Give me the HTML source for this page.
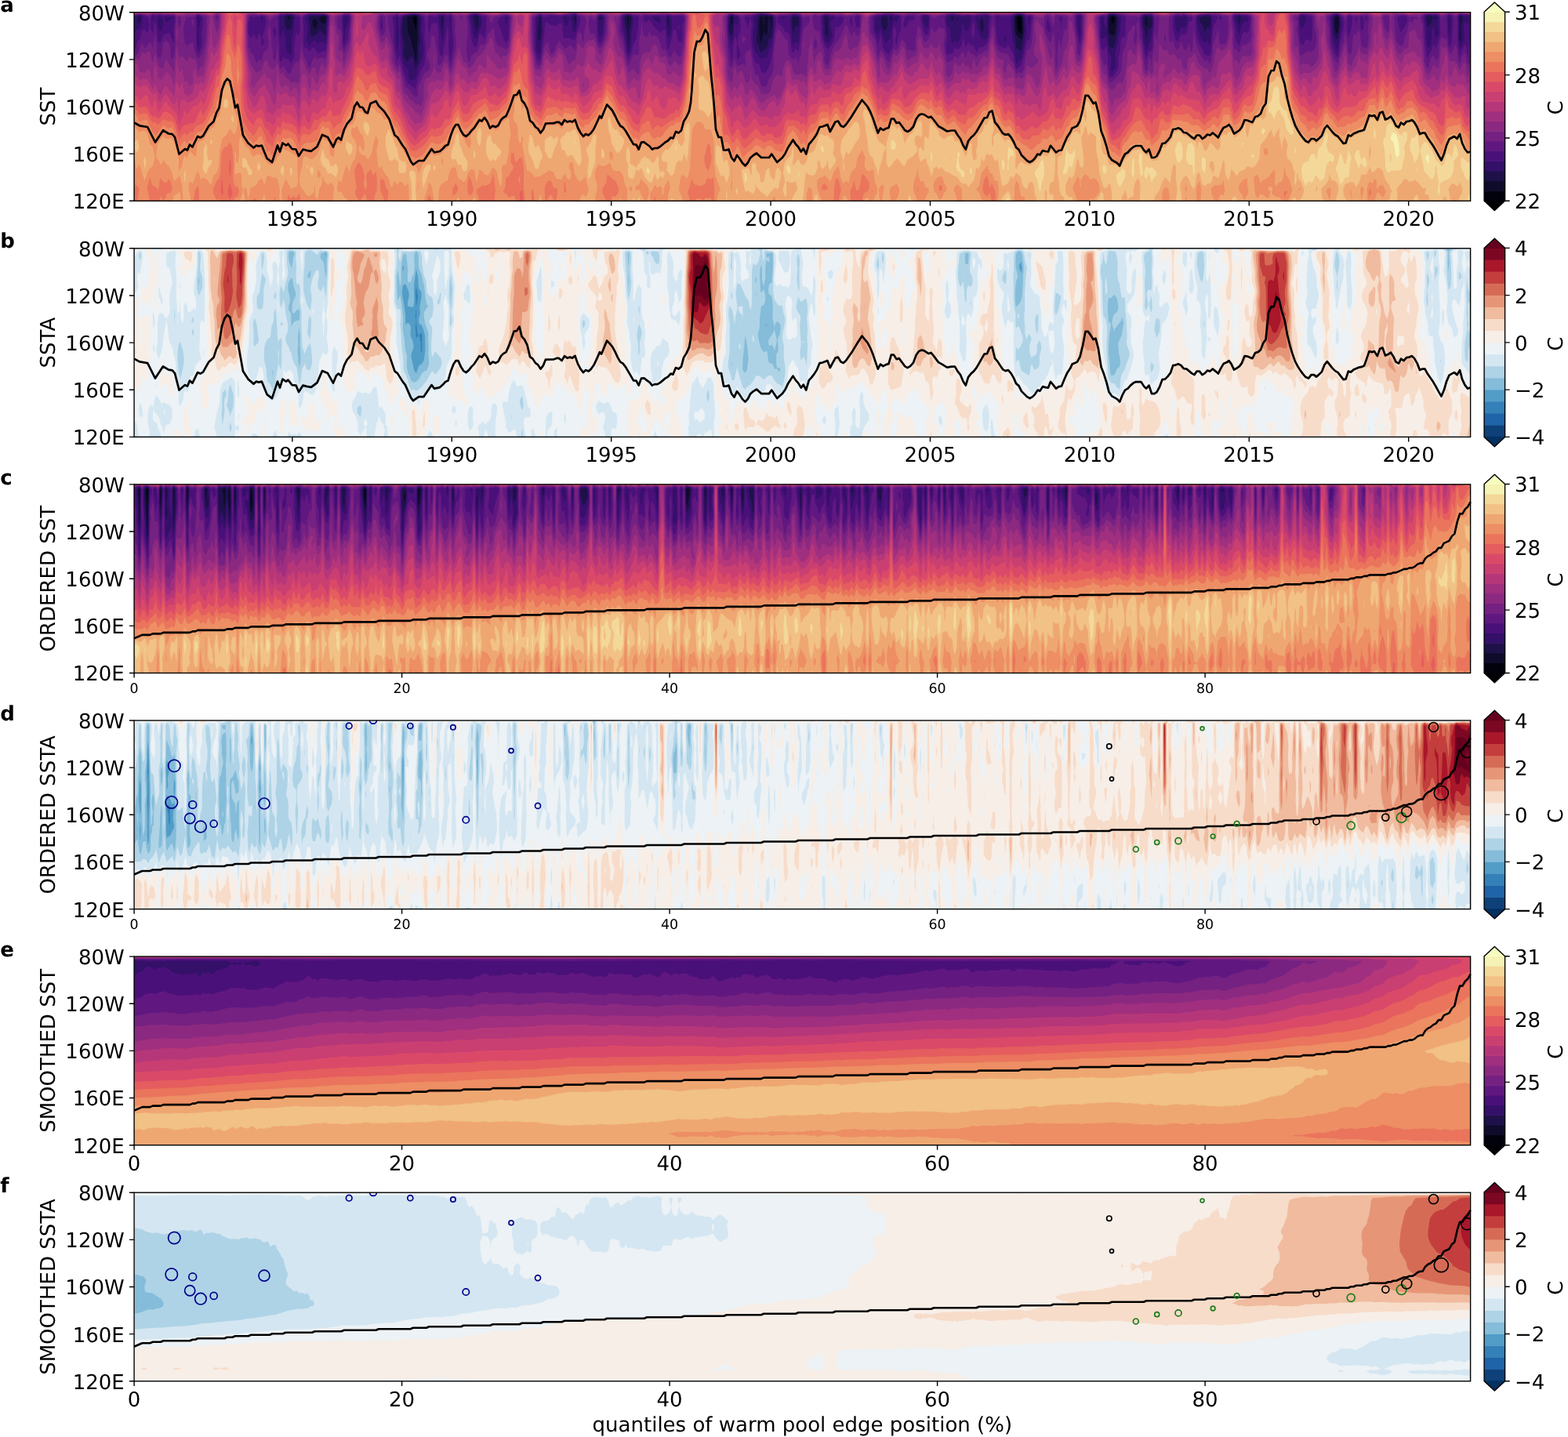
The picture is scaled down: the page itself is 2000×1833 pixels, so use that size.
<!DOCTYPE html><html><head><meta charset="utf-8"><title>Warm pool edge figure</title>
<style>html,body{margin:0;padding:0;background:#fff}svg{display:block}</style></head><body>
<svg width="2000" height="1833" viewBox="0 0 2000 1833">
<rect width="2000" height="1833" fill="#fff"/>
<rect x="171.10" y="15.70" width="1704.50" height="240.60" fill="#02020d"/>
<g transform="translate(171.10 15.70) scale(0.338867 0.300750)" fill-rule="evenodd" shape-rendering="geometricPrecision">
<path fill="#0e0b2b" d="M0 0h5030v800h-5030zM1060 18l-10 2-2 10 2 3 7 27 3 17 3-47v-10zM3330 18l-6 2-1 10 2 30 1 10 4 12 10 10 1-12 1-10-2-47-1-3zM3687 20l-7-1-1 1-1 10 2 19 7-9 3-6v-7zM4530 28l-1 12 1 8z"/>
<path fill="#1e1149" d="M0 0h5030v800h-5030zM586 20l-6-1-2 1 1 10 1 5 3-5zM680 27l-6 3-3 10 1 10 2 10 6 10 6-10 4-10 1-10-6-10zM699 20l-3 10 6 10 8 7h10l2-27-2-2-10-1zM1060 13l-10 2-10 1-12 4-1 10 2 20v20l1 10 2 10 11 30 5 30 6 20 6 41 2-11 1-10 1-30 2-40v-50l2-40v-10zM1290 19l-1 1 1 7 1-7zM1860 18l-3 2v10l3 25 3-25v-10zM2250 18l-3 2-1 10 4 28 2-28v-10zM2380 17l-8 3v30l-2 10-1-10-1-20-1-10-7-3-4 3-1 10-2 60 2 20 5 20 5-20 5-28 10 17 4-19v-30-10l5-20zM2400 19l-8 1 5 20 3 27 1-37v-10zM2820 29v1 2-2zM3330 13l-10 3-4 4v30l1 20 3 22 5 8 15 17 4-17 2-20-2-60-4-5zM3680 14l-10 4-1 2-1 40 2 27 10 10 10 1 4-28 2-20 1-20-1-10-6-5zM3810 19l-2 1-2 10 1 20 3 16 3-16v-20l-1-10zM4530 16l-9 4-2 10v10l1 34 2 6 8 8 4-28v-20l-1-20z"/>
<path fill="#341069" d="M0 0h5030v800h-5030zM20 17l-7 3v10l1 10 6 8 4-18v-10zM580 13l-14 7v10l4 32 4 8 6 7 10-5 3-12 2-20 5-20-10-6zM656 20l2 10 2 10 2 10 1 20v20l3 10 4 2 18-12 12-14 12 14 8 11 2-41 4-40-6-7-10-1-20 5-20-1-10 2zM1060 10l-20 1-26 9-4 21-3 29 1 20 2 18 4 12 2 10 1 10-2 20-1 10 1 10 2 10 3 10 10 7 4-7 6-15 6 5 4 2 7 38 3 9 9-29 2-10 1-10-2-20v-20l5-20 1-10-3-40 3-50-1-10-12-10zM1160 18l-4 2v10l4 53 3-53-1-10zM1290 12l-10 5-5 3 6 20 2 20 3 10 4 7 5-17 2-10 1-20v-10zM1530 19l-4 1-1 10-5 57v33l10-7 2-33-1-60zM1660 14l-6 6 6 42 4-42zM1750 20v11l10 2v-13zM1860 13l-15 7 11 70 4 56 3-26 1-30v-10l6-30 2-20v-10zM2010 19l-2 1-1 10 3 39 2-9 1-20-1-20zM2250 13l-10 7-1 40 1 24 10 21 2-15 3-40 2-20v-10zM2380 11l-10 3-10-4-13 10-1 10v30l-4 50v10l2 10 6 9 10 33 9-12 1-3 10-2 4-15 3-20 3-10 10 1 2-11 3-50v-30l-5-5h-10zM2480 17l-3 3-1 10 1 20 3 42 5-22 5-11 10 1 2-20-1-10-1-10-10-1zM2600 18l-2 2 2 40v31l5 9 5 7 2-7 1-10-1-70-2-1zM2820 16l-7 4-1 10 2 20 6 25 10 1 4-16 1-10 1-20-1-10zM2850 18l-5 2 1 10 3 10 1 2 3-22zM3080 17l-8 3 2 10 6 9 6-9 1-10zM3100 20h-2l-1 10 3 9 2-9-1-10zM3190 25l-4 5-2 10v10l2 20 4 17 5-7 3-10v-10l-1-20-3-10zM3210 20h-2l2 8 1-8zM3330 9l-7 1-3 1-9 9v40l9 89 10 10 10 3 11-82v-10l-2-50-9-10zM3690 10h-14l-6 2-4 8-2 60 6 64 10 9 10-9 1-4 10-60 2-20 2-30-2-10zM3810 14l-10 4-2 2-1 10 1 20 9 40 3 28 2-18 8-32 10-2 2-26v-10l-1-10-1-2-10 1zM4050 18l-20-1-10 2-10 1v16l3 4 7 12 10 32 10-22 10 5 2-37v-10zM4160 18l-6 2v10l6 24 5-24v-10zM4400 20h-2l2 3v-3zM4530 11l-10 3-7 6-1 10 2 40 2 20 4 17 5 3 5 6 7-46 2-20-1-20-1-10zM4870 15l-7 5 1 10 6 31 10-13 10-28-10-4zM4890 20l10 12 3-12-3-2zM4990 15l-2 5 1 40-1 40 2 26 3-6 3-10v-10l-2-30v-10l1-10 5-20 1-10z"/>
<path fill="#4a1079" d="M0 0h5030v800h-5030v-696l4-24 6-10 10 4 7-24 5-30-2-1-10-8-18 9-2 6zM70 17l-2 3 2 17 4-17zM90 19l-2 1 2 41 4 9 6 8 4-8 3-10 2-10v-10l-2-10-5-10zM118 40l2 2 10-5 10-8 10-6v-3l-30-1-3 1-2 10zM240 15l-4 5 2 30 1 30-1 50 2 19 3-9 2-10v-10l-3-20v-20l2-20 4-20 2-10-1-10zM460 62l-1 8 1 5 1-5zM480 18l-3 2v10l3 15 5-15-1-10zM580 9l-8 1-12 6-10-2-4 6 2 30v40l2 16 5-16 5-20 2 10 11 30-1 10-2 10v21l3 9 5 10 9 10 3 5 1-5 2-10v-60l7-32 3-38 3-20-6-6-7-4zM721 10l-11-1-15 1-5 1-20-1-10 1-15 9v10l5 13 4 17v10l-1 10-4 30v10l5 10 6 9 10-14 10-7 3 2 5 10 2 8 4-8 6-7 10 1 10 12 4-36 2-40 4-40zM800 15l-10 1-3 4-1 20 3 40 1 42 2-12 2-30 2-10 4-11 8-29 1-10zM990 17l-6 3 2 20 1 20-2 60 2 30 3 16 2-6 2-20 2-50v-10l-3-30v-30zM1060 8l-31 2-19 7-4 3-4 50v20l3 50 1 30 2 20 2 13 10 29 9 8 3 10v10l1 10 3 10 4 9 10-4 10-2 8-43 8-20 4-15 6-15 3-20 1-20-5-40-3-30v-10l2-40-1-10-14-10zM1160 11l-10 6-4 3v10l5 30 5 50 4 22 6-42 2-40 2-20v-10zM1190 18l-4 2 3 50 1 18 1-18 1-50zM1290 9l-12 1-8 5-5 5 8 40 4 30 3 21 10-2 4-19 6-19 1-1 5-10 2-10v-20l-1-10-7-4-6-6zM1400 19l-3 1-1 20 1 10 3 7 5-27 3-10zM1530 12l-10 5-4 3-2 20-1 100 1 10 1 10 5 17 10-10 6-67 1-30-1-50zM1570 19l-5 1 5 3 6-3zM1590 19l-7 1 7 4 2-4zM1620 15l-7 5 5 20 2 18 10-4 8-24 2-10zM1660 9l-6 1-4 4-10 6 3 10 4 10 2 10 1 20 2 10 8 7 6-27 1-10 1-30-6-10zM1760 14h-10l-4 6 1 50 3 32 10-3 4-29 2-20 1-30zM1860 9l-6 1-4 1-10 6-2 3 2 26 3 24 8 40 5 50 4 17 6-17 3-20 2-20v-20l1-10 5-30 1-30v-10l-8-7-6-3zM1952 20l4 10 4 6 8 4 12 8 1-18-4-10-17-2zM2010 14l-9 6v10l6 60 3 20 4-10 6-10 2-10 1-20-2-40zM2250 10h-2l-8 4-3 6-1 40 1 20 3 31 10 26 6-37 2-40 2-17 7 7 3 5 3-15 1-10-1-10-3-2h-10l-8-8zM2400 11l-20-2h-10l-10-1-9 2-11 7-8 3-1 10 4 20v10l-5 14-1 16v20l1 25 10 38 10 8 4 9 6 9 10-7 10 2 10-38 10-14 6-52 3-50v-20zM2436 20l4 10 10-6 5-4-15-1zM2480 11l-9 9-1 9-3 1 3 12 6 78 4 23 7-13 3-8 10 10 4-42 3-30 1-20v-10l-2-10-6-6-10-1zM2600 13l-9 7 3 40v30l1 10 2 10 3 12 10 11 11-13 4-10 3-10v-10l-7-30-1-20 10-8 3-12-3-2-9 2-1 7v-7l-10-7zM2870 16l-10 3-10-8-10 3-20-3-10 5h-10l-10 4-2 40v10l2 9 10 17 10-31 10 43 5 12 5 14 3-4 7-15 8-5 1-10-1-10 2-6 1-14 9-39 10 13 6-14 3-10zM2980 15l-10 1-3 4 3 24 3 6 7 19 7-9 3-10 1-30-1-1zM3080 10l-20 6-3 4v10l3 28 10 8 1 4 2 10v30l1 10 4 10 2 4 10-15 10 11 5-10 5-15 8-55 2-9 3 19 3 10 4 8 10-5 4-13 8-40-12-4h-10l-10 3-10-1-10-3h-10zM3170 17l-5 3 2 10 4 20 3 20 4 10 2 1 5 19 5 14 10-1 10-2 2-11 1-10v-30l5-40-8-7-10 3-10-1-10 3zM3250 19l-2 1 2 17 4-17zM3280 97l-5 13-2 10 7 5 1-5 1-10zM3340 9l-10-1-14 2-6 6-10 4v30l5 40v20l1 10 4 9 3 21 7 68 6-8 14-14 9-46 4-30 6-40v-10l-3-30v-20l-6-4-5-6zM3370 17l-5 3v10l3 20 2 5 4-35zM3560 14l-10 4-1 2 2 40 9 52 2-22 2-70zM3680 8l-10 1-2 1-6 10-2 49-6-9-3-10-1-10 1-20-11-1-1 1v50l1 44 10-4 10-13 4 43 6 36 3 4 5 10 1 10-3 30 1 10 3 11 10-12 2-9 2-20-1-30v-10l8-30 4-30 6-30 2-30 2-20v-10l-5-2-12-8-8-2zM3810 10h-3l-7 3-7 7-1 10 1 20 5 30 2 42 10 46 6-18 4-14 3-6 7-22 1-18 4-30 1-20-1-20-5-8-10 1-7-3zM3960 18l-10-2-10 4v1-1l-10-3-10 1-2 2v20l2 25 4 15 6 13 4-13 6-18 10 4 10-5 2-11 1-20v-10zM4010 15l-9 5v10l1 20 2 20 12 40 4 11 10 10 2-1 8-10v-2l4 12 6 9 5-59 3-60-8-8h-20l-10 2zM4160 12l-10 3-10 5 2 10 8 23 10 45 3-18 7-28 10-13 10-1 3-8 1-10-4-2-20-1zM4400 13l-10 2-3 5 3 52 1-2 9-7 6-13 4-15 2-5 2-10-4-1zM4530 9l-12 1-13 10 5 80 4 20 16 44 7-64 3-17 3-13 2-10 1-10-3-20-3-10-7-10zM4900 10l-10 3-10-2-11-1-9 6-3 4 7 60 1 40 1 10 4 21 10-11 2-10 2-20-1-20 1-10 6-26 2 6 1 10 3 30 4 13 10-23v-20l-1-20 2-30zM4950 13l-4 7-1 10 2 40 3 35 5-35 2-30-1-20zM4990 10l-6 10 2 40-1 30v20l2 20 3 22 10-17 2-5 3-10 1-10v-10l-2-30v-10l2-10 4-13 7 13 3 6 5-26 1-10-6-6-10 3-17-7zM1190 120l-1 30 1 19 2-19v-10z"/>
<path fill="#601880" d="M0 0h5030v17l-8-7h-2-10l-20-2-5 2-4 10 1 40-1 30 1 40 6 50 2 12 4-22 4-10 5-10 7-16 5 16 5 42 2-12 1-30 5-40 1-10-3-30 1-10 3-18v758h-5030v-632l4-8 3-10 4-20 4-10 5-6 2-4 5-20 3-15h10l10 15 6-20 1-10-2-30-4-10-21-7-4-3-6-1-7 1-13 6zM69 10l-7 10v40l1 10 7 21 6-41 4-16 3 16 7 75 10 4 5-19 5-14 10-3 6-3 4-3 4 3 4 10 2 10 10 24 1-14-1-38-1-2 2-20 3-30v-10l-4-6-30-1-10 3-10-4-10-1-10 6-9-7zM200 78v15l2-3zM240 10h-1l-7 10 2 30v90l2 20 4 16 10-18 3-8 2-10 1-20-3-30 5-30 1-30-1-10-16-10zM440 17l-4 3-6 26-1 24 1 20 10 23 7-13 3-10 10 29 10-29 8 10 1 10-1 20 2 13 10-13v-10l-6-10v-10l6-22 6-28 1-10-1-10-1-10-5-3-10-3-10 5-10-2-8 3-2 8-2-8zM530 64l-6 6-1 10 2 10 5 17 2-7 2-10v-10l-2-10zM550 9l-2 1-7 10 2 30-1 40 5 40v50l1 20 2 14 7-14 3-10 10 7 10 1 10 20 9-18 4-10 1-10-1-20v-10l3-40 4-23 10 14 2-11 2-20-1-50-3-3-10 1-7-8-23-2-20 2zM650 10l-10 6-4 4v10l2 40-1 50v10l3 20 10 3 10 14 10-16 10-1 3 10 7 14 10-3 10-7 10 5 3-19 5-50 5-80-3-5-4-5-6-1-10-1h-50zM800 10h-10l-8 10-1 10 1 20 3 40v30l1 10 4 19 7-19 7-20 3-30 3-14 4-46-4-8-6-2zM930 19l-1 1-1 30v10l2 16 4-6 2-10-4-30v-10zM989 10l-18 10 7 50v10l-1 30v10l3 30 3 20 7 35 10-23 10 56 10 36 6 16 4 10 10 11 10 7 4 2 6 5 4-25 6-26 10-31 10-15 2-8 2-10 3-70-4-30v-10l2-30v-10l-3-40-14-10-18-3-20 1-23 2-7 2-10 8v10-10l-9-10zM1110 17l-3 3-1 40v10l4 23 6-33 4-10 10-7 10 3 3 14 2 20 1 20v40l4 40 10 7 3-17 3-20 11-70 3-27 4 47-1 30v20l4 40 3 25 5-25 4-20 3-20v-30l-4-30v-70l-8-10-10 6-10-4-2-2-8-1-12 1-8 6-10 3-10-3zM1290 7l-10 1-13 2-9 10 7 40 2 40 2 10 7 30 4 7 10-1 4-16 2-20 4-18 10 5 10 15 2-12 3-30v-30l1-20-6-4-10-1-9-5zM1400 13l-21 7-6 10-3 10 1 10 3 10 6 15 6 25 3 10 5 10 6 9 10-19 1-50 3-40-4-5zM1667 10l-7-3-18 3-2 2-20-2-10 7h-10l-10-3h-10l-10-2-10 1-10 6h-10l-7-9-3-1-10 2-10 9-3 10-1 20 1 40v40 20l3 19 10 37 10-6 5-40 5-43 2-7 2-10 2-40 4-22 1 2 19 15 10 1 10 4 7-10 3-2 10-1 2 13 2 30 1 10 5 13 10-6 20 6 10 7 5-30 5-24 4-6 3-10 3-20-1-10-9-4zM1760 10h-11l-6 10-1 60 3 30 5 21 10-3 8-28 3-20 2-60-11-10zM1860 8l-19 2-8 10v40 10l2 10 5 11 4 19 8 60 8 30 12-30 8-38 2-2 8-18 6-42 2-30 2-9 1-11-11-5h-10l-6-5zM1920 16l-4 4 2 10 2 10 10 1 10-9 5 8 5 10 6 10 9 10 10 10 5 8 8-8 2-3 10-2 3 55 2 10 5 18 5-8 11-50 4-28 10 5 1 3 4 30 2 10 3 6 10-1 3-15 2-20-2-30 2-10 5-11 1-19-1-2-10-3-10-1-10 3-10 1-18-8h-2-2l-8 5-40-2-10 1-10 2-10-3zM2250 8l-11 2-6 10v40 20l5 60 2 13 2 7 3 30 2 10 3 5 3-15 1-40 6-48 4 8 4 10 1 10-1 50 2 21 10-11 2-10-1-10-1-10-5-10-3-10-1-10 2-20 2-10 6-20 2-10v-30-10l-3-10-10-6-10-1-3-3zM2360 6l-22 4-8 3-10 7-10-5-12 5 1 10 7 20 4 19 3-19 6-20 1-10 4 30v10l-2 30v20l3 40 5 35 10 34 10-4 3 5 3 10 4 23 10 5 10-7 10-23 4-8 6-32 5-48 5-51 7-39 1-10v-10l-2-10-6-3-7-7-23-3zM2430 15l-7 5-1 10 1 10 4 10 11 10 7 10 5 13 10 2 3 5 4 10 2 10 4 40 2 10 3 10 2 3 10-21 10 14 4-16 4-40 6-50 1-20-1-10-2-10-10-10-2-1h-20l-5 1-5 4h-30zM2560 19l-1 1 1 8 3-8zM2669 20l-9-2-20 1-10-7-10 2-7-4-13-1-3 1-13 10 4 70 3 20 5 20 4 13 5 7 5 10 20-31 3-9 2-10 3-30 2-16 10-1 10-8 8-15 3-10zM2700 20h-2l-4 10v10l6 22 3-12 1-10v-10l-3-10zM2720 15l-7 5 1 20 2 10 4 14h10l2-44-2-4zM2800 10l-21 10 2 20v30l2 10 3 10 8 20 3 10 2 10 1 24 2-24 8-32 4 22 2 20 2 10 12 21 10 9 4-10 6-11 5-19 2-10v-10l-1-30v-10l1-10 3-12 7 12 2 10v10l-4 30 1 10 4 9 2-9 2-10 1-20 3-10 2-2 4-8 2-10 1-10v-40l-7-6-9-4h-5l-6 1-2-1-8-2-30 1-10 2zM2940 20l-10-4-20-2-8 6-2 11-3 9-2 10 1 10 4 7 6-7 4-2 2-8 4-10 4-6 10 2 5-6zM2970 10l-9 10v10l3 20 6 28 5 12 5 10 10-11 2-9 3-20 1-40-6-7-10-3zM3040 20h-1l1 10 2-10zM3051 20v20l8 50 1 10-4 40 1 20 3 23 10-9 10 1 10-24 10 8 10-10 4-9 3-10 3-23 2 3 2 10 1 10 5 20 8-20 2-10v-10 10l2 10 8 11 4-1 6-3 3 13 3 10 4 9 6-9 4-13 10 2 20-14 8-35 3-40 6-40-13-10-4-1-20 1-10 2h-10l-10 5-20-6h-10l-10 3-10-2-8-2h-12l-10-2-20 2zM3250 13l-10 6-2 1 2 10 5 50 2 30 1 10 2 13 10 9 10 8 10 2 2-2 7-10 1-4 10 24 10 16 4 34 6 32 14-12 6-6 6-24 9-50 5-30 10-3 2-17 5-50 4-30-11-7-10 4-10-7-10-3h-10l-10 1-10 2-10 4-10 2-20 1-10-1zM3440 23l-3 7-3 20v10l2 10 4 13 9-3 1-2v-8l-1-10-6-20zM3470 65v5 2-2zM3479 20l5 10 3 10 3 28 3-38-1-10-2-1zM3560 9l-11 1-5 10 1 40 4 30 5 30 6 22 7-42 1-50 2-30-7-10zM3680 7h-10l-6 3-4 7-10-2h-10l-7 5 2 80 5 52 7 8 3 6 5-16 5-7 4 37 2 40 3 40 1 6 3 4 7 5 10-11 3-4 5-10 6-20 2-20v-20l1-10 3-8 2-12 2-40 3-10 3-5h10l2-25-1-30 2-20v-10l-3-3-21-7-19-3zM3830 9l-20-1-13 2-10 10-1 10 1 20 5 30 3 40 7 50 8 34 2-14 3-10 5-14 10-2 4-24 1-40 4-50v-20l-1-10-5-10zM3980 18l-10 1-10-7-10-2-10 4-10-3-10 1-9 8-3 30 1 10 1 3 4 27 6 27 10 7 10-30 10 2 10-2 6-24 4-31 10-1 2-8 1-10zM4010 10l-10 5-5 5 1 50 2 20 2 12 7 28 3 8 10 16 10 26 10 2 10 3 3-15 3-40 4-48 3-22 3-10 4-5 10-25-10-7-10 2-5-5-5-1zM4081 20l6 10 3 9 2-9 1-10-3-2zM4190 12l-10-1h-10l-3-1-7-1-14 1-6 3-4 7 2 20 2 15 4 15 1 10v30l2 10 3 7 10 13 5-20 5-26 10-12 10 7 5-9 5-27 3-33-3-3zM4400 9l-11 1-6 10 2 70 3 30 2 14 10 4 10-22 10 1 10 6 4-23 1-30-1-50-4-4-10-2-11-4zM4530 7l-10 1-11 2-11 10 3 20 2 20 3 60 4 25 10 32 2 3 8 11 6-31 4-35 12-55 1-10 1-10-3-20-3-10-8-6-3-4zM4570 15l-3 5-2 40 1 20 4 28 12-38 2-10 2-40-6-3zM4600 19l-4 1v10l4 19 2-9 1-10v-10zM4620 17l-5 3v10l1 30 4 19 7-9 1-10 1-30-2-10zM4640 17l-7 3-1 10 8 7 3-17zM4710 20v11l2-1v-10zM4780 15h-10l-17 5 5 20 4 30 4 10 4 4 1-4 6-10 7-10 4-10 3-10 1-10v-10l-2-2zM4909 10l-9-1h-10l-20-1-11 2-8 10 5 40 2 60 2 22 5 38 5 19 1-9 3-10 10-20 3-10 3-17 10 23 7-26 3-8 3-12 3-20v-10l-1-30v-30l-5-9zM4950 9l-3 1-6 10v10l2 60 4 40 3 19 6-9 4-10 1-10 1-30 2-30 1-30-1-10-9-10zM1570 130v13l1-3zM3160 37l3 13 1 10-1 30-3 23-6-13-2-10v-10l2-20 2-10zM2050 57l3 3-1 10-2 2-4-2 1-10zM3290 68l1 12-1 7-1-7v-10z"/>
<path fill="#752181" d="M0 0h5030v10l-10-2h-10l-20-2-8 4-2 4-10 4-7-8-13-3-8 3-2 3-10 2-8 5-1 10v20l-1 4-1-34-5-10-4-2-10-1-10 1-20-1-10 1-8 2-10 10 1 10 7 23 1 47 4 50 2 40 1 20 2 10 10 19 4-9 6-34 10-14 10 21 4-3 6-8 3-52 7-37 8 7 2 3h10l4 27 6 33 10-1 2-2 3-10 5-22 8 12 2 4 2 36 1 10 7 20 6-20 4-19 2-1 8-9 2 19 8 35 10-14v589h-5030v-613l8-7 8-10 9-30 5-11 10 24 10-13 7-10 3-7 7 17 3 15 6-45 4-16 3 26 4 50 3 23h10l5-23 3-30 2-12 10-9 10 10 6 21 1 10v20l1 10 2 9 10-8 5-61-1-50 4-50v-10l-6-10-2-1-40 1-20-2-10 1-10-1-7 2-3 5-10-1-12-4-18-2-16 2-4 2zM170 18l-4 2-2 10v10l2 10 4 15 3-5 3-10 1-10-1-10-2-10zM240 8l-6 2-4 6-10 4-10-1h-10l-3 1-4 10-5 20-1 10-1 20 1 20 4 30 6 10 3 2 1-2 16-10 3-6 7 36 3 7 3 13 7 18 13-18 5-10 4-10 5-20 3-24 2-36v-40l2-20-4-3-10-2-8-5zM310 13l-6 7 6 20 6-10 4-10zM484 10h-7l-7 3-10-2-10 1-10-2-10 6-2 4-2 50 4 76 7 14 3 14 10 5 2 11 8 22 4-2 6-12 1 2 9 9 5-29 4-10 11-13 4-7 3-10v-10l-4-30v-10l1-10 4-20 2-10v-10l-2-10-4-10-4-2-10-6zM550 8l-7 2-3 4-10 3-7 3-3 6-4 4-5 10-1 10 5 40 3 50 4 30v20l2 10 6 6 2-6 2-10 3-40 3-20 3 70 7 39 10-12 4 3 6 10 10 20 10-5 7-25 3-6 10-14 10-1 6-39 3-30 1-50-1-70-9-10h-10l-10-2-20-2-20 2zM730 10l-10-2-10-1h-50l-20 3-10 10 1 30-1 40 1 50 2 20 2 10 5 20 6 10 6 20 8 18 10-30 10-21 10 14 10-7 10-3 8 9 2 3 7-53 4-50 2-40 3-40zM810 9l-10-1h-10l-5 2-5 7-10-1-6 4-1 10 1 20 2 10 4 12 10 7 1 21v30l3 20 6 23 10-26 8-17 2-6 2-14 1-40 4-50-4-10zM930 11l-7 9-2 30 2 20 7 31 10-6 5-15 1-10-1-40 1-10-6-5zM1196 10l-6-2-10 1-20-2-30 3h-20l-10 8-10-8-30-4h-20l-36 4-4 3-2-3-8-2-16 2-4 2-10 1-7 7 6 50 14 70 5 50 3 20 2 10 7 15 3-5 7-12 10 51 6 21 4 26 5 4 5 2 7 8 6 10 9 10 8 12 3-2 4-10 3-41 10-20 6-19 4-10 10-8 3-2 7-5 1-5 2-10v-10l-3-10-4-10-3-10-1-10 2-10 4-10 6-10 2-10 2-30 2-13 10 2 2 11 3 30 5 22 2 18v30l1 10 7 7 4-7 6-10 5-10 4-10 1-8h10l3 28 7 31 5-11 2-10 6-30 7-30 2-20v-20l-1-10-3-20-1-10 2-30-1-20-2-10-6-5zM1230 18l-3 2 3 14 5-14zM1259 10l-8 10 4 30 1 20-2 40-3 40v10l2 20 3 20 4 12 6-12 4-17 2-3 18-12 5-8 3-10 2-8 10-7 10 3 3-8 3-10 4-22 4-8 7-10 7-10 2-6 6 16 4 40 10 22 10 3 20 13 10-16 4-42 2-40 3-40-9-10-10-1-8 1-35 10-5 10-2 9-10 3-2-12-1-10-17-10h-10l-20-4h-10zM1698 20l-8-5-10-2-6-3-4-1-10-3h-10l-10 2-20 1-8 1-2 1-10 1-6-2-34-1-8 1-2 1-10 1-1-2-9-3-10 2-6 1-4 4-10 5-1 1-1 40 2 40 1 50 2 10 6 30 3 20 3 10 5 7 10-5 3-12 7-50 6-20 4-9h10l4 29 3 10 3 6 10-8 10-28 6-10 4-11 11 21 9 13 10-3 10-10 10 6 10 16 10-73 10-1 2 2 3 10 2 20 3 7 2-7 1-10v-20l1-10 6-29 1-1 3-10-4-6zM1760 8h-10l-5 2-5 9-3 1-4 10-3 6-6-16-4-2-4 2-4 10-1 10v10l2 20 2 10 3 10 2 3 10-5 5 12 5 14 3 16 7 20 10-3 13-37 5-20 1-10v-40l2-20-11-10zM1827 20l-3 40 1 20 5 19 10 29 10 63 10 35 3-6 7-18 6-12 4-12 5 2 5 4 10-8 1-16-1-20 1-20 6-40 3-35 2 25 2 10 2 10 4 10 10 5 7-15 3-13 3 13 5 10 2 2 10-5 10 5 7 18 6 20 1 10 6 10 10-3 10 27 6 6 4 5 10-33 6 8 4 4 4 6 6 11 10-11 4-30 6-24 3-76 2-30-5-8-6-2h-14l-20 1-4-1-16-2-10 1h-10l-50 1-20-1-3 1-7 8-9-8h-21l-20-3-20 2-5 1-5 7zM2235 10l-5 10-1 10v30l3 40v40l6 70 2 19 10 8 9-37 1-8 4 18 6 18 10-4 7-4 3-3 5 3 5 10 3-10-1-10-3-20 1-13 3-7 7-7 10-4 5 41 3 20 7 30 2 10 3 7 10-3 5 26 5 19 10 9 10-4 7-24 4-10 5-10 4-5 2-5 5-20v-10-30-20l8-80 5-27 10 4 13 23 7 11 9 9 2 10 2 40 2 10 5 11 10 11 2-2 7-10 1-3 6 13 3 10 1 18 1-18 1-10 8-20 2-10v-30l1-20 7-49 10-12 10-10 3-19v-10l-3-2-10-1-6 3-4 8-2-8-9-10-9-2-20-1-10 2-41 1-9 6-10-4-2-2-8-2-40-3-36 5-4 2-7-2h-6l-7 2-10 6-10-4-8-4-12-1-10-2-10 1zM2730 10h-13l-7 4h-10l-20 4-10-4-10-2-10-1-10 1-3-2-7-1h-10l-10-1h-10l-12 2-8 7-10-2-10-4-7 9v10l3 20 4 24 8 6 2 2 6-2 4-2 2 32 2 10 2 10 4 7 6 23 2 10 1 10-1 20 2 13 4 7 6 6 4-6 2-10 5-30 6-20 10-20 3-10 10-7 4-13 6-12 15-38 5-10 5 10 4 10 6 20 5 14 5-14 5-10 10 20 10-4 3-26 4-50zM2770 20l-1 20 1 40 4 10 6 8 10 27 3 15 2 30 5 24 10-33 13 19 7 17 10 18 20-60 10 9 7-14 6-20 4-10 3-6 10 11 3 5 3 10 4 23 7-3 3-3 1 3 9 6 10-6 1-40 9-64 2 4 8 11 10 46 10 8 10-8 5-17 3-20 2-19 5 9 4 10 1 7 7-7 3-1 4-9 6-8 10 6 10 1 2 21v10l-2 16-3 14v10l3 18 5 32 5 24 20-11 10-19 10 13 20-33 6 16 4 13 6-23 4-9 7 9 3 6 10 2 10 14 10-13 10-6 10-10 10 1 7-34 5-20 2-10 2-30 4-18 6 18 2 10 1 10 1 30 2 10 2 10 6 19 10 11 10 2 10 4 10 1 10 26 10 12 5 25 5 20 10-6 10 5 5-9 3-10 2-8 10-71 10-3 8-28 3-20 2-60 5-30-8-7-6-3h-11l-3 1-2-1-18-4-10-1-40 6h-20l-20-2-7 1-3 2-10 3-7-5-13-2-40 1-8 1-2 1-5-1-15-1-20 1-30-2-10-1-20 1-7 2-3 4-10-1-10 2-10 4-4 1-6 7-3-7-7-2-7-8-3-1h-20l-7 1-3 3-10 3-7-6-3-1h-30l-4 1-6 4-10 1-6-5-14-2h-10l-10-1-50 2-11 1zM3440 13l-10 3-3 4-2 20v20l5 27 10 29 3 4 7 10 8-40 2-13 4 33 4 40 1 20-1 40 2 30 5-20v-10l-1-30 4-40 1-20 1-11 3 11 4 20 3 12 2-22 5-30 3-23 10-4 4-53-4-4-10 1-10-4h-20l-5 7-1 20-4 23-9-43zM3550 7l-7 3-6 10v10l2 20 9 80 2 42 4 8 6 6 4-36 7-40 1-20v-40l2-30-5-10-9-3zM3640 10l-13 10v10l4 70 9 93 3 7 7 26 8-6 2-3 6 53 4 25 10 3 22-28 13-20 2-10 1-40 2-19 4-21 6-8 3-12 4-20 3-28 6-12 4-4 10-24 7 8 1 10-5 30-1 10v10l2 10 6 7 3-17 3-20-1-10-2-20-1-10 2-10 6-16 4 66 2 10 4 12 4 28 6 54 6 36 4 11 4-11 1-10 3-30 2-11 1 1 5 10 4 30 2-40 5-30 2-20v-30l1-24 2 4 3 10 5 33 3-43 4-50 3-20-10-4h-10l-3-6-7-3h-20l-10 1-9 2-11 10-10-3h-10l-10-2-10 1-8-6-22-2-20-2h-20l-10 4zM3880 93l-2 7-1 10 1 10 2 5 2-5 1-10v-10zM3896 20l-1 10-1 70 1 10 5 21 10-12 5 21 3 10 2 3 10 7 10-35 3 5 7 25 7 5 3 5 10-35 6 30 4 9 2-9 3-20 1-40 1-10 3-16 4 46 2 10 6 20 12 30 11 20 5 6 10-1 4 5 6 14 8-44 2-10v-30l3-10 10-30 7-28 2 18 2 30 3 10 3 7 10-3 10-3 5-21 3-30 1-20-1-40-8-4-10 1-10-6-20-2h-10l-10-2-40 2-10 1-10 9-10-7-10 1-4-3-6-1-10-1-10 1-10-1-10 1-6 1-4 4-10 3zM4198 10l-8-1h-20l-10-1-20 1-3 1-6 10 1 20 5 40v40l3 31 10 7 10 15 10-34 10 2 20-16 4-15 1-10 1-10-1-30 2-40-7-9zM4433 10l-33-3-10 1-5 2-5 9h-10l-1 1 1 10 10 10-4 30v10l2 10 2 6 10 87 10-5 10-9 10-6 10 6 10-10 10-22 1-17-1-20-4-20-3-20-1-40-2-3zM4642 10h-6l-6 3-10-3-10 7-10-3-10 2-10-5-11-1-7 10-2 21-4-21-14-10-12-4h-10l-19 4-11 8-1 2 1 10 4 20 3 20 1 10-1 30 4 30 9 37 10 30 10 8 15-65 7-20 4-30 4-23 10 94 10 7 4-18 3-50 3-18 10 4 1-6 5-10 4-6 4 16 2 10 2 30 2 12 10 8 10 2 3-12 3-20 1-20-2-20v-20l6-40zM4710 13l-10 6-1 1 1 6 10 48 5 6 5 4 3-14 1-10v-40l-4-6zM4830 20l-20-2-10 1-10-6-9-3h-11l-20 1-7 9 2 30 4 60 1 8 10 20 10 5 8-13 2-10 3-20 7-12 10-51 10 8 10-19 10 6 1-2zM170 127v16l2-3zM2560 112l-2 18 2 29 8-9 2-5 1-5-1-14-2-6zM4600 129v1zM220 26l4 14 1 10-5 9-3-9-1-10zM2290 101l10 5 3 4-4 10-9 11-2-11v-10z"/>
<path fill="#8b2981" d="M0 0h5030v8l-10-1h-10l-20-2-10 4-10 1-10-4-10-2-10 4-15 2-5 3-1-3-9-3-10-1h-40l-17 4-3 3-10-1-10-2-10 1-10 2-5-3-15-2h-30l-10 2-9 10 1 20-1 20 1 10 5 20 6 30 4 20 3 17 7 13 3 4 10 4 2-8 5-10 3-4 10-1 4-5 3-10 1-40 2-17 6-3 4-1 10-7 4 8 3 10 3 19 10 7 5 14 2 10 2 30 6 50 5 24 10 21 10-15 4-10 6-18 6 8 14 8 5-38 5-61 6 11 4 3 10-6 8 43 2 13 10 5 10-1 10 11 10 30 7-18 3-10 10-7 3 17 4 30 3 13 5-23 5-12v562h-5030v-597l10-9 10 6 10-33 2 3 8 6 10-8 10-2 6 34 4 12 5-22 5-19 10 52 10 15 10-4 9-34 1-3 20 39 4 4 5 10 1 7 2-27 8-96 2 16 8 48 5-8 5-4 5 4 15 18 10-22 2 4 8 10 10-3 4 13 6 40 6-10 4-8 10-1 4-31 6-26 4-34 3-30 4-70 3-20-4-3-10-6-4-1-26-3-10 3-10 1-21-1-19 8-10-6-10 5-4-7-6-2h-40l-10-2h-10l-10 1-10-1-10 3h-10l-30-3-20 3zM310 8l-6 2-8 10 12 60 2 7 3-7 7-13 4-47-3-10-1-1zM429 10l-4 10-2 50 3 80 4 37 10 37 5 6 11 20 4 6 20-11 5-15 5-22 10-2 8 24 2 4 10 6 10 1 3-11 7-16 7 36 3 14 10-9 6 15 4 6 10 8 6 6 4 11 10-6 10 2 10 6 3-23 2-20-1-30v-10l1-10 5-23 14 43 4 10 12 23 10-26 10-5 10 37 10-37 8-12 2-2 5 12 5 8 5-28 7-60 4-90 3-40-5-10-14-3-10-1-50-1-28 5-2 2-2-2-8-2h-10l-30-3-30 1-10 3-10 1-10 5-10 2-10-4-5-3-15-2-10 1-30-1zM810 6h-10l-10 1-9 3-1 1-10-1-10 6-5 4-1 10 1 10 5 41 3 9 7 9 1 11-2 40v10l1 8 10-7 4 19 3 30 3 10 6-20 4-23 10-22 5-35 3-60 3-40-4-10zM917 20l-2 20-1 10 1 10 3 20 12 50 10-6 10-23 14 39 3 10 1 10 1 10-1 20 1 10 2 10 9 28 10 17 7-5 3-3 8 43 4 30 2 10 6 16 6 4 4 4 3 6 7 13 10 4 10 16 10-5 10 13 9-31 1-10v-40l1-20 2-10 5-10 2-2 10-2 4-6 9-20 5-20 1-10-2-30v-10l3-7 2 17-1 30v10l3 10 4 10 2 3 10 5 6-8 4-12 2-8 8-19 10 11 10 44 2-6 8-20 3-10 5-30 9-30 3-24 11 34 5 20 4 11 10 2 10 26 18-19 2-4 6-16 4-9 10-8 5-3 5-5 1-5 7-10 2-1 5-9 15-42 4 2 6 6 7 44 3 10 10 10 7 10 3 10 4-10 6-7 10 6 3-9 7-16 4-24 4-40 2-40 4-40-8-10-6-1-10-1h-10l-15 2-15 4-10 2-10-2-9-4-21-2-20-4h-10l-10 2-18 4-2 2-10 2-7-4h-6l-7 5-10-1-6-4-14-4-10 1-20-2-30 3h-20l-10 2-10-2-30-3h-20l-20 2-20 2-10-3-20 3h-10l-7 1-3 3-4-3-16-2-8 2zM1495 20l-1 60 4 80 6 30 3 30 3 17 10 7 10-2 4-12 2-10 4-34 10-25 20 35 10-7 5-9 8-20 7-11 10 11 6 10 8 20 3 10 3 8 10 15 10-19 10-1 1-3 4-20 5-50 15 20 5 4 10-24 10-10 10-1 10-4 6 15 14 48 10-5 3-13 18-50 4-20v-50l3-20-7-10-21-3h-10l-9 3-1 2-10 4-10-4-10 3h-10l-7-5-23-2-10-4h-10l-20 3-30 2-30-2-30 1-10-2-10 1-17 3-3 1zM1805 20l5 18 4 12 5 50 5 20 3 20 3 10 10 15 8 45 8 30 4 19 10-11 10-7 10 16 3 3 7 4 2-14 2-40 6-27 10-11 10-2 10-1 5-9 5-14 10-13 5 7 5 10 4 20 2 10 4 10h10l10-8 10 37 10 11 6-10 4-12 10 1 6 11 4 6 10-6 6-40 4-20 2-30 7-110-6-10-3-1-10-1-30 1-20-2-10 1-10-1-20 1h-30l-20-1-10 2-10-1h-20l-20-3-20 2-10 3-10 9-10-2zM2219 20l1 20 4 50v20l-3 20 1 10 6 40 3 20 1 20 1 30 1 10 3 20 3 8 10 10 3-8 1-10 2-30 4-24 7 24 3 20 2-10 7-10 1-1 10 1 3 10 7 31 10 10 6-11 3-10-1-30 2-10 1 10 1 30 18 26 10 6 10 33 10 3 10-1 10-5 2-2 4-10 4-22 2-8 8-21 7-9 3-7 10 7 10-1 3-29 5-20 4-10 8-9 14 19 3 10 3 20 5 10 5 3 10 1 10-3 10 2 10 12 3-25 2-30 3-30 1-30 8-30 3-46 1 16v30l5 70 4 18 3-18 3-10 4-8 10-15 4 3 6 10 1 20 1 10 5 20 3 9 10 5 6-4 4-5 9-45 8-20 3-7 10 1 4-4 8-10 3-10 4-20 7-20 4-16 5 36 3 30 2 7 10 4 9-11 1-3 10 3 3-10 7-11 5-39 5-56 3-14-7-10-6-2h-10l-10 1-17 1-13 3-6-3-14-2-20 1-10-1-30-1-20 3-20-2-6 2-4 5-10-4-9-1-11 4-4-4-16-4-20-1-10 2-40 1-10 2-10-1-30-4-20-2-40 6-10-1-20 2-30-2-10-2-10 1-9 3-1 2zM2765 20l-3 20v10l2 30 2 20 4 17 3 3 4 10 3 12 10 34 2 14 8 32 10-38 10 13 7 23 3 8 10 15 7-13 3-8 6-32 4-14 10 9 4-5 7-10 4-10 5-20 7 10 3 6 4 24 6 25 10-6 7-9 3-2h10l6-8 3-10 1-10-1-30 1-13 5-7 5-5 7 35 3 8 10 6 10-2 7-12 3-9 3 9 7 13 10-1 2-2 5-10 1-10 2-26 2 36 1 10 2 10 9 20 6 21 4 19 1 10 1 30 4 13h10l8-13 2-6 4-24 3-10 3-7 10 14 10 1 4-8 6-12 4 12 6 10 10-7 2 7 8 14 2-4 4-30 4-8 4 8 6 22 3-2 7-8 2-12 5-10 13-16 6 6 4 5 5-15 2-10 4-30 7-30 2-20 4 30 5 30 11 42 10 7 5 1 5 3 2 7 1 10-2 20 3 10 6 11 2-11 3-20 2-10 3-6 9 16 11 13 4 17 6 25 3-5 7-6 10 10 10-12 5-22 5-27 10 8 10 4 10-9 7-6 6-10v-10l-13-14-2-16v-10-10l7-30-1-20-4-30v-23l5-7 5-6 10 20 10 12 7 44 8 30 5 28 4 12 2 10 4 9 7-9-1-20 1-10 3-16 1 16v30l5 60 2 10 2 8 21-48 3-10 6-42 3-8 7-11 7-29 1-10v-50l2-26 10 7 3 29 2 10 5 14 3 46 1 40 2 10 2 10 2 5 10 3 5-18 3-40 5-30 1-10 5-90-3-10-6-2-10-3h-10l-14 5-6 9-10-1-10-8-10 1-10-2h-20l-4 1-6 10v3l-1-3-9-10-10-2-11 2-9 10-20-1-10-5-5-4-15-2-10 1-20-4-10-1-10 1-10 2-20 2h-20l-20-1-20 1-20-3h-20l-30 3-20-1h-20l-30-1-10-2-20 2-10 2-22 1-8 3h-10l-20-5-20-1-10 1h-10l-10-2-30 1-10 2h-10l-20-2h-10l-10-2h-10l-30 2h-10l-22 3-8 5zM3620 20l-1 10 1 15 4 25 6 53 10 108 10 35 10-5 3 29 7 31 8 9 2 5 3-5 9-10 8-19 10-3 10 3 4-11 6-26 3-24 5-30 1-10v-20l1-11 10-14 10 19 10 8 5-32 5-23 5 13 5 21 6 49 2 30 2 10 4 10 6 8 5-8 5-14 10 19 2-5 3-10 1-10 4-53 2 13 3 10 5 8 3-8 3-10 1-10v-30l3-29 3 9 7 16 10 7 10-2 1 9 6 10 3 3 10-7 10 7 4 7 4 10 2 7 6-7 4-6 2 6 2 20 2 10 4 8 10 9 2-7 3-30 2-10 3-8 11-2 6-10 3-9 5 9 4 10 5 20 6 10 10 11 10 9 10-1 4 11 6 11 7-21 5-20 10-60 5-10 3-3 10 14h10l10-10 5-11 5-18 2-2 3-10 2-30 3-16 2 26v40l4 50 4 26 10-3 10 18 6-21 4-15 10 1 10-1 10 2 5-7 3-10 1-10-1-20 1-10 4-30-2-40 2-40-8-10-5-1-10-2h-20l-10-1h-10l-10 1-8 3-2 4h-10l-10-4-10 1-10-3-20-2-10 1-10-1-40 1-18 3-2 2-3-2-7-1h-10l-20-2h-10l-10-1-10 1-10 2-9 1-11 7-20 1-10-6-6-2h-14l-10-5-30 1-20 4-40-1-10-2-50-3h-10l-10 4-20 1-7 1zM4370 10l-10 7-2 3 6 30 1 10 1 70 1 10 3 9 10-4 6 55 4 27 7-7 3-4 10 4 10-3 6 13 4 3 10-9 10-13 5-11 2-10 1-10v-30l1-60v-10l-2-10-6-20-3-30-5-10-3-1-10-2-30-1-10 1-9 3-1 1zM4650 10l-10-3-10 2-10-1-10 2h-10-10l-20-2-6 2-4 6-10-6-20-6h-10l-31 6-5 10 3 40 1 40 2 20 6 30 8 30 6 31 6 19 4 22 3-2 7-3 10-43 4-14 6-25 5-15 5-22 10 91 10 8 4-7 3-10 3-12 3-8 7-7 4-13 6-26 4 16 6 14 10 2 10 4 10-34 3-6 2-10 1-50 2-10 3-10 1-10v-30zM4720 9h-10l-9 1-7 10 2 20 9 50 5 25 10-3 6-22 3-20v-50l-5-10zM530 256l-2 14 2 12 1-12zM160 63l3 17 1 10-4 34-2-34zM2520 116l3 14v10l-1 10-2 4-1-14z"/>
<path fill="#a02f7f" d="M0 0h5030v7l-10-2h-10l-20-2-10 3-10 1-10-3-10-2-10 3-20 3-10-3-10-1-40 1-20 3h-20l-20 1-20-2-30-2-10 1-10 4-10-3h-10l-10 1-5 2-5 8-10 1h-10l-11-9-19-5-20 1-10 2h-20l-20-1-10 3-10-2-20-6h-10l-20 5h-10l-7 3-3 8-10-3-7 5-3 18-3-18-8-10-9-4-40-2-10 1-10 3h-10l-10 1-4 1-6 10 6 30 3 20v20l-2 40 1 20 2 15 6 15 4 11 5 9 5 16 3 24 7 27 10-9 10-2 10 1 10-1 10-10 10-6 12-20 3-10 2-10 2-20v-10l-2-30v-20l3-20 5-10 2-10v-30l1-10 2-6 1 16v40l2 20 5 40 2 10 9 30 11 75 2 5 8 15 10-10 10-36 10-25 10-40 6 56 4 19 10 5 10-18 8-6 2-2 3-8 3-20 4-17 10 24h10l10 12 10-43 10-16 4-10 2-10-1-30 1-10 2-10 2-6 7 6 1 10-1 30 3 6 2-6v-10l-1-30 2-20 2-20 3-10 2-3 5 33 2 30 13 54 10 5 4-29 6-21 10 31 7 40 3 10 10 11 5 9 5 10 4-10 3-10 3-15 3-5 7-4 10-4 10-7 10 3 10 20 10 1 6 21 4 12 8 48 2 10 10 8 10-7 10-15 4 4 6 15 10 6 10-51 7-20 3-5 3-25 2-10 5-8 4 28 3 60 3 16 10-5 3-21 3-10 4-7 5 7 5 10 3 10 7 13 10-17 4 4 6 14 4 16 6 18 4-8 6-17v517h-5030v-572l5-8 5-6 3 6 3 10 4 23h10l10 5 6-8 4-12 2 2 8 11 3 19 7 24 2-14 2-40 6-32 7 42 3 26 3 4 7 7 5-7 5-5 10-24 10 8 10 20 6 21 4 12 6-42 4-82 4 42 6 28 10-17 10 54 10-2 1 7 6 10 3 2 10-7 2-15-1-30 2-10 7-7 4 17 6 17 10-10 10 4 15-71 5-55 4-15 2-20 3-60 1-15 2 25 1 50 3 30 4 16 10-18 6-18 4-9 5-51 2-40-2-10-5-4h-10l-14 4-6 8-9-8-41-4-10 2-30-1-10 1-10 2-10-1-10 1-10-4-20 1-20-1-10-2-20 1-10-1-10 3-10 1-30-3-20 3zM425 10l-3 10-1 50 1 70 1 20 7 63 9 27 2 10 1 10-3 30 1 10 10 11 10-23 10-10 4-8 15-20 1-3 7 13 3 11 10-3 10 23 2 9 3 20 3 10 2 5 2-25 4-30 4-45 3 25 7 46 10 3 6-9 4-3 10 6 6 17 4 8 10-16 10-3 5 11 3 30 2 10 3-40 7-59 10-11 7 10 3 6 5 34 5 19 5-19 2-10 1-20 2-14 8 24 6 10 6 7 10-36 10-9 10 1 9-33 3-20 8-160 10 10 2 20 1 30 3 30 1 40 3 13 10 16 10 6 3 15 4 10 3 7 10-28 10-24 5-25 5-50 2-60 4-40-4-10-12-6h-10l-10 1-10 3h-10l-12 2-8 6-10-3-1-3-9-3-20-2-30-2-20 1-30 4-10-2-10 1-30-4-30 2-10 2-30 4-20-3-10-1-10 1-30-3-10 2zM914 10l-3 10-4 20-1 10 1 10 6 30 7 26 5 24 5 21 10-7 10-24 9 30 1 10-1 20 1 10 2 10 3 10 8 20 14 30 3 14 7-4 3-1 3 31 3 20 4 17 10 29 20 22 10 10 10 18h10l7 14 3 3 15-53 9-30 2-10-2-30 1-10 5-8 10-10 10 4 5-6 5-5 10 5h10l4-10 2-10 4-32 10 7 5 25 3 40 2 11 4-11 3-10 2-30 10-30 6-30 5-16 6 16 5 10 9 13 10 5 3 12 5 20 2 6 10-14 10-8 10-3 2-11 2-10 6-10 10 8 10 12 6-10 1-10v-30l3-13 10 22 20 24 3 7 7 9 10 3 10-8 10 7 3-11 3-30 4-14 5-26 10-80 3-60-6-10-12-3h-10-10l-20 2-20 1-40-4-20-4h-10l-30 6-10 1-10-2-20 2-10-2-10-3-30-1-20 1-40 3-10-1-30-3-20 1-20 2-20 1-10-3-20 2h-10l-10 2-20-2h-10zM1490 20l1 20-2 40v30l5 50 7 40 3 30 6 36 10 1 6 3 4 6 9-36 1-10 10-35 4 5 6 4 10 20 10-8 9-16 11-29 8 9 2 3 2 7 8 64 10-5 9 11h2l9-11 10-10 10-25 10 15h10l6-19 5-20 1-30 3-10 5-7 10 1 10-1 5 27 1 10-1 20 5 4 3 6 7 8 10 4 6-22 4-30 2-10 15-40 3-14 2-6 1-10-1-30v-10l5-10 3-2 4 12 2 10 3 20v10l-5 30-1 10 2 10 5 18 6 12 4 16 10 1 2 3 8 7 4 23 8 30 2 10 4 40 2 6 10-12 10-17 10 10 10 7 6-24 4-29 6-21 4-10 6-10 4-5 10 5 10 21 4-11 6-28 10 5 4 13 6 12 10 2 8 6 2 4 4 26 3 10 3 5h10l10-16 2 1 9 10 9 13 10-10 4-33 6-38 4-42 3-60 3-40 2-30-4-10-8-3h-10-30l-20-1h-10l-10-1-20 2h-30l-20-2-10 1h-30l-20-2-20 1-20 6-10-1h-7l-3 1-20-4-20-2h-10l-10 4-10 1-10-1h-20l-30-3-10-4h-10l-20 4-30 2-30-2h-30l-10-2-10 1-20 3-5 2zM2230 288l10 28 2 4 5 10 3 9 10-29 4 10 6 11 10-29 10-3 10 49 10 1 10-25 6 6 4 2 15 28 5 13 10 10 10-1 9-12 11-5 10-9 10-7 10 19 10-5 8-23 12-29 3-21-1-30 1-10 2-10 3-10 2-5 4 5 5 10 2 10 2 20 3 10 4 9 10-6 10 4 6 3 4 6 10-6 6 10 3 10 1 5 1-15 7-40 2-18 10-12 4 10 6 25 4-5 4-10 2-36 3-4 7-6 12 46 4 10 4 8 20-2 5-16 5-23 10-30 20 2 10 4 10-12 10 4 10 8 10-12 10 5 10-35 4-21 3-20 3-33 10-2v5l3 10 7 8 10 42 21 60 4 20 2 30 3 19 7-9 1-10v-30l2-15 2 5 4 20 4 10 6 10 4 4 10 2 6-6 4-7 7-23 3-18 10 7 4-9 8-10 4-10 4-10 7 20 5 20 4 10 4 7 10-4 3-3 7-11 10-1 10-7 5-21 5-28 3 8 5 10 7 10 5 10 10-6 3-14 7-14 8 14 12 28 7-18 3-5 3 5 7 7 5 23 1 10v30l2 10 3 10 9 16h10l10-9 3-7 3-10 4-25 10 19 10-2 10-14 10 12 10-6 10 13 8-7 2-5 4 5 6 5 10-6 8-9 12-24 3 4 7 5 10-34 4-21 2-30 4-18 10 65 8 33 2 6 10-2 10 44 10 10 9-8 1-2h10l10-4 10 51 10-5 10 9 9-9 1-2 3-28 7-29 10 3 7 6 3 6 3 4 10 30 7 12 10-25 1-7 2-20 1-30 5-40-1-10-2-10-7-20-1-10 1-30-1-20v-10l2-3 1 3 3 10 1 10 5 9 7 31 6 50 5 20 2 7 10 2 2 1 5 10 5 30 4 10 4 8 7-8 3-6 10-28 5-6 5-11 10 21 4-10 2-10v-10l-1-20v-10l5-34 3-6 7-11 4 11 2 10 2 30 3 20 4 10 5 7 10 1 6-18 4-16 2-34 5-40 7-100-3-10-1-1-10-4-10-2h-10l-10 2-10 4-10 1-10-2-40-1-10 3-10-3-10-1-10 1-9 3-1 1h-10l-40-4h-10l-20-4h-10l-10 1-10 2-30 1-30-1-20 1-20-3h-20l-30 3h-20-20l-30-2-10-1-20 1-10 2-30 2-20-1-10-1-30-1-20-3-50 4-30-2-10-2-10-1-30 4h-10l-30 4-10 9-10-1-7-8-13-4h-10l-40 3-20-3-20 1-30-2h-10l-20 3-20-2-10 3-20-1-10 1-20-5h-20l-20 2-30 1-10 1h-10l-20-3-20-3-10-1-10 1-30 5h-20l-10 1-30-1-10-2h-10l-10 3-11 2-6 10v10l2 50-3 30v20l3 20 7 30 3 20 1 20v30zM3615 20v20l7 60 3 30 5 30 10 115 10 23 10 10 6 22 4 34 5 16 5 23 6-23 4-12 10-4 10 3 5-7 5-11 10-12 3-17 2-10 2-50 3-23 20-21 10 7 3-13 7-46 6 26 4 10 2 20 1 30 1 10 4 10 2 4 10 10 10-16 10 17 8-15 2-5 5 5 3 10 2 10-1 30v10l1 8 3-8 1-10-3-20v-10l3-20 3-30 3-13 6-7 4-6 9 6 1 3 1 7-1 10-5 20v10l5 9 10-15 10-4 5-10 5-14 10 6 3 8 7 13 10-13 11 10 9 12 8-12 3-10 2-10 1-10 2-10 4-7 10-3 4 20 6 10 10 3 4 7 3 10 1 10 2 24 4 16 6 17 4-17 6-16 10-2 6-12 4-9 10 8 3-9 7-45 4-15 19-20 7-13 10-23 4 6 6 16 6 64 4 29 10 18 4-7 6-6 6-24 4-14 10-18 10-7 10-1 10-5 5-15 2-10 1-10-1-40 3-30-1-80-8-10-11-3-10-1h-20l-10-1-10-1-10 1-10 4h-10l-20-1-10-2-20-2-40 1-20 1-20 3-40-4h-10l-10-1-10 1-40 7h-10l-3-2-7-1-20-2-10-4-20 1-30 3h-10l-10 1-70-5h-20l-10 3-20 2-16 2-4 3zM4620 236v4 3l1-3zM1690 300l-1 10 1 9 4-9zM630 218l1 12-1 7z"/>
<path fill="#b63779" d="M0 0h1647l-17 4-20 2-10 1-30-3h-30l-10-2-30 4-11 4-3 10 1 20-2 50 1 30 17 150 7 41 10 4 10 12 11-27 2-10 1-20 2-10 4-13 10-12 10 22 20-3 10-18 10 42 1 2 9 9 10-1 10 3h10l15-11 5-9 6 29 4 30 7 10 3 2 10-6 6-6 4-7 4-13 1-10-1-10-4-9-11-11-4-10v-10l5-20 6-10 4-8 10 24 10 6h10l4 8 6 8 10-6 10-34 4-8 3-10 9-40 4-15 6 15 4 5 6 15 2 10 7 40 5 35 10-4 5-21 5-9 10 49v20l1 10 4 10 5 9 16-9 4-4 6 4 4 5 4 25 2 10 4 10 4-10 2-10 2-40 2-18 4-22 6-19 10-12 10-3 10 16 10 6 10-2 10 9 2 5 8 10 10 1 10 15 10 5 10-3 20 21 10-21 4-18 2-20 3-30 6-60 2-30 2-40 5-50 1-30-3-10-12-4-10-1-30 1-30-2-10-2-20 3-10 1-30-1-10-2-40 1-20-1-20 1-20 4-20-1-20-2-20-1h-10l-10 3-10 1-10-1h-20l-30-3-10-3-6-1h694l-28 5-40 2-20-1-10-2h-10l-10 2-10 1-9 3-1 3-5-3-5-1h-10l-2 1-8 8-1 2 1 28 10 16 10-8 1 4 2 10v40l3 30 4 26 10 34 1 10-1 40 10 69 10 38 10 20 10-25 10 14 6-6 4-10 6 10 4 8 3 12 7 27 10-13 10-25 10-9 10 17 10 27 10 11 10 4 8-9 11-20 11-11 10-4 10 27 10-13 7-19 17-50 5-20 1-13 1 3 9 17 3 3 7 4 10-12 5 8 5 17 10 25 10 4 10 12 4-18 2-10 1-40 3-20 10-19 10 33 10-2 10-11 10 11 10 15 10-6 10-3 14-28 6-19 10-4 10 8 10-20 10-14 10 5 10 2 10-13 10 11 8-6 2-3 4-37 6-34 20-10 6 24 9 30 8 30 7 21 5 39 5 23 10-7h10l10 4 10-6 10-10 7-14 3-10 10 5 6-15 7-20 7-12 10 34 20 20 10-1 10-18 10-5 7-18 3-12 10 1 10 24 10 5 5-18 5-25 10 37 10 25 5-7 5-10 4 10 6 11 6 19 8 20 6 17 10-5 8-12 12-10h10l10-1 10-20 10 12 10-13 10 19 10 1 10-1 3-7 7-12 20-11 10-2 13-45 7-31 6 31 4 32 6 8 4 3 10 2 7 35 3 10 10 9 10-6 10 2 10-2 10 42 2-5 8-8 10 11 10 3 7-16 2-10 1-25 4-5 6-3 4 23 6 7 10 23 10 6 4-6 6-14 13-56 4-40 3-7 6 27 4 26 5 14 5 11 2-11 8-10 10 28 6-8 9-10 5-10 7-20 3-5 6 15 4 5 15-35 2-10 3-22 2 12 3 10 5 7 10 7 10 5 5-19 5-19 4-21 3-40 5-40 2-30 5-50 1-20-3-10-7-5-10-2-20-2-10 1-10 4-10 2-50-3-10 2-10-2-10-1-20 4-30-1-30-1-20-4h-10l-30 3-30 1-20-1h-20l-20-2-20-1-30 4h-40l-30-3-10-1h-10l-20 3-20 2-20-1h-10l-40-2-10-3-10-1-20 3-30 2-30-2-10-2-10-1-20 3-20 1-30 5-7 1-3 3-7-3-23-5-10-1-40 4-20-4h-10l-10 1-30-1h-10l-20 2-20-2-10 3-20-1-10 1-20-4-20-1-30 4-20-1-20 2-20-3-19-4h2659v5l-40-4-10 3h-10l-10-3-10-1-20 5-10 1-10-3-10-1-20 1h-20l-20 3-20-1-20 2-50-5-10 1-10 3-20-1-10 1-10 4h-20l-30-7-20 2-10 2h-20l-10-2h-10l-10 3-10-2-20-5h-10l-10 2-10 2-10-1-10 4-20 2-20-7h-20l-20-1-10 2-10 2h-20l-10 2-2 2-1 10 5 50 2 80 2 20 4 28 3 12 7 38 10 18 5 14 5 12 10-11 10-1 6 10 4 12 10 2 6-24 4-10 10 9 8-19 12-23 2-7 3-20 5-61 2 21 4 20 5 30 9 26 5 34 5 15 10 16 10 7 10-50 15-28 5-16 4 26 6 25 10 7 10-24 10-3h10l6 15 4 9 10-2 10 3 2-10 4-40 4-21 8-19 12-22 2 2 6 10 2 10 3-20 3-10 4-10 10 5 3 15 7 16 10 14 7-30 3-28 5 28 7 30 8 21 4 9 7 20 9 7 10-25 2-2 8-13 10 12 3-9 7-10 10-3 10 9 4 4 6 9 4 11 3 10 1 10 1 20 2 10 5 10 4 8 10 7 6 5 6 10 8 5 10-4 10-5 5-16 5-28 10 21 10-41 3 18 7 24 10 7 10 6 5-7 5-10 10 9 10-6 3 7 7 8 8 22 2 11 10-13v462h-5030v-526l7-4 3-4 1 4 4 10 5 8 10-4h20l10 17 10 27 4-8 4-10 2-10 6 20 4 17 10 14 10-28 10-13 7 10 3 7 10 9 10 21 10-66 10 31 6-12 4-14 6 34 2 10 2 4 10 13 10-8 10-4 10-45 10 9 10-14 10 10 7-15 3-10 4-30 10-40 2-10 2-30 2-8 2 8 4 10 4 6 10-17 10-28 9-71 3-50-2-10-10-7-10 1-20 5-50-5-10 2-30-2-10 1-10 2h-10l-10 1-10-3h-20l-20-1-10-2-20 1-10-1-10 3-10 1-30-3-20 3zM421 10l-2 10-1 50v70l2 30 10 90 1 10-1 30 1 10 1 10 7 20 11 19 10-11 7-18 3-6 10-5 6-9 4-9 3 9 3 10 14 26 6 24 4 12 6 8 4 3 3-13 7-52 4 12 6 11 10-4 10-8 18 21 2 2 10-7 4 5 6 14 10 35 6-39 4-42 4-8 6-8 7 18 5 20 5 10 3 5 10-36h10l10 9 5-8 8-20 7-13 6 3 4 13 1-23 5-20 5-20 5-30 4-100 9 30v30l6 30 1 10-1 30 1 10 4 11 10-8 10-3 10 12 6-12 4-13 10-24 7-23 4-20 4-60 3-70 1-20 2-10-4-10-17-8h-10l-10 2-10 2-10 1-20 2h-10l-10-3-20-3-30-1h-20l-30 4-10-2-10 1-30-3-30 1-10 3-30 2-30-2-10 1-30-4-10 2zM858 20l1 10-3 20-1 10 2 10 3 4 10-4 10-28 10 3 3 5 7 27 5 23 5 16 8 44 12 49 10-1 10-13 13 45 4 10 3 5 10 20 2 5 1 10 3 30 4 15 10 2 6 23 4 23 10 30 12 17 4 10 4 10 20 26 5-6 5-4 10 4 6-10 14-39 5-21 9-30 6-24 3-6 7-8 10-10 10 7 10-5 10-26 9-8 1-3 4 33 2 10 4 11 10-20 3-11 5-30 2-12 9-8 1-5 4 15 6 17 10-6 12 19 8 6 10-15 20 9 10-35 3-5 7-6 10 5 10-3 10 7 10 4 17 13 3 3 10-3 20-11 8-19 2-8 3-42 5-30 7-60 5-29 5-21 5-39 3 19 3 10 4 5 10 8 2-13 3-30-5-9-10 1-10 8-10-7-2-3-8-2-10-2-20-1-20 3h-20l-20-1-40-6h-10l-30 5-10 1-10-2-20 1-10-1-10-2-50-2-20 3-20 1-10-1-30-2-20 1-20 2h-20l-10-3-20 2h-10l-10 2-20-2-10-3-10 1-10 8h-10l-10 3h-10zM3610 20v20l7 60 3 40 3 20 7 39 6 71 4 33 10 18 10 11 3 18 7 68 5 12 5 9 12-19 8-19 10-9 10-13 10-6 5-13 2-10 3-18 5-12 5-10 2-10 1-10 1-30 6-12 10 10 10 3 8 19 6 10 11 20 5 22 2-2 2-10 2-20 4-12 3 12 1 30 3 10 3 4 5-4 5-10-2-20 1-10 1-3 1 13-1 20 1 10 3 10 6 13 10-14 2-9 6-30 2-6 10-3 10-6 10 5 3-10 7-17 10 5 10 9 10-5 6 8 4 12 10 7 6-19 6-10 8-11 20-4 8 5 2 3 3 37 3 10 14 37 10-33 10-5 10-8 10 8 10 3 5-12 2-10 3-31 10-11 2 2 8 3 10-10 10 5 5 22 5 35 10 6 6-11 4-7 3-3 6-10 7-30 5-10 9-15 10 1 10-4 10-28 3-14 2-10v-50l3-50 2-60v-1l-11-9-19-5-10-1-20 1-20-2-10 1-10 3-10 1-20-2-10-2-20-2-40 2-40 3-40-4-20-1-10 1-30 5-10 1h-10l-30-4-10-4-40 3h-20l-10 2-10-1-20-2-60-2-10 3-10 2-30 3-4 1z"/>
<path fill="#ca3f71" d="M0 5v-5h89l-9 1h-10l-20 3h-10l-20-2zM103 0h217l-20 4-10 3-40-4h-10l-10 1-30-2h-10l-10 3h-20l-10-2-20 1-10-1zM0 302l10 5 10 13 10-9 10-2 10 3 13 28 7 12 10-14 4 12 6 26 10 4 10-21 10-14 20 35 10 12 3-2 5-10 2-26 2 16 4 30 4 34 2-14 1-30 2-10 5-8h10l10 13 10-6 10-2 7-7 3-6 10-6 5-18 5-12 10 11 10-17 8-22 4-20 3-20 5-17 10-1 6-22 4-10 9-10 1-4 2-36 8-65 7-35 3-40-1-10-9-7-9-3h351-12l-20 4h-10l-10-2-10 1h-10l-20-3h-20l-10 1-10 3-30 3-30-2h-10l-20-3-10-1-20 3-5 6-1 140 2 20 4 41 3 39v60l7 43 6 17 5 10 9 24 12-14 5-10 8-20 5-8 10 9 6 29 4 34 10 1 10 10 4-5 6-6 8-14 2-6 10 8 10-24 10 7h20l10-3 10 30 10 42 3-14 7-65 10-16 13 21 7 14 10-36 10 3 10 12 5-13 6-10 9-13 2 3 8 8 6-18 4-20 2-10v-30l8-50 4 10 2 10 2 40v30l2 19 10 3 2-2 3-10v-10l-1-10 1-10 5-7 10 2 10 7 10-20 3-2 7-6 14-74 3-20 3-40 4-10 6-8 2 8 4 10 4 6 4-6 6-16 5-4 5-15 3-5 7-17 3 7 1 10-1 10-2 20 1 10 8 14 6 16 4 7 3 3 7 5 10 25 10 29 10 1 10-11 4 31 3 10 3 5 10 9 3 6 3 10 6 40 8 27 10 4 5 29 5 17 5 13 10 20 7 20 28 44 10-18 10-6 10-10 6-10 4-10 10-33 10-40 20-3 2-4 8-6 10-17 10-27 10 4 5 16 5 13 15-33 5-18 10-13 10 20 10 15 10 6 10-3 10-18 10 8 10-1 4-6 5-10 11-29 10-2 10 3 4 8 3 10 3 18 10-7 10 2 10 14 10-4 10-12 10-9 6-22 4-10 4-20 4-50 7-40 5-50 10-27 10-3 6 10 4 13 2-3 3-10 2-20 3-38 2-12-2-3-3-7-7-2h-10l-10 2-10-2-10-2-30-3-20 3-10 1-30-2-32-5h340l-8 3-20 2-10 1-30-4h-30l-10-1-30 3-10 3-6 3-2 10 1 20-2 50v40l7 50 2 40 5 50 1 10 5 20 9 45 10 2 10 10 6-17 12-30 7-30 5-11 10 16 20 5 10-12 10 35 10 3h10l10 7 4-3 16-10 10 3 5 27 5 16 10 4 20-11 6-9 7-20 7-16h10l20-24 10-31 10-16 3-3 10-20 7-10 2 10 6 40 6 30 6 20 10 11 10 9 6 10 4 4 4 6 4 10 2 7 20 23 10 2 10 14 12-26 3-10 10-50 2-10 3-7 10-14 6 11 3 10 1 7 6 3 4 3 10-3 5 10 5 6 10-3 2-3 8-9 10 10 10 5 10 3 10 6 5 5 5 8 10-26 10-42 1-10 2-40 6-70 2-50 5-50 2-40-2-10-6-3-10-3-10-1-20 1h-20l-20-2-10-2-20 4h-10l-30-1-10-2-10-1-30 3-20-2h-10l-30 4-20-1-10-2-40 1-20 3-10-1h-20l-20-2-16-3h673l-17 3-40 2-20-1-10-1h-10l-30 3-10-1-10 1-12 4-5 10 2 30 5 41 3 9 7 31 10 16 3 23 8 30 2 10 1 40 6 33 4 27 6 73 10 17 4 10 6 19 10-23 10-3 10-12 5 9 4 10 6 30 2 10 3 6 10-13 10-20 4-3 6-6 5 6 5 4 10 16 10 3 10 1 10-4 11 10 9 4 3-4 7-14 10 5 10-3 3-8 7-22 6-8 3-10 2-30 9-37 3 7 7 22 10-5 10-18 12 31 8 25 10-3 5 8 3 10 2 15 3-25 7-34 3-6 3-10 2-30 2-10 4 30 2 10 4 8 14-28 6-9 10 10 7 9 3 3 20-6 10-22h10l10 8 10-3 4-10 8-30 8-19 20 6 3-7 7-11 10 8 10 1 4-18 6-44 20-23 10 37 2 10 4 40 1 10 3 8 10 18 4 24 6 20 5-10 5-5 8 5 8 10 4 7h10l10-18 10-9 4-10 6-7 13-23 7-22 5 22 5 18 3 2 8 10 9 6 12-6 28-22 10 5 10-3 10 2 10-34 13 42 7 26 10-16 10-1 7 21 3 15 4 15 6 14 10-1 9-13 4-10 7-9 10-1 10 14 7-4 3-7 3 7 7 8 3-18 7-12 2 2 8 7 10-1 10-4 7-12 3-9 10-7 10-2 10 5 16-57 4-16 5 36 5 22 11 8 9 19 3 11 7 18 10 15 10-11 10 5 10-2 10 54 4-19 6-16 10 17 10 14 10-8 1 3 9 10 10-8 10-6 7 4 3 4 5 16 5 9 3-9 10-80 7-17 7 37 3 12 1-2 9-9 10-9 4 8 6 18 9-8 11-20 10-10 10-3 4-7 4-10 5-20 7-19 10 7 2 2 4 10 4 15 10-3 10-47 8-55 4-40 6-30 1-40 1-14 5-16 5-12 10 28 2 34-1 30 1 10 1 10 7 24 10 54 3 42 7 56 5 14 5 26 10 11 10 66 4 7 4 10 2 6 4-6 6-11 8-9 12-11 10-31 10-3 10-20 5-15 5-20 10-22 8-8 4-10 8-10 10 14 11 36 4 10 5 8 10-11 10 12 10-6 10 22 10-11 5-14 5-21 10-10 10-1 10 11 4-9 6-20 10-8 7 8 3 5 10 4 7 11 3 3 10 6 6-9 5-20 9-19 7 9 9 30 4 8 10-2 10 24 10 30 5-10 5-13 10-15 4-2 16-4 10 6 10-19 30-46 10 4 6 39 4 16 10 5 10-20 10-5 6-16 7-30 7-15 10 7h10l8-22 2-7 3-23 7-30 1-10 1-60 2-30 1-50 1-20-3-10-3-1-10-1-20-4-10-1h-20l-20-2-10 1-10 3-10 1-20-1-28-5h201l-6 10-2 10 1 10 1 10 3 9 10 11 5-10 8-40 9-10h137l-19 1h-10-10l-20 3h-20l-10 1-6 5-1 10 3 30 2 20 2 90 7 50 3 33 7 27 3 13 10 17 4 10 6 27 3-7 7-23 10 10 10 35 10 5 10-24 10-4 6-9 5-10 7-30 7-20 5-15 10 17 3 18 4 10 15 30 4 10 8 30 6 15 3-15 3-30 4-22 10-24 10-20 5 26 5 19 10-4 9-5 11-14h10l10 21 10-4 10 3 7-16 6-20 4-30 3-12 6-8 4-9 6 49 4 14 4-14 2-40 4-21 10 11 10 29 10 13 3-12 7-37 3 17 3 20 4 18 10 15 10 13 10 9 10-22 20-1 8-12 2-4 20-11 2 5 3 10 1 30 4 19 10 9 10 26 10 7 6 9 4 4 20-9 10-1 10-27 10 7 5-14 5-17 10 32 10 7 5 8 5 10 10 1 10 3 10-10h10l2 16 1 20 1 10 6 12 10-16v404h-5030zM683 0h223l-6 5-10 3-30 1-10-1-4 2-6 10 2 20v40l-2 28-3-8-2-20 2-40 3-20-4-10-6-2-10-4-10-4h-10l-20 5h-10l-20 2h-10l-30-5zM925 0h206l-11 2h-10l-40-1h-30l-20 3h-10l-10-1-10-3-20 2h-10l-20 1-10-1zM1182 0h90l-22 4-10 1-10-2h-30l-10-2zM2377 0h455l-12 2-20 1-40 6-30-6-10-1-10 1-20 3h-10l-20-4h-10l-10 1h-40l-20 1-20-2-10 2h-30l-20-3h-20l-30 3h-20l-20 2-20-3zM2855 0h75l-10 1-40 2zM2955 0h583l-8 3-10 3-30-2h-10l-10-1h-10l-10-1h-10l-20 3-30 1-30-2-20-4h-10l-20 3-10 1h-30l-30-1h-10l-30-3h-10l-30 4-40 1-30-3-10-2h-10l-40 5-20-2-10 1h-20l-10-1zM3566 0h102l-18 5-30 2-10 2-7 1-3 2-1-2-9-6-10-4zM3691 0h130l-21 2h-30l-10 2-10-1-10-2h-10zM3833 0h231l-74 5-40-4-20-1-10 1-30 5-10 1h-10l-30-4zM4441 0h75l-16 3-10-1-10 3-10 1h-10l-10-4zM4534 0h203l-7 3-20-1-10 1-10 4-20 1-30-7-20 2-10 2h-20l-10-1-10-1-10 3-10-2zM4751 0h188l-9 2-10 2-10-3h-10l-20 1-20-1-20 3h-10l-10-1-20 3-40-5zM4966 0h21l-7 1h-10zM4995 0h35v3z"/>
<path fill="#da4a68" d="M0 3v-3h61l-11 2h-10l-20-1zM112 0h76l-8 2-10 1h-10l-10-1-20 1zM208 0h100l-18 5h-10l-30-3-10-1-10 1zM0 349l10 7 10 16 10-6 5-6 5-10 10 5 5 15 5 22 10 12 5-24 5-13 4 23 3 20 3 14 10-11 10-25 10-9 10 16 10 10 20 24 6 31 4 18 10-30 4-8 3-10 3-14 7 14 3 3 10-14 4-9 6-8 10-7 10-1 7-14 3-10 10 21 10-14 11-47 9-26 3-4 7-17 4-23 6-17 10-5 4-28 4-60 2-19 12-61 5-50-1-10-6-8-3-2h68l5 20 1 20 1 30-1 50v40l6 90v20l-2 30v10l1 10 4 20 4 40 6 27 2 3 8 10 10 10 10-10 10-4 10-7 5 11 8 30 4 10 3 6 10-4 10 17 10-6 6-23 4-10 10 10 10-28 10 10h10l10 3 10 14 10 9 10 36 7-24 3-16 10-26 6 22 4 10 10 13 10-48 10 1 10 7 3-3 14-20 3-6 10 4 4-28 6-15 5-5 4-10 1-8 2 18 2 10 6 15 10-8 10-3 10-4 10-13 10-39 10-7 10-27 13-94 4-20 3-11 10 18 6-7 4-8 2 8 8 46 2 4 8 10 10-2 10-7 10-3 8 22 6 20 6 15 30 23 9 12 3 10 6 60 3 10 9 15 10 11 8 24 12 28 10 37 10 10 10 18 10 8 13-21 7-9 10-4 10-8 8-19 12-55 10 19 10-2 6-12 4-12 10-6 10-39 10-4 6 31 4 10 5-20 15-48 10-11 6 19 4 17 10 27 10-1 10-20 10-23 10 1 10-3 10-11 10-5 10-22 4 10 5 20 4 10 7 10 10-11 10-5 10 15 10-3 12-16 8-10 7-20 3-12 5-28 8-60 4-20 3-19 3-11 7-42 6-8 4-3 10 46 3-3 7-4 10 6 3 18 2 20v40l3 50 2 12 7 28 7 50 6 20 10 5 10 6 4-11 6-30 12-30 8-27 10 18 10 7h10l10-13 4 15 6 16 10-1 10 1 16 14 4 5 3-5 7-19 10 13 5 16 4 10 11 19 10-6 10-12 10-10 10-32 10-1 10-7 10-2 5-29 5-19 10-15 10 4 10 3 20 70 6 7 4 6 10-3 5 7 5 9 3 11 7 16 10 10 10 7 6 7 5 10 9 9 10-39 10-20 6-10 3-10 1-14 2-6 8-13 5 33 2 10 3 9 10-14 10-9 2 4 3 10 5 23 3 7 7 9 10-1 4-8 3-10 1-10v-10l2-6 10 1 10-4 10 1 3 8 7 12 10-18 5-34 8-40 3-20 1-40 5-60 2-60 5-40 2-50-2-10-9-5-20-3-20 1-30-1-12-2h330l-18 2h-20l-10 1h-20l-10-2h-10l-20 1-20-1-10 2-19 7-3 10 2 30 5 40 4 50 5 30 6 58 9-8 1-2 2 22 2 10 6 19 10 51 1 50 4 30 2 10 3 8 6 12 6 20 8 43 10-30 10-7 10 6 10 22 10 8 10-10 10-7 10-20 10-2 10 22 10 7 10-1 10-8 10 15 10-3 10 6 9-11 11-11 7-9 9-20 4-6 10-11 10 7h10l10-5 5-5 5-9 10 33 10-7 1 3 9 12 10-46 10-15 20-2 7-19 3-6 20-2 10-3 10 3 10-27 10 6 10 5 10-1 10-16 10-9 10-3 10-3 5-14 5-26 17 16 3 2 10-69 12-13 8-14 4 24 3 40 3 15 6 15 8 30 6 17 7 23 3 12 7-12 3-10 5 30 3 10 2 4 11-14 9-10 4-10 6-12 10-5 5-3 9-10 6-11 10-10 1 31 2 10 7 21 10-17 10-15 10-6 10-2 10-8 10-16 10 6 10-3 10 4 10-23 10 26 10 39 7-6 13-18 10 43 10 18 10 1 13-14 7-10 10 2 10 11 10 3 10 9 4-15 3-20 3-13 10 2 10 1 10-3 10-7 10 7 5-7 5-5 10 4 3-9 3-10 6-30 8-25 5 25 3 30 2 16 10 2 10 8 10 24 10 20 10-14 10 4 10 14 10 50 10-3 10 15 10-6 10-9 10-4 10-16 10 9 10 13 10 2 10-12 10-3 10-16 6-24 4-15 4-5 6-6 5 16 5 23 10 3 10 7 10-48 10-8 10-2 10-42 10 10 6 17 4 7 10-9 3-18 7-30 13-90 4-30 3-14 10 3 9 21 6 20 5 23 10 60 5 47 5 54 10 30 6 6 4 7 5 33 5 18 4 12 6 27 10-2 4-5 6-15h10l6-15 4-14 4-6 16-11 5-9 2-10 2-20 2-10 5-20 4-13 10-3 10-2 10 10 10 33 10 1 6-16 4-8 3 8 2 10 2 20 3 12 6-32 4-10 3 10 7 10 10-9 5-11 5-14 4 4 6 8 8-8 2-7 10 7 5-20 5-14 10-7 10 24 10-14 10 5 10 9 10 8 10-3 10 3 10 3h10l9 26 11 23 6-13 4-8 10-3 6-9 4-9 10-7 10 3 20-36 10-7 10-19 3 5 7 15 2 15 8 31 10 7 10-19 10-12 10-19 6-8 4-8 11-12 9-7 13-33 2-10 4-40 4-20 3-20 4-80-1-40 1-27 4-13-1-10-3-2-10-3h-10l-30-4-20 1-11-2h98l-3 20 2 30 4 15 11 15 9 17 10 2 2-19 3-40 2-20 3-10 9-10h86l-15 2-30-1-10 7-1 2-1 10 5 30 1 20 3 100 2 20 4 30 7 54 7 36 2 10 11 17 4 13 6 14 7-4 3-3 10 8 5 15 5 11 10 4 8-5 12-14 10-21 8 25 2 5 4-15 2-10 2-20 2-23 10-5 10 13 2 5 3 10 6 30 3 10 5 10 7 10 4 3 6-13 14-60 10-14 5 24 5 13 5-3 5-9 5 9 5 6h10l5-16 5-9 10 7 10-2 10-1 10-26 10-13 10-21 10 26 18-51 2-5 10 28 10 9 10-20 10 24 7 14 3 11 4 9 6 13 10-6 10-21 10-3 20-16 10 13 5 10 4 10 6 30 4 10 11 17 30 10 10-1 5 4 7 10 8 7 4-7 3-10 3-18 1-2 9-4 4-16 6-15 10 24 6 11 4 9 10 15 10-1 10-3 10 7 3 13 7 26 10 13 10-23v374h-5030zM380 11l-5 9 1 20 4 25 3-25 1-20zM452 0h97l-9 2-30 3-40-1-10-2zM591 0h61l-12 2h-10l-10-2-10 2-10-1zM703 0h90l-13 3-40 2zM817 0h84l-11 5-10 1h-10l-10-1-10-4-10 5-10-1zM932 0h23l-15 1zM966 0h4 2-2zM996 0h46l-22 3h-10zM1100 0h21l-11 1zM1197 0h15l-12 1zM1222 0h39l-11 2-10 1zM1309 0h210l-19 2-10 2-10 5-20-4-20 2-20-3-30-3-20 4h-10l-20-1-10-1zM1551 0h83l-14 3-20 1-30-3zM1671 0h106l-27 1-20 3-30-1zM1794 0h54l-28 3h-10zM1861 0h33l-14 1zM1923 0h56l-9 3h-10l-30-1zM2383 0h86l-19 3h-10l-10-1-20 3-10-1zM2508 0h315l-23 2-40 4-10-2-30-4-10 1-20 3-10 1-20-5h-10l-20 2-20-1-30 1-20-2-20 3-20-1zM2865 0h46l-31 1zM2963 0h97l-30 3-20-3-10 2-20 1zM3088 0h93l-21 3h-40zM3213 0h107l-10 2h-10l-30 1-50-2zM3345 0h92l-17 2h-10l-30 2-20-1zM3458 0h73l-11 3-10 1-20-2-10 1zM3596 0h65l-11 4-40 1-10-2zM3744 0h25l-9 2-10-1zM3784 0h26l-10 1zM3839 0h75l-24 5-10 1h-10zM3953 0h92l-55 4zM4087 0h53l-10 3-10 1-20-1zM4455 0h30l-15 3-10-1zM4493 0h7 9l-9 1zM4541 0h84l-15 3-20 1-10-2h-10l-10 2-10-1zM4649 0h79l-8 1-10-1-10 1-10 3-20 1zM4764 0h84l-8 1-10 1-10-1-20 3zM4912 0h8 10l-10 1zM5012 0h18v2z"/>
<path fill="#e55d5e" d="M0 2v-2h13zM34 0h18l-12 1zM119 0h61l-10 1-20-1-10 1h-10zM225 0h73l-8 2-10 1-30-3zM0 376l10 9 10 19 10-3 10-2 10 4 10 27 10 12 6-2 4-3 10 15 10-10 7-12 3-7 10-2 20 12 10 13 6 14 14 49 10-22 10-10 10 1 10-8 10 3 10-13 5-10 5-15 10-22 10 24 10-18 12-29 3-10 10-40 5-12 4-18 4-30 2-11 10-3 9-56 2-40 3-20 12-70 4-32 5-18 4-10-3-10-6-4-4-6h50l-3 10-3 6-1-6-9-6-10 5-4 1-5 10 4 10 3 10 1 10 1 10-1 20 4 50 4 20 3 10 3-20 3-30 1-40 3-36 7-4 3-1 3 11 2 10 1 20-1 40v40l4 50 2 60v10l-3 30-1 20 4 30v30l6 40 6 20 7 16 4 4 6 9 10 11 6-20 4-8 3-2 7-3 10 1 10 35 10 14 4 3 6 9 4 11 6 11 3-11 7-12 7-18 3-9 10 11 10-32 10 11 10-1 10 2 10 8 10 10 10 34 10-35 10-9 10 12 10 6 5-8 5-16 6-14 4-6 10 6 20-20 10 2 8-12 2-6 10-13 10 33 10-8 10 3 7-9 3-6 4-14 14-30 12-30 10-31 6-29 4-33 10-26 10 7 10 3 10 20 10 6 10-5 10-12h10l5 30 5 16 10 14 10 5 10 3 3 2 7 9 4 21 6 41 2 9 3 10 5 12 13 18 7 12 8 18 9 30 13 34 4 6 6 13 10 10h10l14-13 7-10 9-7 10-6 10-18 6-9 4-8 10 6 10-7h10l10-13 10-27 10 3 10-3 10-40 13-21 7-18 4 18 6 21 10 21h10l10-3 4-9 6-20 6-10 4-6 10-4 10-9h10l10-8 10 9 5 8 5 9 10-2 10 7 10 1 20-25 10-11 10-30 4-19 6-41 10-49 10-12 4-8 3-10 3-16 10 48 3-12 3-30 4-11 7 11 3 10v50l2 40 2 20 11 70 2 10 3 10 10 23 10 6 10 8 10-21 10-36 10-15 10 12 10 1 10 10 10-8 10 13 3-3 7-6 10 4h10l10 10 10-8 10 14 10 24 10 12 10-2 10-3 10-17 10-23 10-11 2-4 8-8 10-1 12-41 3-10 5-10 10 9 10 4 10 42 20 42 10-4 10 13 10 23 8 11 9 20 3 5 10 11 10 1 4-17 6-17 4-3 5-10 3-10 4-10 4-5 10-3 6 8 4 10 6 20 4 6h10l10 1 10 5 10-2 10-9 10-13 10 1 10-16 10 5 6-18 4-8 6-22 4-20 3-30 6-40 2-50 5-50 2-70 2-22 4-18 2-50-1-10-5-4-10-3-20-3-20 1-33-1h102l11 10 3-10h68l-11 4-10 3-5 3-1 10 16 186 6 44 4 28 10-4 5 16 5 25 3 25 4 60 3 21 11 29 4 30 2 10 3 5 10 31 10-14 10-19 7 7 3 6 4 14 6 16 10 2 10-9 10-14 10-10 10-13 10 12 10 14 10 7 6-5 4-6 10 2 10-2 10 16 10 2 10-3 10-11 4-18 6-32 4-8 6-8 10 7 10-2 10 4 10-1 10 18 10-10 8 12 2 6 4-16 6-29 10-8 10 2 6-5 4-3 10-30 10-7 10 2 10-4 6 12 4 11 3-11 7-17 10-5 10-2 3 4 7 14 10-4 4-30 3-10 3-5 20-7 10-17 10-6 10-1 5-14 2-10 3-26 10-18 3 4 3 10 6 30 8 20 7 30 3 9 10 23 10 43 10-9 10 12 10-5 10-11 6-22 4-10 10-5 10 4 10-1 10 12 10 23 20-6 10-12 2-5 4-10 8-10 16-17 10-1 10-2 10 8 10-23 5 15 8 30 7 11 10-8 10-2 10 35 10 19 10-4 10-11 10 4 10 17 20 4 10-2 10-21 3-2 7-7 10-1 10-12 10-10h10l10-13 10-4 16-33 3-10 1-10 2 20 2 10 6 23 10 2 10 13 8 22 5 20 4 10 3 5 10-21 20 16 7 40 3 14 10-4 6 10 4 8 10 5 10-2 20-20 10 13 10-4 10-9 5-11 5-7 10 1 10-7 4-7 5-10 1-5 5-5 2-10 3-21 1 31 3 10 6 12 10-3 10 7 8-16 4-10 8-35 10 4 4-9 6-24 10-1 10 13 10-4 7-44 13-69 5-21 5-46 4-4 6-4 4 14 2 10 4 52 6 8 4 3 10 49 5 48 5 46 10 26 10 23 6 25 9 40 5 13 10-2 20-12 10-19 7-10 11-20 12-13 4-7 8-20 5-30 3-6 10-3 10 16 10 24 10 15 10-4 8 18 2 10v19l1-19 2-10 7-22 7 2 3 3 3-13 17-25 10 18 10 4 10-5 6-22 4-13 10-2 10 8 5-3 5-5 10-7 10 6 20 9 6 7 4 6 10 6 10-2 10 24 10 10 10-26 10-5 10-7 10-7h10l9-19 11-22 20-2 10 19 10 48 10-11 7-12 3-7 5-13 5-10 10-16 20-10 5-4 5-8 7-32 13-34 2-16 2-30 1-10 5-24 3-6 2-10 3-20 2-14 10 4 2-10 2-10 6-13 4 3 6 4 10-1 4-13 1-10 5-60 5-10 3-10 2-5 3-5 7-7 10 4 1 3 1 20 2 10 6 23 3 117 12 90 5 53 2 7 8 23 10 16 10 26 20 10 10 18 10 1 10 7 10 12 10-35 3 2 7 2 10-24 4-8 3-10 3-15 4 25 6 15 10 16 20 17 16-18 4-5 10-4 10 1 10 2 10-5 10-2 5-7 5-12 20-14 10-4 6-10 4-11 10-10 6-9 4-10 6 30 4 15 5-35 5-17 10-18 10 26 10 8 6-19 4-10 10 29 10 37 7 14 3 9 13-19 7-11 10-10 10-3 10-10 6 14 5 20 4 10 15 23 10 7 10 4 10 9 10 7 10 5 4 5 6 10 10 28 10 14 10-8 5-54 2-40 3-18 2 8 6 30 2 5 10 6 10 11 10 3 10-9 6 14 12 40 2 5 10 9 3-4 7-14v334h-5030zM2130 17l-1 3 1 3 1-3zM458 0h83l-31 3h-10l-30-1zM600 0h3-3zM633 0h7 2-2zM712 0h72l-4 1-40 2-10-1zM826 0h4 8l-8 2zM856 0h40l-6 3-10 1h-10l-10-2zM1003 0h28l-11 2h-10zM1236 0h16l-12 1zM1318 0h69l-17 3-10 1-20-2h-10zM1393 0h101-4l-10 4-20-1-20 1zM1578 0h50l-8 2-20 1-10-1zM1686 0h62l-18 2-30-1zM1806 0h24l-20 1zM1930 0h44l-4 1-10 1-10-1zM2244 0h72l-6 1h-20l-10 1h-10zM2387 0h73l-10 1-10 1-10-2-10 1-10 2h-10zM2526 0h22l-8 1zM2625 0h5 6-6zM2667 0h36l-13 3h-10zM2742 0h60l-32 4h-10l-10-3zM2969 0h32l-11 1h-10zM3021 0h24l-15 2zM3103 0h68l-11 2h-40zM3247 0h65l-12 1h-30zM3353 0h52l-25 3-20-1zM3473 0h51l-4 1-10 1-20-1h-10zM3606 0h51l-7 2-10 1-30-2zM3847 0h55l-12 3-10 1h-10zM3968 0h56l-34 2zM4096 0h37l-13 2-20-1zM4194 0h42l-6 2h-10zM4380 0zM4466 0h4 3l-3 1zM4547 0h70l-7 2-10 1-30-3-10 2zM4657 0h39l-6 2-20 1zM4776 0h37l-13 2z"/>
<path fill="#ea745c" d="M0 0h3-3zM265 0h24l-9 1zM355 0h19l-4 2-10 2zM465 0h61l-26 2-30-1zM718 0h27l-15 1zM864 0h27l-11 2h-10zM1009 0h14l-3 1zM1328 0h2 6-6zM1344 0h33l-7 2h-10zM1405 0h58l-23 2zM1585 0h37l-22 2zM1957 0h3 6-6zM2075 0h24l-9 2zM0 402l10 11 10 20 10-4 10-1 10 4 10 22 10 13h10l10 11 20-26 10 7 10 3 10-1 10 10 20 68 10-18 10-9 10 9 10-17 10 5 9-19 11-11 10-3 10-6 10-16 10-26 13-28 3-10 14-68 2-2 8-9 10-78 4-13 1-10 5-46 10-67 10 1 2 12 4 40 4 15 10 30 7-35 3-28 5 8 5 23 3 37v30l2 30-1 20-3 30v30l2 50 2 30 5 40 6 10 14 30 20 24 8-14 12-26 10 7 12 29 3 10 5 22 10 4 10 16 9-32 11-28 10 12 10-29 10 4h10l20 13 9 8 4 10 7 29 6-19 4-17 10-8 20 6 10-13 10-8 10-3 5-17 7-10 8-11 10 7 10-6 10 5 6 15 4 16 3-6 7-9 10-9 10-1 5-21 5-15 10-20 20-45 10-66 10-36 2 2 8 13 10 12 6 15 4 14 5 6 5 4 7-24 3-5 10-4h10l10 30 10 9 10 4 10 6 4 10 6 24 10 46 10 27 10 8 8 15 4 10 8 23 10 20 20 48 10 6h10l20-13 20-22 10-17 10-14 10 6 10-1 10-3 10-4 4-9 6-17 13-13 7-5 6-15 4-14 7-16 3-6 10-13 6 19 4 15 10 20 10-1 10-5 10-13 10-20 10-10 10-13 10-5 10-13 5 5 5 8 10 28 11-6 19-4 10-10 10-13 10-8 10-25 5-20 15-83 10-6 10-15 4 14 9 50 3 10 4 6 3 4 7 4 10 66 3 10 7 13 10 22 10 7 10 14 12-26 8-21 10-6 10 3 10-6 10 2 10 7 10 11 5-10 5-7 10 4 10-3 10 5 10-5 4 6 7 20 9 19 10 8 10-5 10 2 10-17 10-15 10-11 10-23 10-5 20-56 3 3 7 13 10 12 5 15 9 20 6 16 10 17 10-1 10 12 10 28 8 18 12 20 10 2 10 9 4-11 6-26 10-3 10-10 10-2 10 38 20-20 10 10 10-2 5-5 15-12 10-9h10l10-15 10 3 4-7 6-17 13-53 5-40 5-40 3-50 5-60v-30l1-30 7-40 1-10v-39l4-21 6-1 2 1 2 10 3 30 3 15 10-1 10-18 5-16 3-10 2-10-10-4-8-6h52l-4 2-10 1-10 6-7 1 6 10 1 1 2 19 5 50 2 50 5 50 6 69 7 51 3 49 7-9 3-5 8 35 8 60 1 10-1 40 2 20 2 11 10-3 10 9 10 28 10-3 4-12 6-10 11 20 9 21 10 6 17-17 17-20 6-8 20 12 10 9 20-10 10-2 10 14 10 5 10-3 10 3 10-35 10-41 10 1 10-6 10 10 10 6 10 19 10-18 10 25 3-11 7-19 10-20 10 2 10-14 10-30 10-9 10 3 10-3 10 22 10-27 4-5 6-6 10 1 10 24 10 6 14-35 6-12 10-10 10-27 10-10 10-5 10-25 10 12 10 2 10 22 4 13 8 20 12 40 6 18 10-10 10 11h10l10-5 10-42 10-5 10 10 10 2 10 13 4 8 6 8 10 3h10l10-9 12-32 8-16 10-8 10 1 10 4 10 13 10-16 3 12 7 19 10 8 10-10 10 6 10 33 10 19 10-3 10-15 10 5 10 18 14 10 6 5 10-2 10-27 10 4 10-7 10-11 12-22 8-8 10-11h10l10-26 10-11 7 26 3 14h10l3 6 7 16 5 24 5 13 10 9 10-12 11 10 9 15 10 39 10-3 10 22 10 5h10l10 3 7-11 3-7h10l20-3 3-10 7-16 10 2 10 5 10-15 10-7 10 24 10-13 10 9 6-19 4-11 10-19 10-13 10-22 10 1 10-5 6-11 4-4 6-26 8-50 6-32 5-8 5-13 11 23 9 13 10 5 10 57 10 77 10 27 10 22 4 19 6 37 10 15 10 2 6 6 4 6 10 9 5-35 5-13 10-10 10-21 20-31 6-5 4-5 20-10 6 15 6 10 5 10 3 13 10 1 4 16 6 19 10-14 10-10 5-15 5-34 2-6 8-13 10 19 10 3 10-7 10-33 10 4 10 2 20-2 10-4 10 1 14 20 6 5 10-3 10 4 10 15 10 9 7-10 3-7 10-5 5-8 5-7 10-1 10 12 6-14 11-30 3-6h10l10-4 8 20 5 20 7 19 10-8 10-12 10-31 10-20 3 2 7 8 10-2 10-4 7-32 5-30 3-10 7-20 5-20 3-40 10-14 10-5 8-61 2-12 10 1 10-1 6-18 2-10 2-12 10-34 10 15 10-18 4 19 2 20 1 20v40l1 10 12 79 6 71 4 34 10 26 10 13 10 29 20 11 10 23 10-8 10 2 10 12 7-12 3-6 10-14 6-20 4-10 10-10 10 21 8 9 12 12 4 8 6 14 4-4 6-8 10-9 10-3 10-2 10 8 10-8 20-22 10 3 10-4 7-25 13-23 10-2 10-3 10 25 10-50 10-19 3 12 7 36 10-6 10-29 10 28 10 40 10 15 10-10 10-2 10-24 10-3h10l10 15 10 13 4 7 6 18 10-6 10 4 10 17 10 15 10 2 10 25 10 21 10 16 10-11 4-21 6-39 10-2 10-7 10 7 10 1 10-7 5 17 5 24 4 6 16 16 10-6v300h-3567l-1-30-2-17-6 7-2 10 3 30h-1455zM330 703l-2 17-1 30-1 10 2 10 2 7 5-7 2-10-3-10-1-30-1-10zM360 625l-3 35v20l3 14 4-24 1-20-1-10zM850 753l-1 7 1 3 1-3zM1420 731v9 1-1zM360 723l-8 37 1 10 7 23 7-13 3-10-1-10zM2258 0h23l-11 1zM2392 0h26l-8 2h-10zM2674 0h21l-5 1h-10zM2755 0h37l-22 2h-10zM2979 0h1 5-5zM3029 0h1 1-1zM3115 0h46l-31 1zM3359 0h32l-11 1h-10zM3507 0h3 3-3zM3618 0h35l-3 1-10 1zM3857 0h37l-14 2h-10zM4108 0h17l-5 1zM4560 0zM4587 0h24l-11 1zM4668 0h2 7-7z"/>
<path fill="#ed8e64" d="M875 0h5 1-1zM1356 0h16l-12 1zM1593 0h7 8l-8 1zM2397 0h16l-3 1zM2763 0h18l-11 1zM3630 0h19l-9 1zM3866 0h19l-5 1zM0 427l10 13 7 20 3 4 10-3 10-6 10 3 10 30 6 12 4 9 8 11 2 4 2-4 8-8 10-19 10-15 10 10 10 5 10-6 10 14 4 19 1 10 5 10 10 32 20-29 10 17 4-10 6-9 10 3 10-25 10-13 10 1 10-8 15-29 5-12 10-21 10-10 6-17 4-28 5-12 5-5 6-25 1-30 3-32 10-39 3-9 2-10 1-20 4-29 6 9 4 3 4 17 1 10v30l8 50 2 60 5 14 10 1 4 25-1 10 3 20 2 10 2 6 4 24v10l1 10 3 10 9 20 13 24 14 16 6 6 14-16 6-12 10-5 8 27 4 20 8 21 10-3 5 12 5 9 4-9 2-10 5-10 3-10 1-10 5-19 10 18 10-29 10 8 10-5h10l8 7 9 20 3 2 10 29 5-11 5-13 10-10 10-6 10 3 10-2 10-3 10-6 7-23 4-20 9-21 10 14 5-3 5-2 2 2 3 10 8 30 7 15 5-15 5-10 10-9 10 4 5-15 1-10 4-15 10-28 10-21 5-6 5-9 4-11 6-48 6-12 4-11 10 15 10 2 7 24 3 6 10-3 10-26 10-7 10-1 10 23 10 11 10 6 10 13 5 18 5 12 4 18 6 20 10 24 10 6 6 20 8 20 16 27 8 23 2 4 10 24 20 12 10-6 10-4 10-10 20-35 10-15 10 6 10 4 10-1 10-6 12-13 8-15 1-5 9-16 4-14 6-14 10-21 10-16 5 21 3 10 12 24 10 2 10-10 10-11 10-19 20-28 10-1 10-14 3 7 7 11 6 19 4 8 20-8 10-7 20-24 10-9 10-20 6-20 14-64 10 4 10-14 7 44 3 9 10 6 5 5 5 6 6 44 4 22 10 8 4 10 6 10 10 9 10 17 7-16 3-10 6-10 4-10 10-5 10 1 20-10 10 11 10 9 10-20 10 2 10 1 10 6 10-8 10 35 10 21 10 6 6-9 4-5 10 2 10-16 20-19 10-25 10-7 10-33 4-7 6-17 10 20 10 13 14 34 16 30 10 5 10 11 4 14 6 16 20 37 10-2 10 14 10-24 10-8 10-6 10 1 4 12 6 12 10 4 10-8 10 2 10-8 10-20 20-21h10l10-15 10 3 10-12 2-7 3-10 5-28 5-12 2-10 1-10 2-22 8-58 4-70 5-40 3-46 10-69 4 15 6 10 10-2 10-20 5-18 5-19 10 10 4 59 1 40 7 60 3 60 7 50 3 40 3 30 1 50 1 13 2-3 8-17 7 17-1 10 1 10 3 16 2 24 8 43 10-3 10 8 4 12 6 22 10 3 10-31 10 16 5 20 5 14 10-5 10-16 10-5 20-24 10 1 8 5 12 14 10-15 10-3 10 3 10 12 10 7 9 2 11 4 10-24 6-30 4-16 20-24 19 30 3 10 8 21 10-12 10 19 7-38 3-12 10-9 10-8 10-13 10-30 10-9h10l10-2 10 20 5-7 5-13 10-18 10 5 10 23 10 5 10-14 10-27 10-11 20-35 10-13 10-23 10 11 10 7 10 22 10 25 20 63 10-17 10 15 10-1 10-6 5-18 5-22 10-5 10 13 10 3 8 11 12 12 10 6 10-1 10-10 4-7 9-20 7-19 10-11 10 4 20 20 10-11 10 19 10 14 10-2 10 4 5 12 10 20 5 7 10-2 10-12 10 2 9 15 8 10 13 20 10 8 10-25 10-5 30-42 10-20 10-12 10 5 10-26 10-12 10 47 10 12 5 10 15 27 4 3 6 9 10-9 10 7 10 20 3 13 7 22h10l5 8 5 6 10 8 10 2 10 14 10 3 20-23 10-3 4-7 6-15 10 3 10-2 10-16 10 7 10 23 10-14 10 1 8-17 12-32 10-11 10-25 10-3 10-8 10-23 5-18 6-30 9-59 10-11 10 23 4 7 6 13 10 10 10 42 4 35 6 34 10 31 10 23 4 32 6 25 10 16 10 3 4 6 16 14 5-14 5-30 5-10 15-18 10-21 10-14 10-4 10 7 10-7 5 7 5 11 3 9 7 11 10-2 10 29 10-13 10-6 5-9 5-10 10-31 10 4 10-5 10-12 10-31 10 3 20-1 10 7 10-1 10 5 10 10 10 2 10-3 10 7 10 14 10 6 10-11 10-3 10-18 10 8 10 10 10-20 4-10 6-24 10-3h10l20 47 10-6 10-9 3-5 7-15 10-28 10 9 10-1 10-3 5-12 10-30 15-69 10-12 10-4 4-45 6-50h10l10-2 6-28 4-17 5 7 6 10 4 10 5 17 10-2 4 15 6 18 7 52 5 80 8 38 10 23 7 9 3 5 5 15 5 12 20 19 10 26 10-12 10-8 10 12 20-22 2-7 8-35 10-10 10 23 10 8 14 24 6 8 10-2h10l10-4 10-12 10 4 10-8 10-2 4-4 6-8 10-6 10-4 10-22 10-27h20l10 23 4-16 6-26 10-18 10 48 10-14 5-10 5-12 9 32 7 20 4 8 10 9 10-10 10-2 10-15 10-3 10-4 10 10 5 7 5 8 10 40 20-16 10 20 10 18 10 8 10 28 10 21 10 16 10-18 10-49 10-12h10l10-6 10 2 10-8 4 18 6 16 10 9 4 5 5 10 1 5 10 7v258h-1789l1-20-2-21-10-31-2 2-6 10-2 10-3-30-7-27-10 15-3 12-3 30 1 10 5 10 10 13 8-13 2-6 4 16 3 20h-487l3-20 4-10 3-5 11-5 4-10 2-10v-10l-2-10-5-10-10-16-6-4-4-7-4 27-6 34-2 6-8 7-3-7-2-10-5-28-7 28-3 5-5 15 1 20 2 20h-47l9-40 1-10-11-43h-10l-4 33-1 10-1 40 1 10h-94l-1-2v2h-357l1-40-1-40-3-21-10 11-10-8-5 8-3 10-2 8-2 2-18 8-10-6h-10l-7-12-3-16-7 26-3 15-2 5-5 10 5 20 4 20h-128l-4-22-3 12-1 10h-161l4-20 1-3 10 6 10-14 3-9 1-10-2-10-4-10-4-10-4-6-3-4-7-5-5-5-5-6-10-5-2 31-4 10-4 4-3 6-3 10-2 10 3 10 5 11 3 9 1 10h-188l4-7 4-33-2-10-2-4h-10l-3-6-7-23-10-4-5 7-6 10-4 20 2 50h-42l1-10-3-30-3-11-5 11v20l2 20h-26v-10l-4-40-1-20v-20l1-20-1-30-2-20-4-24-10 2-10 18-6-6-2-10-2-22-10-3-3 25 1 10 2 12 7 8v10l-3 10-4 4-10 20-8 6-2 3-2 17-1 20-2 10-5 7-1 3 1 6 10 2 6 12 4 5 13-5 7-4 5 14 3 10h-82l2-30 2-20-6-50-2-10-2-5-4 25-3 10-3 6-10 6-10 4-10-2-5 6-14 10-3 10 7 20 5 20h-180l-2-10-4-10-4-5-5 15-3 10h-149l3-20 1-20-10-20-4-20-3-8-10-6-2 4-2 10v10l2 20-1 10 10 20 2 10 4 10h-40l2-20 5-15 3-5 1-30v-20l-4-34-2 4-6 10-2 2-5-12-5-15-3 5-8 10-5 10-1 10 4 30-1 10-6 14-4-14-2-10v-10l3-20-1-10-7-30-4-10-5-10-10 2-10 28-1 10 8 60-1 10-4 10 1 10 7 18 8 12h-221l-3-20-4-13-5 13-5 8-10-7-10 8-7-9-3-8-2 8-1 20h-43l-4-18-3 8-2 10h-62l-3-6-10-6-5 12h-69l4-16 10-3 3-11 2-10-5-22-10 3-7-31-1-20 2-50-4-60-1-10-4-10-5-9-6 9-4 9-10 2-10 19-3 30-1 50-2 10-4 23-4 7-6 6-13 34v10l6 20 7 17 10-5 2 8h-77l-1-30v-20l-4-16-2 6-8 12-4 28-2 20h-130l2-10 4-11 4 11 6 10 8-10 1-10 1-5 3-5 17-7 3-13-3-21-9-19-1-8-1 8-5 10-4 3-10-5-7-8-3-6-3 6-2 10-1 20-4 10 1 10-1 3v-13l-10-10-10-4-3-6-7-30-6 20-5 30 5 20 4 30h-44l2-30 3-20-4-10-5-5-10-5zM2160 557l-4 13-7 30-2 10-1 10 1 10 3 20 3 10 7 13 5-13 5-20 3-20v-10l-3-20-1-20-3-10zM2600 726l-6 4-4 5-2 5v10l2 3h10l10-3-2-10zM2780 750l-2 10 2 2 1-2zM2950 739l-1 11v10l1 1 1-1v-10zM3030 734l-1 16 1 5 10 2 2-7-2-15zM4330 758l-1 2-1 10 2 19 2-9 5-10 3-10zM4650 749l-3 11 3 27 4-17 2-10zM1210 724l-3 6-9 20v20l2 11v-1l10-10 6-10 4-10-3-10zM1260 697l-4 23-2 30 4 20 2 8 10-6 6-12 1-10-7-35-7-15zM1620 718l-2 12v30l2 7 6-7v-10l-3-20zM390 189l2 11-1 30 5 30v10l-4 20-2 25-1-5-2-40 2-40v-30zM1450 694l2 6 1 10-1 10-2 4-2-4-1-10 1-10zM870 767l3 13 3 20h-25l5-10 4-7 3-3 6-10zM1570 772l4 8 4 20h-23l2-10 3-6zM2110 800l8-10 2-1h10l10 9 10-11 10 1 10-2 4 14zM350 800v-1 1zM1317 800l3-8 6 8h-6z"/>
<path fill="#efa772" d="M1433 370l13-10 4-5 4 15 2 10 4 43 2-13 8-10 6 10 6 20 2 20 6 26 10 5 10 17 10 7 4 5 6 11 6-11 9-10 2-10 3-7 10-2 10-1 10 1 10-3 7 2 3 3 10 14 7-17 2-10 1-2 10 5 10-3 10 3 10-7 5 14 5 18 7 12 3 10 7 10 3 8 6-8 4-4 10 3 10-11 3-8 9-10 3-10 5-9 1-1 7-10 2-10 10-4 3-6 2-10 3-10 4-10 3-10 5-9 16 19 3 10 1 10 10 9 5 11 12 20 3 8 14 12 12 20 4 10 6 10 4 10 10 17 10 4 3 9-4 10 1 11 2-11 8-4 5-16 5-12 10-2 10 8 16 16 4 8 10-4 10-2 4-2 6-5 20-20 10-5 10-14 10-2 4-14 6-8 10 3 10-12 4-23 3-10 9-20 4-6 2-4 2-10 6-11 1-9v-10l-2-30 1-42 10-5 1-3v-10l-3-20v-50-10l2-13 3-7 2-10 2-20 5-20 3-10 5-8 20-2 4-10 1-10-2-10 1-10 6-18 5 8 3 10 2 4 1 16v30l5 40 2 30 1 30v20l6 40 4 50 5 30v20l-2 60 1 10 4 20 3 2 6 8 4 22 10 2 2 16 8 39 10-1 10 5 4 17 6 13 7 7 3 2 1-2 4-10 5-8 10 13 8 15 12 11 11-11 2-10 7-10 20-18 10 5 10 11 10 1 20-1 5-8 5-6 10 17 10 15 20-18 11-18 12-30 7-10 4-10 6-8 5 8 5 11 10 12 10 19 10-11 10 19 10-39 20-28 10-18 10-27 20-7 10-4 10 28 3-5 4-10 6-10 4-10 3-5 10-2 7 17 13 6 10-11 22-35 8-16 3-4 7-14 6-6 3-10 7-10 4-8 15 18 6 10 7 10 2 10 6 10 4 15 6 15 4 20 4 10 6 20 5-10 5-9 10 8 10-7 10-3 4-19 6-19 10 1 6 8 4 9 10-4 4 5 6 11 7 9 3 8 3 2 7 3 10-4 6-9 4-5 4-15 7-10 3-10 6-9 10-10h10l10 4 10 9 10-3 15 19 5 10 10 11 10 7 2 2 8 4 10 8 20-3 10 1 7 10 3 10 17 20 2 10 1 10 8 10 2 8 2-18 3-10 6-10 7-10 12-11 4-9 6-7 5-13 7-10 4-10 4-6 6-14 4-6 10-1 10-23 10-3 3 13 7 32 7 8 5 10 13 20 5 10 10 7 10-5 7 8 13 22 7 18 3 9 10 9 7 12 3 11 20 21 10 7 10-4 10-10 2-5 8-12 10-2 2-6 8-10 10 4h10l4-14 6-10 8 10 6 10 6 9 10-9 10-2 2-8 5-10 7-20 5-10 5-10 6-10 4-10 6-12 10-7 10-5 2-6 6-10 2-6 4-24 6-20 2-10 8-50 10-6 3 6 13 20 4 10h10l3 10 3 20 4 15 7 45 3 28 5 12 5 18 5 12 2 10 2 10 4 10 3 20 4 16 10 15 20 11 10 11 4-13 5-10 3-10 6-10 2-7 10-8 4-5 5-10 1-4 10-6 20-3 10-3 16 26 4 5 4-5 6-5 6 15 4 16 10 1 10-8 2-9 8-13 4-17 5-10 1-4 10 1 10-11 10-14 5-22 5-12 20-6 10 5 10 13 10 1 10 6 10 1 6 2 4 3 20 1 10 15 10-4 3-5 7-8 10 4 10-11 20 19 11-24 9-18 10-5 10-8 9 11 4 10 5 10 2 7 11-7 9-8 1-2 9-13 5-17 5-12 10 2 10 4h10l1-4 9-18 3-2 7-10 6-10 4-11 7-9 3-3 10-19 3-28 2-40 1-20 6-30 8-13 10-1 3-6 2-20 5-16 4 6 6 7 5 13 1 20 4 12 9 18 1 3 10 1 1 6v40l1 30 1 10 6 20 3 20 6 20 2 14 3 6 7 10 5 20 8 20 7 15 6 5 7 10 8 10 9 9 10-12 10-3 10 10 10-9 10-12 3-13 5-10 2-7 10-15 8 12 15 20 7 8 10 7 10 3 4 2 6 7 10-8 5-9 5-12 10 11 10-8 24-11 6-6 10-6 1-8 9-19 2-11 8-14h20l6 14 4 5 4-15 4-10 2-7 7-3 3-3 3 13 5 10 2 11 10-6 5-5 5-8 3 8 7 14 10 8 6 8 4 7 5-7 5-4 10-1 10-11 10-2 10-11 7 9 3 5 5 15 5 11 2 9 8 22 10-3 10-8 3 9 9 20 8 10 10 10 6 20 14 25 10 21 10-22 2-14 4-10 2-10 2-15 2-5 8-10 10-2 10-6 10 7 6-9 4-5 2 5 5 10 3 16 4 4 4 10 5 20 7 12 10-2v220h-59l-1-19-2 9v10h-303l5-5 7-25 3-8 8 8 2 1 10 16 4-7 4-10 3-10-3-10-8-17h-10l-6 7-4 10-4-10v-10l1-10-3-10-4-3-6 13-4 6-10-9-8 23-3 20 1 2 2 38h-22l9-50-6-10-3-3-4 13v20l4 30h-120l3-20 2-30-5-8-10 8-2 10 3 10 7 20 2 10h-157l9-20 7-20-1-10-8-33-7-17-6-10-3-10-2-10-2-14-2 14-3 30-2 10-3 7-10 3-7 10-3 7-6-7v-10l1-40-3-10-2-1-7 11-3 2-10 16-10 9-10 3-10 15-10-35-10 2-5 8-1 10 3 30 1 20 2 11 3 9 7 11 4-11 6-10 10 5 6 5 4 5 10 4 2-9 3-10 1-10-6-4-2-6 2-10 10-1 2 1 4 10-5 10 2 10 7 7 10 5 10 3 5 5 5 6 1 4h-240l2-10 3-10 4-7 10 4 5-17v-10l-3-20-2-21-2 11-5 10-3 2-10 3-10-4-10 9-7 10 1 10 2 10 4 10 3 10 2 10h-51l3-50-7-33-10 19-2 14v30l2 20h-37l-3-20v-10l1-10 2-10-3-19-3 9-2 10 3 10 2 10-1 10-2 10v10h-60v-20l-4-30-3-6-10-1-5 7-5 19-1 11v20h-275l6-12 10 8 3-6 7-7 10-15 3-8 1-10-1-10-3-16-10-18-10-3-10 7-10-16-10-9-17 25-1 10 2 10-1 10-3 4-1-14v-20l-5-10-4-6-4 16-4 10-5 10-3 10-1 10 9 20 3 10 3 20h-77l-1-5v5h-115l-2-10-3-10-10 3-6-23-4-31-5-9-5-4-4 14-3 20 1 10v10l-2 30h-62l4-30v-20l-1-10-3-26-10 1-10-29-10-5-10-34-5 13-15 22-4 18-6 39-10 9-1 2 1 3 10 9 5 18 4 10 6 10h-76l-3-10v-10-20-10l-16-20-10 8-5 12 2 10 3 7 4 13 3 20h-122l11-30 4-6 1-4-1-17-10 1-7-24-3-5-10 3-6-18-2-10-2-28-5 28-5 10-3 10-3 20-2 20 2 10 11 30 2 10h-87l10-8 5-12 5-20v-10l-10-26-10 11-10 3-5 12-1 10 2 20 3 20h-34l3-30 5-20-3-19-10 4-7 15 1 20 3 30h-24l6-20 6-10 2-10 1-10-9-30-2-10-3-30-4-15-10 9-10-1-9-13-2-10v-10l3-20-2-10-10-26-14 26-4 10-2 8-2 22-2 10-6 5-10 13-6 22-4 25-4-5-6-5-4 5-6 6-8-16-3-10-6-40-3-11-5 11-7 10-5 10-4 10-5 20-4 9-5-9-5-5-10-14-10 8-10 3-7 8-3 10v10l2 20 8 26 6 14 2 10h-34l-1-30-3-20-10-8-4 8-4 20-2 30h-114l-2-10-4-10-6 10-4 10h-205l1-20 2-10 9-20-7-18-10-34-3-18-4-40v-70l-1-20-2-15-6-25-4-11-10-3-10 3-10-29-10-4-10-2-4 6-6 7-6 13-4 13-5 107-3 50-3 20-3 10-6 15-5-5-5-8-10-2-6 30-2 20-2 8-2 2 2 2 2 8 8 18 5 22h-56v-20l4-20 4-10-1-20-3-10-3-7-5 7-5 10-8 20 2 10-1 10-3 4-2-4-1-10 1-10-4-10-4-5-10 11-3-6-7-8-10 24-6 4-2 10 1 30h-12l1-10 6-20v-10l-1-10-7-18-10-8-3-4-5-10-2-9-10 31-10 3-2 5-2 10 4 7 10-7 10 27 2 3 5 10 3 10h-64v-40l1-10-10-20-5-30-2-8-10-18-10-1h-10l-7-3-3-3-4-17-6-14-1 4-9 6-10 6-10 1-10-8-10 14-5 21-1 10 1 10 2 10 5 20 1 10-3 24-4 16v10l1 10h-60l3-16 2-4 8-9 7 9 3 3 6-13 3-10 1-10-7-30-2-10-1-14-2 4-8 5-2 5-8 9-10-8-14-31-2-30-4-13h-10l-1 3-2 10 1 10 7 20v10l-5 22-10-8-6-14-4-6-8 16-2 9-20-3-3-6-4-10-3-11-10-7-10-2-10 11-10 4-6 5-4 5-10 1-10 4-8-10-2-4-5-6-5-5-10-2-3-13-7-42-4-28-6-30 5-20-5-21-3 21 1 10-8 4-2-4-3-20-1-30-2-20-2-6-10-14-3-10v-10l4-20 1-40zM2250 644l-1 16v50l-3 30 1 10 3 12 1-22v-90zM2290 765l-1 5 1 14zM2650 489v1 2-2zM3040 696l-10 1-6 3-4 4-4 6-5 10-2 10v10l1 16 1 4 9 7 10 28 10-5 10-27 5-3 5-10-8-20-2-4-4-16zM3300 729l-1 11 1 7 2-7zM3780 748v2 2-2zM3910 748v2 2-2zM4190 702l-10 6-6 2-14 19-3 21 3 10 10 12 2 8 4 10 4 6 12-26 2-10-4-30zM4260 575l-6 5-3 10 3 10 6 9 8-9v-10l-3-10zM4300 654l-1 6 1 2v-2zM4390 744l-9 6 9 7 1-7zM4580 750h-1l-1 10v10l2 23 2-13v-10zM1790 590l-1 10 1 20 10 8 1-8 1-10-1-10-1-7zM1870 736l-3 4-4 10 5 10 2 2 5-12-2-10zM350 303l10 10 3 7 3 20v10l3 20 5 20 1 10v10l3 10 8 20 2 10 1 10v10l-4 30-5 18-10-10-10-16-10 23-10 13-3 2-7 8-3 22-6 30-2 50-2 20-3 10-4 11-9 9-5 10-3 20-3 10-10-8-5-12-15-8-10 6-4-18-6-19-8 19-5 20-7 17-10-11-4 14-1 20 6 30 1 20h-28l-1-30-3-41-10-37-4 8-16 17-7-37-13-28-3-2-9-10-8-15-5 15-5 7-10-24-4-3-3-10 2-20 2-20 1-10 12-23 10-10 10 10 20-2 4 5 10 20 1 10 8 30 1 10 3 10 1 10-1 20v10l3 13 6-13 4-6 5-34 4-10 1-1 10 10 5-19 5-11 10 11 10 13 2-3 3-10 1-30 1-10 3-8 2-2 18-7 10-21 8-12 2-6 10-12 10-5 6-17 1-10 3-10 10-9 3-11 2-20-1-10 2-20 9-40v-10l3-10 8-10zM622 710l4-30 5-20 5-40 4-10 10 1 10 9 10 4 5-4 15-19 10-28 7-33 3-4 6 4 4 4 10 3 2 3 2 10 1 10 1 20 4 18 10 7 3-15 3-30 4-8 10-9 10 6 5-19 1-10 4-13 10-23 4-4 6-12 10 1 10-19 3-10 3-20 4-10 20 3 4 7 6 6 10 2 4-8 1-10 1-10 4-7 10 3 5 4 5 10 10 8 10 4 4 8 6 16 10-4 5 8 5 6 6 14 1 10 3 9 6 11 1 10 3 10 10 11 5 9 9 20 6 10 5 10 5 6 2 4 4 10 10 20 4 10 6 10 4 5 10-4 7 19 3 17 2-7 8-19 1-11 7-10 2-1 5-9 9-10 5-10 8-10 3-5 10 14 10-3 10-1 10-8 3-7 7-8 10-5 10-21 5-26 6-20 9-19 10-4 2 3 5 10 3 15 4 5 6 17 3 3 7 20 10 18 5-8 3-10 1-10-4-20 3-10 5-10 8-10 4-10 5-6 7-14 3-3 10 3 10-10 6 10 7 10 7 20 10-7 9 7 1 2 10-4 10-24 5-4 5-7 18-13 2-3 3 13v20l1 10 2 10 1 20-1 10-4 20-1 10-1 30-5 30-3 20-2 7h-10l-3 3-4 10 2 30v20l-2 20-3 11-5-11-5-24-3-26-4-10-10-10-3-2-7 12-3 10-10 13-10-5-5-8-5-6-7-4-3-6-3 16-5 30-2 4-3-4-2-10-2-20-3-10-10-6-5 6-5 3-6 17-4 20-10 10-10-10-10-6-4-14-3-20-3-10-10-4-4 4-7 10-5 20-4 22-20 14-4 4-6 10-3 20-2 40h-17l-1-20-7-43-3-7-7-9-7 29-8 30-4 20h-56l-1-50-1-10-3-17-10 16-10-17-3-2-7-2-10 14-7-12-3-7-3 7-7 24-6-14-4-20-4-10-14-20-5-10-3-10-4-8-8 8-2 2-3-22-4-50v-10l5-20 1-10-2-10-7-18-8 28-7 40-5 19-10 15-9-14-1-3-10-2-5-5-5-3-3-7-2-10 1-10 4-7 6 17 4 9 6-9 1-10v-10l-3-20-4-17-10-13-5-10-5-19-10 10-8-1-2-3-2 13-1 10 1 10 2 8 9 12 4 10 3 10 2 10-1 20-6 30-1 3-10 17-4 10-6 29-4-9-6-24-3 4-4 20-3 6-7 34-3 13-2-3-8-9-4 19-2 20 6 14 10-4 4 10 6 12 10 12 10 6h-62l2-31 3-19-3-15-2-5-8-9-10 12-3-3-7-9-2-1-5-10-2-10-1-2-4 2 2 10v10l-2 10-10 20v10l-1 10-5 24-4-4-4-10-1-10v-10l1-10-2-19-3 19 1 10-8 10-10 10-10-2-16-28-4-3-3-7-3-10-1-10zM1070 711l-1 29 1 20 2-20v-10zM1160 616l-2 4-2 10 2 10 2 4 3-4v-10zM690 667l-1 23 1 13 5-3 5-4 3-6-3-13-8-7zM0 489l10 7 10 15 10-9 10 1 8 7 4 10 5 30 3 10 10 11 8 39v10l-5 20-3 13-8 7h-2l-10 21-10 32-8-23-7-30-5-16-4 6-6 13-2-3-2-10-3-30-3-12zM400 522l10 28 5 10 5 10 10 7 2 3 5 10 3 10 6 10 4 4 2-4 8-7 10-1 10 3 3 5 8 10 9 17 10 9 10 1 6-7 7-10 5-10 2-7 2-3 8-5 6-15 2-10 2-4 10 10 10 1 16 13 14 9 4 11 1 10-1 30 3 50-1 10-2 10-4 10-20 9-8-19-2-8-7-12-3-4-7 24-3 10-5 10 2 30-1 20h-9v-20l1-30-2-10-6-31-8-9-2-1-10 3-10-8-10-1-6 27-4 12-3-12-7-16-10 8-5 8-5 12-10 8-10 3-3 7-3 20-4 23-3-13-4-30-3-6-8 6v10l5 30 1 10h-20l9-30 2-10v-10l-3-10-2-10 1-30-1-10-4-9-10 1-10 7-1-19 1-40-1-30 1-12 1 2 2 10 1 10-1 20 5 10 2 2 4-32 1-10-1-30 1-20 3-20zM170 759l3 11 1 10v20h-29l5-24 12-6 8-10zM490 769l3 21 1 10h-11l1-10zM1530 773l2 7 3 20h-12l2-20zM1220 781l4 9 2 10h-15l4-10zM1280 782l5 8 5 10h-18l4-10zM1830 783l2 7 2 10h-8zM2670 780l10 1 4 9 2 10h-21l2-10zM2750 791l10-6 4 5 4 10h-20zM969 800l1-7 1 7h-1zM2957 800l3-7 4 7h-4z"/>
<path fill="#f1c185" d="M2150 163l4 7 6 10 3 20v20l-3 18-3 2-7 10-5-10-2-10-5-40-1-10 3-10zM2110 250l3 10 2 10-5 7-1-17zM2140 268l2 2 6 10 2 8 10 2 8 30 3 40 7 30v10l-2 10-6 22-5 8-5 4-8-14-8-10-4-3-10-2-4-5-3-10v-20l3-40v-20l-3-30v-10l7-6zM5030 600v200h-44l1-10 9-20 3-10 1-10-10-30-4 10-6 9-10-10-10-2-3 3-5 10-2 5-4 5 4 9 4 41h-12l-2-11-10-8-5 19h-49l-1-10-2-10-3-7-10-1-1-2-1-10 2-3 4-7-4-5-10 2-10-17-9-10-11-10-10 7-10 1-10-10-10-1-7 13-3 7-10 9-3 4-5 10 3 20-1 30h-30l5-30 1-4 5-6-5-9-3-11-4-10-13-19-6-21-4-17-10-10-10-4-7 11-13 10-10-26-4 16-6 15-10 4-10-2-6 23-4 14-10 16-10-19-10-2-10 6-10 2-6 13-3 10v10l1 10 3 10 5 12 5 8h-42l3-20 4-11 4-19-4-22-10-13-10-2-3-3-4-10-3-18-2 18-2 10-5 10-7 10-9 10-5 9-2 1 3 30 2 10 7 10h-96l14-20 2-6 2-14 1-10-7-20-6-17-5-3-4-10-1-18-5 8 2 10v10l-7 25-2-5-1-10v-10l2-20v-10l-7-20-4-20-5-10-11-10-2-5-2-15v-10l3-20v-10l-2-10-9-22-5 12-3 20-2 28-4-38-2-10-3-10-1-10 1-20-1-12-3 12-7 8-5 12-5 14-10-36-10 15-7 17-3 6-19 24-2 10-1 10-1 30-2 10-9 20-6 10-10 9-20-6-6 7-4 7-20 9-10 19-10-19-7-6-3-8-1 8-9 43-7-13-3-4-5-26v-30l-3-10-2-5-4 15-3 20-8 30-5 13-5-3-5-5-10-2v7l-2 10-4 10-4 7-10-1-10 12-10-10-10-49-10 5-6 46-4 20-10-12-10-28-5-10-5-6-10 5-6 11-4 10-2 10-1 20 3 7 2 13 1 30h-23l3-20 3-30-5-50 1-40-2-12-10-2-8 54-2 27-3-7-7-10-10-10-5 10-5 8-10 35-10 17-8 10-3 20h-54l2-50v-20l-2-10-5-17-6 7-4 7-4 13-4 20v20l-2 13h-10l-6 7-4 6-4-16-3-20-3-7-5 17-6 10-4 20h-33l-4-50-1-10-3-10-4-7-7 17-3 4h-10l-2-4-3-10-4-20-6-20-3-20-1-30-1-7-5-23-3-20-1-20v-30l-1-13-6-7-4-4-10-6-7 10-3 8-2-18-4-20-4-10-4 20-6 20h-1l-4 10 2 30 3 16 3 34 1 30-1 10-3 10-10-7-2-13-2-10-6-8-5 28-5 30-2 10-8 14-10-8-6 14-7 20-2 20 1 10 3 10 7 10 4 3 10 1 4 16h-32l-1-10-1-4-5-6-5-3-5-17-2-10-2-30-6-40 1-30-1-30 5-10 10-1 8-29 12-29 3-1 7-4 7-26 3-7 10-7 10 2 3 2 7 9 3-9-2-20v-10l9-45 5 5 3 10 2 16 3-6 2-10v-10l-4-40v-10l4-10 5-5 3 5 8 20 4 10 15 13 5 17 5 10 3 20 2 30 3 20 2 30v20l1 10 3 10 6 12 10 6 10 37 10 2 10-2 10 5 10 10 6-10 4-10 6-10 4-10 10-8 16-22 4-4 10-1 20-8 10 19 4 4 6 9 10-4 5 15 5 8 10 2 10-4 5-6 5-10 10-39 10 4 3-5 15-20 7-10 4-10 1-14 4-6 16-8 10 6 10 14 10 2 10 7 20 16 7 3 2 10 1 25 4-25 3-10 3-4 2 4 8 8 6 22 4 9 10-9 7-20 3-5 10 7 14 18 6 6 4-6 4-10 1-10-1-20 2-12 8-8 2-5 7 5 3 1 10-13 10-3 10 25 10-3 5-7 5-5 12-15 4-10 4-18 4 8v20l1 10 5 24 4-14 4-30 2-8 2-2 8-1 5-9 5-14 12-6 8-6 10 11 4-5 6-11 2-19v-30l3-10 3-30 2-54 10 2 10-6 7-12 3-7 10-1 10 12 2 6 2 10 3 10 2 10 1 10-2 20 1 10 9 20 2 3 7 27 6 20 2 10 9 30 2 10 5 10 4 10 10 20 6 10 14 20 5 5 8 5 2 2 3-2 7-10 10-2 2 2 8 10 6-10 14-16 5-14 5-16 10-14 8 10 6 10 6 7 1 3 9 9 2 1 8 6 2 4 9 10 9 13 10 1 5-14 1-10 4-10 10 4 6-4 11-10 3-1 10-5 10-4 10-5 3-5 3-10 1-10 3-7 4-3 5-10 1-11h20l8 11 2 8 10-15 1-3 2-10 7-6 3 16 7 12 3-2 7-2 10-9 5 11 8 10 3 10 4 8 5 2 5 4 3-4 7-12 10 3 10-11 10-1 10-6 4 7 8 10 2 10 8 10 3 10 5 13 10-4 10 1 4 10 6 11 4 9 14 20 5 10 7 13 3 7 17 31 6-11 3-10 5-10 3-20 3-10 6-10 2-10 2-6 7-4 3-1 10-7 10 9 7-11 3-8 4 18 1 10 7 20 2 10 16 20zM4450 736l-2 14 2 11 5-11zM4650 543v27l-2 30v10l2 19 6-39v-10l-4-10zM3820 756v4 2-2zM4060 631l-10 3-1 6-1 10 2 10 6 10 3 10 1 8 4-18 1-10v-10zM340 369h10l1 1 2 10 1 10-2 10-2 6-10-1-3-5-1-10zM2750 409l10 9 5 12 6 10 4 20 5 30 3 10 7 15 10 30 10 9 8 6 10 10-1 10-4 10-3 7-5 33-5 13-7 27-3 31-3-31-3-10-5-10-9-34-10-8-5-18-2-10-2-30-8-50-3-35-6-25-1-10 2-10 4-10zM370 437l4 13 1 10-5 9-3-9-1-10 2-10zM1790 444l10 43 2 3 8 8h10l10 24 9 8 5 10 1 10-2 10-3 4-5 16-5 8-10 10-10-14-10-24-4-10-3-30-3-5-4-15-2-20-1-20 2-10zM2960 458l2 2 3 10 2 30-1 20-6 11-10-10-10 6-1 3-1 10v10l2 13 6 7 2 10-1 10-17 23-10 4-2 3-8 5-10 28-10-9-10-15-10-9-10 12-4 8-6 10-10 9-5-9-3-10-1-10 1-30-2-30 1-10 4-20 6-20 9-40 10 1 7 9 3 6 6-6 4-2 11 22 3 10 6 37 12-27 8-10 11-10 4-10 5-18 10-19zM3000 463l24 37 4 10 2 10 10 12 10 7 7-9 13-7 10-1 5 8 2 10 3 7 10-2 4 5 6 5 10 31 10 28 7-24 3-21 10-16 3 7v30l2 20 2 10 3 9 10-5 2-14-3-20 1-10 5-20v-30l5-13 10-7 5-10 3-10 2-15 10 3 2-8 4-10 4-8 10 3 6 35v10l-3 10-3 10-2 30 2 21 4-11 1-10-2-20 7-10 10-11 10 8 10 22 10 10 6-9 4-3 10 10 10 17 3 6 3 10 2 10 1 10v10l-2 30v10l3 18 6-18 4-8 10-9 8 7 2 3 10 2 10 4 15-9 5-4 10-16 10-3 10-15 10 8 10-1 5-9 5-16 12 16 5 10 1 10-2 30v30l-6 38-10 3-3 9-3 20v10l3 10 3 4h10v26h-25l1-30-1-10-5-11-2 21v30h-28l-7-20-3-10-3-30-2-10-5-11-10 1-4 10-6 22-12-12-5-10-5-30-8-10-10-10-10 23-10-8-6 15-4 15-10 5-10 8-3-8-3-10-14-98-10 10-8-22-2-8-10 4-10-7-5 11-5 22-5-2-4-10-1-5-4 25-6 27-9-7-1-2-6 42-2 10-6 10-9 10-7 12-6-12-4-4-10 1-10-7-10-18-10-8-10-3-10-11-10-1-10-6-10-16-10 8-10-10-10 5-1 10-3 10-6 16-3-16-5-20-2-9-2-1-4-10-1-10-3-10-10 4-5 6-5 4-4-14-2-10-2-20v-10l8-10 10 19 3-9 1-40 2-10 4-4 10 12 2-18 2-40 2-10zM870 464l10 7 4 9 2 10v10l-6 25-10-14-6-21-1-10 2-10zM2090 465l1 35v20l-1 15-2 15-3 50-5 36-3-16-7-21-5 21-5 13-10-4-10 12-5 29-5 17-10 7-9-14-1-3-6-7 4-30-8-8-10 2-2-4-3-10v-10l5-13 10-15 10 2 10-14 5-10 5-6 2-4 8-18 5 8 5 17 10 12 6-9 4-10 2-10v-10l-2-30 3-10 7-17 7-3zM2720 464l6 6 3 10 3 20-1 20-1 10-5 10-7 10-6 10-4 10-8 13-3 7-7 12-10-11-6 19-2 10-1 10 3 30-4 15-1-15v-30l-1-10-3-10-5-13-1-7v-10l1-16 4-24 12-20 4-4 10-22 10-9 2-5 8-13zM1300 488l2 2 4 10 1 20-2 30-2 10-3 7-4-7-4-10-1-10-1-10 3-20 2-10zM960 494l5 16 5 10 10 36 10 21 7 43 9 10 4 3 10 1 2 6 2 10v10l-1 10-3 11h-10l-10 1-2-2-3-10v-30l-3-10-12-9-10 9-10-3-4-17-9-40-1-20 1-20 3-16 6-14zM1660 495l5 15 6 10 3 10 6 40 4 50-1 10-3 18h-10l-3-8-7-11-10-23-10 1-10 5-5-12-5-15-10-1-6-34v-10l7-10 10-10 7-10 2-5 10 4 10-8zM1220 513l3 17 2 30 5 10 10 37 10 15 3 8 2 10v10l-2 10-3 12-10 2-3-4-5-20-2-5-10 3-10-26-10 3-5-5-3-10 3-20 5-22 5-8 2-10 3-28zM1340 520l4 10 1 10 5 15 10 5 8 10 2 5 7 5 3 6 1 4-1 11-8 9-2 1-10 20-10-8-6 7-4 3-11-23-3-10-2-30 1-20 5-20 8-10zM1490 516l3 4 7 15 2 15 3 10 5 14 5-4 5-8 6 8 4 18 6 12 1 10-2 10-5 8-8 32-2 4-10-1-9-33-8-20-5-10-4-10v-10-10l5-50zM1730 518l9 2 2 10-1 10-3 30-1 20 1 30-1 10-2 10-2 10-8 20-4 22-10 17-2-19-1-20 1-10 3-30v-10l-1-6-5-14-3-10v-10l5-10 3-3 10-18 5-19zM2610 520l6 10 4 5 10 4 4 11 1 10v10l-5 30 4 10 6 7 1 13-1 5-2 5-8 13-6 7-4 11-5-11-5-34-3 14-3 10-14 15-4-5-3-10-3-24-5 4-4 10 2 10v10l-8 20-5 11-10 1-10-3-9-9-1-5-4 25-6 68-4 32h-40l1-10 4-10 4-10 7-10 4-10v-10l-2-10-4-13-6 3-14 3-6-3-4-4-7 4 2 20 1 30-3 10-3 3-7-23-1-10 2-10 5-20v-10l-5-20-1-10 4-30 3-15 10-15 11-10 3-10 2-20 4-13 2 13 1 20-2 20-2 10 1 22 8-12 2-1 3-9 7-10 10 25 10 3 10-11 10-41 10-1 10-9 10-30 6-26 4-14 10 1 10 8zM1570 525l10 13 10-11 4 3 2 10-5 20-1 3-5 7-15 50h-10l-10-24-4-6v-20l-1-20 2-10 11-10zM10 539l5 11 3 10v10l-1 10-4 10-3 5-10-16v-27zM290 538l4 12-4 11-1-1-3-10zM800 543l4 7 16 12 2 8v10l-2 13-10 14-13-27v-20zM270 559l2 1 3 10-1 30 1 10 5 19 10-3 3 4-1 10-12 17-4 13-3 10-3 4-4-4-6-10-2-10 4-40v-10l-1-20 1-10 3-10zM1860 569l6 21 1 10v20l-2 20 15 10 10 10-1 10-9 35-10 1-9-6-1-3-2-27 2-20-2-10-4-10-3-10 3-40 4-10zM2190 564l10 2 10 12 4 32 6 27 4-7 6-6 3 6 3 10 4 20 1 20-1 10-2 10-7 20-1 7-1-7-7-20-2-8-10 5-10-27-6-20-4-9-2-21zM140 580v-2 2 8zM710 579l5 21 5 16 10 7 10 29h10l10-11 3 9 3 10 1 10-2 10-5 20-20-19-10 3-10-23-10-9-7-22-1-10 1-10zM1280 580l3 10 1 10v10l-2 10-2 3-1-3-2-10v-10zM1760 575l4 5 6 16 1 14-1 6-10 2-2-8v-10zM1970 607l2 3 3 10-1 20v10l6 30v6l1-6 9-9 7 9-2 10-5 14-4-4-6-9-2 9-6 10-2 2-6-12-4-17-5 17-5 20-10 2-10-12-7-10-4-10-9-30-10 12-7-2-3-10 4-10 13-20 3-8 10-11 10 7 10 5 5 7 5 10 10-7 6-13zM40 614l3 6 2 10v10l-5 29-4-39 2-10zM410 616l8 4 2 2 5 8 2 10 8 20 8 10 2 10-5 11-10-3-4-18-4-10-2-2-10 1-3-9-1-10 1-10zM470 637l2 3 3 10v10l-5 12-3-2-4-10 1-10 3-10zM2330 638l7 2 3 4 3 26 7 8 5 12 2 20 3 12 10-4 5-28 5-22 10-9 4 31 4 10 10 10 2 3 2-13 2-20 2-10 4-11 3 1 7 6 5 14 1 10-2 10-5 20-1 10v10l-8 9-10-6-4 7-6 8-3 2-6 10-1 4-6 6-4 2-10-12-12-10-16-20-2-10v-32l-1 42-1 10-3 10-5 11-14-11-6-3-10 3-6-30-6-40-1-10v-10l3-6 10 1 9-5 1-2 2 2 4 10 4 22 2-2 3-10v-30l3-10zM560 647l4 13v10l-1 10-3 14-3-4-6-10v-10l2-10 5-10zM650 647l3 3 1 10-4 1-1-11zM1110 644l5 6 2 10-7 16-5 14-5 20-7 20-3 18-5-28-1-10 1-20 5-25 10-17zM1130 649l3 1 3 10-6 13-6-13 4-10zM1610 650v-2 2 3zM590 656l2 4 3 10 1 10-6 16-4-26 2-10zM670 654l3 6 2 10-1 10-4 11-6-11-3-20zM190 671l3 9v20l-3 24-2-14v-20-10zM1050 670l8 10 2 10 1 10-2 30v30l3 30v10h-17v-40-20l-3-20-6-30v-10l4-8zM2270 746l1 4 1 10-2 13-3-3-2-10 1-10zM2230 750l3 30-1 10-1 10h-1l-2-30zM2430 760v-4 4 2zM3290 757l6 13 3 10 2 20h-39l9-20 9-9zM3640 761l8 9 2 30h-25l3-10 6-10 3-10zM2570 771l5 29h-15v-10l3-10zM2920 773l4 17 5 10h-18l3-10 2-10zM4140 780l10 8 3 12h-23v-4zM4830 773l2 7 3 20h-21l2-10 4-11zM1880 785l2 5 1 10h-9zM1900 782l3 8 1 10h-8l1-10zM2020 790l10 1 2 9h-13zM3000 786l4 14h-7zM4356 800l4-11 10-4 7 15zM4600 787l2 13h-4zM2300 800v-2 2zM4197 800l3-6 4 6h-4z"/>
<path fill="#f3d89a" d="M4300 313l7 7 3 10 1 10v30 10l2 10 4 10 8 10 5 5 9 5 1 1 2 19 3 10 5 8 3 12 7 11 4 29-4 11-10-4-3-7-7-10-6-20-3-20-3-10-4-10-7-10-3-10-4-8-10 11-10 32-4-15-6-10-10-9-1-21 1-12 10-12 2-6 2-10 4-30 2-7 2-3zM4730 468l10 13 4 9 6 10 8 10 2 3 8 7 2 6 2-6 5-10 3-4h10l2 14v10 10l-2 5-10 25 3 30-1 10-5 20-4 30-3 7-6 3-4 1-20 2-10-1-8 8-2 1-10-22-2-59-2-20-4-20-1-10 1-10 6-10 2-2 4-38 3-10 3-4zM4730 597l-2 3-2 10v10l1 10 3 8 2-18v-10zM4670 488l3 32v10l-3 8-3-8-2-10v-10zM4250 490l8 10-8 20-9-10 2-10zM4490 510l3 10 1 10-1 10-5 20 1 10 3 10 8 17 10 4 6 9 2 10-3 10-5 6-10-7-10 17-4 14-6 40-6 10-4 3-10-3-10-19-8 9-2 12-5 8-5 2-10-5-10 20-10-27-5-20-1-20v-10l2-10 4-8 10-7 10-4 3-11 3-10 4-6 10-5 1 1 6 10 3 16 2-6 3-30 5-18 10-5 3-7 3-10 4-21 5-9zM4830 518l3 12 2 30 3 20 1 10-2 10-7 23-6 7-4 11-4-11-3-20-3-10-5-10-3-10v-10-10l4-20 4-11 10 3 6-12zM1660 537l1 13-1 16-1-16v-10zM2850 540l10 4 7 16 1 10-5 10-3 3-10-3-2-10v-10zM1820 545l1 5-1 10-2-10zM3930 548l10 3 5 19 1 10 1 30-1 10-7 10-9 10-7-20-5-30-1-10 3-5 1-5zM4170 548l1 2 3 10-4 8-1-8zM4860 547l2 3 8 10 12 20 16 40 2 7 2 3 8 4 3 6 7 12 10-7 7-25 3-23 10 3 10 15 2-5 8-51 7 11 3 10 4 20-1 10-3 3-13 17v30l-1 10-2 10-4 11-5 9-5 6-20 9-8 5-8 10 1 10 1 10-1 10-2 10-3 11-2-11-1-10v-10l3-30-1-10-6-30 1-10-4-24-3 14 1 20-2 10-6 14-10 3-4-7-16-20-5-10-4-30-7-30-3-20 1-10 2-10 5-10zM3970 556l10-1 4 5 6 10 1 10 2 40-1 30v20l-2 28-5-28v-10l-2-10-3-3-10-1-4-6-4-10-2-10-1-10 4-30 2-10 3-10zM2040 560l1 10v10l-1 6-3-6 1-10zM2590 563l6 17-1 10-5 6-4-16v-10zM4570 567l2 23 8 20 2 10-2 5-3 15-1 10-1 30-1 10-4 11-10-1-6 10-5 10-9 12-3-12-7-37-2-3-4-10v-10l2-10 4-6 4-24 6-26 7 16 4 20 3 10 6 6 4-16 3-20 2-20zM3290 571l10 7 10 10 1 12-1 15-5-5-5-6-6 16-3 10 1 30-2 15-2-5-1-10 2-30-1-10v-30zM4370 572l2 8 1 10-3 9-2-9v-10zM3000 581l4 29v10l-4 19-1-9-1-20zM3540 583l2 7v10l-1 10-1 10-4 10-6 30-10-9-3 9-7 23-10 4-4-7 1-10 6-20 2-40 5-28 3 8 7 12 10-2 7-10zM4610 583l5 27 5 19 3-9 7-8 4 8 6 17v3 11l-10 7-5-8-4-10-1-7-1 7-5 10-4 15-2-5-5-20-3-5-6-15-1-10 2-10 5-13zM3100 591l10 9-4 10-2 10v10l1 10 4 20 1 4 10 5 6 11v10l-4 10-2 2-2-2-6-10-3-10-9-7-2-3-3-10-1-10 4-30zM3790 592l3 8 2 10v10l-1 20v10l4 30-2 10-6 5-4-15-2-30-3-20 2-20 2-10zM4210 599l1 1 5 10-6 9-5-9zM3050 620v-3l4 3-4 6zM3760 615l4 5 1 10-1 20 1 30-2 10-3 11-4-11-2-10 2-40 1-10zM4020 615l10 2 2 3 2 10v20l-4 33-10-16-3-27zM5000 615l20 22 10 1v53l-5 9-2 10-3 4-10-13-3-11-3-10-6-10-3-10-1-20v-20zM3270 621l4 9 2 10 1 10-1 10-4 10-2 2-3-12-1-20 1-10zM3420 622l2 8 4 30v20l-3 20-3 12-3 8-3 10-1 20-3 12-4-12-3-20-4-20-4-10-4-10-2-10 5-10 6-6 6-14 2-10zM2460 645l4 5 6 15 1 15-1 5-10-5-3-10-1-10 2-10zM3650 645l5 5 5 9 1 11-1 7-1 3-9 6-5-16v-10l2-10zM1930 656l4 4 6 7 1 13-1 5-10-3-1-2-1-10 1-10zM3150 658l3 12-1 10-2 10-4-10-1-10 3-10zM3810 653l10 7v2l1-2 9-3 4 3 9 10 6 10v10l-9 9-6 11-4 12-5-22-5-20v-4 4l-10 28-6-8-2-10-1-10 6-20zM4830 656l3 14-3 7-2-7v-10zM3720 661l10 9 2 10-1 10-2 10-9 24-4 6-6 11-10-21-2-10-2-20 9-10 5-2zM2300 679l2 1 3 10 1 10-1 10-3 10-2 3-2-13-1-20 2-10zM2500 677l2 3 2 10-4 9-1-9zM1050 690l1 10-1 11-1-11zM5030 761v39h-12l2-15zM3290 781l3 9 1 10h-12l3-10zM3640 800v-1 1z"/>
<path fill="#f5f2b4" d="M4740 509l10 9 1 2 9 34 2 36v10l-2 11-10 3-3-14-3-30-4-19-9-11-1-10 3-10 6-10zM4870 602l4 18-1 10-3 15-4-15-5-10 2-10z"/>
</g>
<rect x="172.10" y="317.80" width="1702.50" height="238.60" fill="#3480b9"/>
<g transform="translate(172.10 317.80) scale(0.338469 0.298250)" fill-rule="evenodd" shape-rendering="geometricPrecision">
<path fill="#529dc8" d="M0 0h5030v800h-5030zM1060 159l-2 21v20l2 50 1-10 5-30v-10zM1080 358l-4 2-5 10 6 30v30l3 17 2-17v-60zM1060 250l-3 30v10l2 10v10l-2 20v10l3 40 8-10-3-10-2-10-2-30-1-20 1-30z"/>
<path fill="#84bcd9" d="M0 0h5030v800h-5030zM720 19l-2 1 2 13 1-13zM1010 68l-1 12 1 14 3-4 1-10-3-10zM1060 85l-8 65v20l1 50-1 10-2 16-10 1-10-2-2-5v-10l3-20 2-10v-10l-2-10-11-31-10 5-3 26 1 20 2 14 3 16 6 50 1 45 3-5 7-6 4 6 5 10 1 10-2 20 1 10 7 20 4 20v10l-2 10-4 10-3 10v10l6 30 3 20 3 10 7 11 10-32 11-9 6-10 3-10 1-10 3-30-1-60-2-10-5-20-6-15-7-5-3-5v-18l4-17 1-10-2-20 1-10 5-30 1-10v-10l-2-10-8-12-2-18-1-30zM2380 318l-1 2v10l1 2 1-2zM2400 53l-1 27 1 9zM3340 54l-4 6-4 10 1 10 7 25 2-15 1-10z"/>
<path fill="#aed3e6" d="M0 0h4941l8 10-1 50 2 39 3-39-1-20-1-20v-10l10-10h69v800h-5030zM240 118l-1 22 1 13 2-13v-10zM520 512l-1 8-1 10 1 10 1 3 1-13v-10zM590 9l-7 1-3 5-1 5 1 30 10 31 3-11 3-30 5-20-1-5-3-5zM660 18l-1 2 1 2 1-2zM720 10h-2l-18 10-1 10 1 11 10 12 2 7 4 40 4 24 2-34v-30l3-40zM1060 9l-1 1-6 10-1 20 2 30-1 20-3 20-6 10-4 21-10 1-2-12-1-10 2-30-1-10-6-60-2-1-6 1-4 6-5 34-2 20v50l-3 35-3-25-4-40-3-10-3 30v20 20l3 60 10-22 10 92 1 10-2 20v20l6 40 4 50 5 20 1 10-1 40 3 20 3 13 4 7 6 21 10 9 10-3 6-7 7-10 7-16 3-4 7-7 10-5 6-18 2-10v-10l-2-30 1-30-2-30 1-30-2-10-7-20-3-10-4-27-1-13 1-10 10-18 2-2 3-10-5-4-5-26-5-56-4-14-6-32-7-18-3-10-1-20v-30l-1-10-6-10zM1190 142l-1 28 1 51 2-51zM1860 14l-3 6 1 30 2 30-1 50 1 36 2-26-2-60 2-40 1-20zM2250 478l-1 12 1 12 1-12zM2300 371l-2 19-2 30-5 50-1 30v16l2 4 8 9 6-9 6-50-4-50-5-40zM2340 118l-1 2-1 10v10l2 6 1-6 1-10-1-10zM2400 13l-10 5-10-1-1 3 1 17 10-6 1 19-1 7-8-7-2-6-4 36v40l-6 39-5-19-2-10v-50l-3-12-3 12-3 30 3 40v20l1 10 2 7 6-7 4-9 4 19 2 20-1 10-2 10-3 8-4 2-6 5-5 45-1 40-1 10-5 20v10l2 15 8 35 4 10 8 11 10-6 3 5 3 30 2 10 2 7 10 2 2 1 5 10 3 13 10-2 4 9 6 3 2-3-2-12-10 1-2-9-1-10v-40l3-4 5-16-3-40 1-10 7-14 3-26v-10l-2-10-1-2-10-9-7 11-2 10-1 10 1 10 7 30 1 10-3 20-6 28-1-8-2-10-7-10-10 4-1-4-2-10 1-10 2-6 14-24 4-10 2-10-1-10-5-30-1-10 1-50-4-38-10-9-1-3-2-10v-10l3-19 10-9 3-42 1-40v-40zM3140 17l-10 1-2 2v30l2 14h10l2-34v-10zM3330 9l-2 1-8 10-1 30v20l1 10 6 30 1 10-7 21-3 49v30l3 26 7-6 3-5 5-5 5-11 3-19 2-30 2-30v-20l2-30v-20l-6-50-3-8-3-2zM3690 194l-10 14-10 1-2 11-2 20 1 40 3 31 8 9v10l-5 30-3 32-1 48 1 21 3 19 2 40 1 10 4 12 10-5 5-7 3-10 2-8 10-8 3-14v-10l-3-26-2-4-1-10v-10l-2-20v-10l5-10 8-20 8-50-1-10-5-20-2 10-4 10-4 5-10 16-7 9-3 13-8-33v-10l4-20 3-10 11-10 5-10 1-10-2-20-3-20-1-2zM590 122l-10 17-2 11-1 10v10l1 10 5 20 1 10v10l-1 10-3 10-1 10 1 12 6 8 2 10 1 40 1 12 4-12 6-9 10-5 10-2 1-24v-10l-1-13-10 3-10 15-6-5-2-10 1-20 1-10 3-10 5-10 3-10 1-10-2-10-6-20-4-30zM660 90l-9 20-1 10 10 4 2-14 1-10zM2340 179l-1 11 1 13 1-13zM620 335l-6 35 1 40-2 20v10l3 40 4 29 4-29 1-20-3-50v-40z"/>
<path fill="#d4e6f1" d="M0 0h986l2 20-1 20-1 30-5 50v100l1 10 8 26h10l2 24v10l-2 23-2 7 2 4 3 36 1 40 7 70v40l2 10 7 17 8 23 5 20 7 22 10-1 10 6 10-7 10-10 20-28 20-42 10 15 8-5 12-20 4-10 2-10v-10l-2-10-4-9-9-11-1-3-10-9-4 12-6 10-2-10-1-20v-30l3-40v-20l-2-10-8-14-1-6 1-5 10-17 2-8 3-30-1-20-1-10-3-14-10-7-7-9-3-6-2-44-8-25-3-15-5-40-1-30-1-10-4-10-6-2-10-2-10 4h-7l-13 3-5-3-15-1-3 1-3 10-2 20-2 12-5-12-2-10v-10l2-20h127l8 3h10l4-3h766l10 7 2-7h423l5 1 7 9v10l-3 10-4 21-4 9-6 10-10-8-5 28v20 100l-2 40-3 10-3-10-3-20-2-10-12-20-4-10-3-10-4-10-9-19-10-5-5 34v20l4 40 1 10-1 10-6 30-3 31-2-11-2-20-6-31-10-18-3 29v20l3 19 2 11-1 30 1 30-2 70-5 40v10l1 10 4 8 10 44 6-2 4-3 2-17 8-35 7 35 8 30 5 20 10 10 7-10 13-12 10-15 7-13 3-9h10l10 6 10 11 10-11 10-7 10 1 10 20 10 14 10 4 10 9 5-18 5-33 1-17-1-22-4-28-1-20 1-30-1-10-4-20-1-10 1-10 2-20 7-37v-13l-1-10-6-20-3-30-10 3-10-9-1-4-6-10-3-4-3-16-2-20v-50l4-70-1-40-5-10-3-1h-10l-10-3-8 4v30l-2 13-3-13-3-20-1-20h1364l3 1 8-1h90l-8 10-10 4-5 6-2 10-1 10 1 10 3 20 2 20v10l-3 30v30l2 40-2 40 1 10 4 13 6-13 2-10v-10l-4-30v-10l2-10 4-9 10 7 2-18 1-20-2-50 3-50-3-30v-10h248l1 1v-1h204l6 1 144-1 6 3 10-1 3-2h481l9 10 1 10-1 20v50l3 50 4 33 3-3 5-10 2-10v-10l1-20-1-30v-40l-3-30 2-10 10-10h61v185l-5-15-3-20-2-37-1 37-2 40 2 40-1 40 1 30 1 40-2 20-6 40-1 20 1 40 2 10 4 10 2 4 2-4 2-10 1-30 1-10 4-15v385h-3567l-3-32-3 12-1 10v10h-1456zM20 12l-4 8-1 10 1 10 4 8 3-18v-10zM150 253l-2 17v10l2 48 1-48zM170 396l-2 4-4 10-4 50 1 20 4 50 5 24 5-14 2-10 7-40 1-10v-10l-3-30-4-20zM220 290l-5 10-2 10 7 7 1-17zM240 9l-1 1-2 10 1 30v20l-5 60v20 20l2 10 5 19 9-19 3-10 2-10 1-20-1-20-6-20-2-10-1-10 1-20 2-20-1-20-4-10zM340 600l-7 10-3 3-2 27 1 30-3 40 2 20 2 19 5-29 2-20 1-10-2-20v-10l2-20 2-6 4-4 1-10-1-10zM360 579l-4 11-4 20-1 20-1 21-3 9-2 10 5 10 10 35 3-15 7-23 2-27v-20l-2-15-5-15-2-10zM450 297l-4 13-1 10 3 40-1 40 1 10 2 8 15-18 2-10-3-20-4-43-2-7-4-20zM480 13l-3 7v40 10l3 20v8-8l6-40 1-20-1-10zM530 180l-6 20v10l6 4 2-14v-10zM580 3l-7 7-1 10 1 40 3 30 1 10-1 10-1 10-6 20-9 47-4-17-6-17-5 37v20l5 43 7-23 3-18 4 18 5 50 7 40 1 20-1 10-7 20-1 10v10l2 10 10 20 6 20 4 7 4 23 6 19 10 17 2 14 5 40 3 21 5-21 5-47 6-13 4-13 6 23 4 7 10 1 5-18 2-10 1-10-1-20-2-30-5-30-4 10-6 9-5 11-5 18-6-18-4-19-3-91 1-50-1-10-5-30-1-10 2-30v-20l-3-20h-10l-2-10-1-30 2-30-3-40 1-20v-10l-7-4-10-2zM720 7l-10 1-10-1-6 3-4 12-10-1-7-11-13-8-10 3-7 5-3 10-1 50-3 40-1 20v40l1 10 4 24 2 6 4 20 3 10 10 20 1 4 4-24 2-20v-20l-3-20-1-10 1-10 3-20 4-18 10-27 8-5 2-2 3 12v20l-3 17-1 13 1 14 3 6 7 12 6-12 4-19 2 19 5 20 3 21 7-121v-30l3-40-3-10zM850 669l-10 6-1 5-1 10 2 13 10 15 3-18 1-10v-10zM890 788v2 5-5zM1150 185l-4 25-6 12-1 8 1 7 10-7 4-40zM1160 170l-2 10 2 2v-2zM1190 82l-1 28-3 20-2 20-1 50 1 20 5 40v10l-2 40v10l3 15 5-25v-10l-4-30 1-10 4-30 2-60-2-30-5-40zM1420 708l-1 12 1 10 1-10zM1460 629l-8 11-2 10 1 10 2 10 3 10 4 8 3-8 1-10-1-20zM1690 300l-3 10-1 10 1 10 3 8 4-8 3-10-1-10zM1860 7l-10 3-4 10 2 20 1 30 3 40 2 60 6 50 9-50 2-30-4-50 1-20 2-29v-21l-3-10zM1900 241l-3 9v10l3 20 2-20zM1930 9l-6 1 3 10 3 4 6-4v-10zM1947 10l-3 10 6 11 10 27 10 7 4-5 3-10-1-30-7-10-9-1zM2160 598l-5 22-1 10 1 10 5 13 4-13 1-10v-10zM2250 16l-3 4v10 20l-1 10-2 10 1 10 5 13 1-43 1-30zM2440 20v2l4-2zM2480 110v25l1-15zM2500 18l-4 12-2 10v10l3 30-3 50 6 49 4-9v-10-80l2-30-1-10-2-10zM2800 32l-5 28v10l5 22 4-22v-10-10l-2-10zM2820 18l-3 2-2 10v10l1 10 4 15 2-25-1-20zM3140 9h-10l-6 1-4 4-10 4-2 2-7 80v20l1 10 8 33 7-13 2-10 1-8 2 18 4 30 1 30 3 17 4-7v-40l1-10 3-10 2-6 8 6 2 2 5-12 2-10-1-10-1-10-5-15-3-5-1-10 2-40 3-30-6-10zM3280 87l-12 33 1 10 1 5 2 5 8 11 3-11 2-20-2-20zM3330 4l-13 6-4 10-1 40v30l-2 30 1 30v40 20l2 30 6 40-1 30 2 28 10-9 5 11 5 19 5 11 1 10v10l-1 10-15 30-9-10-1-5-1 55 1 13 10-14 10 49 13 12 17 10 3-10v-10l3-20 4-11 3 11 4 10 3 5 10-4 7-11 2-10v-20l-1-10 2-6 5-24 1-10-1-10-5-20-6 10-4 10-1 10v20l-3 10-13 10-3 5-7-15-2-20v-10l1-10 6-20v-10l-4-10-4-8-5 8-5 14-2-4-2-10-2-10v-30l-3-40 3-40-1-60 4-70 3-31 2-9-2-5-1-5-5-20-4-30-3-10-7-5zM3370 18l-2 2 2 24 1-24zM3400 276l-6 14-2 10v10l2 30 2 10 4 10 3-10 1-10 1-40v-10l-3-10zM3470 186l-3 24-1 40 1 20 3 12 2-2 5-10 11-50 1-10v-10l-9-9zM3670 7l-2 3-2 10-3 30-3 18-6-18-2-10-1-20-1-2-1 2-1 20-8 35-1 25 1 15 5 25 1 70 3 70 1 8 3 2 7 15 3 25 1 20-2 40v60l4 50 2 40 2 14 10 20 10-1 10 17 10 10 2-10 1-10 2-30 5-18 8-12 2-5 7-25 10-30 2-10-1-10-7-20-3-10-1-10 2-30-2-50-5-60v-40l-1-10-1-5-10 4-6-29-3-30-1-5-3-5-3-10-2-20 2-30-2-40-4-20-4-10-4-2zM3830 198l-5 22-2 10v10l1 10 6 21 3-11 1-10-1-20zM3850 295l-6 25-1 10-1 10 1 10 7 29 10-22 3-27-1-20-2-10zM4020 10h-4l-6 2-5 8-3 40v10l7 30 2 20 9 23 4-13 2-10 4-40v-10l-2-30 1-20-7-10zM4030 302l-2 8v10l2 21 1-21zM4530 10l-5 10-1 10-2 20-1 20 1 10 7 30 1 20-2 30 2 20 2-20v-10l-1-20v-20l6-30 2-20v-10l-3-20-2-10zM4870 10h-1l-3 10 4 32 6-22 2-10-7-10zM4900 7l-4 3v10l4 17 4-17v-10zM4920 469l-1 11 1 6 2-6zM4990 92l-2 18 1 10 1 11 2-1 8-8v-2l-2-10zM220 339l-5 11v10l5 10 2-10zM330 753v7 6l1-6zM360 737l-2 13-2 10v10l4 13 4-13v-10l-2-10zM480 100l-7 50-3 33-10 20-1 7v20l1 20 10 9 10-4 3-15 2-30v-40l2-10 5-20v-10l-2-10-7-10zM530 256l-3 4-3 10-1 10v20l-1 10-7 20-1 10-3 30-1 8-10 6-3 6-4 10-5 20-1 10v40l1 10 2 11 5 19 2 40 3 18 10 9 10 28 2-5 1-10 4-10 3-10 1-20 8-50 1-20-1-40 1-14 2 14 1 10-2 30v10l9 26 3-36v-50l1-30-1-10-3-11-7 11-3 7-3-27-4-90zM550 311l-1 9 1 8 10-8zM660 282l-6 18-1 10-1 20-2 20v10l8 20 2 9 3-29 2-50-1-10zM1900 320l-5 20-2 10-1 20 1 10 4 30-1 30 1 10 3 4 2-24v-30l6-30 2-10-1-10-2-10zM2250 179l-3 11-1 10 1 10 3 7 2-17-1-10zM2500 204l-8 36v10l2 10 6 12 6 8 3 10-4 40 5 70v10l-4 30 1 20 3 16 10-16 4 10 3 10 3 18 2-18 3-60-2-40 2-30v-10l-3-40 3-40-1-20-4-29-10 6-3 3-7 5-8-15zM3150 221l-3 9 2 10 1 2 1-12zM3830 484l-3 16v10l3 20 8-20 3-10-6-10zM4870 100l-2 20v10l1 30v20l-3 30v10l4 28 2-8 1-10v-10l-2-40v-10l2-10 5-20v-10l-2-10zM4900 70l-2 30 2 34 2-14 8-24v-6-10zM3120 101l1 9-1 16zM3660 120l4 50v10l-4 19-3-19-1-30v-10zM5030 226v134l-4-10-3-10 3-20-2-10-1-10 2-20v-10l-2-30 3-10zM2280 245l10-1 1 16-1 43-2-23-8-7-5-13-2-10zM3659 260l1-6v6 9zM3330 274l2 6v10l-2 6-3-6-1-10zM2280 330v-7l2 7-2 4zM2260 360v-1 1 1zM2330 367l3 13v10l-3 9-2-9-1-10 1-10zM2280 399l2 11v10l-2 11-4-11 1-10zM2513 400l7-9v9 2z"/>
<path fill="#ecf2f5" d="M0 0h88l2 2 9-2h307l4 1 13-1h139l-1 10 2 30v30l3 30v10l-6 28-3-8-2-10v-10l2-30-2-30 1-10 3-30-9-5-6 5v10l2 20v10l-5 40 1 10 2 20v10l-4 37-4-27-1-10 1-10 2-20 1-10-3-20-6-17-10 5-2 12v10l3 40-1 10-7 20-3 18-1-8-1-20-2-10-8-40-1-10 1-30-3-30-5-10-10-3-6 3-4 10-6 20-4 6-4 24v10l1 40v20l-7 41-5 9-3 10v10 10l3 20 1 10-1 10-2 10-7 20-3 10-2 10v10 30l-3 60-4 30-2 30v20l3 30 5 19 10 16 4 5-8 10 4 12 10 4 3-6-8-10 5-4 8-16 3-10 9-37 10 6 4 21 1 10v20l-2 10 7 20-1 10 3 10 5 10 3 11 7 9 3 5 10 4 8-9 6-10 4-10 2-10 10-9 3-11-1-10 3-10 3-10-1-10 2-20 1-18 5 8 3 10 2 3 5-13 5-4 10 7 4 7 3 10 1 20 4 10 8 8v2 6l-2 4 2 2 3 8 4 20v40 10l3 15 7-15 4-10 5-40 4-13 10 3 10 10 10 4 3-4 6-10 2-10 1-10 3-10-1-10v-10l6-16 2-14 1-40 2-10 3-10 12-29 10 13 7-14 2-10-6-50v-10l3-30v-10l-1-20-4-20v-10l5-40 2-20v-30l1-60 2-40v-30l3-40-2-10-2-2-10-3-10-1-10-4h-3 206l7 2 10-1 2-1h54l3 20 1 40-4 50v50l-2 50v10l3 20 7 30 1 10-1 40 2 40-2 30 1 10 7 40 2 20 5 30 2 40 4 20 4 10v10l15 30 3 10 3 8 10 17 5 5 5 9 10-3 7 4 1 10 2 6 2-6v-10l-3-10 1-7 2-3 8-2h10l10-7 6-11 4-3 5-7 4-10 1-5 1 5 4 10 5 8 10-5 10-3 2-10 9-20 3-10 4-10 3-10 1-20 3-20 7-20 8-11 2-9 2-30v-70l1-10 6-30 2-10v-10l-4-30v-10l4-30v-30l3-30v-10l-4-30-6-40-3-50v-40h456l1 1 3-1h247l10 7 4 3 2 10 1 20 2 40 1 17 8 13 2 10v20l-2 20 12 10 2-10 1-30-1-10-2-8-2-2v-30l-1-20 3-11 2 11v40l5 10h3l10-6 10-4 10 4 4-24 2-20v-40l1-10 3-5 2-5h206l2 1 7-1h116l-3 10 2 40-2 20-5-10v-10l3-20 1-20-9-2-5 2-4 10 4 30-1 10-3 10v10l9 13 2 7 2 10-1 10-3 7h-10l-10 11-4-8-3-10-1-10 3-30-1-10-3-30-4-20-7-9-10 9-5-10-5-2-8 2-2 2-2 8-2 50 2 40v50l-5 60-4 20-2 20 2 70-4 50v20l2 40-1 10-6 11-2 9-3 20-2 20 3 40 4 28 10-8 10 7 5 23 4 10 1 2 10 7 7-19 3-16 5 16 8 20 7 12 10 8 10 1 3-11 27-33 10 6 10 10 10-5 6-8 4-20 10-4 10 8 20 44 10-2 10-7 10-19 7-20 1-10 2-40 4-30 11-20 5-6 4 6 6 15 10 17 3 18v10l1 10 2 10 4 11 10-13 10 25 5-23 2-40 3-11 5-9 3-10 1-10-1-20 1-20 1-10 3-10 1-10-1-10-2-10-1-2-3-18-2-30-5-30-1-20 1-14 6-36 4-12 10 62 2-10 2-10 1-10-2-50 3-60-2-20-4-19-4 19-1 40-1 10-4 18-4-8-8-20-8-9-10 1-5-12-1-10-1-20 5-60-1-10-3-20-5-20 1-5 8-5h30l2 1 6 9 2 10 2 31 4-51h356l10 3 10-1 5-2h384l-19 9-8 1-12 11-10-6-5 5-2 10 1 30-1 10-3 13-10 8-3-1-6-10-1-4-1 34v10l1 10 10 33 4 7 7 10 3 10 1 10-1 10-5 20-2 10v20l3 29 7 31 3 17 6-27 4-11 8 11 2 4 10-2 2 48-1 30 1 40v50l3 40 3 20 2 6 10-3 3 7 13 20 4 8 10 4 3 8 7 10 5 10 5 6 10-3 6-13 4-9 10-4 7-17 3-9 10-1 3-10 5-10 2-3 10-35 4-2 3-10 3-24 1 34 1 10 8 48 8-18 2-7 10 6 3-9 4-20 2-40 2-20 1-20-6-50-3-30v-10l1-10 6-14 1-6v-10l-7-20-3-10v-10l7-20 2-10-1-30 1-30-3-30 2-40-1-70-1-10-3-10-4-3-10 2-3 1v10l2 20-1 10-4 10-4 6-4 94-4 40-1 30-2 40 4 30v10l-3 13-2-3-8-8-5 8-3 10v20l8 1 10-6 3 15 2 20 1 20-6 49-6-9-4-3-5-27-3-50-2-9-1 9-4 10-5 8-4-8-3-10-5-20-2-20v-40l-5-40-1-30-3-10-7-8-10-3-10-21-5-8-1-10 4-40-1-40v-20l3-30-4-10-6-1-7 1-3 5-2-5-18-10h-3 239l4 2h10l11-2h63l-4 6-10 2-5 2-5 7-2 3-2 40-1 40 3 50 2 120 7 60-2 40 1 30 4 51 10 58 2 41 8 53 4 7 6 8 10-1 10 5 10 11 8-23 10-40 2-5 6-5 4-5 15-55 5-23 2-7 2-10-1-20-2-10-6-20-1-10-1-10-1-40 4-30v-10l-1-10-2-10-3-10-10-12-1-18 1-16 3-4 7-7 10-21 2-2 5-10 1-10v-10l1-10 1-2 3-38v-20l-3-19-5 9-5 10-2 10-3 30 2 30-1 10-5 10-1 1-10-5-4-16v-10l2-60v-20l-5-40v-20l5-10 2-1 8 1 1 10-2 10-1 10 1 10 1 10 2 4 6-24 2-10-5-10-1-10 8-3 10 2 12-9h34l-6 5-12 5-3 10-1 10v20l4 30-2 40 2 30v60l-1 40v10l3 12 9 18 1 7 2-7 8-12 3 12v10l-3 9-10-7-5 18-1 10-2 40-3 20-1 20 2 34 4 46v30l1 10 5 12 10-7 4 25 6 22 2-2 8-12 10-10 5-8 5-20 2-20v-10l-3-30-2-20 1-10 2-10 5-30 5-73 2-7 6-10 2-2 6-8 4-10 3-10 5-30-1-10-7-13-10 5-10 16-10-6-1-12 3-30-2-10-8-30-2-10-4 10-2 10-4 33-1-23v-40l-3-40 3-60-3-30 4-9 1-1h224l5 9 10 9 3-8 3-10h179l25 2 30-2 20 1 8-1h62v1l10-1 5 20-6 40-3 60-1 40 4 20v10l-1 10-5 20-1 10 2 10 5 20 1 5 5 5-2 10-3 7-2 33-1 50v20l3 19 10 9 20 51 4-19 1-10v-10l-5-39-10-30-1-11 1-20 10-16 1-14-1-15-2 5-8 9-8-19-1-10 3-10 6-7 10 4 3-17 7-30 1-20-2-10-5-20-1-10v-30l-3-20-4-10-6-18-6-32-2-20 4-10 14-5 10-5h64l-4 6-3 14-2 30-1 30 1 20 3 30 1 40 1 20 5 30v30l5 5 3-15 13-80 7-30 1-10v-30l3-20v-10l-1-10-3-10-3-9-10-14-4-17h362l-8 6-10 1-10-3-10 5-2 1v10l5 40v20l-2 40v40l-4 30v20l1 20 3 20 2 30 10 40v30l2 10 5 12 10-1 3 9-1 20 5 40 1 40 10 60 12 37 3-7 7-20 6-60 1-20-3-40-4-25-10-15-5-20-2-10v-10l4-30 1-10v-60l-2-30-1-40-2-40v-10l4-30v-10-10l-4-30v-40l-3-9-4-1h18l11 10 3 10-2 10-1 30-3 30v10l2 10 6 21 6 59 1 20-4 50 1 20 6 41 10 12 3 7 7 35 10-1 5-14 2-10-2-10-3-10-7-20-9-40-3-20v-10l1-10 2-10 4-9 7 9 13 22 4-12 1-10 4-40 1-9 5-11 2-10 3-18 1 18v40l1 40-2 36-5 54v10l1 20-6 60-1 60 1 14 2 6 5 10 7 10 6 13 7 7 3 6v264h-1139l-1-12-7 12h-643l-1-10-4-20v-10l-2-10-3-25-4 5-1 20-2 10 2 10 2 30h-486l1-20 3-10 5-14 11-16 4-10 1-10 1-10-3-10-4-6-11-24-2-10-2-10v-20l-1-10-4-13-2 3-5 10-1 10-2 30 3 40-1 30 1 20-3 14-10-2-6-12v-10l2-30v-10l-1-10-3-10-2-4-5 14-2 10-1 10 3 30-1 10-4 5-3 5-2 20 1 20h-51l5-10 5-40v-20l-5-63-1 3-7 10-2 1-3 9-1 10v10l4 40v20l-2 20v10h-455l-1-40-1-10 4-30 1-10-1-40-3-30v-40l-2-26-10-26-10 3-5 9-5 15-3 5-7 15-10-16-6-19-4-17-5 7-5 12-10 12-7 56-2 50-4 30 2 40-5 10 4 40h-121l-2-10-5-14-4 14-2 10h-160l1-20 2-10 3-5 10 4 5-9v-10l2-20v-10l-1-10-5-10-11-6-5-14-6-20-9-7-10 7-10-1-10-12-10 16-2 7v10l2 12 10 14 10-11 10 9 2 6 1 10-1 10-3 10-5 20 2 10 4 10 3 20h-182v-20l-1-22-3 12-7 7-1 13v10h-26l1-20 3-10 3-2 6-8 5-10 2-40-1-10-2-5-10 6-6 9-4 10-1 10v40l-2 30h-38l-2-10-7-26-4 6-2 10v10l1 10h-22l-1-10-2-8-5-32 1-20 4-11 20-1 1-8v-10l-1-13-3-7-7-9-3-21-7-29-4-21-3-10-3-6-10-2-10 9-3-11-7-19-10 9-12 50-2 30-6 6-10-7-1 1-4 10 2 20 3 18 3 12 6 40-3 10 4 5 6 15 4 5 10-6 9-9 1-3 5 13 4 20h-80l-1-20v-20l2-30 4-30 1-20-1-10-4-7-5-3-5-2-5 12-2 10-1 30-2 15-3 5-7 8-3 2-7 9-10-13-2 4-9 10-6 10 1 10 5 30h-58l-1-5-1 5h-117l-2-14-5-6-5-4-8 24h-150v-10l-1-30-1-3-7-7 2-10v-10-20l-5-15-3-5-7-15-10 3-3-28-4-40-3-18-10-4-10 22-10 12-10-10-10 5-10-4-10-6-8 23-11 20-2 10-1 10v10l2 10 4 10 6 8 9 32 2 10-1 20 2 10 8 17 10-21 5-6 3-10-6-10v-10l4-10 4-4 2 4 3 10 1 10-5 10 3 40h-244l-10-19-5 9-5 5-10-4-10 3-10-14-5 20h-39l-2-10-4-15-4 5-7 20h-55l-4-7-10-6-4 3-6 8v2h-65l5-30v-8 8l10 10 2-10 1-10-3-10-10 10-3-10-1-50 2-60-1-70-3-10-10-10-4-3-10 12-10 4-10 10-6 17-3 20-1 40-3 20-5 20-3 10-10 60 10 40h-65l-1-10-3-20-10-1-5 21-1 10h-126l-1-10-3-10-4-3-4-17-1-10-5-9-10-4-2-7-1-20 3-30-3-10-7-5-6 15-4 16-2 24 1 30 5 20 1 10 1 20h-43l-1-20-5-30-4-10-3-4v-547l6-9 4-10 2-10v-10l-4-20 2-31 1 1 9 5 8-65 1-20-2-10-7-4-8 4-7 10-5 12zM70 10v1-1zM80 574l-1 6 1 19 1-9zM90 156l-1 24 1 23 4 7 2 10 4 16 4-6 1-10-2-10-3-12-4-8-3-20zM250 5l-10-1-6 6-1 50-3 41-4 29-5 50 1 10 3 10 5 9v1 62l-1-12-9-9-4 9-6 7-10 3-2-10-2-20-4-10-2-3-2 3-3 10-1 10v40l-2 20-2 10-5-20-3-20-1-20-1-52-2 52-8 20v10l2 20-2 23v-63l-4-70 1-70-5-60 2-40-1-20-3-5-10 4-6 1-14 7-1 3-1 30 1 20 1 6 10 4 3 10 7 50v10l-5 20-2 10-2 20-1 20 2 40-1 10-1 7-8 13-2 8-10-12-2-6-8-8-10 5-3 23-2 20 1 70-5 40v10l2 10 7 19 10-30 4-19 2-30 8-60 1-10 5-16 9 86 3 10 8 17 6 33 4 12 4 28 1 30-2 10 7 30-1 10 4 20 1 10v10l2 10v10l-2 20 1 10 5 10 10-18 2-12 2-20 3-10 3-5 10 7 5-22-1-10 4-10-2-10 4-20 10 2 6-32 4-15 10-15 11-10-2-10-3-10-2-10-2-20 3-40v-50l1-10 4-16 10 10 2-14 1-20 1-40-1-50 1-50-3-60-4-60-3-10zM170 139l-1 11 1 29 2-19zM390 557l-3 13-1 20v30l2 10 2 9 3-19v-10zM750 416l-6 24-1 10v80l2 20 1 10 3 10-6 10-2 10 3 10 6 12 2-12v-20l-2-10 6-20v-10l3-20 1-23 3-17 1-30 1-10-5-5-7-15zM760 339l-1 1 1 3v-3zM1160 629v1 1-1zM1200 669l-5 11-1 10 6 13 6-3 4-8-1-12-7-10zM1260 151l-10 3-3 16-3 10-4 6-2 14 2 15 10 6 7 9 3 7 3-17 1-10-2-40zM1530 68l-6 32-4 8-6 32-1 10v10l2 20 1 30 2 10 2 4 10 1 2-15 2-50-2-70zM1570 135l-2 15 1 10 1 8 6-8 4-8v-2-11zM1620 16l-3 4 3 7 2-7zM1660 3l-3 7 2 20 1 31 3-51zM1690 274l-4 6-5 10-1 4-2 16v20l2 28 5 12 1 30 1 10 3 17 3-7 3-10 1-10-1-10-2-10v-10l2-10 4-7 10-16 3-17v-10l-1-10-2-5-5-5-5-4zM1860 2l-10 2-10 4-1 2-1 10 1 50 6 40 4 80 7 60v30l-2 30 1 10 5 20 4 10-1 20 1 10 6 40v10l-3 30 1 10 7 40 5 21 10-11 9 20 1 5 5-25 2-20 3-36 10-1 3-13v-10l-3-30-1-10 1-10 2-10 1-10-3-50-1-10-8-20-1-7-1-43-1-30 1-30-1-10-4-10-4-9-5 9-5 17-2 3-2 10-2 20-4 12-3-12v-10l1-20v-50l-3-40v-70l-1-10-4-3zM1950 189l-1 11 1 6zM1980 161l-1 9 1 5 1-5zM1990 383l-4 7-6 22h-10l-7 8-13 19-4 11-2 10-1 10 1 30v10l5 30-1 30 2 6 5-6 5-4h10l3-6 7-7 4-13 2-30 7-30 7-14 10-13 1-3 3-10-1-10-3-30zM2010 10l-4 10-1 10 2 70-2 40v10l7 50 2 50 3 20 2 20 1 4 10 9 10 2 2 5 8 17 4-27 1-20-2-10-3-10-10 23-10 3-3-6-3-10v-10l1-10 6-20 2-10 1-30 2-10 4-7 4 17 4 30 2 13 5-13 5-9v-71l2-30v-10l-2-13-4 3-6 6-1 4-2 10-2 20-5 9-10-20-2-9 1-40-1-20-3-10-5-14-1-6zM2440 639v1 1-1zM2560 339l-1 11 1 12 1-12zM2600 710l-5 10-5 10 1 10 9 8 4-8 1-10zM2610 199l-2 11 1 10 1 4 3-4 1-10zM2620 89l-2 1-6 10-1 10 3 10 6 10 10-13 1-7v-10l-1-6zM2780 682l-1 8 1 5v-5zM2820 8l-10 2-10-3-4 3-4 10-1 10-5 30v10l1 10 6 20 4 20v10l-1 30v20l4 39 6-59-2-40 2-20 4-22 6 22 2 10 2 34 2-4v-20l6-40 1-20-1-40-4-10zM3030 713l-1 7 1 23 5 7 5 4 1-4 1-10-2-22zM3060 19v13l1-12zM3140 5l-30 2-9 3-1 1-3 9v40l-4 40 1 20 4 80 2 24 2 16 2 40 3 20 1 20 1 60-2 50 3 13 6 17 4 22 4-2 6-8 1-22 3-50-3-80v-10l2-10 4-20 3-7 5 7 4 10 1 5 7-25 2-10 1-10-1-30v-10l1-6 10-1 7-43v-10l-2-40 3-40 2-9 3 9 4 10 3 5 2-15v-10l-2-15-8-5-2-3-4-17-5-10h-7l-4 2-1-2zM3210 663l-12 17-3 10-2 10v10l4 50 3 9 10 13 8-22-1-10 2-30v-10l-4-30zM3510 215l-10 5v10l10 34 2-24v-10zM3890 415l-2 5 2 8v-8zM3880 87l-7 23-2 10v10l3 10 6 13 4-23 2-20-2-10zM3960 10h-2l-8 5-2 25v10l2 14 10 14 2-8 2-10 1-30v-10zM3980 10l-4 10 1 10 3 14 3-14v-10zM4020 6l-10 1-11 3-4 10-2 40-1 20 4 50 4 9 4 31v10l-3 30 1 10 8 5 5 15 2 10v20l-2 30-1 20 5 50 1 40-1 30 1 11 4 9 6 13 3-13 2-40 4-30 1-10-2-20v-20l1-50v-10l-5-20-1-10-1-10 1-20 4-20 3-10 3 10 2 10v30l-1 50 6 10 4-20 1-30 1-20-2-30 1-30-5-70v-81l-1 1-2 10 3 30-1 40v10l-6 20-3 7-2-7-2-20 3-90-4-10-5-3zM4070 244l-2 6-3 20v50l1 10 4 8 10 33 7-51-1-20-6-43zM4260 588l-2 2v10l2 3 2-3-1-10zM4400 8l-2 2-2 10 4 10 3-10 1-10zM4530 331l-4 29-1 20 1 10 1 10 3 8 5-8 2-10 1-10-2-20zM4570 9l-1 1-2 20-5 30v10l3 40 2 70 1 40 2 27 10 12 7-39v-50l-4-40-1-20v-20l2-30-2-40-2-11zM4650 756l-1 4 1 30 2-20v-10zM4930 258l-2 2-2 10-1 20v20l2 10 3 5 2-15 2-30-1-10zM20 658l-4 12-1 20 1 20 4 9 10-5v-4l-5-40zM70 266l-3 14v10l1 30 2 18 3-8 2-10v-10l-1-20zM80 624l-6 16-2 10-2 30 2 10 4 10 14 16 4 14 2 10 1 10 6 10 7 30 2-20 2-10 6-11 2 1h9l6-20 3-6 1-24v-10l-3-10-8-16-10-2-5-2-5-6-7 6-3 1-10-22-7-9zM260 426l-3 24 3 9 1-19zM390 699l-1 11v10l1 23 2-33zM1210 725l-3 25 3 8 3-8-1-10zM1270 670l-10 8-3 12-2 10-1 20 1 30 5 25 10-6 3-9 2-10-2-30 1-40zM1620 701l-2 9-1 10v10l3 19 3-9 1-10v-10l-2-10zM2800 242l-1 18 1 23 3-13zM3060 132l-2 8-2 10-1 20 1 20 2 30v10l-7 30v10l9 29 10-8 3-11 2-10v-10-10l-2-10-3-8-1-2-5-10v-10l3-30v-10l-2-20-2-10zM3960 178l-3 22-3 10-4 9-1 11 1 10 6 20 3 20 1 25v-15l2-10 6-20v-10l-4-30-2-30zM3980 83l-4 17-1 10-1 30-2 30 1 10 7 11 2-1 6-10 2-18 1-2-3-30-3-30-2-10zM4050 374l-8 6 2 10 6 6 2-6v-10zM70 407l-2 13v10l2 10 6-10zM595 0h5 10l-10 1zM630 1l4 9-1 50-3 39-7-79 1-10zM633 0h7 2l-2 1zM1003 0h65l-18 5-20 2-20-2zM1100 4l6 6 1 10-2 20-5 28-7-28-3-20 1-10zM1170 6l10 3 2 1 2 10v20l-2 70-2 16-3 4-2 10-2 20-3 15-4-65-1-60 1-40zM1929 0h50l-9 5h-10l-10-3-10 2-10-3zM2378 0h114l-2 2-10 2-5 6-2 10-2 20 1 50-2 59-10 15-6-4-4-2-10 1-10-11-3 2-7 10-6-10-3-10-1-10 3-40 4-40v-10l-3-20-4-6-2-4-8-3-10-2zM2430 7l-3 3-2 10-1 20 2 10 6 10 4 10 4 12 3 8 7 11 10-4 4-7 2-10 3-40-2-20-2-10-5-3zM3675 0h27l-2 1-10 1-10-1zM5030 0v13l-1-3-9-4-7 4-1 10 1 10 5 20 1 10v10l-2 10-5 20-2 12-7-32-2-20v-10l5-30-1-10-5-6h-10l-5 6 2 40-1 10-5 30-1 10 2 50v10l-2 7-10 2-1-9v-40l-5-100 2-10 4-4 10-2 5-4zM1140 20l1 10 4 10 5 12 1 18v20l-1 10-3 10-7 20-2 10 1 30-1 10-8 20-4-20-1-10v-30l-4-20-1-10 5-20 6-30 8-30zM2260 22v8l4 20 2 20-2 30 1 30-2 20-3 22-4-22-1-20 2-30-1-40 4-30zM3160 32l4 8 3 10v10l-2 10-5 14-3-14v-10-10zM4890 35l3 15v10l-3 83-2-33-2-10-6-20 1-10zM5030 34v51l-3-5-4-10-1-10 3-10zM3290 47l3 13 1 10-1 10-3 12-3-22v-10zM4890 186l1 24-1 30 2 30v10l-2 17-6-7v-10l5-30 1-10-1-10-3-20v-10zM630 200l2 10 1 10-1 10-2 5-2-15zM1170 194l6 26 4 16 2 14v20l-1 50 3 50-1 10-3 13-4 7-6 16-10-36-1-10 1-10 2-20 4-60-4-40v-10l2-10 5-20zM2460 195l4 5 6 5 3 5 4 10v10l-3 40 1 20 1 10 4 8 3-8 7-8 3 8 1 10 2 50-1 10-5 11-10-3-10 8h-10l-5-16-2-10v-10l3-30 1-20v-10l-4-30-1-20 1-20 2-10zM3290 190l2 20 6 40v10l-8 13-2-23-1-30 1-20zM710 215l1 15v20l1 10 5 20 1 10-4 20-2 10v20 30l-2 7-1-17-1-30-3-40 4-30v-10-20-10zM540 224l2 26-2 27-2-37zM670 253l4 7-1 10-3 8-1-8zM3120 280l6 20 2 10-1 10-7 9-5-9-1-10 1-10 2-10zM1880 282l2 18v10l-2 9-1-19zM3369 290l1-1v1 2zM3819 390l1-4v4 3zM1970 476l2 4 1 10-3 12-2-12zM110 683l4 17-4 4-1-4v-10zM2140 683l7 17v20l-2 10-5 2-10 10-10-14-10 3-3-11-1-10 2-10 2-6 10 2 5-6 5-7zM120 710v9zM920 710l5 20 5 11 8 9-1 10 3 9 2 1-1 10-3 10 1 10h-36l2-20 4-20v-10l4-10 3-10zM1450 720v-1 1 2zM2170 769l3 11 3 20h-35l9-18 10-2zM1320 772l5 8 4 10 3 10h-17zM2139 800h-25l6-7 10-3zM349 800l1-2 1 2h-1z"/>
<path fill="#f7eee7" d="M0 0h63l3 50-1 20 3 40v30l-1 30-5 60-2 14-10-6-3-8-7-7-10 3-3-6-2-10 1-20 4-54 3 24 3 10 4 4 6-14 7-30 1-10 3-50-2-20-4-20-3-10-5-10-13-8-10-1-10 4-7 5-3 4zM108 10l2-2 1 2-1 3zM112 0h35l-7 4-10 1-10-1zM220 1l6 9 1 10 1 20v10l-2 10-6 21-10 9-10-2-2 2-2 10-1 20-5 3-2-3-8-10-6-20-1-10 3-30v-10l-1-10-2-10-3-9-8 9-2 4v-14l6-10h14l10 4zM541 0l-11 5-4 5-3 10-3 8-10 13-7-21-3-5-2-5-8-5-10-1-10 3-10-1-5 4-1 20-4 31-10-25-3 4-7 6-2 34 1 30-1 40 2 70 3 30-1 10-8 40-1 10-1 30-2 20-6 40-4 20-2 10-2 40-1 10-5 19h-10l-4 11-6 13-10-2-10-5-10 12-10 6-10 5-10 30-10 4-10 4-10-3-10 4-4 12-2 10 1 10 4 30-1 10-5 30-3 8-10-5-4-3-5-10-1-10-2-50-4-30-1-10 1-10 6-7 10-1 5-12 5-20 4-10-2-10-1-20 4-40v-50l-2-20-3-20-1-10 1-10 2-30v-10l-2-30 1-50v-80l-1-50-3-30-1-30-2-10-6-10h58l4 1 10 1h10l9-2h48l13 3 20 2 10 4 10-3 5-6zM708 0h37l15 10-2 30v10l2 48 2-8 8-2 6 2 2 10-2 10-6 22-8-2-2-3-1 13-4 40 2 30v10l-7 40-3 30-5 20-2 14-2-14-6-30-1-10 4-40-2-50v-50l2-40v-30l2-40v-10l-7-6zM768 0h68l4 2 10 1 7-3h40l3 2 10 2h10l8-4h23l9 8h10l2 12v20l-1 40-1 30 2 40-2 26-3 14-2 10v10l12 70 1 20-2 50-5 50v20l3 40 3 20v10l1 10 1 10-1 10 2 10 5 10 4 10 2 10 2 20 2 30-1 10-4 8h-10l-7 12-11 30-2 4-2-4-2-10-1-20-1-10-16-50-5-30-3-9-10-1-10-15-10 11-10-7-4 11-6 32-3-12-4-10-3-4-10-20-10-3-10-10-7 7-3 10 2 30-1 20-2 10-3 10-6 10-10 12-10-23-10-8-3-11-1-20 1-30 3-30-2-10v-20l-3-60v-40l-1-20-4-31-10-10-3-9-1-10 4-14 5-6 5-9 4-21 2-10 4-9v-20l-8-11-2-12v-8l8-10 2-1 4-29 1-20-3-40 1-50-3-7h-10l-2-3zM1008 0h42l-20 4h-10l-10-2zM1200 3l10-1 10 1 10 1 8-4h12l2 10 8 16 17 4 3 1 1 9v50l-2 20 1 23 4 7 6 3 1-13v-30l2-10 7-13 2 3 4 10 3 30 2 10 5 10 4 4 4-14 1-10 3-40v-10l-3-30v-20l-3-10-2-2-6 2-4 6-5-6-2-10h255l-4 10 1 10 3 20 2 5 10 15 5 10v10l-11 20-3 10-2 40v20l2 10 9 30 7-10 3-2 3-8 3-10 4-26 8-24 2-14 3 4 7 15 10-7 1-8 5-30v-40l3-30-3-10-6-2-9 2-1 2-10-1-1-1-19-5-11-5h71l10 10 3 10 1 10 1 50 4 40 1 34 1-34 1-20 1-10 7-32 10 7 3 25v30l1 10 4 30v10l-2 10-7 20-2 10v10l2 20-1 10-5 20-2 10-2 10 1 2 2 38-2 50 3 50 4 30 2 30 1 5 3 5 4 20 2 20-1 20v60l-2 20-4 30v30l-2 8-3-8-3-10-7-40-4-10-3-5-10-21-10-5-10 3-6-12-4-10h-10l-6-20-4-8-10 13-7 15-13 44-10-3-10-18-7 7-3 8-10 17-4 15-6 11-10-5-8-36-12-27-3-3-4-10-1-10-1-30-1-11-10-8-10-3-7 12-3 3-7-13-6-20-4-10-3-3-5 13-5 20-12 20-4 10-4 17-10 7-10 21-10 3-10 17-10-3-3 8-7 10-10-15-8-5-10-10-2-5-1-5-9-10-8 10-2 10-4 10-6 6-2-6-2-10-1-40-1-10-4-24-3-6-1-10-3-30v-10l6-30 1-10-2-20-5-30-1-30 5-60 5-40 3-40v-10l-5-38-2-32-3-20-5-21-10 1-10 2-3 8-2 10-1 20-5 20-2 20 1 20 7 40-1 10-5 10-4 10-1 10 1 10 6 30 1 10-1 20-3 40v10l1 50 3 40v20l3 10v40l4 30 1 22 3 18 7 4 2 6 1 10-1 10-2 11-5-1-5-6-2-14-8-7-4 7-6 8-2-8-8-15h-10l-10-3-2-2-5-10-3-10 1-10 9-30 2-10 1-20-2-10 6-30v-10l6-40 5-50 1-10-4-30v-10l4-40v-40l2-30-1-33 5-37-1-20-4-30-10-45-2-55v-10zM1320 199l-6 1-3 10 3 20 2 10 4 9 6-9 1-10-2-10zM1340 318l-2 22 2 15 2-15v-10zM1370 46l-1 4-1 10-2 30-3 10-3 5v5 11l4 9 6 15 2-15v-30l1-20-1-20zM1530 6l-2 4-3 10-5 32-5 38-8 40-3 20 1 10 3 30-1 40 3 30-2 40v40l-2 30 1 20 3 22 10 20 2 8 8 46 6-46 6-30v-10-10l-2-30v-10l5-40v-10l-1-10-2-10-6-20v-10l2-60 4-60 6-20-8-12-8-88zM1620 249l-3 11v10l3 10 3-10v-10zM1370 219l-2 11 2 8 2-8zM1510 536l-1 4 1 13 1-13zM1370 297l-2 3-1 10 3 18 2-8v-10zM1250 0h22l-2 3h-10zM1684 0l-4 24-10 6v-20l-1-10zM1837 0l-3 10-1 30-3 30v10l8 40 6 90 7 50-1 23-7 17-2 10v10l2 10 6 20v10l-1 20 5 40 1 40v50l3 20 8 30 4 30-1 20-2 10-3 10-3 7-6-17-2-10v-20l-2-12-10 1-20 24-10-3-3-10-7-13-10-6-9 9-2 10v20l-2 10-7 11-10-9-3-12-3-30-2-10-2-5-5 5-5 6-3 14-2 40-5 20-5 10-2 10v10l1 20 2 10 5 10 9 8 3 12 1 10-4 20-7 10-2 10v10h-55l1-30 3-8 3-2 7-3 10 20 3-7 3-10 2-10-3-30v-10l3-50 3-20 1-10-1-10-1-7-10-15-4-8-1-10-2-30-1-10 2-10 6-8 6 8 4 8 2-8 5-10 2-10-7-10-2-6-10 6-2-10v-10l2-5 10 5v1l4-21 6-40 3-60v-60l-2-10-3-10-8-10-10-5-3-5-2-10v-10l2-30 1-10-2-10-4-20-1-10 1-10 7-30v-10l-3-30 2-30-1-10-5-40h86l2 2 10 1 10-1 4-2zM1720 35l-4 5-3 10-1 10 2 20 2 10 4 5 6-15 1-10-1-10-1-10zM1750 9l-1 1-2 10-1 60v20l1 10 3 16 3-6 4-10 3-40 1-20-1-30-7-10zM1866 0h21l-7 9-10-8zM1958 0h13l-11 1zM1854 720l2-40 1-10 3-16 3-4 7-6 10-1 10-3 11-10 4-10 1-10 1-20 1-10 2-9 10-4 10 11 1 2 1 10v10l2 10 6 8 6 12 4 12 8 8 2 15 2-15 5-10 1-10 1-10 1-12 1 2 1 10-1 20 1 10 3 10 5 12 10-7 10-5 1-10-1-11-10-8-4-11-1-10 2-10 3-10 5-10 5-9 10-11 9-30v-10l-5-10-1-10 3-10 4-8h10l5-12 5-16 10 5 3-9 2-10 1-10v-30l4-30v-40l5-50-1-50 6-97 1-33-1-50 1-30-1-10-10-5-10-1-10 5-10-4-10 2-20-4v-3h192l8 5 20-3 3-2h67l-10 7-10-1-10 2-10-3-10-1-5 6-2 60v40l-3 29-3 11v60l-5 30-1 10 2 50v20l-5 50-2 70-6 34-3 6-7 27-2 13-1 10 1 10 2 7 10 21 5 52 5 21 5-11 5-5 3 5 4 10 3 10 3 30v50l3 10 4 7 4-27 4-20 5-30 2-10 5-9 5 9 3 10 1 10v20l1 3 2-33 3-10 5-4 4 4 6 3 10-4 5 11 5 15 4-5 2-10 2-20 2-5 10 5 2 10 5 10 3 2 10 13 10 4 7-19 3-12 10-17 9 9v10l1 10 10 6 6-16 4-6 6 6 4 7 10 26 10-53 5-10 5-9 4-1 7-10v-10l-1-10v-10l2-10 8-23 5 13 2 10-1 40 3 10 1 1 7-11 3-3 10 30 10-4 10-9 10-36 10 3 10-26 1-15 7-30 4-30 2-30 3-100-1-10-3-30-1-10 4-30v-10l-6-40-1-20 1-20 3-20 1-20-2-20-4-30v-10l2-90h77v10l-7 12-4-12-6-2-4 2-4 10v10l-2 12-6-22-4-3h-10l-2 3 2 30-4 40-1 10 1 10 2 10 7 30 1 10-1 10-8 30-2 10v10l5 36 7 14-7 5-1 5-2 10 1 10 2 11 1-1 6-10 3-20 2 30 6 30 1 10-2 30v30l3 32 4-32v-20-10l-3-30v-10l3-30 5-30-2-50 2-40 2-20 2-10 6-20 1-9 1-1 3-10 4-30 5-10 7-12 9-28 1-10-4-10-6-10 1-10h173l-4 4-20-1-10-2-10 7-5 2-7 10 1 20-7 30v10l3 10 5 4 9 26 2 10-1 50 4 50v40l3 50 1 40v40 10l2 17 6-17 2-10-1-20-3-20v-10l-1-20 2-10 2-10 3-6h10l10-4 3-30 7-6 5-14 2-10 2-20v-20l2-20 8-30 1-10-1-10-9-26-10-1-1-13-2-70 1-10 2-2 3 2 3 10 1 20 3 11 4-21 3-10-1-20h35l9 8 1 2v10l-1 5-5 15-5 17-2-7-2-10-1-30-5-4-10-1-9 5v10l1 10 7 30 1 20-1 10-7 30-2 10v10l1 10 2 10 7 18 6-8 4-10 5-40 5-16 1 6 9 22 2 8 1 10-1 60 2 20 2 10 4 10 10 5 2-15 5-40 2-10 5-10 4-10 1-10-5-30-4-46-6-4-4-2-2-8-1-10 1-10 2-8 10-8 3-14 5-10 17-10h52l3 2 3-2h305l-8 4-20 3-10-3-10 3h-10l-10-2-8 5-1 10 2 60-2 40 1 10 5 40 1 10v40 20l2 10 10 3 1 27 1 40 5 40 2 30-1 20-3 30v10l10 50 5 10 9-10 1-7 1 7 2 10 4 10 2 10 6 10 8 20 5 20 2 11 10 7v8l-10 3-3 31 1 10 2 7 5-17 5-13 10-4 10 9 20 12 20-8 10-14 4-2 6-2 10-17 10 9 10-3 5-17 2-10 3-9 5 9 7 10 8 13 10-9 10-1 5-13 3-10 5-10 4-20 4-10 5-20 4-30v-20l-3-30-2-30v-10l2-20v-90l4-40-2-20-4-30-1-20v-20l1-30-2-60v-50l-3-7-5-3h23l22 8 7-8h7l16 5 20-2 11-3h45l-6 5-14 5-4 10-1 30v50l2 40 3 140 2 40v50l2 68 4 32 4 60 4 10-1 10-6 20v10l1 10 4 12 10 4v4l5 20 5 16 20-6 10 8 10 9 5-7 5-19 7-11 3-10 10-3 10-11 10-14 10-1 20-10 10 21 10 10 2-2 8-13 1 3 3 20 6 13h10l10-6 6-7 7-20 7-28 10-2 10-12 9-18 1-6 1-34 4-40 1-20v-40l-2-30 1-40v-40l1-40-5-40 2-40-1-30 1-50-1-30-2-19-6 9-4 8-10-8-10 21-4-11-1-10 1-20-1-10-5-6-7-4h93l-3 10-3 23-6 7-3 10v10l6 10 3 1 4 19 2 20 1 30-3 50-4 21-10 25-1 14 1 12 10-4 2 22v40l1 10 2 10 5 10 3 10 2 10v30l1 10 14 9 2 41 3 10 5 13 10 5 8-8 2-4 3 4 4 10 1 10 2 4 2 16 8 13 4-3 6-7 10-23 10-2 2-8 8-42 5 12 5 17 2 13 8 21 6-31 3-30-2-40 2-40 3-20 7-30 2-10 1-10-1-10-3-10-4-10-4-6-3-24-2-40-3-20-1-10 2-10 7-11 10-2 10-12 4-25v-20-20l-4-18-6 8-4 8-3-8-3-10-1-10v-30l-1-10h144l4 1 20 1 30 2 30-2 30 2 10-2 3-2h34l-10 10-1 10 2 40-2 40 2 40-1 50-2 50v20l5 40 4-10 6-5 4 5 2 10v10l-6 60-1 20 3 30v20l2 10 4 20 2 12 3 38 3 10 4 6 10-22 5-4 5-7 4 17 6 14 11-14 4-10 3-10 2-14 1-16v-40l5-50v-20l-3-30-3-17-4-13-1-10v-30l3-40v-40l-7-40-2-50-2-10-8-20-2-10-2-10-2-20 4-10 13-5 10-4 10 1 10 2 3-4h22l-5 9-1 1-3 10 1 30-1 70 1 30 4 30 1 20-1 30-2 30v20l1 10 6 30v10l-1 20-6 40v10l2 10 9 24 1 6 3 30 1 10 5 13 10-2 10 7 10-3 10-34 10 13 5-14 3-10v-10l-1-30 1-10 2-11 4-9-4-10-4-10-7-10-4-10v-10l1-10 5-10 3-10 2-10 2-30 2-10 9-10 3-10-1-30 3-50-1-20-3-29-10 11v-12-2h10v-8l2-10 5-20 1-10-3-30-5-8-10 8-2-10-9-10h118l3 5 10 4 20-6 10 1 9-4h70l1 1 5-1h6l15 10 4 9 3 21 2 20-2 40v40l-4 50 3 60v10l-5 30-1 10 4 7 2 13-2 12-10 2-1 16 1 18 3 12 7 9 10 5 5 16 2 10 3 33 7 37 3 30 6 20v10l3 10 7 10 2 10 7 10 2 10 6 10 3 10 4 7 4-7 2-10 4-6 2-4 4-30 6-10v-20l6-20 2-10 10 5 4-15 1-10 5-14 6 4 4 10 2-20 8-37 3 57 3 20 2 10 1 10 1 20 6 10 2 20 12 14 10-2v208h-56l-4-32-5 12-2 20h-295l2-5 4-35-3-10 1-10 8-17 6-3 4-5 2-5 2-10-2-10-2-5-6-5-4-2-10 8-3 4-7 12-4-12-2-10-4-13-3 13-2 10v30l-4 30-1 50h-18l3-50-5-15-3 15-1 30 1 20h-115l2-20-1-20v-10l-3-5-10 2-1 3-2 10 1 10 2 8 5 12 2 10h-152l8-20 6-20-2-10-1-20 1-10 10-40 1-10-1-10-7-29-10-5-8 4-2 3-2-13-2-10-6-15-6 15-4 10-10 2-7-12-2-10v-20l-1-11-3 11-7 9-3-9-7-8-10-16-10-2-10 4-2 2-5 10-2 10-4 30-3 10-14 38-10 12-10 2-1-2-9-8-5 8-5 9-20 7-2 4-2 10-1 10 4 40 1 6 8 4 2 2 2 18 1 10 6 10h-99l1-10 1-10 3-10 5-10 10-3 2-7v-20l3-20 1-10-3-50-2-10-1-3-7 53 1 40-4 7-10 1-10-9-10 11-4 10 2 20 5 20 1 10h-47l-1-50-6-65-6 5-3 10-1 5-3 95h-36l-1-4-1 4h-61l-2-30-3-20-3-10-10-1-4 11-6 20-5 30h-272l3-10 4-12 10 13 17-21 3-3 2-7 2-20-3-100-1-9-6-21-4-20-5 10-2 10-3 32-2-2-4-10-4-20-4-10-6-5-6-15-4-25-4 45 2 40-1 10-2 10-5 11-4-1-6-4-5-36-5-10-6 30-1 10v30l-3 21-6 9-4 10-4-10-6-10-2 10v10l2 16 10-5 3 9 7 12 3 8 2 10 1 20h-75l-1-5-1 5h-114l-5-16-10-1-5-13-3-10-1-10v-30l-1-9-10-15-4 14-2 10v10l1 30-4 40h-61l1-20v-50l4-40v-10l-2-20-3-20-9 10-1 3-3-13-7-17-10-5-10-8-5 10-5 17-6-7-4-18-3 8-2 20-5 36-5-16-1-10 1-30-1-10-4-11-5-9-3-10-2-17-1 17-4 20v10l1 10 4 17 4 3 3 10 1 30 2 19 10-1 1 12-1 31v-1l-10-5-1 5-1 10 2 9 10-8 4 29 3 10 3 10h-76l-2-10v-10-30l-12-25-6 5-4 9-2 11 3 10 3 20 1 20h-54l2-10 7-23 5-7 2-10v-30l-3-30-1-10-13-33-10 16-10 7-3 10-7 30-1 10 1 13 2 7 8 14 9 46h-50l2-10 1-20 3-10-6-10-1-10v-10l2-11 7 11 3 3 3-33-1-20-2-13-10 4-6-11-4-10-7-10-3-2-10-40-10 4-10 8-10 2-10 12-10 43-10-8-9-9-11-13-10 9-9 24v10l5 10 3 30-1 10-8 9-5 21v20l1 20h-28v-30l1-10 2-10 1-30 2-10 3-10 3-7 4-3 6-10v-10l-6-20-2-10v-30l-2-18-10 10-5 18-5 12-8 28-1 10 1 10 5 30v10l-4 30-1 20 1 30h-19l2-10 4-10 6-10 1-10v-10l-3-40 1-10 3-20 1-10-2-10-7-9-5-11-5-17-10-1-5-12-5-15-10-12-5-13-5-9-10 14-11 5-9 10h-10l-7 10-3 2-10-5-2 3-5 10-2 10-1 10 1 60-1 14-1-14 1-40v-20l-3-10-7-11-5-19-5-22-5 22-1 10v30l-1 10-3 8-9 12-6 10-3 10-2 18-5-8-5-5-4-15-6-8-10 6-5-8-2-10-1-20-2-9-10 3-6 6 5 30v10l-5 20-2 10 1 20 1 10 4 10 2 4 6 16 8 30 2 10h-31l-1-20-1-10-3-14-10 2-7 22-3 20h-115l-3-10-2-5-3 5-5 10h-31l-1-3-10-7-10 6-9 4h-140l-2-20 1-10 3-10 6-10v-10l-6-30v-30l-2-20-4-10-7-11-2-19v-50l-3-20-2-10-3-8-10-14-10-1-3 3-7 11-8-1-2-1-10-9-6-10-4-5-10-1-5 6-5 7-10 45-5 38-5 23-10-22-2 9-4 20-4 10-10-1-7 11-3 8-3 32 2 10 1 4 10 6 3 20 2 20 5 12 1 8 2 30h-52l-2-30 2-10 4-10 2-20v-10l-1-10-6-14-3 4-5 10-4 10-2 10-1 10v10l2 10-4 10-3 4-3-4-4-10v-20l-3-11-10 5-8-14-2-8-2 18-4 20-9 20-1 10-1 20h-86l-1-50-2-10zM2830 335l-2 5-8 5-6 15-2 10-1 10 1 20 2 10 6 16 7-6 3-6 2-14 1-20 2-20v-10l-2-10zM2900 338l-3 12-1 20 4 39 4-9 1-30-1-20zM2980 9l-5 1-4 10 3 20 6 58 10 5 5-33v-20-30l-3-10-2-1zM3040 16l-2 4v10l1 10 1 4 3-4 1-10-1-10zM3060 2l-8 8-1 20 1 20 5 30 1 10-1 10-7 23-6 7-4 8-1 12v10l5 20 3 30 1 10-1 10-4 20-1 10-1 10 1 10 5 30 1 50 1 20 4 30 1 30 2 10 4 18 10-5 3-13 2-30 5-17 3 7 14 60 7 20 12 50 2 20 2 9 10 26 6-15v-20l4-11 5-9 14-20-2-20-1-10 4-30 3-40v-10l-3-14-10-18-3-8-1-10 3-10 11-5 10-23 5-42 3-10 4-10 2-10 1-10-4-40 1-10 8-32 10-33 10-2 7-23v-10l-7-16-3-4-5-10-2-4-4-26-3-10-7-10-6-4-10-2h-10l-20-2-10 1-20-1-10 2-8 6-2 10 1 30-1 17h-10l-2 3-4 10-4 16-3-6-1-10 4-23 10-11 3-6 4-10 2-10-3-10-6-5-10-3zM3210 14l-2 6 2 13 6-13zM3300 717l-2 13 2 11 3-11-1-10zM3470 634l-1 26 1 30 2-40-1-10zM3560 86l-1 14 1 18 1-18zM3910 645l-2 15-1 20 1 20 2 24 5-34 5-16 1-14-1-4zM4010 609v1 1-1zM4030 556l-1 4v10l1 9 2-9v-10zM4060 644l-3 6 2 10 1 3 1-3v-10zM4130 625l-3 5-1 10 2 30v30l2 19 4-9 3-10v-10l-4-20v-10l1-20-1-10zM4140 1l-3 9v10l3 31 10-8 3 7 7 19 4-29v-20l-4-10zM4190 8l-6 2-4 5-2 5 5 20 4 20 1 10v30l2 18 10 2 2-20-2-40 2-40-2-10zM4390 301l-2 29v10l2 16 7-6v-10l-1-10-5-20zM4590 656l-1 4 1 12 1-12zM4620 45l-3 5-1 10 4 16 1-16zM4700 737l-4 3-6 15-1 5 5 10 6 13 2-3 5-10 1-10zM4720 30h-3l-5 10 4 20 4 12 1-22zM1870 734l-2 6-1 10 3 8 3-8v-10zM1910 674l-4 6-5 10-3 20-2 10-6 12-2 8 2 10 10-7 10 30 6 7 4 10 9-10 2-10 2-20-1-10-2-6-10-12-3-12zM4140 108l-1 12 1 30-2 30v30l-3 40 1 90 1 30-2 70v10l5 27 10-18 3-9 1-10 2-50 1-30 1-40 2-15 2-5 1-10v-10l-3-37-2-3-8-5-2-5-3-10-1-10v-30l-3-20v-10l2-10 6-20-3-10zM4200 142l-5 8-2 10-1 10v10l3 10 5 5 2-5 3-10-1-10zM4390 749v1zM2304 0h6zM2385 0h40l-5 5-10 3-20-6zM2433 0h27l-10 3h-10zM3352 0h43l5 5 10-1 15-4h7l8 3h20l7 7 1 10-1 20-5 30-1 80-1 12-6-2-4-6-7 36-2 20 1 10 3 10 2 10-7 30-7 20-3 15-4-35-6-31-2-39-2-10-6-13-5-7-8-20-3-20-2-20-6-30-1-10-1-20 3-40-7-3-10-2h-10zM3793 0h7 7l-7 2zM3968 0h84l-12 6-10-4-10-1-20 3h-10l-10-3h-10zM4060 7l2 3 2 20 4 20v10l-2 40 1 20 2 10 1 10v10l-10 3-2-23v-30l-1-50 1-40zM4548 0h18l-4 10-2 15-6-15-4-5zM4875 0h5 3l-3 1zM4920 8l3 2 2 10-3 20-2 13-2-33 1-10zM80 12l5 8 1 10 1 70-1 30-4 40 1 70v10l-3 16-4-26-1-30 1-40-4-30-1-30 2-60 5-30zM2550 17l1 3-1 30-1-30zM3780 16l3 4-1 20 2 30-2 10-2 2-2-32v-30zM1890 26l2 4 1 10-3 11-3-11v-10zM1610 49l1 11-1 18-2 2-8 15-2-15v-10l2-6 4-4zM160 57l6 23v10l-6 13-1-23zM2000 57l1 23-1 24-2-4-2-10v-10l1-10zM5010 70v-6 6zM2420 100v-1l2 1-2 4zM3780 110l10 11 2 29v30l1 30-1 20-2 13-10 3-4-26v-20-50zM110 121l9 9-9 20-2-10v-10zM210 138l1 12-1 13-4-13v-10zM4920 140v-1 1 4zM2000 179l1 11 1 20-2 22-10 6-6-8-1-10 3-10 7-10 4-10zM4940 179l1 21-1 15-3-15-1-10 3-10zM2810 182l10 6 3 12 1 10-1 20-3 14-10 1-2-15-1-10 1-20zM1970 198l1 12-1 2-1-2v-10zM3090 194l3 36v20l-1 20-2 20-3-20-1-40v-10l1-10zM4560 197l1 33 2 40 2 50-1 10-2 10-2 3-10-1-3-12-1-10 1-10 2-30 9-50zM10 201l5 9 1 10-1 20-4 40 1 10 7 20 1 7 1-7 3-10 6-12 10-2 10-5 5 19 2 10 1 20-5 80v10l5 40 1 10-1 10-8 9-4 1 4 3 3 7-2 10-2 30-3 10-6 12-10-9-3 7-8 30-5 10-4 7-4-7-6-7v-310l5-3-1-10-4-9v-38l5-13zM20 330l-3 10-2 10 2 40 3 28 7-28v-20-10zM1516 270l4-3 1 3-1 9zM1940 279l3 21v10l-1 20-2 15-2-5-3-10v-10l2-20zM3780 284l6 26-1 10-5 5-2-15-1-10 1-10zM3980 290l3 10 1 10-1 10-3 9-4-9v-10l1-10zM2000 302l5 28v10l-3 10-2 3-3-13v-10l1-20zM3090 317l1 13-1 19-4-19 2-10zM4940 335l6 25 1 10-1 10-1 10-5 13-4-23-1-10v-10l1-10zM110 470l4 20 3 10-7 10 5 10 3 10 2 10 10-3 10 1 4 12 2 10 1 20-3 20-1 20-1 10-2 4-5-14-5-11-3-19-7-24-1 4-15 20-4 10-5-20-1-10 1-10 1-10 4-16 7-14 1-10-4-10zM710 477l1 3 2 10v10l-2 10-1 11-1-11-2-10v-10zM3289 480l1-3 1 3-1 9zM710 532l5 8 4 10-2 30 3 18 10 13 10 34 10 9 10-8 4 14 2 10v10l-4 40v10l2 20 6 21 6-11 4-7 8 27 9 20h-36l-8-10-3-8-1-12v-10l4-20 1-10-1-10-3-11-10-4-2 5-8 29-5-9-1-10 2-20-2-10-4-12-10-17-10-31-2-10 1-10 6-40 1-30zM40 618l2 12-2 17-2-17zM210 626l2 14 1 30-3 9-3-9zM410 621l10 6 2 3 3 10 6 10 9 9 4 1 6 4 4-4 4-10 2-13 5-7 5-3 20 19 1 4 1 10-1 30v50l2 20 1 30v10h-13l-1-10 2-10 5-20 1-10 1-20-1-40-3-10-5-5-2 5-8 11-5-1-5-3-3 13-2 30-3 10-2 3-10-1-3 18-7 26-5-16-5-23-10 3-2-10v-10l2-11 10-5 4-14 2-10-1-10-1-10-3-10-1-3-10-5-2-12 1-10zM1000 636l10 5 10-2 3 11 4 30-1 20-5 30-1 21-1-31-4-20-5-13-10-1-3-6v-10l1-30zM560 640l5 10 3 10 1 10-6 50-6 30v10l-3 30-2 10h-3l-2-20-1-20v-30l1-50 4-20 3-10zM590 645l8 5 2 3 7 27 6 40 1 10-1 10-1 10-2 5-10 2-10-2-5-15-1-10-1-10v-30l-2-20v-10l5-10zM1110 646l2 4 1 10-5 30-2 60-3 10-7 20-4 20h-21l-1-1v1h-33l-5-50 1-20-2-40 1-10 3-10 5-4h10l5 4 5 7 5 13 1 10 2 30 2 16 3-16 1-20 2-10 12-40 2-4 10-13zM670 653l6 7 3 10 1 10-4 30-1 10 1 10 4 20 4-20 6-9 10 5 2 4v10l-2 3-1 7v10l-3 10-6 16-5-6-3-10-2-7-7 7-3 1-10 9-30-29-3-11-1-10 2-10 2-7 7 7 3 7 10-10 4-17 1-10v-10l2-10 4-10zM1130 660l1 10-1 4-1-4zM190 667l4 3 5 10 1 22 5 38 2 10 3 10h1l1 10-3 30h-23l-3-30-3-18-1-2 1-2 4-58 2-10zM3599 680l1-7 1 7-1 7zM220 680l1 10-1 15-2-5-1-10zM990 692l3 8-1 10-2 8-2-8v-10zM2880 694l17 16 3 5 2 5 8 6 10-16 7 10 3 10 2 20 2 10 7 20 3 10 1 10h-79l4-10 5-30v-10l-2-20-1-20 2-10zM4200 692l3 8 7 11 11 39v10l3 10 2 20 3 10h-49l10-32 1-8v-30l2-10zM4310 700v-1 1 1zM970 705l2 5 2 10v10l-2 20v50h-4l1-20-1-20-1-10-3-10v-10l1-10 3-10zM1130 707l3 3 16 10 2 10-1 20-3 20-4 30h-13l-2-20-6-30v-10-10l3-10zM1380 709l1 21-1 14-2-14zM4300 711l2 9-2 12-1-2v-10zM3560 740v-1l1 1-1 4zM4269 740l1-1 10 2h10l5 9-8 10-3 10 6 6 10 6 20-1 2 19h-49l3-10v-10l-1-10-5-4-2-6-5-10zM410 757l6 33 1 10h-15l7-30zM1530 769l2 11 1 20h-6v-20zM150 776l10-2 9 6 1 10-2 10h-22l1-10zM1220 777l2 3 2 10 1 10h-15l4-10zM2760 779l7 11 2 10h-21l2-10zM4240 773l24 17 4 10h-37l1-10 4-10zM1280 786l3 4 4 10h-13l4-10zM1830 788l1 12h-3zM2670 782l10 4 3 14h-17l1-10z"/>
<path fill="#f7dcc9" d="M0 0h8l-8 6zM129 0h1 4-4zM190 10l10-1 10 1 6 10-1 20-3 10-2 5-10-10-10-4-3-11-4-10zM400 2l20 5 6 3 2 10-4 60v30l-1 40 1 100-2 20-8 40-3 40-8 60-2 20-1 29-10 9-10 26-10-2-10-9-7 7-8 10-5 5-10-2-6 7-4 8-10-3-6-25-1-10-1-10-2-7-4-3-6-9-2-11 1-30-1-40-5-50v-30l-1-10-2-10-2-20 3-40-1-10-3-40v-70l-2-50v-20l-1-10-4-3-5-7h37l8 10 10-4 10-1 10-1 20-3zM466 0h49l-5 7-10-2-10-4-10-1-10 2zM787 0h3 4l-4 2zM820 1h10l10 3 10 2 10-3 5-3h25l10 6 20 1 20 3 10-1 2 1 3 10 1 10v20l-3 30-1 10 1 10 9 40 1 10v10l-2 10-5 20v10l3 30v10l-3 30 2 10 10 20 2 8 1 12-1 13-7 37-2 20 1 60-2 10 4 20v10l2 10 4 13 3 27 1 10-2 10-2 11-10 4-10-16-2-9-2-10v-30l-2-10-4-12-10 8-10 4-10-3-10 11-10-3-10 15-10-4-10-16-10-9-10-15-10 5-10-1-10 13-1-3-1-10 2-10-5-10-4-20 2-20v-20-10l-11-80v-20l7-80v-10l-2-30 1-10 2-19 4-21v-10l-4-30 1-10 1-10 5-20 4-30zM940 42l-10 1-2 17v10l2 13 4 7 6 13 2-3 4-10 1-10-1-10-1-10zM1016 0h15l-11 1zM1210 8l10 1 2 1 4 10 1 20-1 10-6 35-3-5-4-10-8-50 2-10zM1321 0h114l5 1 10 4h10l10-2 23-3h29l-5 10-7 36-4 4-6 7v43l-3 50 2 20 2 20v60l-2 30 1 30-4 40-1 30 1 20 2 10 2 9 1 11v30l-1 5-6 5-4 12v8l1 10-1 10-10-6-4-4-6-12-6-8-4-2-10 20-6-18-4-7-10-4-10 3-6 8-4 6-4 4-6 7-5-7-5-4-10-2-2-4-1-10v-10l-4-10-3-10v-10l3-10 11-30 9-30 2-20 5-20 2-40 1-10 4-20 1-10-5-30v-10-10l1-10 3-10 3-6 3-24 2-40-1-10-2-20-1-10 2-20 2-20-5-10h-11l-9 5-7-5h-5l-8 3-10 4-3 3-7 17-10-5-4-22-6-3zM1540 9l1 1-1 11zM1582 0h52l-4 6-10-1-10 1h-10l-10-2zM1768 0l-8 5-10-1-7 6-3 41-5-11-5-7-5-23v-10zM1820 2l7 8v10l-7 50v20l3 30v10l-3 14-4 6v10 20l-5 70-2 30v60l1 20 3 20 4 30 5 30v10 20l6 40 3 20v10l-1 10-2 10-5 10-3 4-10-6-10-18-8-20-12-19-10-7-10 1-6-5-4-5-6 5-4 16-2-6 2-18 2-2v-10l-2-10v-20l-2-10v-10l2-20 1-40 6-40-1-30 2-30-8-10-4-10-1-10 4-20 1-10-2-10-7-10-9-10-13-20-1-10 5-10 7-10 10-20 8 10 2 3 10 46 3-9 7-11 10-34 10-9 1-6 1-10-2-20-7-10-2-10-1-20-1-20 1-2 10 5 2-3 8-2h10l10-1zM1750 183l-4 17-4 10 8 12 2-2 8-3 1-17-1-7-4-3zM2016 0h4 1-1zM2036 0h4 4l-4 2zM2210 7l7 3 3 10v27l3 13 1 20-1 10-3 7-4 13-2 10-1 10 1 30 6 40v10l-6 30v10l2 40 1 20-4 40-3 52-3 18-4 10-3 7-10-4-7 37-3 8-2 2-8 5-10-1-10 2-10-10-10 1-10-2-10 4-10 8-5 13-5 20-6 10-3 10-1 9-1-9-3-10-9-20-1-20 1-30-2-40 3-50-1-50 4-50-2-40 3-60 4-150v-10l-6-9-2-1h29l23 2 10-2h24l6 1 20 1 10 1 10 6zM2245 0h32l-17 4zM2392 0h24l-6 4-10-2zM2635 0l-5 3-10-1-10 4-10 1-11 3-5 10 3 30v10l-5 30-1 30-1 3-2-73v-40l-1-10zM2671 0h37l8 10v10l3 30 6 20 5 12 1-12 2-40 3-20 4-3 10-3 5-4h39l-4 3-17 7-3 4-2 6-4 30-1 30v20l7 40 8 40 5 30 1 10v10l-4 15-1 15 1 9 5 21v10l-3 20v10l6 40 1 40 3 30-1 10-3 30 2 10 2 40-2 14-7 26-3 9-10-1-5-28-3-10-12-25-10-6-10 24-10 6-10 1-10-1-10 16-4-15-8-20v-10l2-10-1-20 4-20 1-10-2-40-1-10-2-10-6-20-3-20 1-10 2-10 5-10 2-9 1-1-1-10-8-20-2-7-1-13 3-20 8-28 10 3 10-5 2-10 2-20-2-50v-20l5-50v-20l-1-20-1-10-5-3-14 3-6 3zM2964 0h33l-7 4-20 1-5 5v10l6 60 1 30 7 50 1 10-1 40v30l-1 30v10l12 31 2-11 2-20v-30l2-30-2-30v-10l1-10 5-10 4 10 3 10v10l-3 30v10l2 30v30l4 40v20 10l-3 20-1 10 2 10 2 10 6 10 4 20 3-10 3-30 4-17 8 7 2 4 1 16 1 50-2 8-10-9-7 11 3 10 4 14 6 6 1 10-7 10-3 20-7 9-10-7-3 8-2 10v20l4 30-1 10-8 32-3-22-2-30-3-20-2-9-10-6-5-25-3-10-2-4-10 5-10-8-10-1-10 5-3 3-7 14-2-14 2-5 4-5 6-18 2-12-1-30 3-40 2-40 5-40-2-20v-10l4-30 1-10-1-20 4-30 1-10v-40l-5-40-1-10 1-30-2-40 1-20 1-10 4-10 13-6zM3020 9l1 1-4 10-7 9-4-9 1-10zM3025 0h5 6l-6 5zM3088 0h2 3l-3 2zM3260 0h1-1zM3362 0h24l-6 3-10-1zM3460 8l2 2 1 10-3 25-6-5-4-5-6-15 5-10zM3610 4l10 6-1 30v10l4 30 7 97 4 153v50l3 90v30l1 10-1 10-7 51-5-31-5-13-10-4h-10l-10 13-6-16-4-8-10 16-3 2-7 14-10 5-7 11-1 10 1 20-1 10-2 14-4 6-3 10-3 14-10-8-5 14-2 10-3 27-3 13-2 20 1 30 2 10 1 20 4 20h-4l-2-10-7-2-10-4-8-14-3-10v-10l5-30 2-40 4-13 5-7 6-10 2-10 2-30 5-35 4 15 6 14 10-1 2-3 4-10 3-20-1-10-8-21-1-19 1-13 1-7 9-17 3-3 2-30 5-30-1-10-9-6-6-14-2-20-2-12-3-68 3-40v-10l-10-80v-10l2-30-2-31-2-39v-30l2-11 10-2 8 3 5 10 1 40 4 40 2 20v10l-3 20-5 40-2 24-2 16 2 10 10-4 7-6 3-2 5-18 2-10v-10l-2-40 4-40v-10l-4-50v-20l1-10 3-10 1-1h10l10-2zM3550 295l-4 15-3 30 1 20 5 20 1 16v-6l4-10 6-5v-15-21l-1-9v-10l1-21zM3623 0h29l-12 6-10 2zM3867 0h18l-5 4-10-1zM3916 0l2 10-4 40-1 20 3 60-1 10-5 19-2-29 1-70-3-50v-10zM4100 0h32v30l3 50-2 40-2 80-1 10-10 12-6-12-3-20v-10-10l7-30 5-30 1-40-1-20-3-13-2-17-4-10-14-9zM4157 0h32l-9 5-10 4zM4387 0l-5 10v30l-2 27-10-2-4 55-5 20-1 10 6 20 2 10 1 20-2 40 5 40v10l-1 20 1 10 8 48 2 32 1 60v10l-3 8-1 2-1 20 5 10 2 10 3 10 2 2 3 8 11 20 6 4 5 6 1 10-4 10-2 2-10-25-10-2-3-5-2-10-4-10-1-1-4 11-2 10 1 20-1 10-4 6-3-6-4-20-4-10-7-10-22-21-9 11-1 2-10-7-10-12-10 12-10-19-10 2-10 11-10 9-10 4-10-8-3 6-3 10-4 30 1 20-1 10-3 10-7 11-10-4-3-7-5-30-2-6-5 6-5 2-10-1-5-11-5-20-4-10-4-20-1-10 2-10 7-6 2-4 1-10 4-10 2-10 3-30v-30l1-10 2-10 5-12 2 2 3 10 2 10 3 15 10 6 7-11 2-10-1-10-7-20-1-6-2-4 2-5 1-15v-20l-1-15-10 5-8-30-1-10 1-10 4-20 4-8 4 8 3 10v20l3 20 10-7 2-23v-30l3-20 5-20v-10l-2-10-8-30-1-10 2-30-5-40 1-40-1-10-6-9-5-1h29l6 2 10 1 20 1 20 2h10l30-2 20 1 25 5 5 9 6-19zM4480 6l7 4 9 40 1 10 1 10-2 10-4 20-1 10 5 40 4 20 2 20-3 30 1 20v17l-3 23v10l5 30v10l-2 10-4 10-3 10-1 10-1 10 1 10 5 30 1 20v20l-1 10v10l2 10 11 20 3 10 7 9 3 1 7 7 1 3 5 10 4 1 4 9 6 18 1 2 2 10 2 30 3 10 2 4 3-14 1-10v-20l-1-20 4-20v-10l3-11 2 1 8 10v10l-1 30v10l1 10 3 10 1 10-4 16-2 14v20l1 30-1 10-7 10-1 2-10 3-5 15-2 10 2 20 3 10 5 10 3 10h-36l-1-30 4-20-1-20-2-20-8-30-1-10v-10l1-10 3-10 5-10 4-40v-20l-1-10-3-6-10-2-10 11-10-16-6 13-1 10 1 10 6 16 10 4 6 10 1 10-6 10-1 1-10-8-10 13-6 14-2 10v10l2 30v10l-2 10-9 20-3 10v10l-3 40h-75l8-14 2-16 1-20-9-40-1-10-1-10 1-20 3-20 4-10 10-15 6-5 4-8 2-12 6-10 2-2 10-4 7 6 3 4 6-24 3-10 11-13 3-17 3-10 2-20 4-10 3-10-2-10-3-7-1-33 1-13 6-17 2-10 1-10-1-10-5-40-3-9-5-31v-10l1-60-3-50-6-40 1-50-2-10-3-10-5-10-3-10-4-20 6-10 3-1 10-1zM4470 649v1zM4588 0h29l-7 6-10-1-10-3zM4630 5h10l12-5h34l4 2 6 8 4 40 3 20 2 20 5 26 10-3 5-23 2-20-2-50 2-10 3-2 10 1 10-1 10-8h48l-2 10-5 10v10l2 10 7 14 2-4 7-20 1-2 4 2 2 10 5 60v20l-1 10-4 10-3 10v30l1 10 2 10 4 8 5 22 3 20v10l-7 30-2 30-1 10-6 30-1 10 1 10 8 22 3 18v10 20l-3 30v10l5 10 1 10 3 10 1 19 10 2 3-11 7-9 2 9 4 10 15 30 22 50 7 8 5 12 5 6 7-6 8-20 4-20 1-10 8 10 13 40 2 10 1 20v30l-13 30-2 20 2 10v40h-5l-6-10-10-5-5 15h-45l-2-10-2-10-6-9h-10l-3-11 2-10v-10l3-10 3-10v-10l-2-10-7-20-1-30-4-20-6-20-5-21-3 11-12 30-2 20-3 9-9 11-1 2-2-12-3-30-2-10-3-6-8 6-2 1-7 9-3 10-4 30-6 14-10-5h-10l-1 1v10l2 10 3 20-1 30 2 10-1 10-1 10-4 20h-19l3-30 3-10-2-10-1-10-3-9-3-11-3-20v-10l6-9 1-1 4-10-1-20v-30-10l-4-15-3 5-7 20-10 2-4-32-3-10-3-6-10-1-20-9-10-8-10-19-4 13-6 39-8-19-2-2-10-6-5-2-14-20-5-10 4-10 10-8 1-2 9-4 5-6 5-10v-4l-10-11-2-5-1-10 3-10 6-10 4-5 1-15v-10l-1-5-6-15-2-10-1-10 1-10 8-17 2-3 7-20 1-2 4-28 1-10v-10l-5-25-10-16-6-19-1-10 1-10 6-19 8-11 2-4 1-16-1-12-10-18-1-10v-30l-3-50 1-10zM4680 249l-2 11v10l2 16 2-16v-10zM4780 371l-10 2-10-5-3 22-1 10 1 10 3 12 10-14 10 3 2-11 1-10v-10zM4790 9h-10l-2 1-4 10-4 20v10l2 10 8 10 6 10 1 10-2 10-5 15-5 5-4 10v10l9 9 6 11 4 6 9-6 1-10-8-60v-10l1-10 6-30 1-20-6-10zM4680 346l-1 24 1 13zM4800 221l-1 9-5 20-1 10 2 10 5 5 2-5 2-10v-10zM748 20l2-3 1 3-1 7zM1640 16l4 14 1 10v10l-3 10-2 6-2-16v-10l1-20zM3416 20l4-3 1 3-1 2zM4829 20l1-1v1 2zM740 38l6 2 4 5 2 35-3 30 2 30-1 17-3 13-5 30-2 6-2-26v-40l1-80zM2860 60l2 10v10l-2 15-2-5-1-10v-10zM3400 52l5 8 11 10 4 5 1 5 5 30 5 20 1 10v20l-2 14-10-2-6-12-3-10-7-50-5-20-2-10v-10zM2680 63l2 7 2 10 2 40-1 10-2 10-3 9-9-9-2-10v-10l9-50zM3230 60l2 10 1 10v30l4 50-1 30 1 40-1 30 2 30-2 40v10l3 30 1 56 2 4 4 20 4 30 4 10 2 10 4 11 5 19 2 20-1 10-3 10-3 5-6-5-4-5-3-5-7-21-10-3-4 14-4 20-2 5h-10l-10-4-5-11-5-18-8-12-2-5-1-15v-10l3-20-1-30v-40l2-10 7-10 3-10 5-20v-20l-3-10-5-5-3-5-2-10v-10l3-10 2-5 5-5 5-7 10 6 7-39 3-12 3-38v-10l-2-30v-10l6-30 1-10v-30zM3210 297l-8 33v10l3 10 5 8 4-18 2-10-1-10zM3030 80l3 10v10l-3 25-3-25 1-10zM4170 70l2 10 1 20-2 70-1 14-1-14-1-70zM1350 108l1 22-1 14-10 7-2-1-4-10 2-20 4-12zM1670 104l2 26-2 21-1-21zM1640 113l5 7 4 10v10l-5 10-4 4-3-4-3-10v-10l2-10zM4380 117l1 33-1 35-4-5-1-10 1-40zM2590 132l3 28v10l-3 14-7-4 3-40zM1330 156l1 4v20l-1 10-1-20zM1600 167l10 7 2 6v10l-2 11-7 9-3 6-1-6-2-20 1-10zM2890 167l1 43 3 40v50l-4 15-5-5-3-10v-10l1-20v-30l1-10 4-20 1-10zM3910 163l1 7 9 6 2 14v10l-2 14-10-2-1-12v-10zM3200 180l3 10 1 10-1 10-3 15-3-15-1-10 1-10zM2580 192l1 28-1 12-1-12zM740 243l1 17-1 9-1-9zM1560 261l1 19 3 20 2 20-2 20-4 14-3-14v-10zM1600 279l1 11 1 20-1 30-1 12-5-22-1-10v-10zM4120 299l1 1 5 10-1 10-5 34-3-14-1-10 2-20zM3920 306l1 14-1 13-2-13 1-10zM4120 369l3 31v60l1 10 4 10v10l2 3 2 7 1 10 2 10 1 10v10l-2 10-4 16-10-2-4-4-4-10-2-20 1-10-1-4-1 4 1 10-10 8-10-5v-3-10l7-10v-10l3-6 11-14 3-10-4-10-6-10-3-10v-10l1-10 7-10 2-10 2-10-2-10 6-10zM2860 378l6 12 4 16 10 24 4 20 4 30 3 10 5 20 1 10-5 30-3 30-5 10-4 4-10-1-10 6-4 1-6 4-6-14-4-10-2-20-1-10 1-30v-20l2-2 1-8 2-30 2-20 1-30 4-32zM3250 375l1 5v10l-1 14-2-4-1-10v-10zM1320 381l5 9 2 10 3 30v10l-2 10v10l-1 10 4 10 2 10v10l2 10 5 6 2 4v10l-2 10-10-8-5-22-3-10-2-3-14 43-6 12-8-12-2-6-3-4-2-10 4-30 3-10-1-10 3-10-2-10v-10l5-20 3-6 10-3 6-21zM1620 388l10 11 10-10 2 11 8 19 10-5 1 6 1 10 1 20-1 10 5 40 6 20 2 10v20l-2 40v10l-3 11-10-7-12-34-8-32-5 12-3 20-2 7-5-17-6-10-1-10 1-10 3-10 1-10v-10-10l-3-8-6-12v-10l-2-20 4-30zM1590 404l4 6 5 10 4 10 1 10-4 20-10 1-10-11-6-10 6-27 2-3zM0 424l3 6 2 10-3 10-2 2zM2640 428l2 2 3 10 5 4 4 26-4 10-10 5-4-5-1-10zM2610 463l3 27 1 20 2 10 4 9 2 1 8 9v11 3l-10 19-10-1-10 21-10 6-8-18-3-10-1-10v-20l2-29 8-11 5-10 7-10 4-10zM3930 479l1 1v10l9 3 4 7 3 10 3 5 10 4 25 31 5 10 2 10v10 40l-2 30 3 70-3 34-10-10-2-14v-20l4-20 1-10v-10l-2-10-1-1-10 2-2-1-7-10-3-10-8-11-10 7-10 13-8-29-2-14-2-6-5-10-6-10-2-10 1-10 4-20-2-30 2-12 10-6 9-2-2-10zM1220 499l2 21v10l-2 9-10 3-2-22 1-10 1-3zM1570 491l2 9 2 20-1 10-1 10-5 10-3 10-1 20-3 11-2-11-2-20-9-20-2-10 5-8 10-1 6-21zM2630 500v-1 1zM1730 520h1l2 10-3 10-1-10zM3080 514l10 6-3 10-7 15-10-7-4-8 5-10zM4990 521l2 19 1 20-2 10-5 10-2 20-4 8-10 8-5-6-2-10 4-50 3-5 6 5 4 5 2-5 6-20zM2040 531l3 9 4 20 1 20-1 10-3 10-4 7h-10l-3-7-3-10v-10l2-10 8-20zM3100 550l7 10 3 2 5 28v10 10l-3 10-3 10-1 10 2 11 10 9 10 12 10 5 3-7 7-6 2 6v20l-2 13-4 7-2 10-2 10v20l3 10-1 10-4 8-3-8-1-10 1-10-1-20-6-10-10 5-10-13-6-22-4-10-5-10-4-10-1-10 5-30v-10l-1-30 1-10 1-10zM3290 558l10 6 3 6 7 9 1 11-1 20-10-8-10 11-2-13-1-20 1-10zM4610 578l3 22 1 20-4 12-1-2-9-6-3-4-2-10 1-10 4-20zM3790 590l3 10 2 10-2 30 1 10 2 10 4 11 6-21 4-9 30 13 9 6 5 10 4 10 2 7 4 23 1 10v10l-2 20-3 11-6 9-8 10-4 10-3 10h-52l-1-40 2-40-4-40 2-30v-10l-2-30 1-10zM4070 603l11 7 3 10-4 34-2-14-2-10-6-13-1-7zM4630 616l10 18 1 6v10l-1 5-10 2-3-7-3-10v-10l3-10zM5000 614l10 4 10 13 10 3v166h-40l2-10 6-20 1-20-3-20v-10l4-30-5-30-1-20 1-10 1-10zM3270 625l2 5 1 10-1 20-2 7-3-17-1-10 1-10zM3420 628l3 22 5 30 2 26 10-2 2 6 1 10 1 20 3 30 3 7 5-7 3-10 2-2v2 20l-6 10-3 10h-3l-8-16-2-14-4-10-4-6-2 16-2 30h-21l-3-10-11-20-1-4-3-6-1-10 3-10 1-9v-11l-3-10-9-20 2-21 10 10 10-5 14-24zM4030 620l3 10 1 10-1 40 3 20v10l-2 10-4 12-10-14-1-18 1-30-1-30 1-17zM1930 646l10 12 2 12 1 10v20l-2 10-1 3-2-3-8-11-3-9-3-10-1-10 1-10 3-10zM2460 649l8 11 2 4 1 6 4 30-4 10-1 1-8-21-2-2-2-8-1-10v-10zM4720 644l1 16-1 6-2-16zM3650 656l7 4 3 3 3 17 1 40-1 10-3 16-5-16-5-28-3-32 1-10zM3760 655v5l4 20 1 10v10l-4 20v10 20 10l-1 6-2 4-10 10-8 14-10-21-5 7-5 5-5 15h-27l-5-20-6-30 3-12 3-28 1-20 2-10 3-10 1-2 10 6 10-1 10-17 10 2 4 12 1 10 3 40 2 8 10-2 4-6-1-20 1-20 5-20zM2500 665l4 5 6 4 4 6 6 19 4 51v10l-4 27-4 13h-35l1-10 4-20 3-10 6-10 2-10-1-10-2-20v-10l2-20zM2230 673l1 7-1 18-1-18zM2300 676l4 4 4 10 2 11 3 9 7 17 10 4 7 9 2 10-6 10-3 3-10-3-10-1-9 11-1 6-5-36-2-30 1-20 2-10zM3930 671l6 19v10 30l3 20 3 10 1 10-2 30h-16v-40l1-60zM1050 683l4 7 1 10 2 30 3 30 1 40h-14l-2-40v-30l-1-30 2-10zM4980 684l4 16 1 10v10l-2 10-3 7-6-17-2-10 1-10 4-10zM1090 697l1 3 2 10-1 40-2 13-5-3v-10l1-10 2-30zM2342 750l3-10 5-11 1 1 9 6 10-5 5-11 5-20 10 16h10l6 4 4 5 4-5 6-12 6 32 4 8 2 2v10l-2 6-10-5-10-8-4 7-6 6-4 4-6 9-10 1-20-19-2-1-8-7zM3360 698l2 2 3 10v20l1 10 2 10v10l-8 6-8-16-4-10v-10-10l2-7zM4050 697l1 3 1 10-2 8-5-8 2-10zM4600 692l3 8v10l-3 15-3-15 1-10zM2450 740l5 10 1 10-5 10-1 1-5-11-1-10zM2230 746l2 14-2 20-2-20 1-10zM2270 744l4 6 2 10-3 10-3 8-7-8-3-7v-3-11zM2900 769l1 11-1 5-1-5zM3290 761l5 9 3 10 2 20h-30l2-10 4-10 4-4 3-6zM3640 763l4 7 2 10v20h-19l8-20zM3000 775l4 25h-7zM4820 774l10 1 3 25h-19l4-20zM1900 785l1 5 1 10h-3v-10zM2570 783l2 17h-5l1-10zM4140 789l7 11h-8zM4200 788l4 12h-7zM4360 800h1-1z"/>
<path fill="#f0bb9e" d="M276 0h4 3l-3 2zM400 4l20 6 3 10-3 60-2 70 1 80-1 20-3 20-8 40-6 50-5 30-4 10-2 8h-10l-1 2 2 10 2 20v10l-3 13-10 7-10-13-10 4-10 14-4-5-5-10-7-10-3-10-2-10-10-10-7-40-1-20-1-50-3-30-1-40-6-28-5-52v-50l-2-70 2-30 5-6 6 6 4 10 10 20 6-20 6-10 8-3 30-3 10 1zM300 107l-1 23 1 21 1-31zM880 2l10 14 7-6 13-1 10 1 5 10-1 10-3 20v10l1 20 5 30 2 40 1 20-2 20 1 20 1 15 4 15 1 10v40l2 20 3 13 5 7 5 10-1 10-4 20v20l-5 16-7 14v10l-3 10-6 10-4 4-10-1-10 6h-10l-2 1-6 10-2 6-10 4-10-21-10-15-10-20-10-11-1-3 1-10-4-10-6-70 1-30-1-28-5-12-3-10-1-10 4-30 1-20-2-30 1-40-3-30v-10l4-50 2-10 2-2 10-2 20 2 10-1 10-3zM870 417l-3 3-3 10 6 9 10 2 2-11-2-9zM1354 0h25l-9 5-10 1zM1394 0h24l-8 5-10-2zM1480 5l10 2 5 3 1 10v20l-5 40-1 20 2 50 3 40-1 10-6 70v40l-2 30-1 50-2 30v10l-3 18-10-2-7-6-3-8-6 18-4 10-7-10-9-10-8-20-6-9-6 9-4 11-4-11-2-10 4-20 3-20 2-80 3-50-2-40 5-40 1-40 4-30v-10l-1-20 2-30 1-10 2-10 2-1h10l2 1 5 10 3 19 10-5 1-14 2-10 7-4zM1589 0h38l-7 2-20 1zM2150 2l20 4 10 4v1l1-1 9-2 3 2 7 9 10-5 3 6-2 50-1 8-4 12-2 10v10 50l2 20 3 20v10l-5 20-2 10v10l5 40-1 20-6 29-5 11-5 22-3 38-1 10-6 24-10 14-10 1-10-5-10-9-10 1-10 3-10 7-17 14-3 6-10-6 3-20v-10l-3-10-4-10-1-10v-30l-2-50 3-50-2-50 1-50 1-70 5-100 9-8 30 1 20-2zM2399 0h12l-1 1zM2589 0h20l-9 2zM2678 0h16l-4 2h-10zM2760 6l3 4-3 15-4 5-3 10-3 30-5 20-1 30 1 10 3 10 2 3 2-3 8-7 11 67 1 10-1 10-5 30-4 40v10l8 50 4 40 1 20-1 10 2 10 2 30-1 10-7 31-10-5-10-23-10-6-3 3-7 7-2 3-5 20-3 5-10 4-4-9-2-10-1-10 1-20-2-10 1-40 2-20 1-10-2-30 5-40v-10l-4-30-1-10 1-10 5-23 6 13 6 10 3 10-3 30 1 10 5 10 2 2 3-12 1-10-2-30 3-40-1-40 3-50 2-80 1-12 4-8 2-10 5-10zM2765 0h21l-6 2-10 2zM2974 0h6 8l-8 1zM3600 9l10-1 3 2 2 10-1 20 4 70-1 50 6 70v40l5 60v40l2 30 1 30 2 30-1 30-2 20-8-10-12-10-10-17-10 7-10-3-5 13-5 8-5-8-4-10v-10l2-10-1-30 6-60v-50l4-50 1-40 3-30v-20l-2-20v-10l4-30-1-80v-10l3-10 7-10zM3631 0h9 6l-6 3zM4167 0h3 6l-6 2zM4220 6h30l30 2h10l20-2h20l10 2 7 2 3 5 5 5 2 10 2 10 1 30v10l-5 50-1 20v20l3 40 3 70-1 100 1 14 3 16v10l-2 20 4 10v30l5 20-2 10-8 7h-10l-10-8-10-12-10 1-3-8-7-10-10 10-10 13-10-15-10 7-10 14-10 6-10-1-10-10h-10l-4-4-2-10v-10l3-30 3-8 5-2-3-10v-10l-1-30-1-20-3-30-1-20 2-20 5-20 1-10 1-10-2-30v-10l4-30v-10-10l-5-30-1-10v-30l-1-15-4-25-2-20-1-20 1-10zM4480 10l4 10 1 30-3 40 2 40v20l-2 30-2 8-1-28-4-30v-10l3-30-1-10-3-30v-30zM4669 0l11 4 10 6 2 10 3 50-3 60 6 20v10l-2 20v20l14 78 10 21 1-9 6-30 1-10-2-40 1-30-1-40 2-20 2-11 2 1 8 10 5 20 1 10-1 30 1 10 1 10 4 10-1 8-1 2-9 2-3 8-3 10v10l1 10 9 30 1 10-2 30-2 100-3 10v20l7 10v10l5 12 8 8 2 4 5-4 3-10 1-10 1-2 4 2 6 5 10-17h10l10-11 2 3 2 10 5 10 1 10-2 10-5 10-3 11-2-11-8-23-3 13-4 30-3 9-10 12-10-11-4 20-2 30-1 10-3 9h-10l-10-39-10-9-10 5-2-6-3-10-5-42-10 5-3-3-7-5-3-5-4-10-3-15-4 45-2 10-4 7-10-17-4-10-6-13-10 11-2-8v-20l1-10 5-10-2-20 3-10 1-10 1-20 3-13 10 15 10 8 2 30 8 17 5-7v-20l2-10 2-100 1-13 5-27 1-20-1-10-2-10-3-6-3-14-1-30-3-20v-10l4-20 1-10-2-10-6-10-10 28-5-8-5-6-9-24-7-10-4-10-2-20v-10l2-10 4-20 4-10 12-7zM4720 314l-3 16-3 10-4 5-1 45-2 20v10l1 10v20l2 5 10-4 1-1-1-9-4-11-2-10-1-30 1-10 1-10 5-15 1-15zM4780 0h16l-6 2zM1790 18l6 2 4 3 3 7 3 10 3 20 1 20-1 10-5 10-4 7-5-7-5-23-4-27v-10-10l3-10zM2950 32l6 8 4 3 5 67v20 20l-2 30-3 21-3-41-2-10-5-17-1-13zM1790 119l2 11 2 30v10l-1 10-3 5-7-25v-10zM4670 157l2 3 3 10-2 50-3 20-10 7-10-16-1-11 1-26 1-4 5-10 4-4 4-6zM1800 190l1 20-1 17-4-7-2-10 1-10zM1770 256l3 4 3 10 4 20 9 30 2 30 6 40 1 20-1 30v30l-2 10-5 11-10-21-11-20-4-10v-10l1-10-3-10 1-20 4-30 4-30-1-20-1-3-2-17v-10zM3230 278v23l-1-11zM2960 367l2 3 4 10 4 11 3 19 1 20 6 10 3 10-1 10-2 2-10 8-10 30-10-1-8-9 1-10 5-30 3-10-3-30 2-24 2-6zM3230 375l2 45 1 10 1 40-1 10-3 9-10 11-6-10-4-9-10 2-1-3-1-10 2-19 10 2 4-13 1-10 5-24 5-6zM3000 456l5 14 2 10 1 10-3 10-5 12-4-22-1-20 2-10zM4180 459l2 1 4 10-6 13-1-13zM2850 482l10 6 2 12-2 15-10 2-1-17zM4490 507l1 3v10l-1 3-1-3v-10zM4830 518l1 12-1 4-3-4 1-10zM1659 530l1-6v6 4zM3720 685l1 5-1 16-2-6v-10zM4410 688l4 12v10l-4 20-3-20 1-10zM4540 688l2 12 1 10-3 11-1-11zM4910 736l5 4 5 10v10l-4 10-6 10-3-10-2-10 1-10zM5030 751v49h-9v-10zM3287 800l3-10 2 10h-2z"/>
<path fill="#e69677" d="M400 6l14 4 5 10-5 130v60l-3 40-2 20-9 49-10 17-8-16-2-5-4 15-1 10-2 10v20l-3 24-4 6-6 4-4 6-6 8h-20l-5-18-3-20-1-10 1-20-2-17-10 12-1-35-3-30 1-20 3-20 6-10 3-10-2-10-4-10-2-10v-10l8-90 5-70 6-10 10-1 10-2h10l20 1 10-2zM1480 8l6 2 4 10 1 10-2 20-4 30-1 20v30l3 30 1 20-1 20-7 63-10 7-10-2-3 42v30l3 28 2 2-2 1-10 33-10-12-7-12-3-4-3-6-4-20v-20l1-60 2-50 3-40-1-40 1-20 1-12 10-26 10 1 4 7 3 10 3 22 4-32 2-70 4-10zM2090 6l10-1h20l30-1 10 2 10 4 5 10 2 40 3 45 6-35 2-40 2-8 1 8 2 20 2 90-3 40-5 30-2 30v20l2 20v20l-4 60 1 30-1 10-3 15-10 11-10 5-20-9-10 1h-10l-10 8-10 4-2-5-8-36-5-14-4-20-1-30 1-50-3-50 1-50v-70l3-50 1-40 2-10zM4231 10l9-2h10l20 2h10l30-2h20l10 2 7 10 3 30 1 20-3 80v30l4 50 3 50-2 50-2 30v30l-1 10 4 30-1 40-2 10-1 1-10-1-10-14-10-11h-10l-10 4-10 14-10-15-10 6-4-4-4-10-2-14-2-6-8-7-5-13-1-10-14-44-2-16v-20l4-40v-20l-2-30v-10l4-30v-10l-6-60v-40l-2-20-3-30v-10zM840 10l20 8 3 2 1 10-14 33-4 27-8 30v10l4 10 8 9 4-9 3-10 6-40 3-10 5-10 2-10 3-20 4-9 7 19 3 14 3 6 3 10 1 20-7 1-10 66-10 16-6 27-2 20 1 10 3 20 1 10-1 10-6 13-5 7 1 10 4 6v8l-14 6-6 4-4-24-3-50 1-10 4-20-2-10-4-20-3-50-6-50-3-13-1-27 1-23 4-17 6-8zM910 17l5 3-5 14-9-4 2-10zM3600 16l9 4v20l1 4 2 26v40l-2 25-9 5 9 42 2 28-1 10-2 10-3 10-9 20-1 10v10l4 33 5 17 4 30 1 15h10l2 15-2 20 1 10-1 15-10 2-10-6-10 3-13-14-2-20-1-10 1-70 2-20 3-20 4-10 1-10-1-30 1-60 4-40-3-40 3-70 1-2zM4669 20l1-4 3 4-3 4zM910 87l8 33 1 10-3 10-6 10-3-10-7-40 4-10zM910 203l6 27 1 10-1 20-3 20v10l2 40 3 30-1 10-7 9-10 4-5-3-4-10-1-10 4-20v-40l3-10-2-20v-10l2-10 3-10 4-10 3-10zM2749 250l1-9 1 9-1 3zM2740 337l6 23 1 10-1 10 1 10 3 4 6 16 4 7 3 13 1 10-3 10-1 1-10-17-5-4-5-10-2-10-4-10-4-5-2-5 7-20zM3570 440l1 10-1 15-1-15zM4730 464l6 16 4 6 6 24 4 7 1 3-1 12-5-12-5-3-10-11-5-6-4-10 1-10 4-10z"/>
<path fill="#d66b55" d="M400 8l7 2 3 3 5 7v10l-2 60-3 70-1 40-5 70-4 20-10 7-5-17-5-27-5 7-4 10-3 20-5 10 2 10v20 10l-5 25-4 5-6 13-10 2-2-5-2-10-3-30-4-10-3-20-2-30 1-30 3-40-1-10-3-30-1-20 6-90 1-40 10-4 8-6 12-1 8 1 12 2 2-2 8-2zM2100 7l10-1 10 1 30-1 10 2 4 2 5 10 1 31 4 49 2 70 1 70-1 30 1 60-2 30v20 10l-5 10-10 3-10-2h-10l-10 2-4-3-6-11-10 4-10 1-12-54-1-10-1-50-3-50 1-40-2-80 4-50 1-40 2-10zM4244 10h9l7 3 10 5 20-4 10-4h31l9 8 1 2 3 20 2 30-3 110v20l6 70-1 20-4 30-7 40 3 10-1 10 2 20 1 10-1 10-1 4h-10l-10-4h-10l-10 6-10 11-10-4h-10l-9-43 1-10v-30l-2-44-7 4-3 5-5-15-5-21-3-49 3-40v-10l-5-60-2-90v-10l7-9zM1480 13l4 7 1 10-2 20-3 22-6-12-1-10-1-20 1-10zM1470 163l10 2 1 15-1 13-10 8-2-21v-10zM3590 368l1 12-1 7-2-7z"/>
<path fill="#c33e3d" d="M2110 8l10 1h30l7 1 3 2 5 8 4 70v50l4 70v30l-3 40 1 40-1 7-10 35-10 3-20-8-10-13-8-4-2-2-4-18-11-30-2-10-3-30-1-60-2-40-1-40 3-40 1-50 7-10zM360 17l9 3 2 10 1 20-1 10-4 20-1 10 1 30v30l2 30-3 30-6 29-4 11-2 10-4 8-3 2-7 5-1-5-2-20 1-50-6-50 2-20 3-30 6-30 2-40 2-10 3-2zM400 10l10 10 1 30-1 30-3 40-2 30-1 50-4 38-2 2-5 10-3 3-3-23-4-20-1-10v-10l2-30 1-30v-30l-2-30 1-30v-20l6-8zM4330 17l4 3 2 20 4 16v74l-1 10-6 40 1 20 2 20-1 10-5 20v12l8 18-8 9-1 11 3 10v10l-2 10-6 10-4 5-10 31-20 27-10 3-10-8-1-8-1-40-4-50-1-20-1-100-2-28-2-2-1-10 3-9v-13l-10-4-3-14-7-27-1-33 1-20 10-3 6 3 1 30 1 10 2 9h10l10-2 8-7-1-20 1-10 3-10 9-4 10-1z"/>
<path fill="#aa162a" d="M2110 10h4l6 3 20 2 10-2 10 6 1 1 3 40 2 50v40l3 60-2 30-7 22-10 24-5 14-4 10-11 9-10-16-10-6-7-17-2-10-3-20-2-20 2-30-1-20-7-43-1-17 1-16 6-24v-10l-1-30 1-20 4-5 7-5zM400 17l3 3 3 30-6 106-5-16v-40l-4-30v-10l2-40zM4300 30l3 10 1 10 6 17 2 13v10l-1 10-4 10-1 10 5 60 5 40-2 40 2 10v10l3 20-2 10-9 30-4 10-4 8-10-1-4-7-6-22-10-10-2-38 1-10v-110l1-22 10-7 10 6 5-17 2-10 1-10v-40zM4330 90l1 30-1 18-3-18v-10l1-10zM350 112l2 8v10 10l-2 9-1-19z"/>
<path fill="#7c0722" d="M2110 15l10 4 3 1 7 11 10 4 2-5 8-9 5 9 5 14 3 46v30l-1 30 2 50v20l-4 15-10 10-10-3-10-16-3 4-3 10-1 20-3 8-10 2-2-10-2-20-4-90v-30l2-50-2-40 1-10zM4300 179l3 21 7 20v2l-10 6-4-8-1-10 2-10zM4280 257l-2-7 2-4 10 2 1 2-1 3z"/>
<path fill="#67001f" d="M2150 47l6 23 4 26v14 13l-3 7-3 10v10l2 20 4 18v20l-1 2-9 11-10-16-10-9-10 5-10-5-1-16-1-30 1-50 1-30 10-3 10 3h10l5-10z"/>
</g>
<rect x="171.10" y="617.90" width="1704.50" height="240.60" fill="#02020d"/>
<g transform="translate(171.10 617.90) scale(0.338867 0.300750)" fill-rule="evenodd" shape-rendering="geometricPrecision">
<path fill="#0e0b2b" d="M0 0h5030v800h-5030zM20 23v7 3-3zM50 18l-2 2-1 10 3 47 2-47-1-10zM100 27v3 4-4zM440 23l-1 47 1 22 2-12v-10zM870 18l-2 2v10l1 40 1 12 1-62zM2080 28v20l1-18z"/>
<path fill="#1e1149" d="M0 0h5030v800h-5030zM20 15l-4 5v10l3 60v40l1 25 1-75 1-60zM50 13l-7 7-1 10 3 60 4 100 1 21 4-191zM100 15l-2 5v20 30l2 28 3-68-1-10zM150 16l-2 4 2 93 1-33 1-60zM200 14l-2 6 1 50 1 27 3-67v-10zM270 18l-2 2v10l2 28 3-28v-10zM320 60v22l1-12zM340 17l-9 3 5 20v10 30l4 19 5-69-1-10zM360 17l-4 3-2 10v10l3 50 3 40 2-50-1-60zM380 18l-1 2v30l1 37 2-37-1-30zM440 15l-3 5-1 60 1 20 3 17 4-7 3-10 1-20-1-50-1-10zM490 19l-1 11 1 37 1-47zM620 19l-1 1-1 10 2 36 1-36v-10zM870 13l-7 7-1 10 4 50 4 26 3-26 1-60zM1020 27l-2 3-3 10-1 10v10l5 10h1l1-20zM1070 16l-2 4v50l2 22 4-22 5-50zM1200 40v3-3zM1430 19v16l1-15zM1700 20l-2 10 2 6zM2080 16l-2 4v10l1 40 1 18 3-8 7-33 2-27-2-2zM2150 18l-1 2 1 35 1-25v-10zM2250 17l-2 3 2 27 1-27zM2290 22l-1 18 1 34 1-34zM2810 29v1 2-2zM3510 19l-1 1 1 7v-7z"/>
<path fill="#341069" d="M0 0h5030v800h-5030zM20 10l-7 10-1 10 4 80v40l4 42 2-22 1-20v-50l1-80zM50 10h-2l-8 8-1 2-1 10 1 40 6 90 1 50 4 29 3-39 1-100 3-80-6-10zM100 10l-4 10v40 20l4 64 3-54 2-70zM120 17l-2 3-1 10 2 40v50l1 29 3-9 2-10 1-10-3-40 3-50-1-10zM150 11l-5 9 1 120 2 30 2 15 6-115-1-50zM200 10l-4 10 1 60 3 73 2-53 4-60v-20l-5-10zM270 13l-5 7v10l2 50 3 25 5-5 5-10 1-20-3-50zM320 14l-3 6v40l3 97 6-37 4-10 3 10 3 20 4 15 2-15 4-50 4-24 3 24 3 50 4 32 2-32 2-60-1-60-3-10-10 8-10-7-10 4zM380 12l-3 8-1 40 4 84 5-84-1-40zM440 10l-6 10-1 70 1 20 6 52 4-12 6-11 1-49v-70l-1-2zM470 15l-2 5 2 110-1 60 1 17 1-27-1-50 2-110zM490 15l-2 5 1 70 1 21 3-31v-60zM620 14l-10 6 4 30 6 68 4-88v-10zM730 18l-10 2-1 40 1 24 3-4 2-10v-20l4-10 1-1 1-19zM760 18l-1 2 1 12 1-12zM790 16l-9 4 2 20 2 40 1 10 4 12 2-12 4-60v-10zM870 9l-2 1-10 10v10l1 20 9 80 2 29 5-69 1-70-5-10zM890 19l-1 1v10 20l1 18 1-28zM950 18l-4 2 4 63 4-43 2-10 3-10zM1020 16l-10 2-2 2-1 50 3 60-1 40 1 30 1-20v-40l1-20 2-10 4-10 2-5 3-15 2-20v-30l-1-10zM1070 11l-5 9v40l5 89 3-19 2-30 5-28 3-52-3-6zM1100 20l-1 20 1 20 1-20zM1200 17l-2 3-1 20 1 20 2 29 2-19 1-20-1-30zM1290 41l-2 29 2 38 3-38-2-20zM1310 18l-3 2v10l3 32 2-32v-10zM1410 19l-1 11 1 29 2-19v-10l-1-10zM1430 13l-5 7v10l2 30 3 17 3-7 7-40v-10zM1540 16l-3 4v10l3 18 3-28zM1650 19l-1 11 1 39 1-39v-10zM1700 14l-10 3-10 1-1 2 1 30 6 20 4 22 6-12 4-4 5-16 2-10v-20l-2-10zM1790 19v33l1-22zM1820 15l-1 5 1 41 9-31 1-10zM1970 17l-4 3 2 20 2 44 1-64zM2080 11l-4 9v10l1 50 3 36 10-15 3-41 3-40-6-7zM2150 13l-4 7v10l2 60 1 30 1 26 2-26v-30l2-30 1-40zM2170 20l-1 10 1 9zM2220 18l-10 2v10l1 10 9 27 1-37v-10zM2250 12l-5 8 5 67 3-67zM2290 14l-3 6-1 10 1 50 3 27 3-17v-10l2-50-1-10zM2330 15l-10 2-7 3 7 42 3 8 2 10 3 40 2 6 1-26v-40l1-40zM2510 19l-3 1-1 10 2 50 2 33 2-43-1-50zM2700 17l-1 3 1 30 6-20 2-10zM2760 17l-5 3 2 10 3 9 2-9 1-10zM2810 16l-10 2-1 2v10l1 24 10 21 2-15 2-30v-10zM2980 18l-1 2-1 10 2 46 1-56zM3050 17l-1 3 1 16 1-16zM3360 17l-10 1-3 2 3 39 3-9 7-2 2-28zM3440 19l-1 1v70l1 17 1-17v-70zM3510 12l-8 8v10l2 20 6 27 2-57zM3620 25l-2 25 2 37 2-7 2-10 2-20-1-10zM3930 14l-5 6 5 42 2-42zM4030 18l-1 2 1 22 1-22zM4090 20v8l10 3v-11zM120 174v31l2-15z"/>
<path fill="#4a1079" d="M0 0h5030v800h-5030zM20 9l-5 1-5 8-3 2v10l3 50 2 30 1 50 6 70v40l1 15 1-55 4-60v-60l1-90-4-10zM50 8l-8 2-2 2-5 8v10l1 50 3 60 3 30 1 50 7 63 5-73 1-110 3-80-5-10zM80 17l-3 3v10l3 25 1-15 1-20zM100 8l-2 2-4 10-1 50 3 70 3 30v40l1 29 1-29v-40l4-60 3-90-5-10zM120 11l-6 9 2 50v50l1 40v40l3 35 6-15 4-15 6-15 3-20 1-20-5-40-3-30v-10l2-40-1-10zM150 9l-3 1-5 10v90l-2 40v20l2 20 6 30 1 10v30l1 29 1-19v-50l9-140-1-60-6-10zM180 18l-2 2v10l2 13 2-13v-10zM200 8l-3 2-3 10v70l6 100v61l1-11-1-50 3-40 1-50 5-70v-10l-5-10zM270 10h-1l-8 10v30l4 50 5 37 10 6 4-53v-70l-12-10zM300 19l-1 1 1 10 1-10zM320 9l-1 1-5 10v20l3 110 3 42 5-12 5-24 10 38 8-54 2-32 1 32 9 59 3-19 3-40 1-70-1-50-4-10-2-2-7 2-3 2-3-2-7-1-10 1zM380 9l-2 1-4 10v40l1 50v30l5 36 3-16 2-20 1-30 2-30 1-20-1-40-6-10zM427 20l-7-1-10-1-2 2-1 10 3 25 7-5 3-13 6-7zM440 9l-4 1-6 10 1 30-1 24-4-4-6-10-2 10v10l2 10 5 10 2 10 7 60 6 26 5-6 5-9 3-61 1-80-1-20-3-9-1-1zM470 10l-4 10v10l2 100-1 60 3 53 3-53v-60l1-110zM490 11l-4 9 1 80 3 42 5-52 1-60v-10zM540 17l-10 3v4l6 16 1 10v60l1 30 2 33 3-53-2-60 1-40zM620 10h-2l-8 4-5 6 1 10 4 26 1 14-1 42 5 38 2 10 3 8 3-28 1-50 4-60v-10l-7-10zM700 17l-4 3-1 10v10l5 12 2-22v-10zM730 11l-10 3-4 6-1 30 1 30 4 31 6 19 4 9 2-29v-50l2-40zM760 10l-6 10 3 30 1 40 2 23 3-93zM790 10l-10 4-2 6 1 60 1 26 6 14 4 5 10-3v-12l-1-20-1-20 1-20 4-20v-10zM870 8l-7 2-10 10 1 40 4 30 2 30 4 30 3 40 3 16 3-26 4-50 2-110-5-10zM890 13l-7 7-1 10 5 80 2 20 1 6 5-106v-10zM950 11l-10 6-10-1-3 4 1 40 2 18 2-8 4-20 4-13 4 23v40l1 10 5 22 4-12 2-10 4-32 2-28 5-30-7-6zM1020 11l-10 3-6 6v50l2 60v50l4 52 4-42 2-50 1-10 8-40 3-20 1-20 1-30zM1032 20v10l8 6 10 5 1-11v-10l-1-1-10-1zM1070 9l-2 1-5 10-1 40 1 20 3 60 2 50 2 28 10-33 1-25v-50l5-90-5-10zM1100 14l-4 6v10l4 102 3-62 1-40-1-10zM1140 69v28l1-17zM1180 13l-6 7 1 10 1 10 4 14 4-34zM1200 11l-5 9v10l1 60 4 48 2-28 4-30v-20l-1-40zM1260 62l-3 8 3 5 1-5zM1270 18l-3 2-1 10 2 10 2 5 2-15v-10zM1310 11l-10 8-10-2-3 3-2 60 3 50 2 73 2-23 2-60 6-79 3 29 7 33 4-33 3-50zM1430 9l-2 1-7 10-1 9-1-9-9-7-4 7v10l4 92 8-62 2-18 2 28 6 40v40l2 23 4-23 3-10 3-5 2-15v-60l1-40-3-7-5-3zM1470 16l-3 4 3 50 2-50zM1540 11l-9 9 2 30 4 30 1 10-1 30 3 20 1-20v-40l6-60zM1580 16l-5 4 4 70 1 39 2-109zM1620 16l-10 3-1 1 1 15 5 25 3 10 2 3 3-3 2-10v-40zM1650 14l-3 6v20l1 40 2 30 3-40 1-40-1-10zM1700 10l-20 3-3 7v30l3 40v45l4 5 6 3 7-13 3-7 4-23 6-17 1-33-1-30zM1730 13l-2 7 1 50 1 35 5-25 2-20-1-40zM1770 18l-2 2v60l2 25 2-25v-60zM1790 14l-4 6 1 40 3 61 3-41 2-60zM1820 10l-3 10 1 100 2 31 4-21 3-50 5-30 2-30-4-7zM1850 19l-1 1 1 41 4 9 4 30 2 10 1-20-1-50 1-20zM1880 20v1-1zM1920 19l-12 1-1 10-2 20v10l2 20 3 10 2-10 1-10 2-30 5-12 1-8zM1970 12l-10 5-4 3 2 10 3 10 1 10 2 30 6 51 2-51v-60zM2040 17l-10 1-3 2 2 60 3 20-1 10-1 10-1 20 1 29 10-3 2-16 1-30-2-60 1-40zM2060 15l-3 5 2 60-1 50 2 19 1-19v-40-30l2-40zM2080 9l-2 1-4 10 2 70 3 60 1 14 10-28 4-16 2-20v-40l4-40-9-10zM2150 9l-1 1-6 10v10l2 100 1 20 4 27 4-27 2-50 3-40v-40l-7-10zM2170 15l-8 5v40l1 20 5 40 2 10 2-10 1-10 1-60 3-30zM2220 12l-10 3-9 5v10l1 30 2 10 6 20 9 40 1 9 4-109v-10zM2250 9l-3 1-6 10 5 70 4 34 3-34 2-70-4-10zM2270 97l-1 13 1 15 1-15zM2290 10h-1l-6 10v10l2 60 5 46 5-16 1-10 3-90-8-10zM2330 10l-10 2-10 3-7 5 1 10 5 30 3 30 7 20 1 8 1 22 5 10 4 2 4-42v-90zM2350 19l-1 1 1 9 3-9zM2390 19l-1 1-2 10v10l1 20 2 18 2-28-1-20zM2410 19v18l1-17zM2450 16l-10 4 3 10 7 19 5-19 1-10zM2510 12l-10 6-2 2v10l2 30 4 30 6 77 4-87 2-50-1-10zM2540 16l-8 4 2 20 2 40 2 10 2 6 4-26 1-40v-10zM2580 15l-10 1-4 4 1 30 3 16 5-6 5-7 5-3 5-8 1-22zM2610 16l-3 4-1 10 2 40 2 28 5-8 2-10v-20l1-10 6-20 1-10-5-3zM2650 27v3 10-10zM2670 16l-3 4v10l2 20 1 8 2 2 3 10 4 40 1 4 2-34-1-40v-20zM2700 11l-5 9 2 60 3 26 3-6 6-30 5-20 2-30-6-6zM2730 15l-6 5 3 70 3 29 2-29v-40l1-30zM2760 10l-10 5-3 5 3 25 4 15 1 10 1 40 4 24 3-24 6-70-1-20zM2810 11l-10 1-4 8 1 40 3 38 10 10 4-18 5-70zM2840 16l-4 4v20l2 40 1 30 1 12 1-102zM2920 21l-2 9-1 10v10l3 12 1-22zM2960 17l-10 1-1 2 1 45 4 35 4 60 2 17 3-47v-60l1-40v-10zM2980 12l-6 8 6 114 2-64 1-50zM3000 16l-2 4v10l2 35 4-35v-10zM3030 17l-2 3-1 30 1 20 2 23 2-33 1-30-1-10zM3050 10l-4 10 4 91 3-31 2-60zM3080 14l-6 6v30l4 30 2 35 3-95zM3110 17l-5 3 8 40 7 21 2-31 1-20-1-10-2-2zM3210 17l-3 3 3 32 7-22 1-10zM3260 18l-4 2 4 12 1-12zM3290 19l-1 1 1 11 1-11zM3360 11l-10 2-10 5-3 2 3 40 7 50 3 12 4-12 6-36 4-34 1-20zM3380 20l-1 40 1 19 2-9v-10zM3400 19l-1 1 1 17 1-17zM3440 13l-4 7v70l1 20 3 23 3-33v-80zM3480 15l-3 5v10l3 29 7-19 2-10-1-10zM3510 9l-3 1-7 7-8 3-1 10 1 10 2 10 16 59 2-39 2-50-3-10zM3570 19l-5 1 5 3 6-3zM3590 16l-9 4 3 10 6 14 6-4 2-10-1-10zM3620 15l-3 5-1 30 1 20 3 44 6-4 4-6 3-54-1-10-2-14-2-6zM3680 19l-1 1 1 4 1-4zM3720 17l-1 3 1 34 3-34zM3740 14l-4 6 3 20 1 20 1-20 2-20zM3850 14l-6 6 2 20 2 50 2 22 1-32 1-60zM3930 9l-3 1-9 10v10l2 8 5 32 5 17 4-27 1-40-4-10zM3950 16l-2 4-1 20 1 20 2 11 2-21 1-20v-10zM3970 15l-3 5 3 38 2-8 8-11 1-19-1-3zM4010 19l-2 1 2 11 1-11zM4030 11l-5 9 2 30 3 34 4-34 1-30zM4060 16l-6 4v60l2 20 4 13 2-33v-60zM4090 13l-5 7 2 40 1 30 2 21 10-9 7-32 1-20-1-30-7-6zM4130 14l-13 6 4 40 8 30 1 9 3-39 1-40zM4220 19v38l1-37zM4250 15l-2 5 2 49 3-49zM4300 16l-3 4 3 24 3-24zM2650 41l-3 59 1 10 2 11 1-21z"/>
<path fill="#601880" d="M0 0h5030v800h-5030v-765l1 15 2 30 4 30 1 10-1 30 3 22 5 98 3 30 2 18 3-38 1-50 3-30 2-20-2-70 1-30 1-60-4-10-5-3-10 3-10 9zM50 7l-10 2-3 1-5 10v60l3 40-1 30 1 50 5 40 7 50 3 35 4-45 3-60v-40l1-30v-40l2-41 1-9 5-20 1-10v-10l-7-5-3-5zM80 13l-8 7-1 10 1 20 5 30 3 37 8-37 1-10-3-50zM100 7l-4 3-4 10-2 50 5 100v40l2 30 3 24 2-14 2-30 1-50 2-60 3-83 2 33 1 60 1 30v60l6 64 10-31 10-15 3 22 4 40 3 21 3-31v-50l4-70 7-80v-20l-1-40-3-3-4-7-6-2-6 2-4 8-12-8-8-1-3 1-7 9-4-9zM180 13l-5 7v10l1 20 2 20 2 32 2-12 4-60-1-10zM200 7l-5 3-3 10v60l5 110 1 60 2 25 3-15 1-10v-60l2-40v-50l4-47 5 7 3 10 2 15 7 15 3 5 2-15-1-40 2-30-3-6-10 6-10-5-3-5zM270 8l-5 2-5 7-5 3-2 20v10l1 10 6 29 6 61 2 40 2 15 10-27 5-28 4-50-1-50 2-30 1 10 5 20 4 12 6-12 2-10v-10l-1-10-7-6-10 6-10-10zM360 6l-10 3-10-2-10 2-10-2-4 3-5 10v20l2 60 1 50 5 70 1 38 4-18 6-12 10 23 3-21 3-40 4-26 6 46 4 43 5-43 4-60-1-40 1-40-1-50-3-10zM380 7l-5 3-3 10-1 50 1 40-1 30 4 40v50l2 20 3 16 3-16 1-40 4-50 2-59 3-11 2-20 1-40-1-10-5-3-4-7zM440 7l-8 3-2 3-10-2-10 3-8 6v10l1 20 7 80-2 50 2 20 2-10v-10l-1-50 9-8 2 8 7 50 4 20 7 24 10-9 2-15 2-70 2-90-1-20-3-10-2-2zM470 9l-3 1-3 10-1 10 3 100-1 70 2 40 1 40 2 19 2-19 1-40 2-40v-60-70l1-50-3-10zM490 9l-2 1-4 10 1 90 5 78 2-28 6-60 1-70v-10l-6-10zM510 17l-4 3-1 10 2 10 2 10-2 30 1 10 2 15 1-15v-40l4-20-2-10zM540 10l-10 4-6 6-2 10 1 10 4 20 6 50 3 70 4 39 3-19 1-20 1-60v-60l2-30v-10zM570 17l-4 3-1 30-3 10-2 4-1 6-1 20 2 17 7-7 3-7 2-13 2-50v-10zM590 19l-2 1-1 10 3 13 3-3 3-10v-10zM620 8l-12 2-8 10 1 20-1 30 8 110 2 12 8 8 2 4 6-44 1-20 1-60 2-34 6 14 4 18 6-28 4-8 4 8 4 30 2 3 2-13v-10l-1-30-2-10-9-3-20-1-4-6zM700 10l-10 8-2 2-1 10-1 10 2 40 2 14 3 6 2 10 1 10 2 40 2 20 2-80 6-50-1-30zM730 8l-11 2-7 10-1 30 1 20 8 83 10 14 5-47v-60l2-40-4-10zM760 9l-4 1-6 10 2 30 1 40 4 40 3 26 3-56 2-80-3-10zM790 8l-11 2-4 10 1 60 3 50v60l1 24 3-14 5-40 2-9 10 2 3-13 3-20 1-30 3-22 1-48-11-10zM870 7l-13 3-9 10 1 20-1 30 4 30 2 30 3 20 3 10 4 40 6 33 6-43 4-40 5 10 5 6 3-16 6-120v-10l-6-10-3-1-4 1-6 6-3-6zM910 14l-7 6-1 10 3 10 5 10 4-20v-10zM950 9l-20 2-6 9-1 50 1 10 4 30 1 30 1 10 5-10 5-6 4 16 6 37 4 3 6 7 1-7v-40l3-50 7-60 1-20-2-4-7-6zM1080 8h-10l-6 2-4 10v8l-1-8-9-7h-10l-10 1-5-4-5-2-12 2-9 10 4 100v60l4 70 3 24 10-124 10-65 10-20 16 15 4 10 3 50 2 60 1 20 4 22 6-12 4-12 4-48 1-80 3-70-4-10zM1100 9l-1 1-7 10v10l2 40 1 60 5 36 4-26 2-30 1-90-6-10zM1120 13l-5 7 1 50 2 10 2 8 2-28 1-30v-10zM1180 9l-3 1-7 9-10-7-10 4-10 1-1 3-2 70 3 53 4-43 1-50 1-10 4-8 3 8 2 10 5 71 5-21 5-10 3 10 7 33 5-23v-50l2-40-5-10zM1200 9l-3 1-5 10 1 90 4 50 3 14 4-24 6-72 3-8 7-3 3-17 1-20-1-10-3-2-3 2-2 10-3 30-2 6-2-46-5-10zM1270 14l-10 3h-10l-6 3 1 30-1 30v10l2 10 4 13 13 7 7 23 1-43 5-30 3-40-1-10zM1310 9l-5 1-5 4-10-2-9 8v10l1 60 8 148 4-48 6-83 4 43 6 47 3-17 3-30 1-50 2-20 1-27 3-23v-10l-7-10zM1370 13l-20 2h-10l-4 5 1 30-4 40 1 10 14 30 2 2 7-42 5-20 4-20 4-9 3-11 1-10zM1430 8l-7 2-3 4-6-4-4-1-2 1-6 10v10l3 80 3 30 2 12 2-2 4-10 2-10 2-14 3 54 2 10 5 18 13-58 2-10 1-20-1-50v-40l-4-10-1-1zM1470 10h-1l-6 10-4 50 1 20 8 20 1 10v40l1 30 1-30-1-40 5-40 1-20-1-40zM1500 27l-2 23v10l2 18 1-28zM1534 10l-9 10 2 50 3 50 3 20 5 20 2 8 3-18 1-20 2-40 4-50 10 35 10-41 2 16 4 80 4 46 4-56 1-100-5-10-10 7-10-2-10 1-4-6-6-1zM1610 11l-7 9 2 30 2 50 3 16 10-6v10l1 10 4 10 2 10 3 32 3-62v-30-20l-3-30v-20l-10-9zM1650 10l-5 10-1 60 1 30 1 20 2 20 2 8 2-18 3-40 1-70v-10zM1700 8l-20 1-1 1-5 10v30l3 40v50l1 20 2 16 20-5 5-21 5-25 3-65-1-40-2-6-4-4zM1730 9l-1 1-2 10-1 20 2 80 2 29 6-9 3-10 1-7 6-73 1-10-1-10-1-10-5-4-6-6zM1770 12l-7 8v70l1 30 1 10 2 10 3 9 3-19 2-40 2-70zM1790 10h-1l-6 10 3 100 2 20 2 14 4-14 3-20 2-30-1-30 1-40-8-10zM1820 8l-2 2-3 10 1 110 4 69 2-19 7-30 4-40 5-90-6-10-2-1zM1850 11l-7 9 2 40 5 65 10 41 5-46 1-60 2-20 2-12 10 33 7-21 1-10-1-10-7-5-10 4zM1910 14l-10 1-6 5-2 10v10l6 40 2 50 10-3 10 14 2-21-1-30 1-20 2-20 6-30-10-6zM1970 9l-11 1-9 8-10-3-10 5 4 20 5 40v10l-2 30v10l3 28 3-8 1-10 1-10-2-40 3-10 4-8 10 19 7 69 3 20 3-70 1-90-3-10zM2040 10h-10l-10 8-10-4-6 6-1 10-1 40 3 50 5 40 4-20 2-20-1-40 2-20 3-22 2 12 2 40-1 60 7 65 10-10 4-35 3-40-1-110zM2060 10h-1l-6 10 1 50v60l3 30 3 16 4-16 1-20-1-70 2-50-5-10zM2080 7l-4 3-4 10 2 130 2 20 4 21 6-11 7-20 8-30 1-10 1-10-3-28v-12l4-10 4-10 2-10-2-20-8-6-3-4zM2120 17l-7 3-2 10v10 10l3 10 6 17 1-17v-40zM2150 8l-4 2-6 10v10l2 110 3 30 5 30 4-20 3-20 3-52 3 32 3 10 4 9 6-9 4-10v-27l-2-23v-30l2-23 1-17-1-3-9-7h-2l-9 5-4-5zM2220 9l-10 1-10 5-1 5 1 82 7 28 6 20 7 35 4-75 3-70-1-20-4-10zM2250 8l-8 2-5 10v10l3 15 3 55 7 64 4-44 3-100-3-10zM2290 8l-5 2-5 9-10-3-4 4v10l2 40-2 30v20l2 20 2 12 3-12 3-20v-20l-1-30 1-10 4-21 4 81 3 40 3 17 4-7 6-17 6-13 4-6 6 36 4 12 10 10 6-82 1-90-4-10-3-2-22 2-8 5-3-5zM2350 13l-5 7v10l4 40 1 39 10 27 1-16v-20l-1-13-3-7 1-10 2-2 4-38v-10l-4-4zM2390 12l-10 5-2 3 4 30 4 70 4 9 4-59v-30-20zM2410 14l-4 6 2 40 2 27 5-27 3-30v-10zM2450 10h-3l-7 3-8 7 1 10 1 10 3 10 5 10 2 10 2 20-1 30 5 22 10 8 3-10 2-10 3-40 2-8 6-32-1-20-1-10-4-5-10 2-9-7zM2510 9l-6 1-4 2-9 8 5 50 4 24 5 76 3 20 2 10 3-40 7-130v-10l-7-10zM2583 10h-13l-10 8-10 1-10-9-10 4-9 6-1 10 2 10 8 17v13l-1 30 1 26 3 4 4 10 3 14 1-24 9-81 10-10 2 31 2 10 3 10 5 10 5 20 3 7 6-27 6-10 4-10 2-10 1-10-1-40-8-7zM2610 10l-8 10-1 50 5 50 4 25 6 15 4 9 4-9 2-10 4-73 2-7 4-10 4-2 1 12v40 10l3 10 6 15 3-15 1-20 1-30 2-30v-30l-7-6h-10l-10 3-10-5zM2670 10l-8 10v10l1 20 1 10 5 30 1 10-2 40v20l2 23 10-31 5-32 1-40v-40l1-20-7-5zM2730 10h-2l-8 7-7-7-3-1h-10l-3 1-5 10 2 70 6 69 10 15 4-44 1-30 2-10 3-11 6 51 4 21 4-31 2-20v-50l1-30-6-10zM2760 8l-12 2-5 10 3 30 3 50 5 50 2 10 4 15 2-15 3-30 5-34 2-6 1-10 3-30 2-10 4-10 2-10-4-5-10 1-5-6zM2840 10l-9 10-1 11-2-11-8-5-5-5-5-1h-10l-2 1-5 10 1 60 3 40 3 20 10 14 3-4 3-10 11-40 1-10-1-10 1-10 2-3 1 33 3 20 6 29 2-29 2-100zM2860 108v59l1-7 1-20-1-20zM2880 28l-2 2v10l2 23 3-3 3-10-1-10-2-10zM2920 14l-10 5-10-3-8 4-1 10 1 30 4 20-1 40 1 10 4 12 6-12 9-30 5-6 6-24v-20l-2-30zM2980 9l-4 1-6 8-10-7-10 1-3 8 1 50 1 40 5 50 6 46 6-66 1-30v-40l3-36 3 36 1 50 3 30 3 20 3-50 2-100-3-10zM3000 11l-5 9v10l2 30 3 38 9-58 1-20zM3030 11l-6 9-1 40 1 20 6 44 3-24 3-70v-10zM3050 8l-3 2-4 10 4 90 3 37 4-17 2-20 2-40v-50l-4-10zM3080 9l-4 1-11 10 1 30 1 10 3 6 4 24 6 90 2-20 4-130v-10l-4-10zM3110 10l-10 6-3 4 6 30 3 30 8 20 2 10 2 10 2 27 1-27 5-50 1-50-7-8zM3140 18l-3 2 3 40 3-40zM3170 20l-3 10-1 20 1 20 3 20 5-40 5-16 4 16 2 10 2 20v70l2 19 2-9 1-20 1-30-1-30 3-30v-20l-6-9-10 1-5-2zM3210 11l-10 9 3 40 4 20 3 14 10 12 4-6 4-10 2-10-1-10-2-20v-30l-7-5zM3260 12l-17 8v10l8 50 1 30 2 10 6 9 2-19v-60l3-30zM3290 13l-8 7v10l1 30 3 10 4 5 7-35 2-20zM3360 9l-21 1-9 8-3 2-1 10v10l2 10 2 5 10 44 5 31 5 13 6-13 4-16 7-74 1-20-5-10zM3400 13l-8 7-2 19-1-9-1-10-8-5-5 5 1 50 2 20 2 10 6-10 2-10 1-10 1-28 1 18 4 50 2 10 3 13 3-23 1-60 2-30zM3440 10h-1l-6 10 1 80 2 20 4 40 4-30 1-20 1-90-5-10zM3460 17l-3 3 3 27 5-17v-10zM3480 10l-7 10-1 10 5 40 3 52 2-12 2-20 1-10 5-14 4 14 2 10 4 45 1 5 9 6 4-76 1-50-2-10-3-3-8 3-2 2-10 3-8-5zM3560 13l-11 7 1 18 1 2 19 15 10 1 5 14 3 10 1 10-4 20-1 10v10l6 9 2-9 2-10v-10-20l6-6 4-34 1-30-5-5-9-5h-2l-9 4-10-2zM3620 10l-7 10 1 50 6 79 6 11 4 8 1-8 2-30 1-20 3-50v-20l-2-20zM3690 17l-10-3-10 5-20-5-5 6 2 40 3 28 4-28 4-10 8-10 4-10 2 10 8 20 13-30 2-10zM3740 9l-3 1-7 9-10-8-5 9 3 70 2 17 3-7 3-10 4-26 5 36 3 10 2 3 4-13 2-10 1-40 3-30-6-10zM3751 20l6 20 3 5 7 5 9 10 4 3 2-23-1-20-1-2-10-1zM3800 12l-3 8v60l1 20 2 10 2-20 3-70zM3820 12l-5 8 1 20 4 26 4-46zM3850 9l-3 1-9 10 3 30v30l2 20 2 20 5 22 3-42 1-80-3-10zM3870 15l-2 5v50l2 27 1-77zM3930 7l-8 3-2 2-10 8-1 20 1 35 10 14 3 11 7 20 6-40 2-30-1-30-3-10zM3950 10l-6 10-1 30 1 20 2 10 4 12 5-32 2-30v-10zM3970 10l-7 10 7 93 5-13 5-18 3-62-3-9zM4010 11l-10 9v11l2 9 3 10 5 8 3-8 3-10 2-20zM4030 8l-4 2-5 10 4 60 2 40 3 39 4-69 5-40v-30l-5-10zM4060 10l-10 6-8 4-1 10 1 20 8 62 10 29 2-21 1-20 2-80zM4130 10h-3l-17 7-8-7-12-1-2 1-8 10 2 60 4 30 4 25 11-5 6-10 6-20 7-11 10 39 3-18 3-40 1-50-6-10zM4170 20l-1 20 1 22 2-12v-10-10l-1-10zM4220 13l-2 7 2 109 3-69v-40zM4250 10l-5 10 1 40 4 40 3-30 2-50zM4300 10l-9 10 3 30 6 28 5-28 2-30zM4380 15l-2 5 2 55 2-55zM4430 17l-5 3v40l5 30 2-70zM4460 15l-9 5 6 40 1 10-1 20 1 10 2 10 1-90zM4510 15l-10 4-1 41 1 16 10-12 4-44zM4630 16l-4 4 2 30 2 14 1-44zM220 160l-1 20 1 10 1-10zM3570 130v13l1-3z"/>
<path fill="#752181" d="M0 0h5030v800h-5030v-570l6 20 4 9 7 71 3 18 4-48 3-60 3-23 13 73 4 50 3 22 3-22 5-60 2-117 2-3 2-10v-10l-3-20 1-10 4-20 4-17 3 17 2 50 2 10 3 8 10-2 1 44 1 20 3 40 5 25 4-25 4-40 1-20-1-40 2-44 1 34v60l9 99 10-20 6-19 4-10 5 50 5 25 4-45 6-129 4-11 3-10 1-50 2-40v-10l-2-20-9-10-9-4-10 4-20-3-8 3-2 3-2-3-8-4-6 4-4 10v6l-1-6-7-10h-5l-7 6-9-6-11-4-10 1-6 3-4 8-3-8-7-4-17 4-3 2zM200 5l-7 5-3 10v34l-1-34-6-10-3-1-2 1-6 10-2 30 3 30 1 50 4 20v30l2 12 1-52 2-10 7-27 2 27 2 60 1 60 5 48 4-18 3-30 1-50 2-40-2-50 2-33 3 13 3 20v10l-1 10-3 20-1 10 4 50 3 10 2 4 4-4 3-10 2-10 3-60 4-40v-50l2-30-5-10-3-1-4 1-6 4-8-4zM450 6h-10l-10 3-10-1-12 2-8 6-10-6-10-4-7 4-3 8-2-8-8-5-10 2-10-1-10 2-10-3-7 5-3 6-7-6h-8l-5 2-2-2-18-3-8 3-2 2-10 6-5 2v10l3 60-3 30 1 20 4 17 9-7 1-2 2 32 2 40 2 10 4 7 10-5 10-73 2-9 2-30 1-10 5-15 7-5 3-4 1 64 9 168 3-8 7-28 10 32 2-34 7-40 1-10 6 40 4 39 5-39 5-18 10 43 6-15 2-10 1-10-1-30 1-10 1-11 4-9 2-10 1-30 3-27 2 27v30l1 10 7 28 3-8 3-10 4-18 15 58 5 9 4 1 6 4 6-64-1-40 1-70 2-60v-10l-3-10zM470 7l-5 3-3 10-1 10 3 100-1 70 1 40 1 40 2 20 3 22 2-12 3-20 1-50 2-30-1-140 1-50-3-10zM485 10l-3 10 1 50v50l2 50 1 50 2 30 2 15 2-25 2-60 6-67 10 39 3-2 7-7 1-3-1-10-2-20-1-20 1-10 2-15 2 15 2 20 5 10 1 1 1 19v40l1 20 8 77 3-7 2-10 4-60-1-50 1-60 1-21 1 11 2 30 3 30v20l-2 30v10l2 10 4 6 4-6 1-30 3-10 2-4 3-6 2-10 5-48 10 7 8 61 1 20-1 40 2 20 6-10 4-5 5 15 5 11 5-11 2-10 2-10-1-30 2-28 10 6 6 2 1 10 1 20 2 11 1-11-1-40 2-10 8-34 8-6 1-10v-80l-9-7-10-3-10 2-6-2-14-3-10 1-8 2-2 3-10-3-10 6-10-6-10 7h-10l-5-7-5-2-12 2-8 8-10-8h-2l-8 5-3-5-7-2zM760 7l-8 3-2 3-10 7-4-10-6-3-16 3-4 6-4-6-6-2-9 2-8 10-1 10v20l3 100 3 20 4 20 5 30 3 7 2-27 4-80 2-20 2-13 6 63 2 50 2 29 10 9 2-18 2-50 3-40 3-108 3 18 3 40 4 29 1 41 2 30 1 10 3 10 3 3 2-23 6-140v-20l-3-10zM790 7l-10 1-4 2-4 10v30l4 90v60l2 20 2 19 7-19 3-12 10 6 6-24 3-20 7-130v-20l-6-7-3-3zM830 19l-1 1-2 10-1 50v30l4 32 4-12 4-40 2-18 4 28v10l-1 30 2 40 3 20 2 10 10-6 5 36 5 14 3-14 7-50 10-1 4-19 3-30 1-30 2-34 9 24 7 10 4 10 2 40 8 33 7-13 3-9 3 19 2 10 5 10 10 14 3-4 2-10 4-100 1-13 4-7 5-10 1-3 10-6 7 29 2 20v50l1 6 3 74 7 66 10-129 7-17 1-10 3-40 3-10 6-13 10 5 5 18 4 20 2 70 2 20 4 20 3 10 10-5 6-65 3-60v-50l1-28 1 28v50l2 20 6 50 1 28 1-28 6-30 3-46 10 8 5-72 1-30v-10l-4-10-2-1-3 1-7 10-4-10-6-2-6 2-4 7-3-7-7-3-10-1-9 4-1 2-4-2h-26l-10-3-20 3-8 10-7 30-5 13-3-23-1-20-5-10-21-3-24 3-5 10-1 24-1-24-7-10-2-1-4 1-6 5-3-5-7-3-10 3-10-5-20 5-10 10zM1140 10l-5 10v80l4 70 1 47 2-37 4-30 2-20 2-53 3 53 7 52 8 8 2 8 1-8 9-8 3-12 3-20 4-13 4 33 6 31 5-21 5-50 10-8 4-12 2-10 4-66 4 26-1 30 1 10 5 20 7 40 4 14 10 38 10-3 2-39 8-57 4 47 4 90 2 19 4-39 6-66 10 77 3-21 5-20 3-30 4-20 2-10 3-5 2 5 3 10 5 34 5-4 5-2 10-18 10-55 4-45 4-30v-10l-6-10-2-1h-30l-3 1-7 9-7-9-13-3-10 3-10-1-6 1-4 3-6-3h-10l-4 1-10-1-10 4-10 6-10-9-10 8-4-9-6-3-7 3-3 7-3-7-7-2-7 2-3 3-5-3-5-2-10 2zM1430 6l-10 3-10-1-6 2-4 7-10 1-3 2v10l3 19 10 28 3 63 7 47 5 3 5 1 6 19 1 10 2 30 1 10 5-50 12-70 1-10 1-20-1-50v-40l-4-10-4-3zM1470 8l-6 2-4 6-4 4-2 60v20l2 20 6 40 4 40 4 27 3-37 3-70 4-43 2-7 1-10-1-10-2-9-1-21-5-10zM1500 16l-5 4-1 10-2 50-2 10-2 10v10l2 15 3 5 7 6 1-16 3-80v-20zM1526 10l-7 10 2 60 6 70 5 20 8 26 5-26 1-10 4-60 2 10 5 40 3 7 3-7 1-10 3-30 3-16 5 76 5 45 3-25 3-60 3-110-5-10-4-1h-30l-10-2zM1610 8l-5 2-5 6-5 4 4 30-2 40 1 50 2 27 10 2 10-8 2 9 6 40 2 8 4-18 2-10 2-30 2-23 5 33 3 10 2 4 3-14 2-10 4-60-1-80-4-10-4-2-4 2-3 10-3 80-5-60-1-20-4-7-3-3zM1700 7l-20 1-4 2-5 10v20l2 50 2 70 2 20 3 22h10l10-8 7-14 3-10 2-30 3-70-1-50-3-10zM1730 7l-3 3-2 10-1 40 3 80 3 33 10-4 5-19 3-20v-30l2-21 3 11v10l-1 20 1 10 7 30 4 10 6 10 5-20 2-20 3-66 2 66 3 20 5 30 7-10 6-60 1-30-2-40v-30l-2-6-3-4-7-2-5 2-5 9-7-9-3-1-5 1-5 7h-10l-8-7zM1816 10l-2 10-1 100 2 70 2 30 3 19 4-19 3-30 6-30 6-50 1-37 2 37 6 70 2 13 6 17 4 16 3-16 5-40 7-40 3-10 2-1 5-29 2-10 3-8 4 18 1 10v40l2 20 3 12 10 23 10-19 7-46 1-40 2-18 2 28v30l4 30 4 24 7-14 3-8 4-2 6-5 3 25 2 10 5 16 4-46 1-50 1-90-2-10-4-2h-10l-8 2-2 1-10-1-40-1-3 1-7 6-10-6-10 1-20-3-5 2-5 6-4-6-6-3h-10zM2060 8l-6 2-4 8-4-8-6-2h-10l-7 2-3 2-6-2h-6l-8 7-2 3v40l1 40 1 31 2 29 8 43 3-13 7-21 5 31 3 30 2 11 10-6 7-45 3-52 3 42 3 10 4 8 4-8 3-10 2-10 1-20-2-90 2-40-5-10zM2080 6l-7 4-3 10 1 40v50l-1 40 1 20 2 20 2 10 5 15 20-24 3-31 1-10 6-23 5 13 5 38 1-18 1-60 2-30 1-50-5-9-10 4-6-5zM2150 7l-8 3-6 10v10l3 120 5 50 2 10 4 16 6-26 4-29 10 26 3-7 7-12 2-38-1-80 1-40-2-9-1-1-9-2-10 2zM2220 7l-20 3-3 10 1 60 2 63 10 27 5 30 5 24 8-114 2-70-1-20-4-10zM2250 7l-10 2-3 1-5 10-1 20 1 20 4 30 4 19 5 61 2 10 3 11 4-11 2-20 2-40 2-100-4-10zM2290 6l-8 4-2 3-10-2-9 9 2 40-1 60 1 20 2 20 3 10 2 6 4-6 3-10 3-30 2 40 8 37 10-2 6-15 4-7 2 7 5 10 13 20 4-30 1-40 3-30 1-40 1-29 3 29v30l6 40v30l1 19 7-19 3-3 2-17 4-50v-40l3-50-9-9-4-1-6-1-2 1-7 10-1 14-1-14-3-10-6-4-30 3zM2390 8l-11 2-8 10 1 10 4 30v40 60l2 30 2 22 3-2 5-10 2-7 2-43 3-30 2-100-4-10zM2403 20l3 70 4 39 5 1 3 10 2 5 1-5v-10l-2-10-1-10 2-28 7 8 3 2 2 8 3 30 1 10 4 11 6 49 4 20 2-10 5-30 3-8 5-2 4-10 1-20 3-20 2-10 5-17 4-3 4-10 2-27 2 47 7 60 4 40 2 10 3 10 2 2 3-12 1-10 6-112 5 52 2 30 3 21 10 3 6-24 3-20 1-20 10 7 3 3 6 10 1 5 10 3 6-8 4-31 10 4 6 37 4 17 10 15 10-18 5-4 5-7 8 17 2 8 7-58 1-40 2-16 3 16 1 10v30 20l2 30 4 34 10-21 8-53 2-24 2 24 5 40 3 11 6 9 4 9 10-67 10 42 3-14 3-20 3-40v-60l1-16 1 16v50l5 60 4 23 2 7 5 10 3 3 5-13 2-10 3-52 2 2 4 10 2 10 2 7 4-37 2-10 4-14 3 34 7 43 10 2 10 5 5-40 5-15 10 48 3-53 3-100-3-10-3-2-6 2-4 4-7-4-13-2h-10l-6 2-4 9-7-9-3-1-10 1-10-3-10 1-6 2-4 8-4-8-6-2-10 2-10-3h-10l-6 3-4 7-10-7-10-2-5 2-5 7-8-7-2-1h-10l-10 2-1-1-19-2-6 2-4 5-6-5-14-2h-10l-9 2-11 4-4-4-6-1-14 1-6 3-2-3-8-3-17 3-13 8-8-8-2-1-10 2-2-1-8-2-10 1-4 1-6 6-10-1-7-5h-3-1zM2920 9l-7 1-3 2-11-2-9 3-20 1-10 1-2 5v60 70l2 52 8-32 2-12 2-8 2-20 4-10 2-1 6 21 14 30 10-10 3-10 5-20 12-42 1-18v-20l-3-30-6-10zM2980 7l-9 3-1 1-1-1-9-1h-10l-2 1-4 10 2 70 1 30 4 40 6 50 3 17 3-17 7-77 10 64 3-27 3-50 2-100-3-10zM3000 9l-3 1-5 10v10l2 40 6 91 4-11 2-10v-40l4-32 10 13 5 39 5 40 5-50 4-90-5-10-4-2-4 2-5 10-1 22-2-22-12-10zM3044 10l-3 10 2 60 2 50 1 20 4 25 11-45 4-30 5-11 3 31 3 60 4 35 5-55 5-128 5 48 3 70 2 16 2-6 4-20 4-12 5 32 5 19 5-19 1-10 4-72 5 42 2 10 3 8 2-18 4-40 4-24 6 14 2 10 2 40 4 10 6 10 2-10 5-40 3-18 3 28 2 60 5 40 4-20 6-56 10 15 10-2 10-6 3-11 3-40 4-18 4 18 1 10 2 40 3 23h10l4-23 2-20v-60l2-30-5-10-3-1-8 1-12 5-10 1-8-6-12-1-7 1-3 2-10 2h-20l-10 5-10-3-9-6h-2l-9 7-6-7-4-1h-20l-2 1-8 10-4-10-6-3-12 3-8 7-3-7-7-4zM3286 10l-12 10 2 60 1 20 3 14 5 6 5 9 10-11 2-8 3-30 5-16 3 16 7 19 10-1 8 42 2 32 5 8 5 33 2-13v-20l2-10 6-13 6-47 4-80 2 20 1 40 3 20 4 15 4 5 10 20 6 9 5-19 2-20 1-30 1-50 1-10 2-10-2-1-6-9-4-1-3 1-7 7-9-7h-2l-9 8-3-8-7-2h-10l-10-1-8 3-17 10-5 19-3-19-7-9-1-1-9-1zM3420 104l-2 6-1 10 1 20 2 21 2-41-1-10zM3440 8l-4 2-6 10v40l2 50 6 60v40l2 16 2-16 2-40 2-30 2-30 1-90-4-10zM3510 6l-10 3-10 1-10-2-4 2-6 8-10-7-8 9 3 50 1 40 2 20 2 8 5-68 2-10 3-10 3 20 3 50 2 20 2 7 5-7 4-10 1-9 3 19 7 37 10-9 2-18 2-20 3-110-2-10zM3530 19l-2 11 1 30 1 19 4 21 3 10 13 21h10l4 29 3 10 3 6 10-8 10-4 8-14 2-7 2-13 2-40 3-30 3-34 6 124 4 23 4 7 6 7 5-17 2-10 2-20 1-46 3 36 4 10 3 2 10-23 10-4 1 5 3 10 6 10 10 12 7-42 5-20 2-10v-40l1-20-13-10h-2-15l-5 2h-10l-5-2-5-1-3 1-7 9-13-9-7-2-5 2-5 9-9-9-11-2-10 1h-20l-8 1-12 9zM3720 9l-3 1-5 10 1 80 7 50 4-10 6-10 10 16 5 4 5 10 1-10v-20l5-20 4-22 3 22 3 10 4 5 10-2 7-63-1-40-6-9h-10l-10 2-20-7-8 4-2 2-3-2zM3820 9l-3 1-7 9-6-9-4-2-3 2-4 10-1 50 1 20 2 20 5 30 5-30 3-50 2-23 6 43 2 30 2 14 2-14 2-40 4-50-5-10zM3850 7l-8 3-10 10 4 30v40l2 20 8 50 4 26 5-76 1-30v-60l-3-10zM3870 10l-5 10v50l2 30 3 35 2-55v-60zM3890 16l-1 4 1 54 3-14 2-10 2-30zM3980 9h-10l-5 1-5 8-5-8-5-2-4 2-5 10-1 7v-7l-4-10-6-4-15 4-13 10 2 60 6 65 10-12 5 17 5 12 7-32 1-10 2-33 2 23 8 32 3-42 5-30 2-25 9 105 1 3 5-3 5-9 5-81 1-40-4-10zM4060 8l-10 2-10 4-2-4-8-3-8 3-2 3-3-3-7-2-7 2-3 3-4 7 1 20 3 34 4 6 2 10v30l3 30 1 5 3-15 3-30 1-20 3-14 2 34 6 60 2 17 4-37 4-50 2-16 8 46 2 8 10 25 3-13 2-30 1-60 2-40-4-10zM4130 8l-20 3-10-3h-10l-6 2-10 10 2 20 1 40 2 10 3 20 4 30 4 24 10-14 10 1 10-34 3 13 3 10 4 7 2-7 3-10 1-10 7-100-3-2-5-8zM4170 14l-3 6-1 20 1 30 3 34 6-24 2-10 2-14 2-36-2-4zM4220 9l-1 1-3 10 2 100 2 38 3-28 3-80-1-30-4-10zM4250 9l-3 1-5 10 1 30 1 30 3 30 3 15 3-25 5-80-5-10zM4270 19l-1 1 1 9 2-9zM4300 9l-7 1-10 10 4 40 3 11 10 46 6-17 4-25 1-55-1-2-6-8zM4340 13l-3 7 3 20 4 10 6 30 4-30 6-24v-6-1l-10-5zM4380 9l-1 1-3 10 2 80 2 19 2-19 2-80-3-10zM4430 10l-20 10v1-1l-10-5-2 5 2 32 6 8 4 20 5 10 5 5 10 25 2-20 2-50 1-30zM4460 10l-10 1-4 9 2 30v40l1 20 1 5 10 27 1-32 2-90zM4510 10h-6l-4 1-4 9 1 50 3 31 10-1 4-30 6-50-7-10zM4630 10l-12 10 2 9 1 11v40l3 10 6 6 2-26 1-50zM570 210l-3 10 3 25 1-25zM2790 40zM2870 69l2 11 2 20-1 10-3 6-3-26v-10zM1870 74l2 16 1 10-1 10-2 2-1-22zM2550 96l1 4v10l-1 19zM0 110v-4 4 8zM30 101l1 19-1 11zM0 177l1 13-1 8z"/>
<path fill="#8b2981" d="M0 0h5030v800h-5030v-509l10 7 2 42 1 10 7 27 5-47 5-80 3 20 7 31 3 49 7 43 6-43 4-49 3-1 4-10 3-30 3-10 7-19 10 9 2 30 8 52 7-52 3-35 6 75 2 50 2 28 10 13 9-31 1-17v7l6 10 4 3 5-63 5-87 10 11 4-4 6-4 4-16 1-10 5-61 3 111 7 85 3-5 4-10 2-20 1-30 2-10 6-10 2-1 3 11 7 41 3-21 4-40 3-14 4-6 6-14 5 44 5 29 4 11 6 8 6-18 4-8 6-2 2-10 2-20 4 10 2 10 4 9 2-19 8-63 2 63 3 40 3 40 2 18 10-6 10 5 3-17 2-40 2-10 3-15 3 15 7 65 3-15 5-40 2-12 6 32 4 11 7-11 3-7 3-13 2-20 1-40 4-12 7 32 3 20 2-10 8-22 10 53 10-7 10 28 5-32 4-70 1-10-2-50v-60l2-36 2 46v50l-2 50 2 80 2 20 6 54 8-54 1-20-1-30 2-34 2 24 2 40 6 28 5-58 2-60 3-37 4 17 1 10 1 40 4 44 10-66 6 12 4 5 2 25 3 40 1 10 4 16 4-16 6-15 8 5 2 2 2-2 8-4 3-16 5-50 1-10-1-20 2-11 10 4 1 17-1 30 1 10 3 20 2 10 4 8 10 5 4-3 6-2 6-8 5-10 3-10 6-32 6 22 4 8 5-18 2-10 3-42 4 12 6 7 10-1 4 14 2 10 1 30 3 21 10-3 5-48 3-60 2-27 3 37 1 40 3 30 1 40 2 18 4-8 3-10 3-7 4-23 4-40 2-69 2 19 2 50 2 20 2 20 2 6 10-14 5-32 1-50 4-84 4 74-1 50 1 20 2 30 4 24 10-27 10 6 10-20 4-43 5-40v-10l-1-40 2-44 2 34-1 50v10l6 40 3 28 10-15 5 37-1 30 2 20 4 17 6-37 4-9 10 23 6-24 4-32 10 28 5-36 5-55 10-9 5 34 6 20 2 20 7 10 10-17 14 37 2 10 2 20 2 15 4-25 3-10 3-2 3-18 5-50-1-20 1-20 2-6 3-4 3-10 4-14 1 14v20l-1 4-4 6-3 10-1 10-1 10 6 30 1 30 2 13 10 1 4 26 3 40 3 16 5-46 5-68 2-12 3-10 5-9 3-11 3-40 4-17 5 7 5 10 4 30 4 40 4 40 2 10 6 15 4 5 6 11 10-127 4 36 4 40 2 14 2-4 2-10 3-30 3-20 10-10 2-10 7-150-1-10-3-10-5-3-10 4-10-5-10 4-10-5h-10l-10 3h-30l-10-3-10 2-10 1-6 2-4 4-9 6-1 3v-3l-5-10-5-2-20-3-20 3-8 2-2 3-2-3-8-2-10 1-10-4-10 3-10-4-28 6-2 2-10-2-10 9-6-9-24-5-10 1-7 4-3 10-3-10-7-4-10 3-6 1-4 2-1-2-9-5-20 5-10-4-15 4-5 8-10-6-3-2-7-2-20 1-10-3h-10l-10 1-10 2-10-1-10 1-10-1-10 2h-10l-10-4-18 4-2 2-2-2-8-3-10 2-10-2-7 3-3 9-2-9-8-4-7 4-3 9-3-9-7-6-10 1-10 2h-10l-20 3-10-2-10-4-10 6-10-7-10 2h-10l-10 2-10-4-10 7-10-2-10 1-20-3-10 3-5 1-5 3-10 1-3-4-7-3-10 3-10-2-10-4-9 6-1 3-2-3-8-2-6 2-4 7-6-7-14-5-10 3-20-2-10 3-10-5-8 6-2 5-3-5-7-2-10 2-10-2-10-3h-10l-10 5-10-5-10 1-10 3zM1136 10l-4 10v10l1 80 4 110 3 41 6-71 4-21 7 31 6 20 7 30 5-10 3-10 5-20 7-28 6 38 4 49 5-49 12-50 3-9 5-21 5-13 3 13 2 10 3 50 2 14 10 10 6 16 4 16 4-6 6-5 3-25 2-40 5-33 3 33 3 80 4 41 7-61 3-32 3 22 7 46 6-36 4-18 2-2 3-10 5-24 6 34 4 37 10-16 3-31 2-10 10-20 9-20 3-10 3-16 1 6 9 17 10 11 4 32 3 40 3 23 3-13 2-20 2-10 3-5 3 15 4 40 3 14 5-24 5-40 6-30 4-34 4 14 6 17 4 33 6 35 4-35 4-70 2-22 10 35 10 2 4-35 5-110-9-10-10 8-10-2-3-6-7-4-11 4-9 8-3-8-7-4-10-1-10 2-10-1-10 5h-10l-10 6-4-7-6-2-10-1-10 1h-10l-10 2-10-3-10-2-10 3h-10l-30 1-10-1-20 2-10-2-10 2-10-5-10 4-10-3-10 3-10-3-10 2h-10zM1518 10l-7 10 4 30 4 70 1 63 7 17 6 30 7 19 4-39 6-38 7 8 3 2 10-11 6 49 4 23 5-23 2-20 3-116 1 46 4 50 2 10 3 7 3 3 5 10 2 10 10 3 2 7 8 17 10-36 10 8 8-39 3-30 5-30 2-30 2-9 2 89 5 40 3 38 10-1 4-7 6-8 3-12 7-16 2-24 3-40 2-70-1-50-2-10-4-3-10-2-20 2-7 3-3 6-10 1-3-7-7-3-7 3-2 10-1 25-1-25-5-10-4-1-20-3-12 4-8 5-2-5-8-3-20 1-20-2-20 3zM1730 4l-5 6-2 10v60l1 70 6 53 4 17 3 10 3 3 2-13 4-40 4-19 4 19 3 30 3 14 10 4 4-28 6-29 10 60 8-11 2-2 7-18 2-10v-10l-1-40 2-50-1-20-2-20-1-30-4-10-2-1-10-2-9 3-1 2-2-2-8-2-20 3-1-1zM1820 6l-6 4-2 10-2 70 1 100 2 30 7 45 4-15 4-20 8-50 4-31 6 61 8 30 6 26 8-36 7-40 5-20 10-2 2 12 8 28 5 12 5 10 10 14 2-14 3-50 5-33 10 85 4-12 6-12 10 4 10 28 5-70 2-50v-100l-1-10-6-4h-10l-10 3-20-1h-10-10l-10-2-10 4-10-1h-20l-10-3-10 4-10-4zM2000 10l-5 10 1 80 2 60 2 23 3 17 2 20 4 10 1 2 7-32 3-9 3 19 2 30 5 26 4-6 6-5 4-15 6-33 5 13 5 30 3-20 4-10 3-7 6 17 4 17 10-9 3 2 6 10 1 7 2-27 5-30 1-30 2-16 2 16 2 30 1 10 5 17 1-7 4-50v-50l2-40 1-60-4-10-4-1-10 1-20-3-10-3-9 6-1 2-1-2-9-3-10 3-10-4h-10l-10 3-10-1zM2150 5l-11 5-7 10 1 60 1 40 1 40 5 70 2 10 8 19 10-40 10 8 10-25 3-52v-30l-1-60 2-40-2-10-2-1-10-2-10 1zM2198 10l-2 10v50l4 126 4 14 6 10 6 20 4 21 5-71 3-50 2-20 4 10 3 10 5 50 5 20 3 8 10-7 5 9 2 10 3 31 2-11 1-40 3-10 4-8 6 28 4 32 1-2 6-10 3-2 8-8 2-3 11 13 9 8 6-48 2-40 2-30 4 20 1 50 5 36 10-22 6-44 2-30 2-24 2 24 1 30 2 30 5 39 10-1 3-18 3-60 3-40 1-86 2 86 3 30 3 50 2 16 6-26 4-8 7 8 3 8 2 2 8 6 4 24 6 14 8-4 1-10 1-27 3 7 2 10 5 8 3-38 2-50 2-10 3-11 6 11 2 10 2 38 6 32 4 37 10-5 6-22 2-20 2-58 4 58 2 10 4 16 10-4 4-12 6-27 10-22 3 9 4 20 1 30 2 18 4-8 3-20 3-7 10-6 4-7 3-10 3-14 4 24 2 10 4 11 5 9 5 12 5-12 5-11 10-4 10 30 2-15 3-40 5-36 6 76 2 40 2 13 4-13 3-20 8-30 5-36 4 26 3 10 7 20 6 43 4-23v-30l2-20 4-26 10 39 6-13 2-10 2-11 3 21 7 29 6 11 4 14 6-14 4-6 5-24 5-11 3-9 3-20 4-25 7 55 3 21 8-21 2-3 5 13 5 10 4-20 6-44 7 54 3 10 5-90 3-110-3-10-5-3-10 2-20-3h-10l-9 4-1 1-1-1-9-3-10 1-10-3-10 1-10 4-10-3-10 1-10-2h-10l-9 4-1 1-2-1-18-3-10 3-10-2-10-1-10 2-20-2-10 2-20-3-10 1-20 3-10-3-20 2-10-3-20 2-7 2-3 2-2-2-8-3-10 2-10-3-10 1-10 3-20-2-6 2-4 8-4-8-6-4-18 4-2 3-3-3-17-2-7 2-3 5-2-5-8-5-10 1-20 1-10-3-10 5h-10l-6 1-4 4-1-4-9-4h-10l-7 4-3 5-2-5-8-4-20 3zM2920 7l-10 1-50 1-2 1-4 10 2 60v80l4 81 4-11 6-29 10-25h10l10 23 10-13 8 4 2 4 4-54 9-40 1-10 1-20-1-50-4-4-4-6zM2945 10l-3 10 1 70 4 60 7 70 1 10 5 14 5-24 5-56 10 64 4-38 4-60 2-89 3 89 3 30 4 24 10-14 4-10 1-10 1-30 3-10 1-2 2 22 2 40 6 37 5-37 3-40 2-66 2 76 1 20 7 56 4-26 6-29 6-11 4-20 4 70 2 20 4 23 8-73 2-61 3 51 1 10 3 10 3 8 4-8 6-15 8 35 2 22 2-22 8-33 10 7 4-14 2-20 4-46 3 36 7 40 10-2 4-8 2-10 4-35 3 65 4 40 3 17 10-30 4-7 3-10 3-5 10-5 1-10 3-10 6-9 2-1 6-10 1-10 1-26 1 36 2 20 4 10 3 6 5 4 5 8 3-18 5-50 2-60 2 40 2 20 6 20 10 27 10-10 5-17 5-24 7 24 3 9 10 4 8 47 4 10 8 29 4-9 6-30 10-77 6 27 4 26 10 4 10 12 10-43 4 21 6 21 3-21 4-30 3-18 5 48 1 50 1 10 3 14 4-24 6-74 1 4 9 10 5-10 5-66 4 66 1 10 5 17 2-7 5-10 3-4 5 24 5 14 10-3 4-31 2-30 3-110-2-10-7-6-10 4h-10l-10-2-8 4-2 3-4-3-6-1-6 1-4 5-2-5-8-3-8 3-2 4h-10l-10-4-10-2-8 2-2 2-3-2-7-2-10 1-10-3-10 1-10-2-10 3-10 2-10 6-5-6-5-2h-10l-13 2-7 7-4-7-6-2-30 2-10-2-10-1-20 2h-20l-3 1-7 4-10-5-10-1-10 2-10-3h-20l-9 3-1 2-1-2-9-5-20 6-10-7-9 6-1 4-2-4-8-4-8 4-2 4-6-4-14-3-7 3-3 9-2-9-8-4-10 2-10-1h-10zM3524 20l1 40 2 60 3 32 10-8 30 52 10-7 18-9 2-2 6-28 1-10v-40l3-28 2 28v40l1 20 7 37 4 3 6 3 5-13 5-18h10l5-12 5-11 10 6 10 11 10 14 5-20 5-23 6-7 4-7 1 17v20l1 10 8 38 4-28 3-10 3-7 3 7 2 10 5 24 8-14 2-2 5-18 5-15 2 5 4 10 4 17 6-17 6-10 4-10 2-30 2-16 7 96 3 23 4-53 4-30 2-57 2 47 2 10 6 15 4-15 4-20 1-20v-40l1-19 1 19v50l2 20 4 20 3 10 5 30 5 18 2-18 5-70 1-40-1-40 1-20-2-10-6-5-10 4-6 1-4 4-2-4-8-4-8 4-2 3-2-3-8-4-6 4-4 9-6-9-4-2-20 1-20-5-10 5-10-2-7 3-3 7-9-7-11-3-10 1-20 1-10-1-9 2-1 1-2-1-8-1-10-3-10 4-20-3-10 1-20-1-18 3-2 2-10 1zM3870 8l-4 2-3 10-1 60 1 30 7 65 3-75 1-80-2-10zM3980 7l-10 1-9 2-1 1-1-1-9-4-8 4-2 3-1-3-9-6-10 3-10 2-20 2-3 9 3 137 3-27 7-26 9 66 1 30 4-10 6-5 10 18 6-33 4-17 7 17 3 13 6-33 1-10 1-40 2-21 2 21 1 40 2 20 5 20 10 6 6-56 2-70v-40l-3-10zM4140 10l-10-3-20 1-20-2-12 4-8 7-2-7-8-4-10 2-10 1-10-4-10 4-10-2-10 2-2 1-5 10v40l4 40 3 15 4 35 6 26 2-6 3-10 5-32 2 22 3 40 5 32 7-62 3-48 4 28 3 10 11 30 2 4 6-24 2-20v-70l2-38 2 18 2 50 2 20 7 40 7 35 4-5 6-12 10 5 4-13 6-18 9 18 1 3 3-13 4-10 2-10 8-90 5-30-2-3zM4180 8l-11 2-5 10-1 40 1 30 4 50 2 21 5-1 3-10v-20l2-13 8-97-5-10zM4220 8l-3 2-3 10 2 110 1 30 3 29 6-49 2-90v-30l-4-10zM4244 10l-4 9-2 1v30l2 13 4 67 2 10 4 14 4-14 2-10 2-50 2-42 5 22 1 10-1 50 1 10 2 10 2 6 7-36 3-9 10 4 7 35 3 8 10-25 2-33 1-70-3-8-2-2-8-3-17 3-3 3-10-3-10 7-3-7-7-2zM4340 8l-3 2-4 10 5 40 2 27 3 13 5 20 2 27 1-27 9-60 5-40-5-9zM4380 8l-4 2-3 10 4 90 3 37 4-47 3-80-3-10zM4400 9l-1 1-5 10 2 30 4 40 2 10 8 17 10 7 3 6 7 10 3-10 2-10 1-20v-40l3-40-4-10-5-2-13 2-7 5-7-5zM4450 8l-5 2-3 10 3 30v50l1 20 1 10 3 10 8 20 2 4 2-44 2-100-2-10-2-1zM4510 8h-10l-3 2-4 10 3 70 4 40 7 10 3 10 3-30 5-30 2-23 8-47-6-10zM4630 8l-13 2-7 4-1 6v30l1 39 10 25 5 6 5 9 3-49 2-60-3-10zM4690 15l-11 5-1 10 1 10 1 5 4 5 6 10 2-40zM4750 16l-3 4 3 14 1-14zM480 34l1 36v50l1 40-2 36-1-36v-80zM1380 63l3 17v10 10l-3 24-2-24v-10zM1890 99l1 11-1 27-1-27zM240 142l2 28v10l-2 6-1-26zM559 250l1-9v9 6z"/>
<path fill="#a02f7f" d="M0 0h5030v800h-5030v-452l4 12 6 7 6 23 4 18 5-38 5-71 7 51 3 14 10 62 5-36 5-41 4 11 6 8 2-8 3-20v-50l1-10 4-16 3 6 5 20 2 11 3 39 7 28 8-68 2-24 4 54 1 40 5 56 7 14 3 3 10-36 7-7 3-2 5-38 5-99 6 9 5 10 9 30 4-40 1-10 5-20 7 100 3 63 3-23 3-10 4-7 3-13 3-30 4-18 10 47 5-19 5-28 5-12 5-9 5 29 5 39 10-10 10-21 10 6 3 6 7 6 2-6 2-10 1-30 1-10 4-15 3 25 2 50 5 42 5-12 5-5 10 4 6-29 1-10 1-30 2-15 2 15 1 30 7 53 10-11 10-8 10 6 4-20 6-12 10-7 10-40 10 41 10-3 5 11 5 33 2-13 2-30 6-33 7 73 3 17 10-65 8 28 2 6 8-86 2-55 3 55 4 40 3 27 4-27 6-52 1 2 3 10 3 30 9 30 4 21 7-11 2-10 1-15 3 15 4 10 3 5 2-5 2-20 3-10 7-20 2-10 4-43 4 13 2 10 3 30 1 6 6-6 4-2 7 12 3 8 6-18 4-6 10 1 10-28 6 13 4 13 5-33 5-23 10-9 2 2 2 10-4 7-2 13 2 21 5-21 5-9 2 19 8 36 10-6 3-20 5-50 2-45 5 105 3 20 2 16 10 13 5-9 2-10v-40l3-43 4 33 3 10 3 4 8 6 2 5 3-25 6-60-1-40 2-41 1 31-1 40 1 20 3 50 6 56 5-16 5-34 5 4 5 6 4-16 8-20 2-10 3-40 3-18 5 28 1 40 3 30 1 23 3-3 7-2 3 12 7 19 3-9 7-36 3 6 3 10 4 30 2-10 8-50 10 8 3-8 7-34 10-5 4 19 6 55 3-15 7-20 8 10 5 10 7 10 5 20 5 12 5-12 6-20 6-20 3-15 3 15 7 20 10 4 4 56 6 26 12-96 4-40 4-15 3-5 3-10 4-28 10 5 3 23 7 111 10 4 10 13 3-28 4-60 3-34 5 44 3 20 2 7 3 3 7 15 1-15-1-30 1-10 3-20 3-10 3-8 3-12 3-20 1-40 2-30 1-50 1 50 4 130 3 50 2 18 5-58 5-50 10 38 5 32 5 18 10-22 10-43 10 84 2-7 3-20 5-50 4-10 6-20 4-10 6-26 5 56 2 10 3 15 10 11 1 4 1 10-1 10-2 10-1 10 2 11 7-11 3-2 10-26 3-12 3-20 2-50 2-18 1 28 2 60 7 87 2-17 3-40 5-42 10 59 4-17 6-45 8 5 1 10-1 30v10l2 12 8-22 12-13 5-17 2-10 1-20 2-16 10-19 8-5 2-2 5 32 5 22 10-13 6 41 4 13 2-3 5-10 3-25 3 35 7 33 5-23 5-34 4-6 2-10 4-26 4 6 6 3 5 37 2 40 3 19 2-49 4-40 4-56 7 26 3 23 1-3 9-6 7-84 3-80 5 70 1 60 4 61 4 9 6 7 10 24 5-31 5-39 8 9 2 4 2-4 8-12 7 52 3 14 10-44 8 10 6 10 6 6 10-2 8 16 2 9 10-39 5 10 5 15 10-1 3-14v-30l1-10 2-10 4-7 3 27v30l7 44 10-5 10-18 10-32 8-89 2-80-1-50-2-10-7-4-10-2h-10l-10 1-10 5-10 1-10-5-10 4v1-1l-10-3h-10l-10-3-10 4-10 1-10-3-10-1-10 1-20-1-20 1-8 4-2 3-3-3-7-2-7 2-3 2-10-2-10-6-18 6-2 2-1-2-9-6-10-1-10 3-10-2-10 4h-10l-10 2-10-4-10-1-10 1h-10l-10 1-10-3-10-1-10 4-20-2-10 2h-10l-10-2-10 2-20-1-10 1-10-3-10 3-10-2-10 3-10-4-10 3-10-1-8 4-2 6-2-6-8-5-10 3-10-4-10 4-10-4h-10l-10 2-20 1-10-1-10-3-10 3h-10l-10 3-10 1-10-4-10-1-10-2-30 5-10-2-10 1-10-3-10 3-10-4-30 5-10-1-10 3-30-7-10 2-10 5v1-1l-10-6-10 4-10 1-10-5-20 3-10-3-20 6-20-4-20 2-10-4-20 1-10 2-10-2-10 2-10-1-10 2h-10l-10-5-10 4-10 2-10-4-10 2-10-1-10 4-10-5-10 5v1l-10-9-20 3h-10l-10 2-10 1-10-2-10-3-10 4-10-6-10 2h-10l-10 2-10-3-10 5h-20l-20-2-10 3-10 1h-10l-10-4-10 3-10-1-10-5-10 6-10-1-10 3v1l-20-7-10 2-20-2-10 4-10-5-10 7-10-3-10 1-10-1-10-4-10 1-10 4-10-4h-10l-10 3zM1730 2l-8 8-1 10-1 50 2 80 4 50 4 76 7-16 3-4 3-6 3-10 4-25 3 15 3 10 4 6 3 4 7 12 4-12 3-10 3-30 3 30 5 30 2 24 3-24 3-10 7-20 7-17 6 47 4 18 10-30 10-8 7 10 2 10 2 10 3 10 6 8 9-28 4-20 7-25 10-16 8 41 2 21 10-6 10 2 5-7 3-10 2-25 3 25 2 10 5 7 5-7 5-11 1 1 4 10 5 34 10 33 2-67 2-50 4-50 2-40-1-100-1-10-8-5-10-1-10 3-20-2-10 2h-10l-10-3-10 4-20-2-10 1-10-3-10 4-10-4h-10l-8 6-2 10v18l-1-18-3-10-6-4h-10l-10 3-10-3h-10l-10 2zM1995 10l-4 10 5 140 2 40 1 40 1 20 7 10 3 8 8-38 2-27 2 37 5 30 3 41 6-11 4-26 4-14 6-37 6 37 4 7 3-7 3-10 4-22 5 22 5 15 3-5 7-7 3 7 2 10 5 32 10 7v-19l-3-10-1-10v-30l2-10 2-11 10 25 5-24 3-20 2-30-1-50 1-30 1 30v50l3 50 6 41 3 9 7 26 5-36 5-21 8 11 2 4 10-9 5-105-1-90 1-40-1-10-4-3-10-2-10 2-10-3-17 6-3 5-2-5-8-3-10 1-20-2-10-4-10 6-10-2-10 1-10-3h-10l-10 3h-10l-10 1zM2196 10l-2 10 2 100 3 100 1 20 10 3 4 17 3 20 3 12 3-12 5-90 2-47 2 7 1 10v20l3 30 2 50 2 19 4-9 6-8 7-22 3-7 2 7 4 30 4 18 6-18 4-17 5 17 5 15 4-15 3-10 3-5 6 5 6 10 4 10 4 14 6-14 4-7 3-13 6-50 1-16 6 46 2 30 2 9 10-1 2-38 8-51 2 21 8 66 6 4 4 7 3-27 4-20 1-10 2-74 3 74 2 10 5 19 6-9 4-36 3 16 7 6 3 4 4 10 4 20 9 10 10-2 10-7 2-11 6-60 1-40 1-16 2 16 1 30 1 10 2 10 4 12 6 38 4 12 10 4 10-47 6 21 4 23 10 6 6-39 4-12 10-24 5 36 2 10 3 9 6 11 4 17 7-27 3-9h10l3 9 7 5h10l10-6 2-9 5-10 3-3 5 13 5 16 6-26 4-57 4 67 2 20 4 26 8-16 2-5 10-50 2 5 8 12 6 38 2 10 2 6 8-36 2-17 10 2 5-15 5-12 9 42 11 27 7-7 3-5 10-42 3-3 6-10 1-4 4 24 6 34 2-4 8-21 10 14 4-23 6-26 4 16 6 17 3-37 4-80 3-110-2-10-8-5-10 2h-10l-10-2h-10l-10 3-10-3-10 1-10-2h-10l-10 3-10-2-10 1-10-2h-10l-10 5-10-1-10-3-10 3-10-2h-10l-10 1-20-2-10 2-10-1-10-2-10 1-20 3-10-2-20 1-10-3-20 2-10 3-10-4-10 2-10-2h-10l-10 3-20-1-10 3-10-6-20 4-20-1-10 2-10-6-10 2h-20l-10-3-10 5h-10l-10 2-10-4-10-1-10 6-10-6-20 3zM2851 20l2 60 1 90 4 70 2 27 10 10 2-7 4-20 6-20 2-10 3-10 3-3 4 13 3 10 3 4 10-4 4 10 6 10 8-40 1-10-1-40 2-17 5-23 3-20 1-20 1-46 1 66 3 60 4 40 2 40 2 10 8 17 8-37 2-34 2 24 8 44 4-24 2-20 4-81 4 41 6 35 2-5 8-13 10 2 4 41 2 10 4 13 3-13 2-10 2-40 3-24 5 54 1 10 4 14 3-14 7-47 5 7 5 14 5 36 5 16 10-78 8 22 2 9 10-22 4 23 4 30 2 9 4-9 3-30 3-16 10-3 10 3 10 19 6 7 4 8 2-18 3-10 5-7 10 63 4-16 6-18 20 8 5-20 5-43 10 8 7 15 2 10-1 30 1 10 1 8 3-8 5-20 2-3 6-27 1-10 3-45 6 25 8 20 3 10 2 10 1 43 1-13v-30l3-10 6-9 6 9 4 11 6-11 4-13 4 3 6 9 1 11 3 10 6 7 10 41 10-15 7-73 3-20 8 40 7 20 5 19 10-3 5-16 5-29 10 42 10-79 2 26 1 50 3 20 4 17 4-17 2-10 4-46 10-11 10 8 10 28 5-9 2-10 3-15 2 15 5 10 7 10 3 10 3 21 2-31 6-80 2-105 3 95 7 78 10-4 10-9 4 5 6 4 10 20 10-8 10 3 10 1 10-52 3 22 3 20 4 34 8-14 2-2 3-8 4-10 3-15 10 8 10-32 5 9 5 17 10 1 10 21 5-9 5-33 6 23 4 5 7 25 3 19 10-52 10 52 5-19 5-12 10-42 6 24 4 10 9-10 1-2 10-12 4 44 3 20 3 10 4-30 6-58 7 18 3 5 6-25 4-14 7 24 7 30 6 18 4-28 6-84 6 54 2 40 2 18 4-118 1-90-1-10-4-4-7 4-3 10v39-39l-2-10-8-7-10 4-10 2-10-5-10 5-10-5-10 7-10-5-20 2-10-5-10-1-10 5-10-1-10 4-10-2-10-3-10 2h-10l-10 1-10-2-10 2h-10l-10-4-10 4-20-3-10 1-20-1-10 1-10 3h-10l-4 1-6 8-1-8-9-8-10 4-10 1-10-3-10 5-10-1h-10l-10-3-10 4-20-1-10-2-10 3-10-2h-10l-10-2h-10l-10-2-10 3-20 4-10-5-20 2-10 3-10-4-30 2-10-2h-10l-30 2h-10l-10 2-10-5-10 1-10 2-10-3h-20l-10 3-10-6-20 6-10-6-10 7-10-5-10 5-20-3-10 3-10-5-10 3-10-2h-10l-8 5-2 8-7-8h-3l-10-5-20 2-10-1-10 1h-20l-6 3zM3888 10l-2 10 2 130 2 45 3-15 5-30 2-12 3 22 4 60 3 22 6-22 4-9 4 9 4 10 2 9 6-29 4-24 6 24 4 10 6-30 4-25 8 55 2 34 2-14 2-10 6-12 3-18 7-64 1 4 9 14 7 36 3 22 1-2 9-10 10 53 4-33 6-61 5 21 2 40 3 20 8-10 2-4 3-26 7-35 10 14 5 21 5 35 10-17 10 16 5-14 3-10 2-16 3 16 5 10 2 2 3-12 4-30 2-10 4-10 3-10 4-33 10-14 2 27v40l1 10 2 10 5 13 10 8 3-41 1-60 2-20 4-34 10 53 3-19 1-20 1-50-4-10h-3l-8 4-2-4-8-5-10 3-5 2-5 10v38l-1-18v-20l-6-10-3-1-10-1-10-3-10 2h-10l-20-3-10 4-10 1-10-5-10 3h-10l-10-4-10 3-10-1-10 2-6 3-4 9-3-9-7-4h-10l-10 2-10-4-10 4-10-6-10 4-10 2-10-2-10 3zM4300 6h-10l-10 2h-10l-10 2-10-4-10 4-10 9-3-9-7-3-6 3-2 10 2 120 1 30 5 71 4-51 5-50v-30l1-26 2 6 2 10 1 10-1 30 2 10 8 20 3 10 3 20 4-20 6-22 10 18 4-16 6-30 5 10 8 30 5 10 2 3 10-23 3-60 2-80-3-10zM4340 6l-7 4-4 10 1 10 4 40 2 50 7 30 7 41 3-21 4-40 3-20 3-40 6-50-5-10-4-2zM4380 6l-6 4-3 10 2 40 2 60 5 81 8-141 1-40-3-10zM4400 7l-5 3-4 10 2 40 7 72 10 18 10 4 5 6 5 9 2-9 6-20 1-10-1-60 2-32 1 12 1 20-1 60 1 10 5 20 3 34 4-4 6-4 3-56 3-110-2-10-4-3-10-2-10 5v1-1l-10-4-10 1-10 3zM4520 6h-20l-8 4-2 10 2 30 2 50 3 40 3 21 10 35 4-46 6-39 10-5 2-16v-20l-1-20 3-30-3-10zM4580 19l-1 1-2 10-1 20 1 40 3 18 2-18 1-50-2-20zM4610 6l-2 4-1 10v30l1 30 2 36 6 14 5 10 9 21 3-31 2-40 2-70-2-10-5-4-10 1zM4690 9l-5 1-15 8-2 2 2 65 10-5 5 20 5 17 3-27 2-70-4-10zM4730 25l-1 25 1 24 4-24v-10l-1-10zM4750 9l-3 1-6 10 6 40 3 27 1-27 4-40-3-10zM4790 9l-1 1-4 10 5 62 4-62-3-10zM1490 238l-1 22 1 19 1-19zM2720 207l1 13-1 16z"/>
<path fill="#b63779" d="M0 6v-6h319l-9 5-10 1-30-2-10 3-10 1-10-1-10-4-10 4-10-2-10-4-10 5h-10l-10 2-20-5-10 1-20-2-10 5-10-6-10 7-10-2h-10l-10-1-10-3h-10l-10 4-10-4h-10zM320 0h35l-15 2-10 2zM362 0h87l-19 3h-10l-10 3h-10l-10-2-10-3-10 4zM0 407l4-7 6-8 5 28 5 43 4-43 4-30 2-22 3 12 7 21 10 75 10-82 10 8 7-32 3-30v-43l1 13v30l2 20 2 10 5 12 6 28 4 12 5-42 5-53 2 53 4 30 4 56 10 4 6-10 4-12 10 2 3-40 4-40 3-40v-25l1 15 2 10 4 10 3 6 5 4 5 2 10-70 5 68 2 60 3 29 5-19 5-30 7-20 2-10 1-10 2 10 3 10 5 9 7-19 3-10 10-23 5 33 5 15 10 2 10-21 10 13 10-7 9-22 1-10v-33l1 43 4 30 5 49 4-9 6-21 10 17 3-26 7-36 4 26 6 45 10 6 10-3 10-9 3-19 4-20 3-7 10 3 6-26 4-14 10 34 10-7 10 51 4-14 2-10 4-44 5 64 5 28 10-72 10 23 4-29 6-47 10 70 4-13 6-38 5 8 5 3 10 44 10-9 6 12 4 13 10-8 6-25 4-28h10l2-2 8-12 3 12 7 21 11-21 10-10 6-10 3-9 4 19 6 18 4-8 3-10 2-10 1-24 3 24 3 10 4 8 10-32 5 44 5 12 6-12 4-11 7-49 3-47 3 57 7 67 10 8 10-16 3-9 6-30 1-4 5 14 5 11 3-11 7-30 6 40 4 21 10-22 8 11 2 4 2-14 8-40 3-20 6-20 1-10-1-20 1-20 1 10-1 30 1 10 4 30 5 77 2-7 4-20 4-11 5 21 2 20 3 14 3-34 7-39 3 19 2 10 5 12 6-12 4-18 1-2 8-20 1-2 3 2 7 20 1-10 1-30 2-10 6-8 10 92 6-34 4-19 10 27 10 6 10 31 6-5 4-4 5-36 5-20 3 10 4 40 3 16 10 14 6 20 4 23 3-23 7-61 8-29 4-30 6-10 2-2 10-2 3 24 2 40 5 39 10-4 10 7 4-22 4-30 2-62 2 32 4 30 4 17 8 13 2 5 6-35 3-40 5-20 2-30 4-36 2 36v40l2 40 2 20 4 12 5-32 5-64 3 14 4 30 3 18 10 26 10 11 2-15 2-30 6-32 5 52 5 28 6-8 3-10 2-20 4-10 7-10 8-19 6 29 5 40 7 10 2 2 10 6 5-18 5-11 10-57 10 121 5-43 3-40 2-21 10 60 7-29 3-23 3 23 7 39 6-9 4-15 4-5 6-4 7-26 6-20 7-31 3 11 7 41 18-21 2-5 3 25 5 10 2 2 10 5 5 23 5 21 8-31 2-17 10 1 10-1 2 17 2 10 6 17 3-27 3-50 4-46 4 26 2 30 4 21 3-11 2-10 3-20 7-40 5-100 4 100 6 72 7 8 3 2 10 26 4-28 6-49 5 19 4 10 8 10 3 10 7 10 3 3 10-52 4 9 3 10 3 20 3-10 7-10 10-2 3 12 4 30 3 17 4-17 6-41 4 11 6 6 10-1 10-24 4 19 2 20 4 13 10-9 10 2 2-16 8-32 3-18 7-80 3 40 3 70 4 24h10l3-24 7-20 10 10 5 20 5 9 10-32 3 13 4 40 3 12 2-2 4-10 14-65 4 35 6 25 4-15 6-19 10 4 8 35 2 17 3-7 7-9 5-11 6-20 9-36 10 9 4 17 6 31 10-10 10-4 10 25 7-22 3-5 10 3 3 12 12 30 5 17 3-47 4-110 3-34 3-16 3-30 1-50 3-14 1 64 5 80v50l4 50 5 10 5 5 7-35 3-11 4 21 3 40 3 11 10-6 4-5 6-13 10-8 9-9 1-3 5 13 5 8 10-5 2 17 8 27 2-7 8-8 3-12 4-40 6-20 7-33 10 68 5 15 5 9 5-19 5-35 10 25 10-2 6-138 1-40-1-60 1-40-1-10-6-4-10-2-10 1-10-2-20 6-10-4-10 1-10-1h-10l-10-4-10 5-10-2h-10l-10-2-10 1-10 3-10-1-10 1-15 4-5 3v-3l-10-6-10-2-10 4-10-1-10-2-10 3-10-1-10-4-10 6-10-1-10-2-10 2-10-4-10 5-10-5-10 1-10 7-10-6h-10l-10 3-20-4-10 3-20-6-10 10v3-3l-10-6-20-2-10 2-10 4h-10l-10-4-10 2-10-1h-10l-10-3-10 4-10 1-20-4-10 1-10-1h-30l-10 6-10-3-10 3-10-1-10-6-10 3-10 4-10-7h-10l-10 2-10-2-10 5-10-1-10 2-20-6-10 2h-10l-10 1-10-3h-10l-10 4-10-1-10-2-10 3-10-1-10-2-10 3-10-1h-20l-10-3-10 2-10-1-10 4-10-5-10 3-10-1-10 5-10-6-10 3-10-3-10 3-10-3h-10l-20 2-10 1-10-1-10-3-10 3-10-1-10 3h-10l-10-3h-10l-10-2-20 4-10-1h-20l-10-3-10 3-10-3-10 2-20 2-10-2-10 3-30-5-10 1-10 5-10-6-10 4-10 1-10-5-20 3-10-4-20 6-10-1-10-2-20 3-10-6-30 4-10-2-10 1h-10l-10 3-10-1-10-5-10 5-10 1-10-4-20 3-10 2-10-4-10 4-9-8h3288l-9 5-10-1-10 4-10-1-10-4-10 3-10-1-10 2-10-2-10 1h-10l-10-4-10 3-20-1-10 1-10-1h-20l-10 3-10-1-10 3-10-8-10 4h-10l-10-3-10 6-30-4-10 4-10-2h-10l-10-1-10 3-10-2-20-3-10 1-10-3-10 3-20 4-10-6-10 2-10 1-10 3-10-3-30 2-10-2-20-1-20 2h-10l-10 2-10-6-10 2-10 2-10-2h-10l-10-2-10 4-10-6-20 6-10-5-10 6-10-5-10 5-20-3-10 2-10-4-10 3-20-2-10 5h-10l-10-5-20 2-10-1-10 1h-20l-10 4-10-5-20 1-10-2h-10l-10 3-10-3-10 1-10-2h-10l-10 3-10-2-10 2-10-3-10 1-10 4h-10l-10-4-10 4-10-3h-10l-10 2-20-3-10 2h-10l-10-2-20 1-10 3-10-3-20 1-10-3-10 2h-10l-10 3-10-5-10 4-10-3-10 1-10 3-10-2h-10l-10 3-10-6-20 4-20-1-10 2-10-6-10 2-10 1-10-1-10-2-10 4-20 2-10-4-10-1-10 5-10-4-10 2-10 1-6 4-1 10 1 120 3 90 3 35 8 5 2 3 2 27 3 10 5 9 10 4 10-4 5-9 5-13 5-7 5-9 3 19 7 19 5-19 5-16 10 27 4-11 6-25 10 17 5 18 5 14 4-4 6-11 2 11 3 10 5 6h10l5-16 5-7 4-13 1-10 2-40 3-21 3 21 2 30 1 10 2 10 7 20 5 31 5-61 5-28 5 18 5 47 6-27 5-10 9-32 3 12 7 45 10-7 20 3 4-11 2-10 4-54 4 14 3 10 1 20 4 10 9 20 9 17 10 2 8-9 2-1 5-9 5-7 3-13 7-35 8 5 6 30 4 10 2 2 3 8 7 11 10-11 12-10 8-5 10 2 10 12 7-39 3-8 10 36 10-43 10 72 6-17 12-20 2-12 10 2v20l2 10 8 12 10-43 7 11 3 10 10-13 10 4 5 9 5 8 2 2 8 13 10-51 10-6 6 24 4 13 10-7 10 2 10-46 3 8 7 12 2-12 4-50 4-146 4 156 3 50 2 40 1 11 15-31 5-17 10 4 10-12 3 5 7 33 5-13 6-10 4-10 5-28 5-22 1-10 1-30 3-31 4 81 2 20 4 28 5 12 5 25 10-69 5 34 5 20 8-50 2-32 6 62 4 16 3-6 7-19 10-8 6 17 4 7 7-17 3-12 6 22 4 16 3-6 3-10 4-22 10 13 2 9 8 14 4-24 6-54 4 14 6 41 3-11 4-20 3-9 3 29 2 10 5 8 10 3 10-33 10-1 6 13 4 14 4 6 6 4 10-49 4 25 3 30 3 21 4-31 6-25 3 5 4 10 3 16 5 4 5 2 5-12 5-17 10-13 4 20 4 10 2 4 7-4 3-3 6-37 4-15 10-7 3 12 4 40 3 14 6-24 2-10 2-29 4 29 6 17 20-12 10-1 3 16 3 20 4 17 10-19 2-8 8-65 1 5 9 21 10 42 4-13 9-10 7-12 10 20 6-8 4-7 10 48 8-31 2-15 1 5 4 10 5 8 4-38 2-10 4-9 10 26 10-15 5 8 3 10 3 20 2 10 7 20 4-30 6-108 5 68 5 37 4-7 6-18 10 5 10-12 10 22 10-2 10 10 8-5 2-3 10-50 2 13 5 40 3 13 10 1 2-4 8-28 20-6 2 4 8 12 10 2 10 26 7-20 6-10 7-18 6 38 4 18 4-8 3-10 3-19 5 29 5 11 4-11 6-27 5-13 5-23 5 13 18 20 5 10 7 20 5 11 8-41 2-21 10-6 5-13 5-24 6 24 4 12 7 28 3 9 6-39 4-62 2 22 4 50 4 24 2-34 3-110 1-90-1-10-5-6-10 6-10-8-10 4h-10l-10-4-10 5-10-5-10 6-10-4-20 2-10-6h-2 1282v800h-5030zM3886 10l-2 10 2 130 4 76 4-6 6-31 4 51 6 40 4-20 6-25 4 15 6 33 10-41 4 8 6 15 6-35 4-20 3 20 4 40 3 19 3-9 7-29 4-11 6-50 10-4 4 34 6 40 10-29 4 29 6 24 5-34 5-50 4 40 3 10 3 9 10 8 5-27 5-42 10 11 3 31 2 10 5 15 8-5 2-2 10 16 10-26 10 4 6-22 2-10 2-15 2-5 8-15 2 5 8 14 10 24 7 12 3 8 5-68 3-70 2-25 6 35 4 22 5-22 2-20 2-30 1-39 2 139 6 80 2 19 4-29 3-40 3-32 10 19 10 56 6-23 4-20 10 9 10-14 7 15 3 8 10 1 10-20 2-29 3-60 2-90-2-10-5-2-10-4h-10l-10 2-10-1-10 2-10-2-20 5-10-5-8 5-2 9-4-9-6-4-10 3-10-8-19 9-1 1-1-1-9-4h-10l-10-2-10 1-30-2-10 4-10-1-10-4-10 3h-10l-10-4-10 3-10-1-10 2-10 5-10-5-20 1-10-4-10 4-10-5-10 3-10 2-10-3-10 4zM4340 4l-11 6-3 10 3 50-1 60 2 20 10 19 6 31 4 15 5-15 3-20 2-25 4-25 2-50 4-38 2 38 1 50 2 60 2 20 3 22 3-22 1-20 4-90 2-30 3 20 7 99 4-9 6-6 3 6 7 28 10 10 4-18 3-20 3-15 5 35 5 21 7 9 3 12 1-42 3-60 3-120-1-10-6-4-10-3-10 4-10-3-10 1-10 4-10-4-9 5-1 3-1-3-9-6-9 6-1 3-1-3-9-4zM4520 3l-20 1-10 4-2 2-2 10 4 30 3 90 6 60 2 10 5 10 4 6 4-16 3-50 3-19 10 4 6-35 4-40v-50l-4-10-6-4zM4580 13l-8 7-1 40v50l1 10 4 10 4 6 2-6 2-10 1-10 3-70 2-20v-2zM4610 1l-4 9-1 10v20l1 50 4 79 7 11 13 37 2-47 4-50 2-100-1-10-7-5h-10zM4650 10l-5 10 5 25 6-5 4-10 5 40 3 60 2 12h10l4 8 6 7 5-37 1-20v-40l1-40-2-10-5-2-22 2-8 10v6-6zM4710 10l-3 10 1 40 2 17 2-57zM4730 2l-4 18-1 20 1 20 4 56 10-53 5 37 5 46 3-26 1-50 4-50-2-10-6-3-9 3-1 1-2-1zM4790 5l-6 5-5 10 1 30 5 40 5 45 2-15 2-30 5-50 1-20-3-10zM4810 13l-9 7 1 10 8 51 5-21 5-40zM4850 11l-10 1-2 8 2 35 10-3 1-32zM2230 212l2 18 1 20-1 20-2 11-1-11-1-20zM2340 230l2 20v10l-2 12-2-12v-10zM1460 259v30l-1-19z"/>
<path fill="#ca3f71" d="M0 4v-4h100l-10 6-30-2-10-3-10-1-10 4-10-3-10-1zM100 0h99l-9 4h-10l-10 3-20-6h-30l-10 4zM201 0h114l-5 3-10 1-20-2-10 1-10 3h-10-10l-10-5-10 4-10-1zM323 0h22l-15 3zM366 0h4 7l-7 2zM382 0h60l-12 1h-10l-10 3h-10zM454 0h85l-9 4-10 1-10-4-20 4h-10l-10-2-10 2zM541 0h85l-6 1-20 2-10-3-20 2-10 3-10-1zM631 0h67l-18 5-10-1-10-2-20 3zM702 0h247l-9 2-10 2-10-2-10 2-10-1-10-3-10 4-10-4-10 2-20 2-10-2-10 3-10-1-20-4-10 1-10 4-10-4-10 3-10 2-10-6-10 3h-10zM950 0h70l-10 4-10-2-10 2-20-2-10 1zM1020 0h139l-9 4-10-2-10 5-10-5-10 2-10-3-10 3-10-3-20 1-10 2h-10l-10-1zM1161 0h119l-10 5-10-1-10-3-10 3-10-2h-20l-10-2-10 2-10-1-10 4zM1280 0h33-3l-10 5-10-1zM1321 0h403l-4 4-10-2-20-1-10 1-10 4h-10l-10-3-10-1-20 2-10-3-10 3h-10l-10-1-10-2-10 1-10-1-10 1-20-2-10 7-10-3-10 3-10-1-10-6-10 2-10 5-10-7h-10l-10 2-10-1-10 4h-20l-20-5-10 3-10-1-10 1zM1737 0h23l-10 5zM1760 0h90l-10 5-10-4h-10l-10 5-10-5-20 4-10-1zM1850 0h49l-9 5h-10l-10-3-10 3zM1901 0h177l-8 4-20-3-10-1-10 1-10 3h-20l-20 2-10-4-10-1-10 3-10-1-10-2-10 4-10-1zM0 456l4-6 6-11 6 41 4 19 4-19 3-20 3-45 6 25 4 8 7 52 3 14 10-71 10-2 10-41 4 10 6 25 10 24 7-49 3-18 3 28 4 50 3 26 10-6 10-10 10 1 4-21 6-73 10 38 10-19 5-46 5-33 2 33 2 60 6 56 3-16 7-22 5-28 5-19 10 17 10-22 4 4 3 10 3 24 4 6 6 6 10-7 10-34 5 15 5 13 3-3 7-12 4-28 3-10 3-7 3 17 3 40 4 24 10 5 10-9 4-20 3-30 3-21 5 51 5 23 10 18 10-8 10 11 5-54 5-25 4 5 6 13 4-13 6-36 6 26 4 34 1-4 5-20 4-9 5 39 5 20 4-10 6-11 5 21 5 24 7-44 3-26 10 60 2-24 1-40 7-56 10 71 4 5 6 24 8-44 1-20 1-4 1 24 1 10 3 10 5 14 6-4 4-5 4 5 6 4 10 3 2-7 8-35 10 1 2-6 6-10 2-2 10 44 3-12 4-20 3-12 3 2 6 10 1 4 10-23 4 19 3 10 3 6 3-6 3-10 4-18 10 23 3-5 7-8 10 13 10-11 2-4 2-10 6-47 5 67 2 10 3 10 10 4 3-14 7-16 5-4 5-12 10-3 10 3 4 32 2 10 4 12 3-12 4-20 3-12 10 18 6-16 10-70 4-17 3 27 2 50 5 25 10-2 8 27 2 12 10-74 6 12 4 4 10 5 6-9 14-10 7-20 2-10 1-13 2 23 2 20 2 10 4 12 7-12 3-12 10 6 10 3 10 35 10-5 5-27 5-18 10 40 10 14 6 34 4 11 7-31 3-39 8-41 2-7 7-3 3-7 10-3 8 80 2 14 20-9 10-67 3 12 13 30 4 7 3-7 2-10 5-34 4 4 6 9 6 21 4 27 3-37 3-30 4-41 5 31 5 20 6 20 4 23 1-3 7-10 2-1 4-9 3-10 3-24 1 14 8 40 1 13 2-13 3-10 5-10 4-10 6-26 10-14 7 60 3 44 4-14 4-10 2-2 10 14 6-22 14-67 6 57 2 40 2 17 8-57 2-27 3 27 7 35 6-45 4-16 10 45 10 3 10-2 3-10 3-30 4-17 10-30 8 37 2 24 10 2 5-16 5-10 10-1 10 23 8 38 2 5 10-41 10-15 8 11 2 3 10 35 6-58 4-66 4 36 6 29 7-29 13-70 4 40v40l2 40 1 10 3 13 2-3 8-18 6 8 4 4 3-4 4-10 4-20 4-10 5-9 10 27 10 7 4-5 3-10 3-30 4 40 2 10 4 14 6-34 4-13 10 1 7 32 3 21 10-42 10-8 13 9 11 20 4 10 2 9 3-9 7-13 10 14 3-11 7-40 3-10 2-10 5-79 2 29v50l2 20 4 20 10 20 2 7 5-17 5-45 5 25 5 13 10 11 5-14 5-21 4 31 6 21h10l10-49 4 18 6 21 6-21 4-23 6 13 4 7 10 49h10l4-16 6-12 10-27 1-1 3-10 1-10 5-7 3 37 5 10 2 2 10-16 10 1 10 25 6-12 4-12 10 1 10 23 10 38 5-70 3-70 2-55 7-25 3-23 3 53 1 50 6 89 10 8 2-7 8-49 4 49 2 10 4 13 10 4 10-7 10-2 4-8 6-10 3 10 7 25 10-17 10 34 13-42 7-45 4-5 3-10 3-17 2 17v40l8 9 10 18 7-27 3-21 10 21 10-4 1-6 3-20 2-80 2-60-1-100 1-50-8-6-10-1h-10l-10-2-10 3-10 2-10-2h-30l-9-4h159l-10 5-10-4-10 3h-10l-8 6v150l3 70 2 40v40l3 28 10-2 10 16 20-6 10 1 10-13 10 19 5-13 5-27 5 17 5 15 10-16 10 8 6 13 4 17 10-3 10-9 3 5 7 20 8-30 7-20 5-21 3 11 3 10 4 7 7 33 3 10 4-20 6-59 5 39 5 23 6-13 4-22 10-30 5 32 5 16 10-2 5-4 5-2 10 11 5-9 5-12 10-10 4 12 13 20 3 7 10-1 10-8 10-18 5-10 2-10 3-24 4 34 4 10 2 3h10l5 7 5 11 10-6 5-5 5-7 7-13 3-3 10 5 10 13 3-5 3-10 4-21 2 11 4 10 4 7 5-17 5-24 10 78 6-14 4-14 4-6 6-8 6 8 4 4 3 6 7 23 5-33 5-23 10 24 10-12h10l6 11 4 17 1 3 9 9 7-39 3-14 10-7 3 11 7 21 10-9h10l2-2 4-10 4-22 10 14 5-42 2-30 3-99 3 109 3 70 4 31 10-6 10-25 10-7 10 6 4 11 6 11 9-11 11-16 3-14 4-30 3-15 3 25 3 20 6 20 8 37 10-51 7 24 3 17 10-66 5 29 5 15 4-5 6-11 8 11 2 8 10-3 10-24 7 29 3 7 10-10 10-4 4 7 6 17 7-47 3-45 3 35 2 10 4 10 7 10 4 10 5-10 5-9 10 10 5-11 5-14 10-8 6 22 4 13 10-1 6-12 3-10 1-13 3 33 7 35 7-45 3-16 5 16 5 26 10-5 10-19 10-2 10 9 10-4 6-5 4-9 5-31 5-12 3 32 7 31 10-38 6 17 4 21h10l10-1 10-5 4 15 6 13 3-3 7-10 7-30 3-28 6 18 4 6 7 34 3 7 3-7 3-10 4-21 10-6 10 29 4-12 6-13 10 43 10-31 10 14 4-13 2-10 4-39 5 19 4 10 1 2 10-9 11 37 4 10 5 6 4-16 3-20 3-47 4 37 6 36 4-6 6-6h10l5-24 5-11 10 16 10 3 10 5 10 2 5-15 2-10 3-19 2 19 2 10 6 14 10 8 10-6 10-21 10 3 10 4 10 8 10 16 3-6 7-18 10-10 10 44 10-11 10 12 20-45h10l4 8 3 10 3 23 10-13 10 23 4-23 6-28 10 2 3-14 7-18 10 36 6 12 4 12 6-32 3-40 1-23 1 23 3 30 2 10 4 11 4-61 2-110 2-90-1-10-7-8-10 5-9-7h48l-15 10-1 10 2 150 2 50 3 35 10 3 4 22 6 43 3-13 7-45 6 35 4 10 4-10 6-21 10 27 3-16 7-34 2 14 8 46 5-6 3-10 2-10 5-10 5-6 6-24 4-11 7 41 3 30 4-20 6-15 7 25 3 19 4-29 6-38 2 8 8 19 10 13 10-49 10 25 10 29 10-5 10 19 10-29 10-2 4-10 6-22 4-8 6-17 4 7 10 20 6 7 6 23 4 6 3-26 7-114 10 57 1-3 9-12 3 32 2 40 5 42 8-52 2-39 4 9 6 8 4 32 2 10 4 10 6-10 4-9 10 19 5-20 2-20 3-11 2 11 2 20 3 10 3 8 10 5 10-45 5-58 3-80 1-80-1-10-8-4-10-3-10-2-10 2h-10l-10 2-10-1-20 4-10-4-10 5-10-6-10 4-8-7h338l-10 2h-10l-10 3-6 5-2 10 2 30-2 40 1 30 7 43 10 76 10 8 5-17 3-10 2-24 1 4 9 17 3-27 1-30 8-50 5-70v-20l-5-10-12-8-10-2h87l-3 10v10 70l6 120 10 23 10 15 3-28 2-50 4-40 1-98 4 48 1 40 5 34 2-4 5-10v-10l-2-20v-10l1-10 2-10 2-4 1 24v40l1 10 2 10 6 14 10 10 10 3 3-17 7-48 6 28 4 27 3-47 1-50 3-40v-20l-1-10-6-5-7 5-3 10 2 20v30 20l-2 18-1-38 1-50-1-10-9-4-20 1-10 2-10-1-7 2-3 7-1-7-9-7-10-1-5-2h110l-3 20v20l3 50 3 70 2 25 10-82 4 37 6 46 7-46 1-10-1-40 1-20 5-50-3-10-10-6-10 4-8-8h196v20l2 40 5-10 4-20 4-10v-10l-1-10h26l2 2 2-2h58v800h-5030zM4340 2l-16 8-1 10 2 50v60l5 69 10 10 2 11 8 19 7-19 6-20 7-60-1-40 1-17v57l3 70 2 20 5 30 5-30 2-20 3-105 1 35 3 50 3 20 3 14 2-4 8-20 6 30 4 10 10 9 4-9 2-10 4-30 4 30 4 20 4 10 8 10 2-30 4-90 3-130-1-10-8-5-10-5-10 4-10-2-10 1-10 4-10-4-10 6-10-6-10 6-10-6zM4570 8l-2 2-2 10 1 100v10l3 16 10 17 3-3 5-10 2-9 1-71 3-50-2-10-2-2zM4790 0l-10 9-2 1-4 10 4 50 6 60 6 48 2-18 6-30 1-40 1-14 5 24 5 10 10-27 2-23 2-40-3-10-11-2zM4850 3l-13 7-2 10 2 40 3 20 7 10 3 5 2-25 1-50-1-10zM4880 16v4 5-5zM4910 5l-2 5v10l2 29 2-29-1-10zM2241 0h47l-8 4-20 1zM2295 0h33l-8 2h-10zM2331 0h57l-8 2-10 2h-20l-10 1zM2391 0h657l-8 5-10-5-10 5-20-2h-10l-10-3-10 3-20-2-10 4-10 1-10-5-10 1-10 2-10-3-10 2h-20l-10 3-10-4-20 1-10-1h-10l-10 2-10-3-10 1-10-2h-10l-10 3-10-1-10 1-10-3-10 1-10 5-10-1-10-3-10 3-10-2-10-1-10 2-20-2-20 1-10-2-20 2-10 2-10-2h-20l-10-2-10 1h-10l-10 3-10-5-10 4-10-3-10 1-10 3-10-2-20 3zM3052 0h23l-15 5zM3083 0h7 10l-10 4zM3100 0h47l-17 4-10-2h-10zM3151 0h148l-9 3h-10l-10 3-10-3-30 2-10-2-20-1-20 2h-10l-10 3zM3300 0h37l-7 2-20 4zM3342 0h166l-8 3-10 1-10-4-10 6-10-1-10-2h-10l-10 3-10-3-10 1-10-1-10 3-20-4-20 1zM3512 0h224l-6 3h-10l-10 3-10-1-10-4-10 4-10-2-10 3-10-3-20 2-10-5-10 3-20-1-10 1-10-1h-20l-10 3-10-1-10 3zM3752 0h47l-9 5-10-3-20 3zM3801 0h48l-9 4h-10l-10-4-10 6zM3901 0h27l-8 3-10 1zM3933 0h93l-6 2-10-1-10 1-10 5-10-4-20 1-10-4-10 3zM4032 0h146l-8 4-10 4-10-4h-10l-10-2-10 2-20-1-10-2-10 5-10-2-10-4-10 4-10-1z"/>
<path fill="#da4a68" d="M0 0h6l-6 2zM22 0h8 6l-6 2zM52 0h45l-7 4-30-2zM103 0h7 9l-9 4zM148 0h45l-3 1-20 4zM205 0h23l-8 3-10-1zM232 0h79l-11 3-10-2h-10-10l-10 4h-10l-10-1zM326 0h4 7l-7 2zM389 0h30l-9 3-10-1zM457 0h43l-10 4-20-3-10 1zM513 0h23l-6 3h-10zM546 0h28l-14 3-10-1zM596 0h24l-20 1zM633 0h25l-18 4zM662 0h29l-11 2h-10zM707 0h18l-5 1h-10zM733 0h25l-8 3-10 1zM763 0h7 9l-9 2zM798 0h29l-7 2h-10zM833 0h31l-24 2zM874 0h6 6l-6 2zM896 0h22l-8 2-10-1zM921 0h9 10l-10 3zM955 0h42l-7 2-10-2h-10l-10 1zM1001 0h9 7l-7 3zM1025 0h34l-9 3h-10l-10-1zM1081 0h9 6l-6 2zM1104 0h6 9l-9 2zM1121 0h34l-5 2-10-2-10 4zM1163 0h7 10l-10 4zM1215 0h5 6l-6 1zM1232 0h8 6l-6 2zM1253 0h24l-7 4-10-2zM1283 0h24l-7 3h-10zM1329 0h25l-4 1zM1365 0h42l-7 3h-20zM1442 0h8 10l-10 6zM1473 0h44l-7 5-10-2-10 3-10-2zM1534 0h6 4-4zM1558 0h2 2-2zM1573 0h33l-6 2h-20zM1612 0h23l-15 3zM1643 0h42l-15 3-10 2zM1743 0h7 6l-6 3zM1764 0h33l-17 4-10-2zM1804 0h16l-10 2zM1832 0h8 7l-7 4zM1853 0h42l-5 3-10 1-10-4-10 4zM1905 0h23l-8 3-10-1zM1934 0h23l-7 3-10-1zM1965 0h62l-7 3-20-1-10-1-10 1zM2054 0h20l-4 2-10-1zM2084 0h66l-10 3h-10l-10-1h-20-10zM2151 0h37l-8 3-10-2-10 1zM2192 0h27l-9 2-10 1zM2222 0h8 6l-6 3zM2246 0h38l-4 2-20 1zM2305 0h17l-12 1zM2334 0h47l-21 3h-20zM2395 0h45l-10 4-10-3-20 2zM2452 0h8 7l-7 3zM2474 0h6 9l-9 3zM2492 0h8 4l-4 1zM2514 0h53l-7 1-10 3-10-2h-10l-10-1zM2583 0h24l-17 2zM2611 0h59l-10 3-10-2-10-1-10 3zM2670 0h30l-10 4h-10zM2716 0h27l-3 1-10-1-10 1zM2782 0h103l-15 1h-10l-10 2-10-3h-10l-10 2-20-2-10 2zM2892 0h8 9l-9 2zM2922 0h22l-14 4zM2961 0h9 4l-4 1zM2988 0h39l-7 4zM3034 0h6 5l-5 3zM3055 0h5 9l-9 3zM3087 0h3 4l-4 2zM3107 0h31l-8 2-10-2-10 1zM3153 0h141l-4 1h-10l-10 4-10-3-30 1-10-1h-10l-10-2-20 2h-10l-10 3zM3303 0h28l-21 4zM3346 0h20l-16 1zM3371 0h78l-9 1-10 3-10-4-10 2h-10l-10 3-10-2zM3450 0h28l-8 5-10-1zM3484 0h20l-4 2h-10zM3515 0h35l-10 3-10-1-10 3zM3551 0h62l-3 1h-20l-10 1-10-1zM3623 0h65l-8 3-10-2-10 3-10-3-10 1-10 1zM3692 0h41l-3 2-10-1-10 3-10-1zM3755 0h40l-5 3-10-3-10 2-10 1zM3804 0h6 7l-7 4zM3826 0h20l-6 3-10-1zM5030 0v800h-5030v-308l10 3 10 38 4-13 2-10 4-26 10 11 4 25 6 21 5-21 5-38 10-3 5-19 5-23 7 33 6 20 5 20 2 5 10-94 3 49 7 56 10-15 10-4 5 3 5 5 6-35 4-39 3 9 7 12 10 1 3-13 3-20 4-58 1 48 2 40 7 57 3-7 2-10 5-31 10-7 10 4 10-36 4 20 3 10 5 10 5 10 3 11 10 2 10-43 10 25 10-20 7-35 3-30 3 40 7 51 10 7 10-15 6-23 4-18 10 50 10 17 4-9 6-12 10 16 4-24 3-40 3-20 4 10 2 10 4 26 5-26 5-23 4 23 6 25 10 1 6 14 4 5 10-30 3 15 7 45 5-25 5-37 5 27 5 15 4-15 3-30 1-50 2-24 4 54 2 20 4 16 10 22 6-28 4-16 10 19 10-1 5 8 5 13 10-4 3-9 7-11 10-5 10-41 3 17 7 29 7-29 3-14 10 36 10-2 6-10 10-10 4-6 5 16 5 24 6-4 14-6 2-4 8-22 10 12 10 13 8 27 2 3 5-53 5-19 10 5 8-6 2-2 10 35 10 17 10-25 5 15 5 20 17-80 2-20 1-34 1 44 2 20 7 43 7-13 3-2 10 40 10-53 3 5 3 10 4 21 10-13 7-38 3-8 5 8 5 14 4-14 6-11 8 21 2 16 1-6 5-10 4-5 10 41 4-6 6-18 3 18 3 10 4 9 4-9 6-15 7-45 3-16 5 26 5 47 10 2 3 11 7 18 10-42 10-3 1-3 2-10 2-30 2-10 3-5 10-9 3 54 2 10 5 10 8 10 2 4 10-9 3-15 7-53 5 13 2 10 3 21 10-9 4-2 9-10 7-5 5 25 5 17 7-47 3-53 5 33 5 13 4 27 3 10 3 6 6-16 4-14 10-22 3 16 4 40 3 13 3-13 4-30 3-15 10-3 10-10 10 78 10-20h10l9-10 2-10 4-40 5-25 3 25 3 60 4 24 6-24 4-34 7 34 3 12 4-12 2-10 4-41 3 21 4 20 3 9 10 10 4-9 6-7 10-4 7-39 3-24 3 34 7 49 8-19 4-10 8-35 4 5 2 10 1 30 3 15 9 5 11 2 7-22 3-13 2-7 8-14 5 14 6 20 9 12 5-32 3-40 2-34 5 44 5 28 4-18 6-40 9 10 1 2 2 28 1 10 7 21 10-10 10-4 10-7 6 10 4 18 2-8 1-20 2-10 5-3 5 13 5 14 10-3 10 4 6-15 4-15 7-15 3-3 2 13 3 30 1 10 4 16 3-6 3-10 4-24 8-6 2-6 10 9 10 4 6 23 6 10 8 20 10-10 6-30 4-16 2-4 8-33 3 13 7 10 10 35 7-15 3-10 10 17 10-4 10-12 10 32 10-10 4-13 6-25 4 15 6 14 6-14 4-13h10l4 23 6 44 3-4 7-6 2-4 5-10 7-20 6-15 6 5 4 4 10 5 8-9 3-10 7-10 2-1 7 21 3 7 10-7 10-9 12 49 5 10 3 3 3-33 7-121 6-19 2-10 2-22 1 32 3 40 2 40 4 50h10l10-12 7 22 3 20 10-5 10-11h10l10-1 5 7 5 3 10 5 1 2 9 7 10-17 2-10 7-30 1-19 2 19 2 10 3 10 3 5 20 11 5-16 5-27 10 19 5-12 5-10 5-20 3-20-1-40 3-110-1-90 1-50 1 50-1 90 4 110-1 40 3 40 4 24h10l5 16 5 9 6-9 4-9 10-7 4 6 3 10 3 14 3-4 7-6 10-4 5-10 5-9 5 9 5 12 10-4 5-18 5-6 10 38 10-12 10 3 4 7 6 5 6-15 4-14 10-15 8 9 2 3 3 17 7 23 7-33 3-25 5 25 5 15 10-6 7-19 3-14 5 14 5 11h10l10-11 10 11 10-10 10 6 10-14 3 7 7 31 10-19h10l3-2 7-8 10-16 10 3 10-5 3 6 7 28 10-9 2 1 8 12 9-22 3-10 4-10 4-3 10 15 10-8 10 8 10-31 5 39 5 23 10-9 7-4 13-11 3 11 7 14 3-14 7-42 5 12 5 20 10-3 3-7 7-10 5 20 5 13 10 5 5-18 5-31 10-2 10 32 10 25 10-30 10 7 10-14 4-57 4-40 2-32 4 92 6 53 10 2 2-5 8-24 10-10 10 10 10 13 19-19 8-10 3-13 3 13 7 9 6 41 4 15 4-15 2-10 2-30 2-15 2 15 2 20 2 10 4 11 4-21 6-47 8 27 2 10 4-10 6-8 6 18 4 10 10 3 10-28 1 5 9 11 10-10 9 9 4 10 7 10 4-10 3-10 3-24 10 7 3 7 7 13 10-13 10 24 7-24 3-7 10-10 3 7 7 14 10 11 5-15 5-11 4 21 3 30 3 10 3-10 1-10 6-58 4 28 3 10 3 7 10 6 10-29 10 12 10 4 6-10 4-5h10l7-5 3-21 1 31 3 10 6 16 10-55 4 19 6 19 10 7 5-6 5-5 10 2 10 15 10 10 6-42 4-18 4 8 7 20 9 19 3-9 7-12 10-16 10 20 5-12 5-15 4 25 3 10 3 9 4-9 6-19 10 15 5-16 5-10 10-2 6-8 4-4 4 14 6 36 10-8 3-8 3-10 4-26 6 36 4 16 10-18 10-3 6-15 4-17 10 18 10 7 10 6 10-7 10-26 3 9 3 10 4 27 10 2 10-6 10-24 10-4 7 15 3 6 10-8 2 2 16 10 2 2 3-22 3-10 4-7 10 43 10-5 10 24 14-45 6-17 10 8 4 19 6 16 10-3 5 7 5 5 3-15 7-45 10 16 5-11 5-17 2 7 5 10 3 4 2 6 8 28 10-46 6 18 4 22 5-102 4-220-9-10-10 4-5-4h42l-16 10 2 150 3 70 2 30v40l2 17 10-31 10 70 5-16 5-18 10 19 10-24 6 13 4 7 4-17 6-33 7 43 3 15 10-7 3-8 7-29 10-28 7 57 3 13 3-13 4-20 3-12 3 12 5 30 2 8 4-18 6-48 7 18 10 30 3 5 10-61 8 26 5 20 2 10 5 9 10-8 10 11 10-28 5 6 5 9 4-19 6-19 16-11 4-1 5 11 5 24 8 6 2 3 6-53 1-40 3-37 5 27 3 30 2 12 4-12 2-20 2-10 2-5 2 45 8 70 3-10 7-45 10 21 10 14 10-2 10 1 10-19 10 17 10 6 5-13 5-17 7-93 3-80v-77l1 27-1 40 1 40 2 40 4 40 2 40 1 12 6-22 4-7 7 17 3 14 4-14 6-15 10-15 10 69 8-59 2-24 2 14 8 35 10 10 10 8 10-2 10-8 3 7 7 10 10 8 4-58 6-200 2 10 3 30 3 60 12 59 6 41 4 35 10 8 4-23 6-22 5 12 5 20 6-50 4-58 7-32 3-60 3-20 3-30-7-10-9-5-8-5h73l-3 10v10l1 70 4 100 3 56 6 14 6 10 8 22 2-12 3-40 2-60 3-34 4 14 2 10 2 40 2 18 2-8 6-30 2-7 10 29 10 11 10 9 10-73 3 21 4 30 3 11 5-51 2-50 1-30 2-25 1 15 4 90 1 20 4 28 4-18 6-47 5 47 5 23 6-43 6-30 1-20-2-40 1-10 2-20 6-32 3 32 6 80 7 60 4 20 3-20 4-30 3-14 5 4 5 11 3-11 12-80 3-60-2-10-6-3-10-1-8-6h46l-15 10-1 10 2 50 2 20 4 17 10 24 5-61 1-50-1-10-3-10h55l-4 10v10l3 40 4 19 4-19 1-20v-20-20h9l1 50 5 47 10 2 5-29 5-20 3-30-3-10-6-10h17l9 10 6-10zM4570 1l-8 9 1 60v40 20l3 20 4 27 10 19 4 4 6 10 4-80 1-70 2-40-1-10-6-5-10 1zM4880 2l-4 8-1 10 3 40 2 20 2-10 3-50-1-10zM3905 0h18l-13 3zM3939 0h1 1-1zM3954 0h49-3l-10 5-10-3-10 1h-10zM4038 0h18l-6 2-10-1zM4067 0h22l-9 4zM4092 0h82l-4 2-10 3-10-4-10 1-10-1-10 2-10-2h-10zM4184 0h6 9l-9 5zM4201 0h82-13l-10 3h-20l-10 2-10-3-10 3zM4293 0h46l-19 8-20-6zM4344 0h99l-3 1-10-1-10 1-10 5-10-5-10 5-10-5-10 5-10-5zM4453 0h43l-6 1-10 8-3 1-7 4v-4l-10-7zM4504 0h6 1-1zM4621 0h96l-7 1-10 5-10-2h-10-10l-10 1h-10l-10 3-10-7zM4735 0h52l-7 7-10 1-10-5-10-1-10 3z"/>
<path fill="#e55d5e" d="M0 0h1-1zM28 0h2 1l-1 1zM57 0h37l-4 2-10 1zM105 0h5 6l-6 3zM155 0h32l-17 3zM209 0h15l-4 2zM236 0h38-4l-10 3h-10l-10-1zM292 0h8 6l-6 2zM328 0h2 3l-3 1zM397 0h18l-5 2zM468 0h29l-7 3-10-2zM517 0h16l-3 1h-10zM550 0h15l-5 1zM636 0h4 10l-10 3zM736 0h17l-3 1-10 1zM806 0h4 8l-8 1zM879 0h1 1-1zM905 0h5 2l-2 1zM924 0h6 6l-6 2zM960 0zM1005 0h5 4l-4 2zM1030 0h24l-4 1-10 1zM1126 0h4 5l-5 2zM1147 0h3 1l-1 1zM1166 0h4 6l-6 2zM1239 0h1 1-1zM1258 0h17l-5 2zM1286 0h18l-4 2h-10zM1370 0h33l-3 1h-20zM1444 0h6 7l-7 4zM1476 0h38l-4 3-10-2-10 3-10-2zM1578 0h2 8-8zM1593 0h7 1-1zM1615 0h5 8l-8 2zM1648 0h29l-17 3zM1748 0h2 2l-2 1zM1768 0h23l-11 2zM1836 0h4 4l-4 2zM1855 0h5 7l-7 2zM1873 0h19l-2 1-10 1zM1908 0h17l-5 2-10-1zM1940 0h13l-3 1zM1998 0h25l-3 1zM2087 0h56l-3 1-40-1-10 1zM2159 0h1 5-5zM2171 0h9 4l-4 2zM2196 0h18l-4 1-10 1zM2227 0h3 2l-2 1zM2254 0h26l-10 1zM2338 0h28l-6 1h-20zM2398 0h19l-7 1h-10zM2423 0h7 6l-6 2zM2456 0h4 3l-3 1zM2478 0h2 3l-3 1zM2526 0h31l-7 3-10-3zM2589 0h1 1-1zM2619 0h16l-5 1zM2652 0h8 5l-5 2zM2673 0h23l-6 3h-10zM2790 0zM2818 0h2 1-1zM2849 0h1 1-1zM2897 0h3 3l-3 1zM2926 0h4 5l-5 2zM3004 0h19l-3 2zM3038 0h2 2l-2 1zM3058 0h2 3l-3 1zM3129 0h1 1-1zM3155 0h29l-4 1-10-1-10 4zM3208 0h70l-8 3-10-3-30 2-10-2zM3306 0h4 10l-10 2zM3350 0h1-1zM3375 0h29-4l-10 3-10-1zM3424 0h6 9l-9 2zM3454 0h21l-5 3-10-1zM3488 0h13l-11 1zM3517 0h3 9l-9 2zM3531 0h9 3l-3 1zM3578 0h2 2-2zM3626 0h4 9l-9 2zM3650 0h10 9l-9 3zM3672 0h8 5l-5 2zM3696 0h22l-8 2h-10zM3757 0h17l-14 2zM3787 0h3 1l-1 1zM3807 0h3 4l-4 2zM3832 0h8 3l-3 1zM3859 0h1 1-1zM3882 0h8 4l-4 3zM3908 0h2 7l-7 1zM3958 0h37l-5 2-10-2-10 2zM4046 0h4 1-1zM4072 0h8 6l-6 3zM4112 0h8 7l-7 1zM4138 0h2 1-1zM4154 0h17l-11 2zM4187 0h3 5l-5 3zM4207 0h56l-13 1h-10l-10 2-10-2-10 1zM4299 0h19l-8 3zM4324 0h6 3l-3 2zM4362 0h8 8l-8 4zM4382 0h8 8l-8 4zM4401 0h9 9l-9 4zM4456 0h29l-5 4-10 2zM4537 0h17l-4 4-10-2zM4573 0h29l-2 16-1-6-9-8-10 2zM4633 0h66l-9 2h-10l-10-1-20 2h-10zM4737 0h3 9l-9 3zM4773 0h7 5l-5 4zM4805 0h40l-15 9-10-5-10-1zM5030 0v800h-5030v-262l10-9 8 31 2 3 10-27 10-1 4 15 4 10 2 3 6-13 4-21 10 3 4-12 6-29 10 40 8 9 2 1 3-11 7-49 7 59 3 15 4-5 6-9 10-8 10 20 10-52 11 9 9 2 10-30 5 38 5 23 3-3 7-10 5-10 5-14 10 4 10-16 10 3 6 23 4 10 10-4 8-16 2-7 10 12 10 3 5-18 2-30 3-22 2 22 1 30 7 25 10-9 10-2 4-4 6-11 3 11 7 8 10 9 5-7 5-10 10 14 8-34 2-37 2 17 2 10 6 13 10-25 10 37 10-7 10 6 7-14 3-9 6 39 4 14 10-44 10 24 7-24 3-16 2 6 8 15 10 14 4-9 3-10 3-22 4 12 6 12 10-6 10 22 10 1 10-31 7 12 3 8 2-8 6-30 2-8 8 28 2 4 2-4 4-10 4-14 6 24 4 11 10-8 10-17 10-9 6 23 4 9 10-2 10-9 10 13 7-21 3-6 3 6 7 25 10 3 4-18 3-30 3-20 10 19 10-9 3 10 10 20 7 22 10-18 3 6 7 12 4-12 6-24 3-6 7-29 3 19 4 30 3 8 4-8 6-23 5 33 5 10 10-49 10 39h10l4-10 6-18 4 8 6 7 5-7 3-10 2-31 3 31 1 10 6 17 5-27 5-17 10 42 20 5 10 12 4-32 5-30 1-31 1 31 3 20 2 10 4 8 10 9 10 32 2-9 8-46 15-4 5-4h10l3 4 4 10 3 20 10 4 10-12 10-28 10 16 10 13 10-26 10-3 2 6 4 10 4 5 3-15 7-48 3 8 2 10 5 31 10-4 10-22 4-5 6-16 4 36 6 20 6-10 6-20 5-10 3-3 10-16 7 59 3 21 9-11 11-18 10-4 6-28 4-58 3 68 7 47 10-42 6 25 4 11 10-17 4 6 6 10 10 6 10-11 10-13 10-47 7 55 3 15 2-5 8-29 10-6 5 15 5 11 10-2 10 11 5-10 5-20 10-25 5 15 5 26 10 4 10-59 10 32 10-28 10 6 4 19 4 10 2 3 10-20 10-3 10 8 4 12 6 10 10-13 10-7 10 3 4 7 6 20 5-40 5-15 10 7 10 40 10-9 10-2 10-4 10-1 10 9 2 5 8 7 10-7 4-10 6-24 4 4 6 11 3-11 4-10 3-5 2 5 8 14h10l10 7 10 2 10-17 4 14 6 14 7-14 3-5 4-5 6-12 3 2 7 3 10-13 10-5 4 35 2 10 4 12 10-10 4-2 12-10 4-6 2 6 8 9 6-19 4-9 7 9 3 8 10-25 10 6 10 4 10 17 8 10 12 14 3-24 3-30 4-85 5-25 5-16 7 126 3 32 10-11 10-18 7 37 3 11 10-15 10-14 8 8 2 5 10-3 10-4 10 14 10 4 10-16 5-10 5-16 7 6 3 2 5 8 5 17 10-8 10-27 3 8 7 21 15-41 2-10 3-36 1 36 1 10 4 20 3 10 1 2 10-2 10 3 10 2 10-16 6 21 4 10 10-8 10 3 6-25 4-11 10 20 10 3 5-12 5-15 3 15 7 18 10-12 10 12 10 5 7-13 9-20 4-7 3 7 7 29 10 13 6-22 4-21 10 28h10l10-28 4 11 6 23 6-23 4-6 10 4 2 2 8 6 8-6 11-10 11-6 4 16 6 17 10-9h10l10-3 10-18 10-10 10 1 5 22 5 12 10-1 10 9 5-10 12-20 3-10 4 10 6 13 10-13 10 11 10-33 2 12 8 35 10-9 10 3 6-9 4-4 10 15 6-21 4-28 6 28 4 14 11-4 9-9 10 9 10 13 9-23 6-20 5-11 10 34 3 7 7 8 4-8 6-18 10 11 10-6 6-47 2-50 2-22 3 62 4 50 3 21 10-5 10-9 7-27 3-6 11 16 4 10 5 16 7-6 3-5 4-5 6-5 10 3 10 7 5 15 5 9 10-24 10 18 4-13 3-10 3-24 4 24 3 10 3 6 10-35 10 18 10 14 10-18 10-1 10-16 10 26 10 8 4-12 6-12 4 2 11 10 5 3 10-13 10 17 5-7 10-20 5-5 8 25 2 4 10 9 4-3 6-10 2 10 5 10 3 3 2-3 6-10 2-10 8-10 2-1 10 11 5-10 5-13 10 6 4 7 6 19 10-16 10 12 10-15 10 21 6-21 4-24 4 14 6 17 10 10 10-3 10-16 10 14 10 12 7-24 3-25 1 5 7 10 2 2 7 18 3 5 10-30 5-5 5-7 5 17 5 24 10-28 10 22 6-8 4-8 6 8 4 3 10-38 2 5 8 26 3-6 7-21 4 21 3 10 3 5 10-5 5-10 5-13 3 13 7 11 3-1 7-6 10-4 10-15 10 12 20 2 10-4 6-5 4-4 4 14 6 10 10-4 10 13 10-21 10 2 10-7 10 15 3-8 7-10 10 12 6-12 4-18 4 18 6 18h10l10 10 4-8 16-41 10 15 10 22h10l10 2 6-18 4-24 10 15 10-23 6 12 7 20 7 14 2-4 4-10 4-22 5 22 5 11 4-21 1-30v-40l2-50 3-201 1 31 1 100 1 70 2 30v40 20l2 10 3 12 6-12 4-11 5 41 5 23 7-13 3-10 4 10 6 10 6-10 4-12 10 13 6-21 4-24 3 24 7 24 10-10 5-4 5-5 4-15 4-20 2-9 3 29 2 10 5 15 3-5 4-10 3-21 3 21 2 10 5 10 6-20 4-31 6 31 4 13 10 4 5-17 5-27 6 17 4 9 10 14 10-1 10 8 6-10 4-12 10 13 4-11 6-25 10-6 4-9 6-9 7 29 3 8 10 15 2-13 7-50 1-22 2 12 8 10 10-14 10 83 6-19 4-30 4 10 6 9 10 11 10 15 10-16 10-21 10 25 10-1 7-12 3-8 4-42 4-60 2-24 3 24 2 50 5 33 5-13 5-21 3 11 4 30 3 11 10-36 10-18 3 23 3 30 1 10 3 11 4-21 6-59 7 29 3 20h10l10 5 5 5 5 6 10-13 10 3 10 13 4-39 2-40 2-70 1-60 1-32 3 22 1 40 6 40v30l10 8 10 82 10 5 4-15 6-34 10 43 4-19 8-60 2-40 3-20 3-10 9-10 1-4 2 34 6 50 2 8 6 12 2 10 2 21 3-11 4-10 3-3 2-17 6-140v-30l2-36 1 76 7 170 2 16 10 4 6 10 4 4 4-14 2-10 1-20 3-101 1 11 2 50 3 20 4 12h10l4-12 6-4 10 27 10-4 10-38 4 9 6 10 4-20 2-20 3-30 1-30 1 30 4 40 5 30 8-20 2-8 10 42 5-24 4-50 6-20 1-10 1-20 1-40 2-37 4 87 2 20 4 40 7 40 3 11 5-21 5-46 5 16 5 10 10-12 10-115 1 17 8 50 1 14 10 21 1-35 6-90 1-60-2-10h11l4 10v20l3 40 6 43 6-33 2-40 2-20-1-10-5-10h18l-2 6-6 4-3 10 4 10 5 18 2 22 8 47 9-57v-20-30l1-7 1 7v50l6 50 3 14 10-1 2-3 4-10 11-60 3-35 2 5 3 10 5 10 2-20 2-10 6-9 10 9 3-10zM5000 17l-1 3 1 3 1-3zM4946 0h4 7l-7 7zM2190 226l1 34-1 20-1-20z"/>
<path fill="#ea745c" d="M72 0h19l-11 1zM108 0h2 3l-3 1zM160 0h21l-11 2zM219 0h1zM240 0h27l-7 2h-10zM298 0h2 1-1zM406 0h4 2l-2 1zM483 0h7 5l-5 2zM527 0h3zM638 0h2 5l-5 1zM739 0h1 5-5zM927 0h3 3l-3 1zM1008 0h2 1l-1 1zM1038 0h2 6-6zM1168 0h2 2l-2 1zM1264 0h6 2l-2 1zM1289 0h12l-1 1zM1447 0h3 4l-4 2zM1480 0h17l-7 2zM1507 0h3 1l-1 1zM1618 0h2 3l-3 1zM1656 0h4 6l-6 1zM1777 0h3 2-2zM1839 0h1 1-1zM1858 0h2 3l-3 1zM1877 0h3 7l-7 1zM1914 0h6 2l-2 1zM2089 0h1 3-3zM2180 0zM2200 0h4-4zM2429 0h1 1-1zM2546 0h4 3l-3 1zM2659 0h1zM2675 0h17l-2 1-10 1zM3157 0h3 6l-6 2zM3265 0h5 3l-3 1zM3309 0h1 2-2zM3379 0h17l-6 2zM3428 0h2 3l-3 1zM3457 0h16l-3 1h-10zM3629 0h1 2-2zM3654 0h6 5l-5 2zM3676 0h4 2l-2 1zM3699 0h1 9-9zM3760 0h2-2zM3809 0h1 1-1zM3887 0h3 2l-2 1zM3967 0h3 3-3zM4076 0h4 3l-3 2zM4189 0h1 1-1zM4227 0h3 2-2zM4249 0h1 1-1zM4305 0h5 4l-4 2zM4366 0h4 4l-4 2zM4386 0h4 4l-4 2zM4405 0h5 5l-5 2zM4459 0h16l-5 2zM4577 0h3 6l-6 2zM4644 0h6 3l-3 1zM4678 0h14l-2 1zM4740 0h1-1zM4777 0h3 2l-2 2zM4809 0h33l-2 1-10 1-20-1zM4888 0h2 5l-5 4zM4948 0h2 3l-3 3zM5030 0v800h-287l1-30v-10l-4-7-2 7v10 30h-4738v-223l5 3 5 5 10 2 6-7 4-9 10 5 3 4 7 7 10-19 10-8 7-10 3-9 10 31 10-8 3-4 4-10 3-27 2 27 1 10 7 21 10-7 10-11 10 18 10-43 10 18 10-4 10-30 3 18 2 10 5 12 10-5 8-7 18-20 4-7 3 7 3 10 4 12 10 3h10l10-17 7 12 3 6 10 4 5-20 5-15 10 28 10-10 10 5 10-9 10 5 10 8 10-5 10 12 10-44 10 15 10-24 6 24 4 15 3-5 7-7 10 5 6-8 4-10 4 20 6 17 6-17 4-19 3 9 7 11 5-11 5-19 10 16 10 12 7-9 3-5 10 7 10-11 5 9 5 8 10-3 6-15 4-14 6 14 4 7 5-7 3-10 2-7 10 3 10-3 2 7 8 16 10-10 10-16 10 1 10 22 10-2 10-7 6 6 4 3 10-27 7 24 3 7 10-6 5-11 3-20 2-24 5 14 5 10 10-5 10 9 10 30 10-16 10 10 6-8 4-11 4 11 6 11h10l10-3 10 3 3-11 7-34 10 35 10 4 6-5 4-6 2-4 8-10 10 7 10 15 4-12 6-27 5 17 8 10 4 10 3 9 10-7 10 9 4-11 3-10 3-21 6 11 14 21 3 9 7 13 6-13 4-20 5-10 5-6 10 3 10-10 3 13 3 20 4 14 20-18 10-31 10 20 10 14 10-22 5 3 5 6 10-5 5-11 5-21 10 34 10-9 5-14 5-10 10 5 10 32 10-11 10-31 10 4 4 31 6 22 10-1 10-5 10-15 10-40 6 39 4 23 10-38 5 15 5 9 10-16 10 21 10-2 10-2 10-15 10-24 6 29 4 15 11-15 9-21 5 11 5 9 10-4 10 14 10-15 2-4 8-33 3 13 4 30 3 10 10-5 5-25 5-30 3 10 7 16 8-16 2-7 10 22 10 9 10-8 6-6 4-2 10 13 10 5 10-9 10 8 10-4 4 9 6 9 5-19 5-27 10 3 5 24 5 13 10-11 10-4 10 1 10 12 10 3 10-5 10-7 8-12 2-8 10 25 10-28 12 11 8 11 10-11 10 7 10-12 10 16 10-21 10 4 10-11 10-6 10 13 3 10 7 18 10-9 10 4 10-13 10 12 5-12 5-18 3 8 7 9 10-9 10 4 10 22 2-6 8-11 10 8 10 13 3-10 2-10 5-66 4-24 6-25 5 85 2 20 3 12 10-3 7-9 3-5 3 15 7 15 10-10 10-16 10 30 10-15h10l10 2 10 5 10-14 10-11 10-6 5 20 5 10 10-8 10-24 4 12 6 10 10-17 10 17 10-8 10 4 10 2 10-4 5-4 5-8 3 8 7 9 10 6 10-3 5-12 5-20 10 12 10 15 10-25 10 31 6-13 4-7 20 18 10-11 5-10 5-12 6 22 4 9 10 6 3-5 4-10 3-13 4 13 6 12 10-3 10-21 4 12 6 9 10-33 2 4 8 23 10-10 10-6 10-15 10 7 10 27 10-7 10-2 18-17 2-3 20 6 10 18 10 8 10-5 10-22h10l10 12 10-13 10 11 10-26 5 24 5 15 10-13 10 12 10-20 10 18 10-33 10 23 10 3 10 1 10-9 10 15 10-22 10-27 10 36h10l7-9 3-7 14 7 6 5 5-25 5-51 7 71 3 16 10-10 10-7 10-14 10 1 1 4 5 10 4 4h10l20-24 6 10 4 13 10 9 10-21 10 18 5-9 5-15 3 5 7 8 4-8 6-17 4 7 6 16 3 4 7 5 7-5 3-3 10-1 7-16 3-6 10 24 10 6 7-24 3-7 4 7 6 12h10l10-9 10 16 10-15 10 2 10 2 10 14 10 3h10l10-5 5-10 5-12 10 12 10-16 10-7 10 31 10-13 10 13 10-16 10 17 10-30 10 21 10 3 10 6 10-18 7 9 13 13 10-33 10 7 2 3 8 6 5-6 5-16 10-4 10 34 10-24 10 20 10-9 10 9 10-10 10 5 10-13 10 11 10 3 10-11 10 2 10 4 10-2 10-6 10 3 10-6 10-3 10 7 10-14 10 12h10l10 11 10-14 10 10 10-15 6 6 4 2 10-17 10 13 10-6 4 8 6 7 10-3 10 5 7-9 13-22 10 18 3 4 7 5 10 1 10-2 5-14 5-15 10 17 2-2 8-16 4 6 6 4 10 12 10-6 10 8 5-8 3-20 2-30-2-70 2-107 2 107-2 60 2 30 5 20 3 8 10-29 5 31 5 16 8-6 2-2 3 2 7 4 10-5 10 4 10-28 10 28 10-15 10-1 10-21 6 14 4 7 10-3 6 6 4 2 7-22 3-10 3 10 7 15 10 6 5-11 5-16 4 6 6 6 10 15 10-3 10 5 5-3 5-6 10-1 3-3 7-12 10 2 5-10 5-18 4 18 6 18 10-4 1-4 5-20 4-36 10 17 8-21 2-4 5 54 5 25 7-15 3-8 10 3 8 5 12 11 16-21 4-10 5 10 5 6 10 1 10-2 8-75 2-50 1 30 2 20 7 47 10-15 10 29 10-33 3 2 7 14 4 16 6 15 6-15 4-26 4 16 4 10 2 4 10-7 10-3 10 10 10 1 10-10 10 15 6-60 4-100 4 30 3 60 3 34 3-14 4-40 3-11 4 51 3 20 3 10 10 1 6-11 4-19 4 19 6 13 8-33 2-15 3-15 4-20 2-20 1-45 6 25 4 6 13 74 7 25 10-21 2-14 4-60 1-40 3-58 5 158 2 30 3 11 10-4 10 9 5-6 4-10 1-4 4-6 6-5 10-2 4 7 6 13 10-15 10 3 10-43 10 33 4-21 6-59 6 59 4 21 4-1 6-13 1 13 6 10 3 1 10-22 2-19 2-50 1-10 5-19 5 29 5 40 6 20 4 8 5-8 5-13 10-10 10-6 4-21 6-65 3 15 4 40 3 16 10-3 4-33 6-129h10l7 69 3 24 10-66 10-1 5 33 5 18 4-8 3-10 3-41 3 41 2 10 5 9 10-1 10 4 3-12 2-10 2-30 3-26 10 34 5-48 2-40 2-10 1-1 2 1 2 10 3 30 3 15 10-1 10-18 10-25 1-1 6-10-7-1-10-3-8-6zM4570 753v7 3l1-3zM4690 731v9 1-1zM4850 703l-4 47-3 10 1 10 6 7 4-7 2-10-2-10-2-30zM4890 625l-2 15-1 20 1 20 2 14 3-14v-20zM4890 723l-8 37v10l3 10 5 13 7-23 1-10zM4860 31l1 19-1 10z"/>
<path fill="#ed8e64" d="M79 0h1 2-2zM110 0zM247 0h16l-3 1zM487 0h3 2l-2 1zM640 0zM1449 0h1 1l-1 1zM1487 0h3 2l-2 1zM2678 0h2 7l-7 1zM3159 0h1 2l-2 1zM3387 0h3 1-1zM3658 0h2 2l-2 1zM4079 0h1zM4310 0zM4370 0zM4408 0h2 2l-2 1zM5030 41v555l-6-26-4-13-4 23-2 40 2 30 4 23 7-13 3-12v80l-2-8-3-10-5-8-10 31-10 5-10-6h-10l-2 8-3 20 1 10 4 30h-80l3-20 2-20-1-20-2-90v-50l-2-31-4-9-6-9-10 20-1 9-2 30 1 40v20l-2 30-1 30-3 20-2 8-2-8-8-46-3-34-1-40-4-30-2-10-4 10-6 18-6-18-4-24-5 34-5 26-6-6-2-10-2-22v62l-4 50v40l-1 10 2 10 5 10 6 20h-35l3-30v-10l-2-10v-30l-2-10-2-11-6 51-4 10 1 10 3 10 3 20h-27l6-40-1-20-11-110-4-14-5 14-2 10-5 70 1 50 1 5 2 15 2 20h-22l3-40-1-10-1-30-3-28-7-42-3-8-5 8-1 10-4 14-8 66v20l3 10 5 11 10 7 5 12h-51l2-20 3-20-2-20-3-20-4-55-4 15-1 10-1 10 2 30-1 10-5 42-2-2-2-10-2-10-3-10-1-6-5-14-3-10-2-31-2 31-5 40 3 40h-46l4-20 6-20h1l2-10v-10-20l-3-9-6-31-4-40-4 60-2 60 6 40h-36l2-10 4-7 10 1 3-24-3-19-5-11-2-10-3-55-3 15-3 10-4 4-8 6-2 3-2 7-5 40-3 7-8-7 1-20v-10l-3-14-1 14v30l-1 10 2 6 3 4 1 10 2 20h-104l2-20 4-20-2-20-4-10-2-2-2 2-4 10-4 14-10-4-6-20-1-30-3-22-1 22v40l-2 10-3 10 4 40h-15l3-40-4-20-2-28-10 4-5 34-1 10 6 37 1 3h-60l2-30 2-10-5-15-10 4-4-9-6-26-2 16-2 30 4 23 10 4 6 13h-104l3-30 5-9 3-1-3-21-10 6-3 15 2 40h-219l2-20 1-20-3-16-2 6-1 10 3 40h-78l5-40-2-10-5-16-3 6-4 10-1 10 1 20 2 20h-84l5-20 8-20v-10l-8-30-6-13-2 13-1 30v10l3 40h-46l2-50-3-30-3-13-3 23-5 20v10l2 10v20l2 10h-26l3-40-1-10-2-18-3 18-1 10 3 40h-22l3-7 1-33-1-14-4 4-7 10-1 20v20h-27v-40l-1-10-4-10-6-10-5 10-2 10v10l4 40h-46l2-40-2-10-4-10-7-23-10-4-5 7-5 9-2 21v50h-46l3-20 6-20-2-10-8-10-1-5-2 25 1 40h-186l1-20 4-30-2-20-5-40-1-5-3 65 1 50h-287l1-50-2-24-6 4-4 5-2 15 7 20 2 10 2 20h-418l2-50-3-50-5 10-5 13-2 27 3 30v10l1 10h-527l-2-30v-20l-3-16-2 16-2 50h-94v-50l-2-14-2 14v50h-107l-1-37v37h-248l-2-48-1 8-6 30v10h-20l-1-50-2-10-3 10-1 50h-135l-1-28-1 28h-39v-2 2h-129l-1-6-3 6h-176l-1-11-4 11h-11l-5-12-3 12h-13l-4-22-1 22h-69v-3l-2-7-8-9-3 9-1 10h-105l-1-12-1 12h-277l-2-25-8 5-2 2-2 18h-166l-2-33-2 33h-388v-191l10 5h20l10-9 10 15 10-27 10-5 10-8 10 29 10-15 10-11 4 17 4 10 2 4 11-4 9-10 10 8 3-8 7-34 10 22 10 7 10-32 10 28 10-1 10-10 10-9 10 1 10 19 10-10 10 11 7-22 3-6 6 16 4 8 10 6 2-4 3-10 5-25 10 29 7-14 3-4 10 3 10-1 7 2 3 2 10 10 10-7 3 5 7 11 4-11 6-31 10 15 10-17 10 29 7-16 3-4 5 4 5 5 10-8 10 27 7-14 3-10 10 9 10-24 10 9 4 6 6 12 10-1 10-7 10 4 10 14 10-17 10-23 10 14 10-6 10-15 10 6 10 19 10-1 4-9 6-8 10-6 5 14 5 17 10-9 10 3 10-2 5-9 5-12 5 12 5 8 10-4 10-24 10 6 10-10 10 9 10 24 10-7 10-1 10-14 10 16 10 7 10-10 10 12 10-41 3 9 17 27 20-36 18 19 2 3 10-25 10-3 5 15 5 23 5-3 5-7 10 7 10-23 7 13 3 9 10-4 3 5 7 7 10-8 7-19 3-6 6 6 4 6 10-8 3 12 3 10 4 6 10-14 3-2 7-7 10-26 6 13 4 13 5 7 5 4 4-4 6-10 5 10 5 5 10-27 10-10 7 22 3 12 2-2 8-12 10-30 10 5 5 17 5 23 5-13 15-27 10 7 10 31 10 5 10-2 3-4 7-17 10-27 7 34 3 10 10-30 5 10 5 18 8-8 2-5 2 5 8 11 10-10 10 2 4-3 16-23 6 23 4 10 10-22 10-2 10 1 10-5 5 8 5 13 4-13 4-10 2-4 9-6 1-1 3 11 7 24 10-4 4-20 6-28 10 21 10-17 6 14 3 10 1 11h10l7-11 3-3 10-17 5 10 5 13 2-3 8-8 5 8 5 14 6-14 4-3 10 2 10 10 10-38 10 12 10 27 4-10 6-11 10-7 10 6 10 22 10-5 10-15 10 3 1-3 5-10 4-4 6 14 4 16 4-16 6-16 10 11 10 20 5-15 5-13 10 7 10-14 6 10 4 8 10-18 10 7 10-15h10l6 8 4 8 5 12 5 12 10-17 10 6 10-13 10 23 10-27 10-3 10 7 10 2 10 17 6-17 4-9 5 9 5 19 10-5 6-4 3-10 4-20 1-10-1-10 7-17 1 27 2 10 3 10 4 6 10 1 10-9 6 12 4 14 20-26 10 28 7-6 3-4 6-6 4-2 5 2 15 11 10-12 5-9 5-6 10 3 10 22 10-3 5-16 5-10 10 11 10-8 4 7 6 15 7-15 3-3 20 13 10-13 10 3 10-1 10 15 10-5 10-21 10 5 10 11 10-22 10 31 2-3 8-18 10 3 5 5 5 7 10-7 10-12 7 12 3 6 10 7 10-16 10 16 10-5 10-22 10 14 4-10 6-18 10 25 10-5 10-11 10-1 10 3 10 23 10-3 10-14 20-5 10 6 10-6 10 10 5 6 5 8h10l5-18 5-14 10 4 10 6 10-8 10 9 5-7 5-8 2 8 8 17 10-13 10 15 10-13 3 4 7 5 2-5 8-24 10 19 7 5 3 4 10 1 10-12 10 15 14-28 6-15 4 15 6 15h10l10-8 10-5 5 8 5 15 3-5 7-17 2 7 4 10 4 6 10-16 10-5 10-13 10 17 10 2 20-9 10-17 5 15 5 8 3 2 7 9 10-21 10 16 10-12 10-2 10-12 10 20 20-2h10l4-6 6-14 10 26 10-4 7-18 3-12 6 12 4 7 5 3 5 5 10-9 10 12 3-8 7-13 10 12 10 1 14 10 6 2 10-2 10 1 10-16 10 4 10-16 10 1 2 6 8 15 10-8 10 11 4-8 6-8 5 8 5 11 5-21 5-12 6 12 4 14 10-4 10 7 10-16 10 8 10 15 10-39 10 10 7 5 3 3 10-3 4-10 6-9 6 19 4 15 10-22 10 14 10-8 10 7 10 2 10-1 2-7 8-15 10 15 10 3 10-6 10-1 8 4 2 2 10-2 10-5 10 1 20-10 10 1 10-14 10 13 10 1 3 3 7 10 10-11 10 8 10-9 10-2 10-6 10 11 10-9 10 6 10 1 10 6 4-5 6-5 10-15 10 15 7 5 3 4 10-2 10-3 10-22 10 19 10 1 4-7 6-8 12 8 8 12 10-5 10 9 17-26 3-7 2 7 8 21 10-5 10 1 10-5 10 6 10-25 10 23 10-9 10-1 10-12 18 16 2 2 4-2 6-2 7-18 3-10 10 23 10 1 10-16 10 6 10 15 10-2 10 2 10-5 10-4 10-7 10 8 10-15 10 14 10-9 5-11 3-10 2-22 10 10 8-8 2-4 2 24 2 10 6 20 10-17h10l10 11 10 6 5-10 5-7 20-3 10 4 10 1 4-15 2-10 4-59 6 49 2 10 2 4 9 6 7 10 4 2 10-36 10 17 10 20 10-17 10 5 10-2h10l10-2 4 3 6 6 10-10 10 13 2-9 3-20 4-60 1-40 3 50 4 40 3 16 3-6 4-10 3-27 2 27 3 10 5 13 10 2 10-10 10 8 7-13 3-14 7 14 3 4 4-14 2-20v-10l4-21 6 21 4 24 2 6 8 7 10-5 10 13 10-3 10-9 10 9 20-15 10-4 10 7 10 3 10-2 6-11 4-11 10 11 5-10 3-10 2-25 2 25 3 10 5 9 10 10 10-10 6-9 5-10 3-20 4-50 2-22 10 77 7 5 3 1 10-11 10 6 10 4 4-10 6-28 6 18 4 6 4-6 6-12 8-78 2-56 1 6 4 30 9 30 6 29 2-9 3-20 5-27 4-3 6-9 2 9 3 10 5 10 10-3 10 3 10-2 10-8 6-10 4-11 5-9 5-7 5-23 2-10 3-45 4 15 6 10 10-2 13-28 7-19zM2350 729l-5 21 5 13 1-13zM2380 697l-3 53v10l3 18 10 1 2-29-2-46-4-4zM2410 702l-2 48 2 17 2-17zM2750 715l-3 15-3 20 2 10 4 12 3-22zM2770 718l-2 12-1 20 3 50 3-50zM2860 746l-1 4 1 31 1-31zM3160 750v1l10 1 1-2-1-4-10 3zM3220 735l-1 15 1 3zM3240 734l-1 16 1 5 2-5zM3330 748l-1 2 1 7 1-7zM3350 726l-1 4-1 10v10l2 3 8-3-4-20zM3420 724l-2 26v10l2 10 2-10 1-10zM3830 742l-3 8-1 10 4 12 7-12v-10zM3970 718l-1 32 1 17 9-7-4-10zM4060 708l-6 22-4 6-2 14-1 10 3 32 4-12 6-10 2-10-1-30zM4090 693l-2 7-4 20-4 30v10l3 10 7 13 4-13 2-10-2-50-1-10zM4110 757l-1 3 1 6 1-6zM4220 703l-2 17v30l-1 10 3 8 2-8-1-20v-20zM4440 705l-3 5-7 24-3-4-7-18-4 8-2 10v20l-1 10 4 10 2 10 1 14 1-4 9-9 10-4 3-7 2-10-1-30v-10zM4460 694l-3 16-1 10-1 30-1 10 1 10 2 10 3 5 9 5 1 2 4-32-4-15-3-25-2-10zM4600 738l-3 12-4 10 1 10 6 11 4-11 2-10-2-10zM4670 694l-7 36-1 10 2 20 6 5 4-5 2-10v-10l-2-20zM4690 595l-1 25 1 22 4-2 1-10-2-20zM4950 586l-1 34 1 20 1-20zM4950 710l-2 10-1 40 3 26 5-26-1-20zM4600 189l1 81-1 45-2-45zM4840 694l1 16-1 14-2-4-1-10 1-10zM4380 764l10 3 3 13 4 20h-24l3-20 2-10zM3570 772l4 8 4 20h-23l2-10 3-6zM4870 789l3 11h-5zM4980 800l8-10 2-1h10l10 9 10-10 10-1v13zM4516 800l4-8 3 8h-3z"/>
<path fill="#efa772" d="M5030 82v417l-10-3-7-16-3-10-10-4-10-2-4 6-6 7-5 43-1 40 1 40v20l-5 30v10l5 40v10l-5 27-3-7-7-11-5-29v-10l2-40-2-40 1-40-2-20-4-41-6 61v70l-2 30-2 9-7 11-3 2-3 8-4 20-3 7-10-19-2-18-1-20 3-60-1-20-4-40-5-25-6-15-4-8-4 18-6 18-2 12-4 30-4 86-2-26-4-30-2-60-2-37-6 27-10 20-4 4-6-34-3-10-4-10-7-26-10-14-3 20-1 20-1 70-2 40v50l-1 20-2 14-10-9-4-15-1-10v-20l1-40v-50l-2-10-4-5-2 25-2 80-2 30-4 25-2 5-8 10-3-20-1-10-2-70-1-10-3-16-8-14-2-10 1-20-1-21-3 1-7 2-5 38-2 10-3 5-7-5-3-8-2-12-8-69-4-11-1-10v-10l3-20 2-10 10-14 6-26 4-12 1 2 2 10 4 10 3 29 10 4 3-33 3-10 5-10 9-10 6-10 2-10 1-20 1-46 1 6v40l3 30 3 10 3 4 2-4 8-10 10-6 7 16 2 10 1 54 1-14 1-30 1-10 7-6 6 6 4 5 8-15 2-5 10 6 6-21 1-10 3-7 1-13-3-20v-30l1-30 1-13 4 13 1 30 3 10 5 10v10 10l7 17 10-4 10-10 4-13v-10l6-23 10-5 10-15 10-1 6 4 3 10-1 20 2 8 1-8v-20l3-30 6-13 6-7 4-6 10-24 2-10 3-10 5-8 20-2 7-10-2-20 5-6 2-4 3-10zM4470 328l1 42-1 15zM4588 420l2 40 3 10-3 21-1 19-1 20 1 10 5 20 1 10 1 20-1 20-2 10-3 3-3 7-4 30-3 13-2-13-2-40-2-10-4-13-3 3-2 10-2 30-1 40-2 30-10-21-1-19v-40l-2-10-7-15-4-5-6-10-5 10-1 10-6 10-8 8-2 12-5 10-3 2-7 38-3 27-5-27-5-17-10 2-3-15-2-40-5-27-2 27-1 40-1 10-6 29-7-19-5-20-8-8-7 8-3 15-10-1-10 12-3-16-4-40-3-23-4 23-2 30-4 21-6-41-4-16-5 56-3 40-2 13-4-33-6-35-2 5-8 11-3 9-3 10-2 10-2 23-10-8-10-1-6-4-4-5-10 3-10-26-5 8-5 17-5-27-5-17-6 27-4 44-7-14-7-10-6-13-5-27-5-33-10 43-2 30-2 40 4 31 3 9h-21l3-40-5-55-7-15-3-28-3 8-7 8-10 14-4-12-6-40-3 40v40l-4 40 5 40h-16l4-40-3-50-1-40-2-17-4 17-3 30-3 43-2-43-4-30-4-23-10-2-10 2-10 18-3 15-3 50-3 30 4 20 4 20h-18l8-40-3-60-3-20-3-12-2 2-6 10-2 8-2 22-4 30-2 20 2 40h-13l5-40-2-10-4-12-5-8-3-10-2-8-2 8-4 10-4 5-7 15-3 8-10-8-2-30-4-10-4-2-2-8-8-16-5 36-3 40 3 40h-9l2-40-6-50-2-46-3 36-2 10-5 15-10-36-10 11-1 30-7 10-2 1-3 19 1 40h-16l2-40-1-10-3-25-2-5-3-20-5-19-10-7-10 1-8 25-1 10v20l-1 14-2-34-4-10-4-8h-10l-10-13-2 51-6 30-1 20 2 10 7 10h-13l2-10v-10l-1-20-11-60-3-20-4-7-5-13-5-11-4 21-2 30-2 60 3 40h-30l2-10 2-10 5-10 4-10-1-10-7-50-4-10-1-10-1-30-2-10-2-3-5 23-7 10-3 10-5 24-4 6-1 10-1 40 1 40h-9l1-40-1-40v-10l-3-10-3-7-7 37-3 23-6-33-4-14-10 9-10-7-4 12-6 30v7-7l-4-20-5-40-1-4-4-6-2-10-3-50-1-12-2 12-1 40-1 10-4 10-2 2-5 48-2 20 8 50h-32l1-8 3-12 3-20-1-10-5-26-10-45-10-7-10-2-10 11-4-11-6-11-2 11-3 20-3 10-7 10-5 20-10-16-4-34-3-10-3-7-3 37-6 50v10l3 40h-31l2-10 5-9 8 9 2 4 4-14 4-20v-10l-3-20-2-20-3-64-4 44-4 20-2 5-10-6-10-5-10 1-4 15-4 30v10l2 20 3 20h-16l5-10 2-10 1-20v-10l-5-40-3-40-1-10-3 20-1 40-3 30 1 20 6 30h-20l4-40v-10l-2-10-2-26-10-8-1 4-5 10-4 3-5 17-5 10-3-10-2-20-5-76-4 26-2 10-4 11-10 3-10 11-3-5-8-30-6-10-3-2-3 22-3 60v60h-11l1-50-1-30-3-41-5 21-2 20-2 30 3 20 2 30h-14l2-30 3-20-7-28-4-22-6-13-4 13-6 13-7-13-3-3-4 13-4 40v10l3 20 3 10 4 10h-20l4-30 2-20-3-30-2-10-3-11-9 11-4 20-3 10-4 4-3-14-3-20-4-10-7 20-3 6-4-16-6-29-10-15-3 14-3 30-5 20-2 20 6 30 1 20h-38l1-30 3-8 4 8 6 6 4-16 1-10-2-30-3-18-3 8-3 10-4 19-4-9-3-10-3-28-1 8-3 30-3 20 3 20 1 30h-33l3-50-5-30-2-9-10-2-5-9-2-10-3-19-2 39-5 40 3 20 4 12 7-2 3-3 4 23h-40l1-50-5-70-5 10-7 10-3 10-5 25-4 5-3 10 3 20 2 30h-28l3-30 1-20-5-10-3-10-3-20-3-14-3 14-1 10-1 30 3 20 1 30h-46v-30l1-20v-20l-1-20-3-25-3 15-1 10-2 40 3 50h-42l2-20 3-17 5-3 5-8 3-2-3-2-7-18-3-4-3-16-4-40-3-14-5 14-5 28-5-8-5-14-7 44v10 20l7 32 5 8 2 10h-72l2-50v-20l-4-70-3-35-2 55-5 40-2 30 3 50h-12l4-20 3-30-2-30-7-56-10 46-4 10-6 18-10-1-5 13v30l2 10 2 10h-12l1-10-3-40-5-15-3-15-4-10-3-2-3 12-1 30 3 20 1 30h-37l1-20 2-30-6-31-1 1-4 10-1 20 3 20 1 30h-41l2-50-6-70-3-20-10-18-6 78-2 30 4 50h-83v-10l-1-10 8-7 8 7 2 4 11-34-1-2-4-18-4-10-2-1-5-9-5-15-3 15-7 21-2 19 2 20-2 30h-85l2-30 3-20 2-30-5-40-5-28-9 78-1 20 4 20 3 30h-13l1-20 3-20 2-10-1-20-5-40-4-43-3 13-4 10-3 3-4 27-4 50 3 50h-24l2-20 3-30-3-50-3-27-8 7-2 10-1 20-5 40 3 20 8 30h-42l2-20 1-10 6-20-10-30-2-7-3 17-3 20 2 20v30h-33v-30l2-20-5-30h-1l-7-10-2-12-1 22-6 10-3 1-6 9-4 10 5 30 2 20h-23l4-50-8-33-12 23-6 10v10l5 20 3 20h-28l5-50-3-10-4-10-8 20 1 20 5 30h-25l6-50-5-30-4-18-2 18-2 30 2 50h-42l1-10 3-14 10-5 7 9 3 13 1-23-1-20-4-10-3-10-3-25-2 5-8 7-10 4-5 29 2 50h-15v-30l2-20-2-20-2-20-10-39-2 19-3 40-3 20-2 31-3-31-7-18-5-12-3-40-2-11-2 21v40l-3 20-1 50h-58l1-50-5-40-2-57-4 57-4 40 2 50h-12l2-30 2-20-4-30-2-12-3 12-4 10-3 5-5 15 4 50h-48l7-30 2-6 2-4 4-10-6-39-10 22-5 17 4 50h-24v-50l-1-20-3-90-1-17-6 127 1 50h-74l2-40-1-10-2-8-2 8 2 50h-48v-30-20l-2-6-1 6-1 20 1 30h-16l-2-50-1-9-4 9 1 20v30h-29l-3-50-8-10-7-27-3 17v20l3 30 1 20h-19l2-50-2-20-2-12-4 32 1 50h-22l-1-50-4-52-8 42-2 9-1 1-5 30-2 20h-3l-1-30 1-20-5-40-1-60-3-30 2-50 4-20 4-8 10 6 5 12 2 10 3 43 2-53 8-32 8 12 2 1 10 21 3-12 7-16 5 6 5 10 10-14 6 14 4 12 10-12 10-8 5 8 3 10 2 13 2-23 6-20 2-12 2 12 5 20 3 20 3-20v-10l5-10 2-10 10 7 6 13 4 19 4-19 6-16 6 6 4 2 4-2 4-10 2-7 2 7 8 9 10-10 10 6 7-5 3-5h10l1 5 10 10 7 20 2 7 5-17 5-12 10 5 4 7 6 7 6 3 4 3 5-23 5-12 10 18 10-8 10-4 10 23 6-7 4-6 7 16 3 21 3-11 2-20 2-10 3-5 7 5 3 4 10-2 10-10 10 4 6-6 4-12 1 12 7 20 2 16 2-6 8-9 10-29 6 18 4 22 10 8 1-20 2-10 7-15 6 15 4 14 10 7 2-1 8-12 2-8 4-10 4-11 10 4 10 30 10-13 5-10 3-10 2-12 4 12 6 10 10-1 5 11 5 21 4-21 6-17 20 3 5 4 5 9 5-9 5-6 3 6 7 16 10 1 2-7 5-10 11-10 2-3 10 1 4 12 6 10 10-25 4 5 6 2 4-2 6-5 3 5 5 10 2 6 3 4 7 5 10-23 3-2 7-8 7 18 2 10-1 20 2 28 2-8 6-30 2-3 10-26 10 25 10-21 5-5 5-9 10 6 7-7 3-9 2 9 8 10 10-5 10 13 10-19 10 2 10 20 10-1 20-10 10-14 10 6 10-2h10l4 10 6 27 10 23 3-40 2-10 5-14 5 4 5 3 10 9 10-9 10 2 5-5 5-8 7 8 3 2 10-4 10 24 10-12 11-10 7-10 2-6 3 6 14 20 3 5 10 1 2-6 8-11 5 11 5 17 2-7 3-10 5-11 7-9 3-7 6 7 4 2 12 8 8 3 10-5 10 19 4-7 6-8 8 8 2 5 2-5 8-16 8-4 12-12 7 12 3 2 10 14 10-19 10 15 10-19 10 2 8 15 2 5 2-5 8-17 10 9 10-4 10 3 6-1 4-2 1 2 9 10 10-18 10 1 5 7 5 12 5-12 5-8 10 16 10-9 6-9 4-9 5 9 9 10 6 6 10-12 10 4 6-8 4-13 8 13 2 1 6 9 4 12 6 8 4 4 10-28 10 12 10 1 10-22 10 8 10-8 10 4 3 9 7 13 2-3 8-16 10 20 10-23 10 21 6-22 4-28 5 28 5 13 7-3 23-14 10 5 10 30 4-21 6-22 18 22 2 8 2-8 5-10 8-10 5-20 4 30 6 11 4-11 6-11 10 8 2 3 8 7 7 3 3 7 1-7 4-10 5-5 10 19 10-39 3 15 7 26 10-12 10 8 10-22 10 11 10 2 10-2 10-1 10 1 20-25 7-6 3-5 5 15 5 4 10 25 10-8 10-16 4 5 6 10v3-3l4-10 6-8 6 8 4 8 2-8 8-19 10 25 10-22 10 19 10-8 10 8 11-13 6-10 3-6 5 6 5 4 10 9 10 6 10 1 8-20 2-8 10 36 4 2 6 7 2-7 8-16 5-4 5-6 4 6 5 10 1 6 10-6 4 10 3 30 3 12 6-52 4-10 7-10 3-6 5 16 5 10v4l4-14 6-10 7 10 3 6 10-12 4 6 6 7 6-17 4-19 4 19 4 10 2 8 3-8 7-12 10-3 10-4 8 9 2 2 10 14 18-26 2-5 5 15 5 10 10-16 6-4 4-6 5 6 5 5 10-2 6 7 4 10 10 3 5-13 5-6 6 6 4 6 3-6 7-9 5 9 3 10 2 19 1-19 2-10 7-18 7 8 3 3 10-2 10 3 3-4 7-18 10-2 2 10 7 20 1 6 1-6 3-10 6-14h10l14 14 6 9 2-9 8-14 7 14 3 12 10-21h10l10-6 5-5 4-10 1-11 5 11 5 3 6 17 4 20 5-10 5-16 4-4 5-10 1-3 10 31 10-18 10 16 4-6 6-13 10 3 7 10 2 10 1 16 3-16 3-10 4-5 8 5 2 10 1-10 2-10 7-10 7 10 2 10 1 17 3-17 7-11 1 1 9 3 3-13 3-10 2-10 2-6 8 36 2 12 8-22 2-4 2 4 4 20 4 11 3-11 3-10 4-7 10 10 10 2 2-5 4-20 4-13 10 34 4-11 6-11 6 11zM4550 518l-10 5-3 17-1 20v20l4 9 10-1 7-8zM4570 510l-2 30v10l2 13 2-13v-10zM1680 736l-2 4-3 10 5 12 5-12-3-10zM1750 723l-1 27 1 10 1-10zM1990 732l-7 18 7 16 3-16zM2010 729l-1 11 1 7zM2470 740l-3 10v10l3 19 3-9 4-20zM2560 732l-3 18v10l3 13 2-3 3-10 2-10-3-10zM2620 748l-1 2 1 3 3-3zM2820 690l-4 20-6 21-10-2-2 11-7 10 9 10 10 3 10 15 3-18 3-10 1-20-1-10-5-20zM3780 489v1 2-2zM3800 637l-2 3-1 10v10l3 7 1-17zM4150 487l-1 23 1 18 1-18zM4440 593l-1 7v10l1 18 1-18zM4660 380l10 4 10-4 6 10v20l3 50v50l-6 110v50l-3 36-4-26-6-25-10 48-2-13-4-50-4-31-10 9-5-8-5-6-3 26-2 10-9 10-11 20-5 12-1-12v-20l3-20 2-40 1-10 3-20 1-10-2-30-2-30-3-30 1-10 7-22 5-18 12-20 3-2 9 12 11 3zM4670 612l-1 8 1 15 1-15zM1565 570l4 40v10l-3 30-1 50v10l-5 20-10-6-3 26v20l3 30h-38l2-10 6-13 3-17 1-10-4-49-4 9-6 11-4 29 3 50h-15l-2-50-2-7-4 7-1 10 1 40h-15l1-20 2-30-4-10-3 10-1 20-1 10-5 13-3-3-5-10-2-11v31h-16v-50l-4-28-7 28v50h-28l-1-20-4-38-5-22-5-14-4 14-6 12-6 8-3 10 1 10v10l-2 4-2 26h-30l2-26 1-4 6-10 3-3 4-7-2-10-12-24-20-10-3 24-5 20v30l-2 20-3-10-2-10-1-10 1-20-3-10-2-18-2 28 1 20v30h-18l3-50-1-20-3-26-4 6-3 10-3 12-6 8-4 3-5-13-5-21-3 11-6 20-1 8 2 32v20h-32v-6l-1 6h-25l-1-50-3-38-10 6-8 32-1 20 3 30h-25l-1-20 2-11 1-19-1-15h-10l-10-8-1 23-1 50h-22l-2-30-4-20-4-10-6-24-3 4-7 20-10 6-3-6-7-8-4 18-2 50h-13v-50l-1-19-10 8-10-7v18l6 10 1 10v30h-32l-1-30-4-33-2 3-8 4-10-18-3 24 1 50h-33l-1-30-2-10-2-4-2 14-2 30h-23l-1-20-2-19-10-32-3 71h-13l-4-60-3 20-2 40h-42l-3-22-10-8-3 10-3 20h-49l-2-10-3-10-2 20h-25l-1-40-2-20-1 20-1 40h-16l-2-71-3 11-7 7-3 23-1 30h-66v-5l-1 5h-23l-4-60-2-19-10-22-3 11-1 10-6 80h-60v-1 1h-17l-3-77-2 77h-20l-8-17-3 17h-39l-6-60-1-20 3-100 2-10 4-11 10 13 5-12 5-15 5 15 5 10 10-9 10 6 8-7 2-4 1 4 9 18 10-20 10 6 3-4 7-16 10 9 6 17 3 10 1 53 1-43 1-10 8-18h10l10-2 4 10 2 10 4 13 9-23 11-25 10 24 4-9 6-11 10-7 10 3 10 21 10 13 5-29 5-10 10 4 6 16 2 10 2 54 10-10 3-34 4-20 3-8 10 13 2-5 8-16 10 9 3 7 2 10 5 10 3-20 2-10 5-13 10 3 10-12 10 12 10 25 4 5 4 10 2 4 10-13 5-21 5-12 10 11 2 11 8 19 10-31 5 12 5 9 4-19 4-10 2-9 10 7 5 12 5 20 4-20 4-10 2-5 8-5 2-4 5 14 5 8 5 12 5 9 5-19 5-12 5-8 5-14 3 14 6 20 1 7 10 5 10-7 2-5 8-16 10 7 10 5 3 4 7 6 3 4 7 14 5-24 5-12 10 6 10-2 5 8 3 10 2 14 5-34 5-11 5 11 5 15 1-5 7-20 2-10 6 10 4 3 10 27 10-25 3 5 3 10 4 25 4-45 6-9 10 13 10 8 5 8 5 12 2-22 5-20 3-20 5 10 5 8 5 12 2 10 3 21 3-21 3-10 4-10 10-6 10 3 5 13 2 10 3 33 3-3 7-10 10 3 10 2 2-25 4-20 4-25 2 15 8 30 10-20 5 10 5 16 10-9 10 12 5 1 5 11 1-11-3-10 3-10 19-5 10-1 8 16 2 8 10-27 10-8 10 8 10-1 6 10 3 10 1 7 2-17 8-34 10 10 10 31 10-1 7-26 2-10 1-21 4 21 6 7 6-7 4-13 1 13 6 20 1 10 2 38 5-38 5-12 10-19 10-9 7 20 3 6 10-1zM520 692l-1 38 1 29 2-39zM640 732l-2 18v10l2 9 1-19zM950 616l-1 14 1 14 1-4 1-10zM1200 667v36l1-13zM0 651l4-1 6-7 3 7 7 5 10-14 3-1 7-8 3 8 7 11 10-10 3-1 17-11 10 18 10-20 10-2 8 15v20l2 27 2-7 8-19 1-11 7-10 2-1 10 2 10-19 3 8 5 10 2 6 3-6 7-8 5-12 5-14 2 4 7 10 11 7 10-2 10-8 10-2 10 22 10-16 10 2 1-3 9-8 10 8 10-2 8-8 2-3 2 3 8 9 10-1h10l10-12 12 14 8 5 7-15 3-4 6 14v20l3 70-1 20-4 30-1 40h-7l-2-20-1-10-3-9-10 39h-76l-4-20-4 10-2 10h-8l-1-10-5-10-3-10-2-10-2-20-2-40-1-7-3 47-2 60h-71l-1-60v-30l-1-10-2-6-2 16-1 40-4 50h-69l-2-70-2-28-3 18-1 20-2 60h-84zM270 644l-2 6v10l1 60v30l1 12 1-12v-90zM120 711l-2 29 2 20 2-20v-10zM4720 609l2 11 1 10 1 30-1 20-3 27-4-27v-20l1-30 1-10zM4530 620l1 10-1 6-3-6 1-10zM3540 720l1 10 1 10-2 24-2-4-2-20 1-10zM4910 740l1 10-1 6zM4932 740l4 10-5 10 2 10 7 7 4 23h-35l1-11 10 7 3-6 5-20 1-10-1-10 2-11zM3940 756l4 44h-8l1-30zM2730 767l4 13 3 20h-17l4-20zM3370 768l1 2 9 8 2 2 3 10 2 10h-23zM3530 767l6 3 2 30h-17l4-20zM3650 761l6 39h-9zM3690 762l2 38h-4zM3990 762h10l10 38h-31l7-20zM4120 764l6 36h-11zM4310 768l10 2 10 1 5 29h-34l4-20zM1380 771l3 9 1 20h-14l1-10 3-10zM3210 772l8 28h-19l1-7 5-13zM3920 774l4 16 1 10h-11l1-10 3-10zM4160 771l2 29h-7l3-10zM4560 775l4 25h-9zM3180 780l3 10 1 10h-10l2-10zM3320 783l4 17h-6zM3450 781l5 9 2 10h-15l2-10zM4250 787l2 13h-9zM4360 787l2 13h-4zM4490 786l4 14h-12l4-10zM4580 785l9 15h-12zM4660 800v-4l10-5 10-8 6 17zM4720 785l6 15h-8zM4760 788l5 12h-7zM4960 785l10-3 3 18h-16zM3005 800l5-10 2 10h-2zM3510 800h1-1zM3879 800l1-5 2 5h-2zM4228 800l2-5 5 5h-5zM4289 800l1-7 4 7h-4z"/>
<path fill="#f1c185" d="M5030 163v87l-7-10-3-2-6-8-2-10-4-30-1-10 3-10 10 10 6-10zM4980 250l3 10 2 10-7 10-2 10v20l4 50-1 60-1 20-5 40-3 28-7-8-4-20-5-20-4-28-10 102-10-36-3 12-4 30-3 48-2-48-5-20-3-7-4-23-3-20-1-40-1-20-5-20 1-10 8-30 1-10 1-20 3-24 3-6 7-6 6 6 4 8 10-6 7 18 2 10 1 30 1-30 3-20 6-28 10 1 4-3zM5010 268l10 22 10-2v139l-10 17-4-14-4-10-2-3-10-2-4-5-3-10v-20l3-40v-20l-3-30v-10l7-6zM4870 361l11 9 2 10 1 10-2 10-2 5-2 15v20l2 30-1 10-9 48-9-78v-40l-1-20 1-10 1-10zM4800 375l2 15v10l-1 60v40l-1 28-2-18-4-20-4-10v-10-4l3-6 2-10-1-20-3-30v-10l4-10zM4770 383l6 7 2 10-2 40v60l-2 20-4 34-6-24-6-30 1-30-1-10-4-10-1-10v-10l7-30 3-10zM4670 409l10 14 1 7 2 40v30l-3 27-8-27-2-35-4 35-6 16-6-16-1-10 3-30v-30l2-10 2-6zM4490 418l3 12 2 10 2 40-1 20-3 50 1 50-1 10-3 17-4-17-2-10v-10l2-40-4-50v-20l3-40 1-10zM4580 418l3 12 1 40-1 30-3 39-4-39-1-40v-20l1-10zM4410 439l3 11v10l1 50 2 50-1 20-1 10-1 10-3 8-10-6v-22l1-30-1-32-10-7-3 9-1 10-4 60-2 16-4-16-3-20v-30l-1-10-2-5-2 15v30l-4 30-4 73-3-23-3-50-4-36-6-14-2-10 1-40 3-20 2-10 8-20 4-16 10 37 4-11 6-8 8 8 2 4 10-9 8-15zM4450 435l3 15 1 10v20l-1 20-3 20-3 10-1 20-5 10-1 1-1-1-3-10v-10l3-40 3-30zM4720 439l5 31 1 20-1 20-5 26-5-16-4-20v-10l2-20zM4830 437l2 3 2 10v10l-4 9-2-9v-10l1-10zM4200 449l10 2 3 9 1 10 2 40-3 30v10l2 20 1 20-1 20-6 30-6 80-3 31-9-81-2-40-5-20-3-20v-20l3-30-1-10-3-9-3 9-1 10v10l2 20-2 10-6 3-4 47-6 20-6-30-4-27-10 103-3-36-7-42-4 2-4 10-2 21-1-31-1-10-3-20-1-20 2-20 4-12 7 22 3 15 3-25 1-20v-40l1-10 2-10 3-7 2 7 2 10v40l1 20 5 22 4-12 1-10 1-10v-40l2-20 2-14 10 29 6-15 4-7 8 7 2 3 4-13zM4230 449h10l1 1 3 10 2 10 1 40 3 16 12-36 5-20 3-21 4 31 2 20 2 10 2 4 2-4 3-30 2-10 3-12 2 2 3 10 1 10 1 30-1 10-6 11-2 9-1 10v10l3 10 10 19 2-29v-40l1-50 1-10 6-10 10-6 10 9 4 17 1 10 4 60-1 20-5 30v10l2 30v10l-1 10-4 13-3-13-3-30v-30l-4-24-3 44-2 10-5 13-10-9-5 6-5 4-4-14-4-30-2-7-8-13-2-27-1 27-4 10-5 4-5 6-3 10-2 20-1 30-1 10-3 10-5 10-10-7-3-23-2-20v-20l2-20 1-10-4-30-1-30 3-50 1-10zM4530 444l3 6 2 10 2 10 1 10-8 35-2-5-2-10 1-40zM4040 458l1 2 4 10 2 10v30l2 40-1 60-2 60-2 30-4 25-4-15-2-10-4-50-7-10-3-13-10 5-2 18-1 30-2 10-5 21-10-52-10 8-2-7-1-10-1-30v-10l-2-10-4-15-4 25v50l-6 57-4-37-2-80-4-33-4 3-2 10 1 40-5 40-2-10-2-10-6-11-6 11-4 13-10-52-4 49-1 60-4 40 1 50h-5l2-50-8-90v-50l-1-8-5-22-1-20 4-50 5-30 4-10 3-3 2 3 3 10 2 10 2 30 1 66 4-36 2-10 4-6 4-24 3-10 7-10 6-11 10 9 10-25 3 7 1 10 1 20 2 10 3 11 6-11 2-10 1-20 1-8 10-4 10-6 5 8 5 11 10 13 10-14 3-10 5-10zM4070 457l7 13 3 19 10-11 2 22 4 30 1 20-1 20-3 20-3 9-13 21-3 10-3 10-1 12-3-12-7-8-3-12-5-70 1-20 5-30 1-20 2-10zM4560 455l5 15 1 20-2 40-4 19-2-9-3-20-2-20v-30l3-10zM3760 470l10 10 4 50 2 80-1 20-1 10-4 16-2 4-3 10-3 30-2 8-2-18-3-50-5-42-1 2-9 6-5-6-1-10-1-20v-20l2-20 3-20 2-9 10-19zM3750 527l-1 13v10l1 13 1-23zM3810 469l2 11 2 30 3 30 3 14 4 6 1 10v20l-2 10-3 7-4 23-1 20-2 40-3 28-4-28 1-40-1-20-2-10-4-13-10-9-3-8-2-10-1-10-1-20 1-20 2-10 4-22 4 2 6 9 7-29zM4470 465l4 35-2 20-2 15-2-25zM4510 464l3 16 3 20 1 20-1 10-1 10-5 7-3-27-1-20 1-20zM3610 478l3 2 3 10 9 50 5 12 8-12 2-5 6-35 4-12 3 12 5 30v10l-3 50-5 39-10-1-5-28-5-21-8 11-1 10-2 40-9 70-7 10-3 7-6-47-4-60-7-20-3-14-7 24-3 10h-10l-12-30-2-10-1-20-2-10-3-8-4 28 1 50-1 10-6 25-5-5-5-7-1-13 4-30 2-20-2-10-3-9-5-11-1-10 6-2 5-18 3-20 2-7 7 17 5 20 8 7 8-7 12-5 10 13 6-18 3-20 4-10 5-10 2-2zM3690 473l6 17 4 40 4-30 6-21 9 21 2 10 5 30 2 20v10l-2 30-2 10-4 2-7 38-3 9-5-19-5-28-3 18-2 30-1 10-4 15-2-5-3-10-1-10 1-40v-20l-5-37-4 7-3 40-3 22-2-12-1-20 1-40-3-20 1-10 4-9 10 6 4-17 3-30zM3300 488l6 12 2 10 2 45 6-25 4-8 6 8 3 10 1 24 1-24 2-10 7-22 10 17 2 5 5 20 1 10 1 10-1 20-8 64-7-24-9-20-4-13-6-7-4-2-2 2-4 10-4 23-7 57-3 70 1 20v30h-2v-30l1-20-8-120v-50-40l1-30 2-10zM3490 481l5 19 5 39 4 1 4 10-1 30-3 10-4 5-3 15-3 60-4 37-3-27-2-40-5-54-10 5-10-7-1 6-1 10 1 40 2 10-1 3-2-3-8-2-7-8-3-14-2 14v30l-2 10-4 20-2 13-5-73-2-10-3-8-7 28-2 20-1 20 1 30-1 15-2-15 2-40-2-20-8-38-10-11-14 59-4 40-2 11-3-51-3-40-3-60 3-50 3-20 3-10 6 10 8 30 3 30 3 15 1-5 3-30 7-40 6-10 3-2 1 2 4 10 5 22 10-14 10 12 10-7 3 7 7 12 10-16 2 4 8 23 3-33 4-20zM4630 488l1 12-1 29-2-29zM3140 494l6 6 4 6 3 14 4 30 5 20 1 10 1 40-3 10-1 1-6 19-2 10-2 22-7 28-3 26-3-36-5-30-1-10-1-34-1 4-2 20-3 10-4 7-4-17-1-10v-10l2-20v-10l-3-20-2-10-2-6-2 6-4 30-4 13-2 17-1 50-2 20-5 19-5-9-2-10-2-30-1-11-10-11-4-8-6-15-10-2-7 7-3 10v20l-3 30-4 60 3 20 5 30h-13l1-50-4-90-2-10-3-17-4 7-6 17-10-14-6 47-2 10-2 4-3-4-2-10-4-50 1-50-1-20v-10l7-40 2-7 3 7 5 30 2 4 3-4 7-18 9-12h1l5-10 5-8 10 3 6 15 2 10 1 10v30l1 10 3-20v-20l7-25 10 4 6 1 4 2 3-12 4-10 3-3 4 3 6 10 10 22 10-15 10-1 6-16zM2890 505l5 5 7 10 5 10 2 10-1 40 1 30-4 50-5 32-4-2-6-1-4-9-3-10-3-24-4 14-6 13-10-48-10 16-4-21-1-20v-10l1-10 4-16 10 4 7-18 3-11 6-9 2-10 5-10zM2970 504l2 6 2 10 5 40v10 20 40 10l-2 10-5 20-2 12v-2l-4-10-6-6-4-4-6-12-1 12v40l-1 10-1 10-3 10-4 5-2-5-3-10-2-50-3-15-3 5-2 10-2 30-3 20-9-110 1-40-1-30 1-10 3-10 5-12 10 10 6-8 4-6 10 3 1 3 3 10 2 20 4 22 3-12 3-30zM3280 507l3 13 2 30-1 70-1 10-3 14-5 6-5 7-10-4-7 7-3 9-10-4-5 15-5 16-4-16-6-15-10 6-4-11-6-30-8 30-2 3-8 7-2 5-1-25v-20l-3-40 1-10 3-50 2 30 4 10 4 4 2-4 3-10 2-30 3-10 7-10 3-7 4 7 6 7 10 4 10-1 5 20 1 10-2 40 1 10 5 14 6-4 4-8 1 8 4 10 5 9 4-9 1-10v-10l-4-40 1-10zM2580 527l1 13 1 50 2 30 1 20-1 20-4 35-10 4-4-9-6-20-4 40-6 30-7-20-2-10-4-50-4-20-3-11-7 11-3 8-10-20-7 52-2 10-6 20-5 37-6-37-4-18-10 1v7l-2 10-8 28-4 2-6 5-3-35-7-34-5 4-2 30-3 11-2-11-1-20v-10l3-9 1-1v-10l-1-1-2 1-8 8-1-38-4-20-3-30 1-10 5-10 6-10 3-10 3-13 10 3 10-10 6 10 14 32 10-13 10-30 10 5 3 6 3 10 1 10 3 38 9-18 7-10 4-3 10-12 9-25 1-1 3 1 7 8 10-6zM2470 631l-2 19 2 38 2-8 1-20-1-20zM2610 517l2 3 5 10 1 30 2 24 3-44 7-8 10 4 10-1 10-21 10 14 3 2 5 10 2 10v20l3-10 7-1 1 1 4 10 2 30 2 20-4 50-3 10-6 10-5 10-1 7-10-28-6 31-4 14-7-34-9-50-4-15-9 15-9 10-2 8-4 22-2 20-2 10-2 3-3-43-3-30-1-20 1-20 2-30 1-30 1-10zM2620 595v29l1-14zM2720 510l7 10 2 10 1 17 10 23 3 20 2 20-1 10-4 25-3 25-2 10-5 14-10-7-10-7-4-10-2-10-4-40 2-20 4-30-2-20v-10l2-10 6-10zM2790 510l10 5 2 5 5 30 3 12 10 7 8-9 2-3 5 13 2 10v10l-1 20-6 43-6-13-4-7-3-3-4-10-3-23-2 13-1 30-3 20-2 10-2 6-10 4v2l-5-22-9-80-1-20 1-20 1-10 3-10zM3860 516l3 4 2 10 2 30-1 20-1 10-3 10-6 10-3 10-3 33-4-33-2-10-8-20-1-10-1-10 1-10 5-11 3-9 2-10 4-10 1-1zM2120 534h10l7 26 2 10 1 20-1 30 1 27 5-7-4-50 1-10 8-11 6-29 4-10 8 10 5 10 2 10 3 20 1 30 1 19 6-9 9-10 4-10 1-15 4-25 3-10 3-4 3 4 7 5 10 12 10 8 10 4 5 11 5 17 5-27 5-31 3-9 7-9 10-2 10 27 10-28 2 2 3 10 3 30 2 10 2-10 3-40 5-8 5 18 4 40-5 90-4 50-10 6-4-6-6-7-1-3-4-20-1-50-2-10-2-9-3 19-1 30-1 20-5 25-10-5-10 20-10-56-5-14-5-8-5 8-3 10-2 25-10 14-5 11-5 7-4-17-2-20-3-10-1-1-10 5-5-14-5-11-3 11-6 40-1 4-3-4-7-8-10 23-4-5-4-10-3-20-3-10-6-12-10 81-10-30-2-9-2-20-3-70 3-60 2-20zM2230 614l-7 16-3 4-2 6v10l2 10 5-10 5-7 1-3 1-10zM2370 523l2 7 4 60 1 50-1 20-6 70-10-5-10-105v-32l-1-8 2-20 3-10 6-13zM2760 522l1 8 3 30 1 20-1 80-2 20-2 11-4-31-2-40v-20l3-40 1-30zM1900 539l1 1 2 20 7 10 7-10 3-7 2 7 2 20 11 10 2 10 1 30-1 40-7 33-10 24-10-33-7 26-3 7-4-17-3-20-1-20 2-40 1-40 4-30zM2020 539l4 11 2 10 3 30 1 20-1 20-5 50-2 40-2 18-5-28-2-10-3-5-6 5-2 10-2 17-3-27-7-30-10 27-2 13-8 28-3-28-3-70v-20-10l2-10 4-11 9-9 11-14 10-18 10-1zM2050 532l4 18 1 10 1 20-1 80-3 50-2 19-5-19-3-20v-40l-2-21-6-9-2-10 1-10 3-10 4-13 5-27zM2080 536l2 14 1 30 3 20 4 16 3 4 2 10v10l-1 10-4 11-10 67-6-38-6-30-1-10 3-28 7-42 1-30zM3260 539l6 11 1 10-1 10-5 20-1 8-4-38v-10zM1730 544l10 6 6 50 1 30 1 40-2 40-4 40 3 50h-17l2-41 2-9-2-5-5-25-2-40-3-22-3 32v30l-4 30 1 50h-7v-50l-3-30v-40l-3-60 1-10 5-50 3-12 3 12 7 62 9-72zM1800 541l10 5 10-5 10 2 10 8 3 9 2 10 1 10v30l-2 70-4 41-3 9-7 10-7 10 1 10v10l-4 3-3 7-2 10v10h-10v-30l2-20-6-10-11-12-10 22-6-20-4-10-4 10-3 20 1 50h-10l3-50-5-80 1-40v-30l1-10 3-20 3-22 10 7 10-8 5 3 5 8 3-8zM2400 546l5 14 2 10 1 10-1 50-7 66-4-36-3-50v-20l2-20 2-10zM1540 558l2 2 4 10 2 10 2 31 4-21 6-8 2 18v20l-2 12-2 8v10l1 30-4 10-5 3-7 37-1 20v50h-18l4-30 2-20-4-30-6-60-5 10-5 11-10 69 2 50h-4l1-50-7-30-2-20-1 10-4 10-5 7-3-7-4-10-3-16-10-6-6 22-4 8-10 32 3 50h-5l2-50-4-30-1-30-3-20-1-10 4-60 4-30 1-7 10 8 5 19 3 20 1 20 1 17h10l4-27 3-40 3-16 6 6 4 5 3-5 7-7 2 7 1 10 4 50 3 22 2-2 4-10 4-18 4-32 3-20 3-8 2-2zM1610 555l6 5 4 9 3 21 7 34 5-34 5-30 2 10 8 14 10-23 4 19 1 40 1 10 4 11 10 3 10 8 2 18 1 20v20l-3 11-10-15-10-6-10 10-1-10-3-10-6-13-7 33-3 26-2-16-8-38-6 28-5 40 1 20-2 30h-11l1-50-4-40-1-40v-20l3-40 1-40zM1950 554l2 6 2 10 1 30-1 60-1 10-3 17-6-17-1-10-1-20v-30l-1-30 1-10 4-10zM1280 570l3 10 2 10 2 20 3 23 4-13 6-34 3 14 1 40 3 20 1 10-1 20-3 20-4 17-5-17-5-29-8 59-2 49-1-49-6-50-2-40 5-60 1-10zM1580 564l5 6 3 10 1 10 5 40 1 30v10l-5 22-10 11-2-23v-30l-3-40 1-30 2-10zM1690 567l2 13 2 30-2 10-2 6-3-6-2-10-1-10 3-20zM1180 573l7 7 3 5 3 15 3 20-3 80-1 10-5 20-3 20v50h-6v-50l-1-20-4-40-5-30 1-20 7-50zM1220 577l10 4 2 9 4 40v20 20l-3 20-8 30-2 10v20l2 50h-17l1-20 6-30-3-20-2-9-2-11-2-70v-30l3-20 1-6 5-4zM1400 576l2 4 2 10 3 30 3 19 3-9 7-19 7 39 1 10v10l-4 40-4 13-6-3-4-3-4 13-2 20 4 10 2 2 3 8 2 10 2 20h-16l-5-80-3-20-6-20-1-10-1-40 2-20 3-14 7-16zM4450 576l2 34v30l-2 20-2-10-1-20 1-30zM4770 576l1 24-1 15-2-15v-10zM940 588l1 2 2 10 1 10 4 70-2 30-6 40 1 20 2 30h-7l1-20 3-20-1-10-9-24-10-2-10-4-4 10-3 10-3 43-3 7-2 10h-6l1-40v-10l-6-50-2-20 2-40 3-20 3-15 5-5 5-3 1 3 9 40 6 20 4 11 6-21 1-10 4-30 7-20zM1090 586l2 4 4 10 7 30 1 10 3 30 1 20-5 40-2 20 2 20v30h-12l-1-17-1-33-1-10-6-30-2-14-2-6-9-10v-10l7-10 4-4 6-56zM1870 586l3 24 4 10 3 3 2 7 4 30-1 10-3 10-2 4-10 7-2 9-5 30-3 14-4-74 1-50 3-18 2-2zM610 600l10 10 6 20 3 20v10l-3 40-1 100h-20v-50l-3-70v-60l3-10zM650 600l10 9 2 11 2 20 1 40v30l-4 50v40h-18l3-50-2-50-3-30v-20l1-10 6-20 2-10zM760 593l10 9 4 8 2 10 2 20 2 40-5 60v60h-19l-3-40-3-45-2 25-5 10-3 3-3-13-6-60-1-20 1-10 6-20 3-21 10 1 4-10zM860 596l5 4 2 10 1 20 1 10 4 10 2 10 1 10-1 10-5 10-3 10-1 10-4 90h-4l-5-120 2-60 1-10zM980 597l1 3 3 10 2 20 4 18 10-8 10-6 3 16 1 10-1 10-3 11-10-9-2 8-2 10-3 30-3 48-4-8v-10l-3-20-3-12-4-28-5-30v-10l5-40zM1360 597l2 3 3 10 5 8 3 12 2 10 1 20v20l-3 20-3 10-10-6-10 1-9-35-1-10 10-10 10 21 2-21-1-10-1-6-2-4-1-10v-10zM4430 596v20l-1-6zM500 609l2 1 8 10 4 40 1 30-5 63-4 17-6 11-4-11-6-12-6 22-4 18-3-28-2-50-3-40v-30l1-10 3-10 4-10 6 10 1 10 1 30 2 32 2-22 1-50 2-10 4-10zM710 610l5 20 5 35 5 5v10l-5 10-6 30-4 29-3-29-3-50 2-40 2-10zM810 609l3 11 8 20 3 30v10l-4 12-5 28-2 40-3 17-3-27-1-30-6-59-3 9-2 10-5 11-9-11v-10l2-10 7-6 7-4 3-3 2-7 4-10zM1050 607l2 33 5 30 1 10-1 10-2 10-5 12-6-12-4-17-4 17-6 16-8-36v-20l2-20 2-10 4-10 9 10 1 3 6-13zM1140 608l7 12 3 3 2 7 4 30 1 20-2 20-2 10-3 12-5 8-5 14-5-34-5-19-10-1v-10l6-20 4-8 4-12 4-20zM420 613l8 17 2 8 10-5 3 7 4 30 3 8 2-18 1-30 4-10 3-3 6 13 2 10v10l1 30-4 50-2 70h-7l-2-20-4-30-6-20-4-20-2 10-2 20-6 31-4 29h-13l-3-27-10-3-3-30-1-30v-30l1-30 3-24 5 14 4 20 1 10v10l-3 20v20 10l3 16 3-26v-10l-3-30 1-20 3-30 3-10zM580 612l4 18 2 10 4 10 2 10-1 10-6 20-2 10v20l2 10 4 10-3 10-2 10-4 36-1-26v-40l-1-20-3-20-7-20-1-10 1-10zM3730 617l1 13-1 5-1-5v-10zM310 630l3 10 7 78 5-18 2-10 3-31 10 9 4-28 5-10 1-2 1 2 4 10 4 50 1 30 2 10v10 10l-2 10-3 10-2 10-1 20h-11l-3-18-4-2-6-6-10-4-9 10-1 8-7-38 1-20-3-40 1-10 5-40zM840 624l3 6 2 10 2 40-2 20-5 27-6-27-2-20 2-30 2-10zM4270 629l2 11-1 10-1 4-1-14zM190 631l8 9 2 7 8 13 4 10 1 10v10l-3 27-3 13 1 10 2 10v12l-5 8-5 4-2 26h-15l-1-20-1-30 1-40v-50l1-10 3-10zM240 636l5 14 1 10-1 30-4 40-1 36-1 4-9 8-4-18-2-10-2-60v-20l1-10 3-10 4-10zM530 635l8 5 2 4 4-4 6-3 2 13v10l-2 15-8 15-5 20 1 10 2 10-1 10-3 20-6 23-2-23 2-50-3-30v-10-20zM80 649l4 11 1 10-1 20-4 30-4 10-2 10-4 9-10 8-6-7-2-10-2-29-1 19v30l1 10 3 10 2 10v10h-19l-1-50-5-47-4 27-2 20-1 20 1 30h-24l2-30-2-10v-95l10-5 10 10 10-6 2-4 8-10 4 10 6 29 10-31 10 1zM110 643l2 7 2 10v30l-2 20-5 20-1 10 1 40-2 20h-7l-1-80-4-40v-10l1-10 6-15zM160 645l2 5 1 10v30l-3 62-4-22-2-10-4-10-7 20-3 18-5-28-1-20 1-10 5-25 10 7 5-12zM280 643l3 7 3 30 7 20 4 40v10l-4 10-3 3-6-13-4-7-2-13v-20l1-50zM380 645l2 15 1 20-1 20-2 23-2-3-9-10-5-10v-10l3-30 2-10 1-2zM690 645l5 15 2 20-1 30-3 40-1 50h-4l-1-50-3-60v-10l1-10zM1250 666l3 4v10l-3 11-2-11 1-10zM260 713l1 17-1 13-1-13zM840 750l1 20-1 30-2-20zM2360 757l2 3 3 10 1 10 1 20h-12l1-20zM2450 757l1 3v10l-1 2-1-2zM2920 757l2 13 1 30h-5l1-30zM1640 761l1 19-1 20-1-20zM2080 769l1 31h-3zM2680 761l4 19 1 20h-12l2-20zM4200 766l3 34h-5zM980 774l3 6-1 20h-2zM1830 774l10-2 1 28h-16v-20zM2130 771l1 29h-2zM2270 771l4 9 2 20h-9l1-20zM2420 771l3 9 2 20h-7zM2440 780l4 10 1 10h-8zM2780 773l2 17 2 10h-5zM3090 773l4 7 3 10 3 10h-16l4-20zM3610 779l3 21h-8l2-10zM1000 782l2 18h-8v-10zM1350 785l1 15h-4l1-10zM1690 782l1 18h-8zM1910 790l5 10h-7zM2010 787l2 13h-3zM2330 783l3 17h-8l2-10zM2400 783l2 17h-3zM2460 783l3 17h-8l1-10zM2550 787l2 13h-4zM2580 788l1 12h-3zM2990 784l2 16h-9l3-10zM3410 785l2 15h-4zM4070 789l2 11h-4zM4140 786l1 14h-2zM4310 787l3 3 5 10h-11zM1479 800l1-8 1 8h-1zM1865 800l5-7v7zM1949 800l1-9v9zM2309 800l1-8 4 8h-4zM2940 800v-1h10v1zM3767 800l3-6 1 6h-1z"/>
<path fill="#f3d89a" d="M4970 313l3 17 1 20-2 50-2 23-10-11-2-22 1-20 1-41 3-9zM4940 323l2 17 1 30 2 20-5 65-4-15-6-10-10 4-4-4-6-9-1-21 1-12 10 16 4-14 8-20 2-10 4-30zM4870 415l1 25-1 18-1-18zM4770 421l2 49-2 30-2-10-1-20zM4490 458l2 32-2 27-2-27zM4200 468l2 2 5 10 1 10-3 50v30l-1 10-4 17-5-17-2-10 1-60 1-20 1-10zM4040 476l2 14 2 60-3 70v40l-1 21-2-21-1-40-9-50-1-20 3-10 6-50zM3900 481l2 9 1 10 2 40-1 50-4 83-2-23-1-40-4-40-1-30 1-20 2-20 2-10zM4070 481l1 9v20l-1 11-2-21 1-10zM4230 488l5 22v10l-2 10-3 8-1-18zM3300 500l3 10 1 10 2 60v30l-6 62-4-52-1-80 1-20 1-10zM4560 490l1 10-1 20-1-20zM3370 510l2 10 1 10-1 10-2 11-1-21zM3490 506l2 14 1 20-1 10-2 20-3-30 1-20zM3760 506l1 14 1 10-2 15-1-25zM3090 518l3 12v30l1 20v20l-4 23-4-13-2-10v-20l3-50zM3140 513l3 7 3 10 3 40 3 30v10l-2 10-5 20-5 31-8-91-1-20 2-20 2-10zM2940 529l3 11 2 20 5 15 1 15-3 30-5 30-2 40-1 11-2-41-4-30-1-10 4-80zM3600 526l10 6 2 18 2 30-4 61-6 19-4 7-2-37-2-30-4-30 4-20zM3960 529l4 21v10l-4 40-2-20-1-20 1-20zM4000 528l10 16 3 6 1 10-3 20-7 20-2 10-1 10-1 39-1-39-3-60 1-20zM3930 537v29l-1-16zM2450 547l4 13 3 40 4 30 1 10-1 20-1 12-10 8-4-20-2-50 2-40 1-10zM3030 548l2 2 4 10 1 20-3 40-4 20-4-20-2-10-1-20 2-20zM3210 548l6 12 4 3 3 7 2 10-1 10-4 6-3-6-6-20-1-2-1-8zM3790 545l1 5-1 10zM2020 555l2 15 2 30-1 20-3 27-6-17-6-40 1-10 3-10 4-10zM2050 559l2 31-2 35-2-15-1-20 1-20zM2280 556l3 14 5 40 1 10-2 10-3 10-4 6-5-6-1-10-1-10 4-50zM2490 559l5 11 2 10 2 10 1 20v10l-6 10-4 4-4-14-1-30v-10l2-10zM2920 551l3 19 1 20-1 30-3 9-2-19v-20zM1820 560l5 10 2 50 3 22 3-12 3-30 4-18 1 18 1 20-2 63-10 28-6-11-4-7-10 17-6-10-1-10-1-20 5-30-1-10-6-17-3-3v-10l3-22 10-6zM2130 567l3 23v20l-2 40 2 20v10l-3 33-4-13-1-10v-20l3-20-2-10-5-10-1-5v-5-11l6-29zM2160 567l2 13 8 11 1 39 3 30-2 10-5 10-7 21-3-11-1-20 1-50zM2630 560l1 10v10l-1 6-1-16zM1540 577l3 13 2 30 1 30v20l-6 37-2 3-8 7-3-37v-20l1-10 8-60 2-10zM1780 570l8 40 2 5 5 5-1 20-2 20-7 20-5 18-4-8-6-7-8 17-2 12-3-52 1-40 2-21 10 1 1-10 4-10zM1770 600l-2 20-1 20v10l3 14 6-14v-10zM2360 571l6 9 1 10-4 20-2 20 1 40-2 5v-45l-2-40zM3370 573l4 17 1 20-1 20-4 16-2-36v-20zM3410 572l1 8v10l-1 9-1-19zM3490 570l1 30-1 18-1-18zM1580 588l1 12-1 15zM2550 587l3 13 1 10-1 10-3 15-5-15-1-10 2-10 2-10zM2660 583l9 37-1 10-5 20-3 15-3-45v-20zM4140 581l1 29-1 29-2-29zM1220 592l5 8 2 10 2 20-3 20-2 30-4 15-3-15-1-10 1-30-1-30 1-10zM1280 597l4 53 1 20-2 20-3 21-2-21-1-20v-20zM1710 594l4 36 1 20-2 60-3 22-2-22-1-60 1-30zM2970 597l1 13v10l-1 9-4-9v-10l2-10zM2990 600l2 10 1 10-1 20-2 20-2-30v-10zM3710 599l1 11-1 9-1-9zM1180 601l4 9 3 10v10l-3 20-1 10 1 20-1 10-3 14-2-24v-40-20zM1730 600l10 4 2 16 1 50-2 40-1 12-10-16-3-36-1-20zM2400 602l2 18-2 31-2-31zM2610 601l1 9 1 10-2 16-1-16zM1090 615l4 35 1 10 5 17v13 9l-1 1-9 1-3-21zM1440 615l4 15 2 20-1 10-5 13-2-23zM1900 615l7 45-1 10-6 21-2-21v-10zM1970 617l2 3 2 10v10l-1 20-3 23-2-43zM2870 620v-3 3 6zM2890 612l3 8 2 10v10l-2 10-3 8-1-8-2-20 1-10zM770 622l1 8 2 50-3 32-5-12-4-20 1-20-2-14v-16-3zM940 626l2 34-1 20-1 21-4-11-2-10 4-40zM1500 624l2 56-1 20-1 18-1-8-2-50v-10zM1640 626l3 34v10l-3 21-4-21v-10zM2720 630v-1 1 3zM420 634l2 6v10l-2 70 3 30-1 10-2 21-2-21 2-40-2-70 1-10zM460 637l3 43v10l-2 30-1 42-4-62v-10zM610 637l3 3 7 13 2 27-2 28-10 6-2-54v-10zM650 638l2 2 5 10 1 10-1 10-2 10-5 11-3-21v-10-10zM1610 635l2 5 3 10 2 10 1 20-2 30-6 27-2-27-1-40zM500 645l10 25 1 10-1 18-1 2-5 10-4 5-2-5-1-10v-20zM1030 645l1 5 2 10-1 10-2 10-2-10v-10zM1480 646l3 4 1 10-2 30-2 10-2-10v-20zM1860 645l4 15v10l-4 16-1-16zM2080 644l2 16v10l-2 13-2-13v-10zM190 652l2 8 2 10 1 20-5 33-2-33 1-30zM350 657l2 33-2 32-3-12-1-20zM1140 659l10 8v18l-8-5-2-3-1-7zM1370 656l1 14-1 12-1-12zM1920 658l1 2 2 10-1 10-2 10-4-20 2-10zM3090 656v21l-1-7zM230 661l9 9 1 10v10l-3 10-7 24-3-34 1-20zM310 666l1 14-1 19-1-19zM480 664l2 26-2 27-1-37zM890 670v-8l1 8-1 6zM1300 669l1 11-1 22-2-12v-10zM1400 660l1 10v10l-1 7-2-17zM1420 665v20l-1-15zM0 679l10-1 10 12 1 10-1 11-4 9-6 21-4-11-6-7zM40 686l1 14-1 18-1-18zM650 761l3 19 2 20h-8zM610 785l2 5 1 10h-4zM2360 781l3 19h-5zM2680 800v-1 1z"/>
<path fill="#f5f2b4" d="M3900 509v42l-1-21zM3300 518l1 12 1 50-2 34-1-34v-50zM3140 554l2 36-2 21-1-31zM1820 602l1 18-1 25-1-25z"/>
</g>
<rect x="172.10" y="920.00" width="1702.50" height="238.60" fill="#3480b9"/>
<g transform="translate(172.10 920.00) scale(0.338469 0.298250)" fill-rule="evenodd" shape-rendering="geometricPrecision">
<path fill="#529dc8" d="M0 0h5030v800h-5030zM50 159l-2 51 2 40 1-40zM130 358l-4 2-5 10 6 30v30l3 17 2-17v-60zM50 250l-1 90 1 40 1-40z"/>
<path fill="#84bcd9" d="M0 0h5030v800h-5030zM20 246l-3 24-2 70 1 20 4 48 2-28 1-90-1-20zM50 85l-3 35-1 50-2 50 2 80-2 60 2 60v70l1 20 3 21 3-21 1-30-1-60 2-50v-90l-1-30v-40l-1-60zM120 168l-2 22v20l1 30 1 57 4-17 1-10-2-20 1-10 4-20 2-20v-10l-2-10zM150 247l-1 3-2 10-1 10v30l4 40-3 10-7 5-4-15-6-15-7-5-3-5-3 55 1 40v60l2 29 11-9 6-10 3-10 6-10 2-10-4-30v-10l1-20 2-10 3-7v-43l2-50-1-20zM340 318l-1 12 1 2zM440 54l-2 26v10l2 15 2-15v-10zM470 176l-1 24 1 18 1-18zM1010 149l-2 21v20l2 135 2-135v-20zM2090 19l-1 1 1 13 1-13zM20 424l-2 36v20l2 29 2-49zM470 245l-1 35 1 34 2-24zM1290 154l-1 26 1 34 1-34z"/>
<path fill="#aed3e6" d="M0 0h1727l3 10-1 50 1 39 2-39-2-40 1-10 3-10h166v1-1h3130v800h-5030v-271l1-9 5-10 4-6 7 56 3 10 4-10 5-30 1-14 10-4 3 28 4 20 3 7 5-7 3-10 1-10 1-54 3-6 2-10v-20l5-4 1-26v-30l2-40-1-20-2-21-4 11-2 10-1 10 1 20 4 30-4 30v20l-4 5-1-55v-110l-1-30-4-150v-80l-3-10-1-1-1 1-3 10-1 10v40l-2 60v40l-3 38-2 12v30l3 30v20 20l-4 40 1 50-1 50-7 33-1-33-2-40v-40l-1-30v-70l-2-60 1-40-2-30-3-40-5 40v60l-4 40v40l-1 25-3 5-3 10-2 30-2 11zM100 194l-3 16-1 20 1 30 3 19 3-29 1-20-1-20zM120 78l-2 42-1 40-2 30-1 20 2 40v60l-2 70 1 40-1 50 1 20 3 50 2 14 3-4 7-16 3-4 7-7 2 7 8 31 4-41 2-50-2-60 1-40-1-40 1-60-3-50v-40l-2-39-6 9-4 4-4-14-6-32-7-18zM200 208l-2 22-1 20 3 70-3 90-1 70 1 40 3 22 3-2 5-10 2-10v-10l-3-30v-20l2-30-2-40v-10l4-20 1-20-2-22-7-8 2-60-1-20zM230 290l-1 30 1 37 1-37zM260 438l-3 22 2 40 1 13 10-11 1-12-1-12-8-28zM320 159v12l1-1v-10zM330 18l-1 2 1 11 10 6 2-7v-10l-2-3zM360 68l-3 12 1 80 2 27 2-27-1-70zM380 209l-5 11-4 10-1 6-10 9-2 15-1 80 2 70 3 30 2 60 2 10 4 8 3-8 3-30 4-19 7 39 3 9 3-29-1-70 1-60-1-10-2-5-5 15-2 10-1 20-2 12-2-12v-20l-2-10-6-11-4-9-2-20v-40l2-10 4-8 6 28 4 31 10-7 1-24v-20l-6-20zM440 12l-3 8-5 80 2 80 2 20 4 19 5-29 3-80-1-30-4-60zM450 350l-1 20 1 15 1-15zM470 142l-3 48v50l-2 50 2 50v50l-1 30 2 100 2 13 2-13 1-30-1-100 5-90-3-60v-50zM490 13l-2 7v60l2 62 3-42v-20-60zM730 18v2 2-2zM800 119v1zM850 260l-2 20v10l2 16 1-26zM870 9l-1 1-2 10-1 30 1 30 2 40-2 70 3 45 5-45v-20l-1-30-2-20 3-40-1-60-3-10zM930 18v46l1-34zM960 15l-1 5 1 4 1-4zM1010 19l-3 61 1 50-3 50-1 80 1 40-2 60 4 30 3 44 1-24 3-100 1-130-2-60 4-60v-10l-6-30zM1080 9l-3 1-7 10-1 40 1 23 10-2 2-61-1-10zM1290 26l-3 34-1 20 1 40 1 130 2 37 3-37 2-50-1-80 2-50-2-20zM1430 15v33l1-28zM1620 17l-1 3 1 44 1-4 1-20-1-20zM1630 165l-1 15 1 18 1-18zM2040 90l-5 30-5 22-1 8-1 20 2 51 10-1 2-70v-30zM2060 118l-1 12 1 23 1-13zM2090 10h-1l-6 10-2 20 1 20 8 64 2-24v-40l3-40zM2150 14l-1 6 1 60-1 50 1 36 1-26-1-60 2-40v-20zM2250 14l-2 6 2 33 1-33zM70 509l-1 1 1 1v-1zM100 353l-2 17-3 30-1 50-2 30-1 20-2 20 1 23 3-3 7-3 1-7 2-20v-20l-1-40v-60zM340 44l-2 6-8 7-4 23v10l2 30-1 20 4 20 2 20-2 10-3 10-2 20-2 10-4 8-2 22-1 60 1 90 2 31 4 9 3 30 3 7 2-7 2-10 3-30 3-5 1-5 1-50 3-40-2-50 1-40-2-60 3-50-1-30v-40-10zM490 202l-2 28v60l-2 40 1 20 3 17 2-37-1-40v-50zM730 90l-1 20 1 14 1-14zM960 168l-2 12v10l2 25 1-5 1-10v-10zM1080 122l-7 8-3 11-3 69 1 20 2 16 4 4 4 10 1 20-1 30 2 22 1-22v-60l2-70-1-30zM1290 307v40l1-17zM1430 139l-1 21 1 25 1-25zM490 410l-3 20v20l1 20 2 19 2-19v-20-20zM960 275l-1 15 1 21 1-11 1-10zM140 271v22l-1-13zM10 390l1 20-1 44-3-54zM330 384l2 6 1 10-2 10-1 4-1-14v-10z"/>
<path fill="#d4e6f1" d="M0 0h349l-9 6-17 4-1 10v20l-4 30v40l-3 50 1 50-3 40v50l-2 40 3 40-1 40 1 40v10l-4 29-5-29-1-10-2-40-2-40 1-10 6-30v-10l-7-90-2 10-8 11-3-11-3-40-1-20 2-40 1-60-6-65-2-5-8-4-3 4-1 10 2 50 4 30 2 20-1 30-1 10-2 10-1 10-2 20 4 10 1 10 1 10-1 10-2 9-2-9-1-10 1-20-8-4-3 14-4 60v60 20l-2 10-3 10-2 10-6 54-3-14-1-30 2-50 1-60-3-30-2-40-4-21-5-39-5-19-5 19-1 10-1 60-3 3-5-53-1-40-2-40 1-30 3-40 1-20-3-10-4-3-2 3v10l-1 40 1 120-4 70 1 50v50l-5 119-3-19-4-30-3-59-2 9-8 8-5 2-5 4-2-84v-50l-2-90 1-40 3-30v-10l-1-10-3-10-1-10-1-30-4-9-3 9-1 30-3 50-3 15-7-45-1-10-1-30-1-10-4-10-6-2-2 2-2 10v40l-2 50v40l-3 60 1 50v60l-2 60 1 40-1 45-2-35 1-50-2-30-1-20 1-50 2-70-5-40-1-10 1-140-2-10-2-2-1 2-1 10-3 50 1 40-1 60-4 30-1 10 1 30 1 60-2 16-6 24-4 22-6-72-3-50-2-10-9-14-1-26-1-40-1-40 1-90-2-10-6-4-7 4-2 10-2 30v60l-2 50-4 10-3 2-6-62-1-40v-50l-3-10h-1l-4 10-2 60v30l-3 35-2 5-2 30-2 10-4 10zM80 18l-1 2 1 24 1-24zM180 321l-1 19 1 19zM300 20v2-2zM0 600h10l10 1 2-1 8-10h10l7 10 3 7 8-17 9-10 5-10 5-10 2-10 1-10 2 20 8 45 10-32 3-3 6-10 1-10-1-30 1-31 1 31v40l1 10 8 30 10-10 10-14 4 14 6 12 2-12 8-56 10 43 6-7 3-10 3-20 8-54 2 44 2 20 6 24 10 5 10-28 10-19 8-12 2-5 2 5 2 10v20l2 10 4 8 10-7 10 1 10-35 10 51 10 10 10-86 2 18 4 20 4 18 10-18 10 7 5-7 5-10 5 10 15 22 10-8 3 6 7 21 8-81 1-20-2-40v-20l3-41 5 21 3 20v10l-3 40v20l5 15 5-35v-20l-2-20v-10l1-30v-40l3-50-1-20-5-30 1-10 5-30v-20l-1-20-6-24-6 34-1 20 1 10 5 30v10l-1 10-8 35-3-35-4-30-1-10 3-20v-10l-8-70v-10l3-30v-10l-5-50-2-10-3-3-2 3v10l-3 50 1 40-4 30v10l1 20-2 10-1 4-1-14-1-30-2-30-1-40-3-30-1-40h89v1-1h59l1 1v-1h71l9 3 1-3h38l1 3 1-3h647l2 6 3-6h266l1 7 1-7h84l5 2 1-2h82l5 10v120l2 43 5-13 3-10 1-10-1-70-2-50v-10l2-10h20l2 3 2-3h135l3 9 3-9h27v1-1h106l-1 40-4 30-2 30-5 30-2 30v10l3 30 2 40 2 20-1 50 2 25 3-5 4-10 1-10-4-30v-10l3-10 3-4 2-16 3-30 1-20v-70l-4-70-1-30v-10l6-10h2887l6 1 1-1h89v800h-288v-20l-2-12-1 32h-4739zM440 5l-8 5-1 10-1 42-5 8-5 10-1 10 5 30v10l1 20-2 40 2 40-2 60 1 30 3 30 3 17 10-8 2 21-1 20-1 10-10-11-2 11-1 30-3 30 2 60 2 20 2 13 10-45 4 12 6 11 2-1 7-10v-20l1-56v76l1 10 3 10 6 20 6-20 2-10 2-29 3 19 7 11 4-21 5-30v-10l-1-40-4-40v-20l2-70v-60l-3-70v-30l3-60v-70l-3-10-3-1-2 1-2 10 1 150-4 40-1 50-2 16-2-26-1-50-4-70-2-110-1-7-1 7-1 110-5 70v40l-2 50 1 40-1 40-1 20-1-10-2-50v-40l-4-50v-40l-1-40v-50l-3-70-2-30zM540 70l-3 10-1 10v50l-2 50 1 40-1 30-1 20-3 20-1 10 5 30 2 40v10l-3 20v10l4 40v10l-4 20-3 8-3-28 1-50-1-10-4-10-3-4-2-6-1-10-2-70-2-50-1-40-2-15-1 15-2 40-2 40v20l2 40v50l-5 60v10l1 10 17 64 4-4 6-13 5 3 5 1 2-11 3-20 5-12 10 72 1-10 3-10 6-10 4-20 6-39 3 9 4 30 3 15 3-15v-10l1-30-2-30-2-12-3-8-7-12-1-8-1-10 1-30-1-20-3-20-4-10-2-10 4-20 1-10 1-50-1-20-4-11-7-9-3-10-4 10-4 20-2 1-5-51-2-60zM620 14l-6 6 3 50v20l-2 10-4 10-3 40-3 20-5 16-4 24-2 20v20l2 20 2 10 8 10 3 10v40l-3 20-2 20 4 90 1 10 1 4 1-4 1-10 1-40 2-40-1-20-3-30v-40l1-20 3-10 7-10 5-10 3-10 1-10-1-10-7-20v-10l1-50-3-50 2-50-1-20zM640 120l-1 10 1 16 1-6v-10zM650 185l-2 5-2 10 1 10 1 10 2 6 1-26zM700 185l-2 5-3 30-5 5-2 15v20l2 30-3 60 3 40v20l-3 10-7 9-6-9-4-9-3 29-1 30 1 20 3 23h10l4-23 3-10 3-4 2 4 4 10 4 20 2-20 1-10-1-10-2-9-4-11-5-30-1-20 4-60-3-50 6-50 3-10 1-20zM730 2l-5 8-1 10-1 30-2 20 4 60 3 30v10l-1 10-4 20-3 41-1 39 1 29 1 11 1 40 1 10 3 10 4 9 1-9 3-10 6-13 2-7 2-20-1-20-3-10-11-20-1-10 2-6 2-14 2-30-1-20-2-30 3-50v-20l-1-40 1-40v-10zM750 191l-2 19-1 10 1 20 2 19 5-29 2-30zM760 7l-3 3v10l3 17 1-17v-10zM780 153l-2 37-1 20 3 43 6-33 1-20-3-30zM800 5l-10 3-3 2-4 10 1 30-2 40 3 20 7 20 4 20 1 20-2 30-1 10 1 10 5 22 8-22 2-10v-10l-1-10-4-30 1-60-2-40 1-40-1-10zM850 150l-3 40 1 40-4 30-1 20 1 20 3 30-3 60 2 70-1 30 1 10 4 6 3-36 2-40-1-50-1-50 2-30 1-40-2-30 1-30v-20l-1-10zM870 4l-6 6-2 10-1 20 2 50v90 60l1 10 6 24 4-14 2-10 4-46 2-4 4-20 4-9 2-11 1-20-1-50 1-40v-20l-3-20-9 10-1 1-2-11zM910 10l-2 10 2 11 1-11zM930 9l-1 1-2 10v40l2 50-1 50 1 50 1 17 1-17 2-80-1-30 3-80-3-10zM960 6l-7 4v10 100l-1 20-2 30v10l6 60-2 30v20l3 50v40 20l-2 30v40l1 10 8 20 6 20 2-20v-20l-2-20-3-10-1-50v-10l4-26v-24l-1-10v-20l4-50v-20l-1-20-4-30-2-20-2-60v-20l6-80zM1010 9l-1 1-3 10-1 60v50l-3 40-1 50-1 21-10-24-4 43 3 40-3 40 5 60-3 30 1 20 1 10 10-6 2 26 4 40 4 17 4-17 1-10v-50l3-50-1-40 1-70-1-170 2-30 6-30 2-20-2-20-12-20zM1040 9l-2 1-5 10v10l2 10 2 10 3 8 10 7 1-15v-30l-1-10zM1080 4l-10 4-1 2-2 10-1 50 1 50-4 90v20l3 50-2 10-4 7-1 23-1 80 1 10 1 8 7 2 2 10v20l-2 20 1 10 2 3 4-13 1-10 3-10 2-3 1-17 1-50 3-60-1-70 3-70-1-40-2-50 2-70-1-10zM1100 18l-2 12-1 10 1 40-2 50 1 20 3 29 2-29v-20l-1-50v-40zM1110 290l-2 10 1 10 1 7 1-17zM1140 68l-1 22 1 30 2-20v-10-10zM1170 183l-1 17-1 20 2 39 2-19v-20zM1200 22l-1 8-2 20 1 20 2 18 2-28zM1240 397v29l1-16zM1270 13l-2 7-1 50 3 20v8l2-28 2-40v-10zM1290 9l-3 1-2 10-2 30-1 40 2 60 1 60v50l1 30 2 130 2 43 3-43 2-60v-60l3-80 1-50 1-40v-30l4-40 2-30v-10l-6-6-5-4zM1310 136l-8 4v10l4 50 2 50 2 34 4-94-1-40zM1370 9l-1 1v10l1 4 1-14zM1430 3l-4 7-1 10v30l3 50-4 70v10l2 30v50l3 70-1 70v10l2 10 2-30-1-60 3-80v-50l3-50 3-30-1-10-3-10-1-10v-20l1-50-1-10zM1580 119v1 3-3zM1620 9l-3 1-2 10 1 40 3 40-1 40 4 30 1 10-1 40v10l3 10 5 16 6-36 1-20-2-80-3-50-4-30-1-20-3-10zM1680 18v23l4-11-1-10zM1700 7l-5 3-3 10-1 20 1 40-1 20-1 10-3 10-7 7v23 13l7-23 3-5 3 15 3 20 4 12 2-12 1-10 1-60 1-10 4-30v-10l-4-30-2-10zM1770 18l-4 62-2 40 1 20 1 10 4 13 2-23 1-50-2-60zM1790 10l-3 10v40l1 60 2 23 3-23v-30-70zM1820 10l-1 10 1 32 3-32-2-10zM1860 18l-1 2v20l-2 40v20l1 40-2 40 1 40 2 60 1 8 5-58 1-20-2-70v-60l-2-40-1-20zM1880 20zM1900 48v33l1-11v-10zM1920 18l-1 2 1 11 1-11zM1940 106l-2 24v20l2 26 3-16 1-20-1-20zM1970 302l-1 8v10l1 21zM2060 9l-1 1-1 10v50l-3 60 1 50 4 19 4-19 1-30-4-80 1-50-1-10zM2090 7l-10 3-2 10-1 20 1 40 2 40-2 40 1 10 1 10 5 10 3 10 2 11 5-11 2-10 1-10-1-20 3-40-3-50 2-50-2-10zM2100 253l-1 7-1 20 2 50 10 8 2-18-1-10-1-10-7-10zM2150 7l-3 3-2 10v60l-2 60v20l3 30 2 20 2 10 3-20 3-30 1-70 2-30-2-50-2-10zM2210 12l-5 8-3 40v10l7 30 1 13 3-53 1-40zM2250 8l-4 2-1 10 5 131 2-51 2-80-2-10zM2270 87l-2 13v20l2 31 3-31-1-20zM2330 92l-1 28 1 11 1-21zM2460 114l-1 6 1 15zM2540 32l-2 18v20 10l2 12 2-22v-10zM2680 75l-1 25 1 15 1-15zM2700 10l-1 10 1 66 2-66zM2810 18l-1 2-1 20 2 25 2-15v-20l-1-10zM3360 12l-2 8v10l2 18 1-28zM4570 669l-1 31 1 18 2-18zM4650 788v2 5-5zM4690 708v22l1-20zM4700 675l-4 15v10l4 3 1-3 1-10zM4740 629l-4 11-2 20v10l2 10 4 8 3-8 1-10-1-20zM4830 615l-4 15-2 20v10l2 10 4 7 5-7 4-10 1-10-1-10-3-10zM4850 613l-8 27-2 10 2 10 4 10 1 10 1 40 2 29 2-9 1-20-1-50 2-30-1-10zM4890 579l-10 21v20l1 70 2 10 7 15 1-5 7-20 2-10v-10l-1-40-1-20-4-20zM5020 598l-3 32 1 10 2 13 5-13 1-10-1-10zM650 360l-5 20-2 30-3 3-6 17-4 17-2 13-1 20 3 48 2-18 3-10 5-9 3-11 1-10 1-50 5-5 2-15 1-10v-10zM730 400l-8 10-2 10-3 60 1 20 2 18h10l3-18 1-10-1-50zM760 70l-2 20v10l2 34 1-34zM780 311v9 8l1-8zM800 347v3 10-10zM870 296l-1 14 1 19 2-9v-10zM1100 204l-2 16v20l1 20 1 12 2-12 1-20zM1110 339l-1 11v10l1 10 1-10zM1140 199l-1 21 1 34 1-34zM1200 137l-1 13 1 14zM1270 100l-3 30-4 50-3 23-1 17 1 30 10 5 2-35v-50l1-40zM1310 368l-1 12 1 20 1-20zM1630 313v7 4-4zM1820 100l-2 30 1 50-1 30v20l2 18 2-28-1-50 1-40zM1900 99l-1 31 1 17 1-27zM1920 105l-2 15-1 10 1 20 2 12 2-32zM4850 753l-1 7 1 6 1-6zM4890 737l-2 13-2 10v10l4 13 4-13v-10l-2-10zM780 379l-3 21-2 30 2 30 1 30 2 26 3-16 2-20-2-30-1-50zM800 419l-3 11-2 10-2 30 2 20 5 27 4-27 2-40v-10l-2-10zM870 430l-1 20 1 19 5 11 5 7 2-17-2-22-6-8zM1260 327l-2 13v50l1 10 1 5 2-5 2-10-3-50zM1920 221l-1 9 1 12zM350 178l1 12-1 8zM560 214l2 16v10l-2 16-3-16-2-20zM220 245l1 5v10l-1 13-4-13-1-10zM350 271l2 19-1 50 2 30v20l-2 40 1 40-2 14-2-14 1-40-2-40v-10l3-40-2-50zM1000 280l1 20-1 20-4-10-2-10 2-10zM220 330v-7 7 4zM1070 338l2 22 1 20-1 20-2 15-1-5-4-50 1-10zM480 360l2 20v10l-2 23-1-23zM220 399l2 11v10l-2 11-1-11v-10z"/>
<path fill="#ecf2f5" d="M7 0l-4 10-2 10 1 30-2 20v10l3 20 1 10-2 10-2 7v-127zM13 0h107l-8 10-2 10 2 40-1 50v40l-1 18-2-18 1-40-1-50v-20l2-20-2-10-8-8-5 8-3 30-2 18-4-18-1-20-3-10-2-1-4 1-3 10-1 30 4 40v50l-2 10-4 10-2-10-8-23v-7-27l2-13 3-40v-20l-3-10-12-8-10-1-4 9-1 20-3 50 1 30v10l-3 18-2-28v-30l-2-60-1-10-5-5zM143 0h84l-3 20-4 11-3-11-4-10-3-3-10-6-5 9-3 80 2 40v30l-4 90 2 100-2 40-3-30 1-50-1-40-1-10-6-17v-13l3-20v-20l-1-10-2-8-8-2-2-2-1-8-4-50v-50l-4-40-3-10-8-4zM180 20v2-2zM233 0h76l6 10v10l-3 30 1 50-2 40-1 63-4-33-4-10-2-1-4-9-3-20v-10l2-20 1-10 5-10 2-10 4-20v-20l-3-20-4-3-10 3 3 50-3 10-1-20 1-40-10-4-16 4-8 10-4 30 1 40-5 20-2 20 1 40v10l-7 9-5-19-3-30-1-10 3-30v-10l-2-30-1-20zM323 0h18l-11 5zM370 4l3 6v10l-3 48-4-48 1-10zM421 0l-11 11-6 9-1 20v40l-3 70-2-30-1-60-3-50-2-10zM439 0h1zM457 0h42l1 5 5 5 2 10v30l-5 30-1 10 2 20 4 40 1 10-8 98-3-78 3-80-2-90-8-3-5 3-1 20-1 130-1 20-2 12-3-32-1-30-2-60 1-50-1-10-4-3-3 3-2 20v100l-1 30-4 50-5-40v-20l-1-110-1-30zM514 0h22l-6 7-4 3-2 10-1 10v10l4 50 3 11 2 19v20l-2 18-8-8-5-20-1-10-2-50-1-40-1-10zM568 0l-2 10-2 30-3 10-4 10-1 10-1 20 1 40-2 20-4 11-2-21-3-80v-40l1-20zM624 0l-4 5-10 1-6 4v10l1 30-1 10-4 6-5 4 1 20v20l-2 30-1 30-3 30-10-14-2-6-1-10 2-30-1-30 1-30-4-60 3-10 2-1 2 1 5 10-2 10 1 20 2 10 2 6 4-6-1-40 3-20zM689 0l1 5 2 5-2 4-3 26v80l-4 40-1 10 2 40-2 30v50l-2 30-3-20-2-50-2-10-3-5-2 15-3 40-4 40-1 21-1-31-4-30-1-30v-20l2-30-4-60v-50l-1-10-3-10-2-10v-10l1-10 3-20 1-10-1-7-3-3h-7l-6-10h36v1-1zM670 99l-3 71 1 20 2 10 3-10 2-10 2-10v-10l-6-40zM727 0l-6 10-3 10-2 40v20l3 40v40l-2 40-3 140-1 20-3 18-3-8-2-10-2-40 1-120-2-70-3-40v-30l2-20 1-30 2-10zM759 0l-11 10-1 10 2 20-2 40 2 30-5 50-4 30-3-30 1-40-1-70 1-40-4-10zM786 0l-6 5-2 5v40l-1 30 1 50-4 70v50l-2 80-2 18-2-8-1-10-1-50-3-40 1-40-1-50 1-140-3-10zM850 0l-2 10v30l-1 30v40l-4 60-1 50-2 15-4 5-3 10-4 30-4 80v30l-1 50-1 10-3 11-3-11-2-60-4-50v-40l-1-40 3-20v-20-50l-1-50v-50-50l-1-10-1-3-6-7zM850 0h10 9l-9 9zM876 0h4 1l-1 1zM948 0l-5 10v10l2 30 1 20-2 20-4 22-3-32v-20l2-40v-10l-9-4-4 4-2 60 1 40-2 50v40l-2 20-1 7-2 3-2 10v40l-2 70v20l3 20v10l-3 20-4 19-5-29-1-30-2-30 2-30v-10l-2-20-2-10h-1l-3 10-2 10-4 9-3-9-1-10 3-10 7-10 1-30 3-17 3-3 6-10 1-4 1-6-1-11-10 2-2-11 1-30-1-40 2-46 5 26 5 20 2-20 1-80-3-8-5-2zM954 0h6 2l-2 1zM1019 0l-9 7-7 3-1 110-2 31-7 9-3 2-5 18-3 20v30l-2 23-2-23v-30l-5-30-3-50v-10l3-40v-60l5-10zM1078 0l-8 4-5 6-2 60v40 30l-5 60-2 60-2 60-1 60-3 32-10 12-5-24-8-20-2-10-2-10-1-10 1-20 2-30v-10l-4-40-1-56 10 1 1-5v-10l-1-16-2-4-3-10-1-10 1-20 5-23 10 7 10-4 2-10 3-20v-50l-1-10-4-5h-10l-10 2-8-7zM1090 7l1 3-1 20 2 40-2 31-1-31zM1102 0h17l-2 10v50l1 30 2 14 3-54-1-40-1-10h34l-5 4-10 2-1 4-3 80 1 80-2 110-3 50v40l-2 46-10-4-2-12-1-60-1-40-1-20-5-29-1-31v-40l-1-30-1-40-4-100zM1120 161l-2 9 2 5v-5zM0 640l10-7 6 7 4 9 3-9 17-18 4 8 2 10 4 6 11-6 9-12 4-8 6-20 4 30 6 19 10-32 10-1 2 4 8 10v3l2-3 8-2h10l10 7 6-15 2-10 2-28 5 48 4 10 1 5 2-5 6-10 2-10 5-20 5-23 4 23 2 10 4 8 10 8 10-16 10-10 10 13 4 7 6 11 4-11 6-14 5 4 5 2 7-12 3-22 3 22 7 21 10-2 6-19 2-10 2-22 4 22 2 10 4 8 5-8 5-24 10 4 10 2 3 8 7 23 8 7 2 1 5-11 5-7 7 17v20l1 30 2 15 2-25v-40l5-30 3-32 5 12 5 14 6-24 4-12 4 32 6 30 6-20 4-29 3 9 6 30 1 3 3-3 5-10 2-3 3 13 7 18 10-27 10-7 2-4 8-28 10 13 3 15 6 40v30l1 20 2-20v-20l1-10 7-20 10-3 4-7 6-7 3 7 3 20 1 10 3 16 8-26 2-3 3-7 7-45 3 15 3 20 4 18 2-8 2-20 13-50 3-7 10 19 10 61h10v-9l-2-4 2-1 5-19 5-34 10 1 2 13 2 30 5 30 1 53 10-11 4-62 2-10 4-9 7 9 2 10 1 10 1-10 9-30 4 10 8 10 1 10 3 10 1 10 3 10 10-91 10 4 5-23 5-16 3 16 7 50 6 20v10l4 11 5 9 3 10 2 4 10-14 3-20 1-10 2-20 4-21 7 31 3 8 2 2 3 20 5 12 6-22-1-10 5-10 10 8 3-8 2-10 3-40 2-76 3 76 2 10 5 13 8 37v10l2 17 2-17v-10l4-20 4-25 4-5 6-12 5 12 4 10-1 30 2 6 3 4 1 10 6 15 2-15v-10l1-10v-30l5-30 2-38 1 18 3 10 6 5 4 15 4 40 2 12 10-6 9 14 1 5 5-35 4-30 1-20v-34l1 34 5 30 2 20 2 8 7-8 3-5 3 15 3 10v10l4 10 8 10 2 5 1-15 3-10-2-10 3-10 2-20 3-13 3 13 3 20 4 6h20l8-16 6-10 3-10 5-10 5-20 3-23 6 23 13 40 7 10 4 3 9 17-2 10 3 32 1-32-1-10 5-20 5-40 3-10 2-10 2-20v-10l-2-40 1-30-3-40v-10l2-40v-50l2-60 3-20h1l4-10-2-30-3-18-1-52 1-10 5-20 2-20 3-4 2-6h22l-4 6-4 4-6 10-2 10-3 40v40l-2 20-3 45-2 5 1 10 1 4 3 36 1 20-2 40 3 50-4 70-5 30-2 20 2 40 3 20 1 24 1-4 2-20 3-10 4-7 3-33 6-60v-30l1-10 5-20 1-10v-10l-1-10-5-23-1-17 1-40-1-40 1-14 8-6 1-20 1-2 1 32 2 30 2 50-1 60 1 50-2 80 4 70 2 10 1 4 4-24 6-20 1-10-1-50-2-30-1-30 1-20 4-20v-10l-1-10-3-20-4-70 1-70-1-50 1-40v-20l-3-50h26l2 2 2-2h43l-5 7-5 3-3 10-1 20-5 20-2 10v10l2 30v20l-5 60v20l2 50-1 10-2 9-10-2-3 53-2 50v60l-4 50 1 10 4 40 3 20-1 10 1 10 1 30 6-20 5-10 4-10-5-6-7-4 7-5 5-5 5-7 6-23 4-11 4-19 1-20v-40l-3-80 3-30 2-50-1-90 1-20 3-29 2 49 1 30-2 60 4 100-2 60v60l3 40 4 30v12-12l3-20 7-58 1 8 6 20 2 10 1 13 2-13 8-33 6 33 1 10 3 10 10-20 10 11 1-1 4-10 9-50 1-10v-10l-2-30-1-30-5-20-2-10-7-50v-10l4-40v-20l-2-18-4-12-2-20-2-10-2-3-3 43-5 40-2 7-6 13-2 10-1 30 1 50v10l-2 13-1-13-2-30 2-40-1-50 1-20 5-20v-20l-3-70-6-20-1-10 2-80 3-10 1-1 5-9h33l4 10 6 50v20l2 40-1 30 1 12 1-12-1-30 2-70 3-20v-20l-5-9-4-1h58l-2 10-1 20v70l-1 49-1-9-2-50 2-40-1-20-4-20-4-8-4 8-3 10-1 10-1 70 1 50-2 18-1 2-9 5-2 15-1 30-4 50 7 6 2-6 5-30 3-10v-10l-2-10-1-10 1-10 2-13 3 13v10l-3 20v10l3 30 1 20 2 10 4 2 2-2 3-10 2-20-1-40 2-10 2-5 1 15 1 20-2 90 1 50-1 6-10-5-5 9-5 22-4-22-2-20 2-30 3-20 2-10v-10l-1-3-17 23-3 13-6 47v40l-2 40 3 70 1 10 4 20 5-20 2-20 3-11 6-9 2-10v-20l2-10 3 20 2 10 5 5 10-6 10 27 1-6 7-20 3-10v-10l-1-30 1-20-2-40v-50l-1-40 1-90 1-29 5-11 2-10 3-20-1-20-7-40-1-10 1-40-1-10-1-6-2-4h78l4 7 10-7h15l-5 7-9 3v30l-2 30-2 80-4 30 4 10-1 10-3 20-1 20v10l3 10 5 5 1 5 1 10-2 7-10-4-6 77v20l1 20-2 40 1 10 6 14 4-14 4-30 8-40 4-8 6 8 7 20-3 12-2 18v20l2 13 10 3 6-16 2-10-1-10-7-39-8-1 1-10-3-66-7-14-1-10 2-50v-30-10l6-20v-10l-2-30v-30l3-20 1-40 2-20 1-30h34l1 1 1-1h19v1-1h18l-17 10 2 80-1 70 2 30-3 40 2 20 6 20 2 10 2 40 3 40-2 40 3 80 3 20 1-10 4-10 4-10 11-17 5-3 4-10 2-20-1-5-10-12-1-3-9-9-3-31 4-60-2-30 1-13 4-7 2-10 4-50 3-10 2-10 1-10v-60l-3-80-3-10-2 10-4 60-1 10-3 9-8-69v-10-10l8-5 4-5h71l5 1 6 9v10 50 70l2 60v90l2 31 2 9 4 20 1 50 3 18 3-18 1-10v-50l-4-70 5-40-1-50 2-50-1-30v-50l-3-30v-10l1-10h12l5 9 2 1 1 10-1 30-4 40-3 40 1 40-1 50 2 20 3 13 3 7 2 10v10l-2 10-3 10v30l2 10 1 10-2 10-1 1-2 19-1 20v30l3 12 10 1 2-13-1-40 1-90 1-20 3-30 1-50 3-38 5 48v30l1 30-1 50 5 89 3-19 2-10 5-6 2-24-1-20-3-20-3-50 1-20 2-10 2-5 10-15 3 30 3 40 4 30 6-50 2-30-1-40 2-30-3-90 4-40 4-10-2-10-2-2-10-4-3 6v60l-3 80-4 33-1-3-9-13-1-7v-10l1-50-3-40v-50l-7-4-6 4-2 10-1 50 1 40-2 40-2-40 1-40-2-50-3-10-4-3-5-7h33l2 4 10-4h39l1 2v-2h18l-8 8-5 2-1 10-1 40-1 70-2 26-2 14v10 10l2 13 2 47-2 27-2 3-2 10-1 20 1 70-1 50 2 20 3 19 6-9 4-9 3-1 3-10 2-60 3-30-1-10-2-10-1-10v-10l5-30 5-60v-40l1-60 2-5 4-45 5-20 1-10-3-20-3-10-4-2-8-8h21l1 10-4 30v10l4 30 2 20-2 80 3 40v50l1 50 2 13 10-39 10 1 1 15 5 30 4 31 3-11 2-10 5-46 10-1 4 17 6 18 2 12 1 20v10l-3 27-5 3-2 10v10l7 10 4 10 6 23 1-13 2-130v-30l-3-50 2-90v-150l-2-3-10 3 4 30 1 90v50l3 50-1 20-3 10-4 6-4 4-5 10-1 6-2-16v-10l2-20 2-20v-30l1-30v-10l-4-50v-30l-1-50-3-10-5-5-3-5h46l7 1 2-1h36l-8 10-10 2-2 8-4 80v60l2 50-1 30 3 20v20 20l2 14 1-34 1-30 2-30 3-20 3-9 2 19-1 40 3 40 1 60 1 30v50l2 30 2 9 5-9 2-10 4-30 5-30 4-15 6 25 2 10v10 40l2 20 2-10 2-10-1-40 2-30v-50l2-20-1-30 1-40 1-20 2-9 5 9 4 20 6 20 3 10-1 10-5 20-2 20-3 10-2 10-1 30v10l2 10 5 10 5 30 4 14 10 8 5-22 5-13 2-27v-30l3-40 1-40-2-10-4-6-1-4-3-20v-10l2-30-3-50v-10l4-30v-10l-4-30v-10l3-20-2-30-1-10-5-5h-10l-9-5h106l3 1 2-1h45l3 10 3 40 2 120 1 20 4 25h10l4 15 2 60 2 30 2 17 3-37 5-30 1-10v-10l-4-30-1-20 4-30v-70l-4-40 2-30-2-10-4-5-2 5v10l-1 40-3 40v60l-1 10-3 6-3-16-1-20v-130-10l-6-6-7-4h50l-5 10-3 10-1 10v60l4 50v10l-3 20 2 10 3 10 1 10 2 40 1 10 6 4 2-4 3-10 1-20v-30-80-10l-4-30-1-10v-20l4-20-1-10-2-10h797l1 3 2-3h637l1 1 10 1 1-2h857l2 1 3-1h109l8 2 4-2 36 1 1-1h17l2 2h10l2-2h106l2 1 10-1 20 2 4-2h15l11 2 5-2h55v575l-5-15-5-9-3 9-3 10-4 25-10-16-6-19-4-17-5 7-5 12-2 18-2 40-3 30v10l3 20 4 14 10 2 5-6 5-7h10l3 17-1 20-2 12-10 10-10-14-10 3-4 29v10l3 30h-80l4-20v-10-30l3-40v-40l2-40v-20l-3-20-5-21-10-12-10 16-3 17-3 30-2 70v20l3 40v10l-3 20v20l1 10h-6l1-30-1-10-2-10-1-20 3-50v-30l-1-20-4-30-2-26-10-1-8 7-2 2-10-26-6 14-2 10-2 11-3-11-7-19-4 49-1 60-1 40v10l5 30v10l1 7 5 13 4 20h-36v-30l-2-20 6-40v-10l-2-20-2-30v-50l-3-26-2 26v40l-3 60 1 20 3 30-2 10-1 10 2 30h-27l2-40 2-40-3-90-2-23-10-23-10 8-10-4h-10l-10 19-10-37-4 30-2 20 1 40-2 80 2 20 2 10 3 9 10-9-1-20 1-8 3 8-3 10v10l4 20 2 10h-51l1-40v-10-20l-1-70-2-30-3-20-9 10-7 10-2 10-1 10-1 20 5 40 5 10 3 10 2 10v10l-5 32-3-2-5-10-3-10-3-10v-40l3-40 1-10-10-7-5 7-4 10-1 8-1 2-4 10-5 9-2-19v-30l3-20 1-20-1-30-1-23-3 63-1 10-6 4-2 6-5 40-3 14-4-34-2-30-2-10-2-7-4 7-2 10-2 20 1 30v30l2 40v10l5 37 8-47 3-10 3-20 4-10 2-2 5 2 4 10 1 23 1-13 2-10 7-10 5 20 2 20-2 10v40h-81l1-10 3-10 2-4 10-6v-10l-7-10-1-10 4-30v-60l-1-20-3-10-2-3-5 13-5 31-2-1-7-10-1-2-3 12-3 20-1 20 2 50-9 20-3 20v10h-31l2-40-3-10 1-10 1-10 7-11 2-9v-20l-2-19-6 9-4 10-6-30-1-10 1-20-2-10-2-7-1 17v30l-4 40-1 10 2 40v10 10l2 10 2 5 4 5 3 10h-46l1-10-2-8v18h-18l2-40-1-10-1-20-5-10-2-50-2-30-3-28-3 28-6 70 1 10 14 10v20l-4 10 4 40h-21l1-30 2-10-3-10 4-30v-10l-4-60-5-28-3 28-1 30v20l2 40v10l-2 10 1 40h-14l1-40-2-10v-50l-2-24-6 14-4 6-2 14-3 50 5 40h-59v-40l-1-3-10-1-5-6-2-10-3-41-2 21v40l2 9 1 1 6 10 3 10 5 10h-102l1-30 1-10-5-5-1 5-1 20v20h-217l1-30-1-10-1-11-2 11 1 40h-76l2-40-5-24-3 4-5 20v20l1 20h-131v-10l-2-20v-20l1-10 4-20 1-10-2-20-4-9-2 9-1 20v10l3 30v20l-3 20v10h-46l-1-42-1 12-2 10-5 10-2 6v4h-29l-1-36-10-28-3 14-1 10 1 40h-46l-1-23-1 13v10h-26l1-20 3-10 3-2 6-8 5-10 2-40-1-10-2-5-10 6-6 9-4 10-1 50-1 30h-46v-20l-2-12-1 32h-185l1-30 3-50 2-40-1-10-6-10-3-2-2 12-1 20v110h-286v-50l-1-25-10-7-2 22 1 10 1 4 3 6 4 10 1 10 1 20h-418l1-90-2-45-10-3-1 18 1 30v39l4 11 1 10v30h-335v-5l-1 5h-194l-1-10-4-20-4 30h-93l-2-50-1-13-1 13-1 50h-107l-1-23-1 23h-188l-1-12-1 12h-57l-2-31-7 21-2 10h-17l-2-30-2-29-2 9-4 50h-133l-1-20-1 20h-168l-1-7-10 5-1 2h-168l-1-6-9 6h-1l-6-10-4-3-2 3-3 10h-8l-2-10-5-14-2 24h-67l-1-14-10 5-4 9h-106v-5l-1 5h-179v-1 1h-98l-2-24-10-1-3 25h-165l-2-19-1 19h-299v-2 2h-90zM1240 167l-2 33 2 24 4-4 4-10v-10l-1-10-2-10zM1380 560l-2 10 2 7 2-7zM1450 248l-3 12-1 10-1 20 2 30 3 7 5-7 1-10-3-40zM1470 138l-3 12-2 20v40l2 50-1 20-5 30v40l-4 70-2 80 3 30 2 9 5-9 5-18 4-42v-40l2-30-2-40v-50l-1-50 2-40v-40l-2-30zM1500 31l-2 9-2 10-2 30-5 10-3 10v20l4 33 2-3 8-6 1-24v-30l1-30-1-20zM1580 9l-2 1-1 10v60l-1 100 1 40 3 70v22l1-32 2-20 7-32 6-8 2-10 2-1 3-9 3-20 2-20-3-30-5-29-3 29-3 50-1 10-3 8-4-28-1-10 1-30-2-40v-70l-2-10zM1660 227l-3 3-4 10-1 10v10l1 10 3 10 4 10 5-20 2-10-1-10zM1700 0l-20 7-4 3-1 10-1 30 2 40-3 80 1 10 2 30v10l-3 30v10l2 30 1 20-2 20-4 10 1 10 3 10 1 20 1 20v10l2 10 1 10-15 10 1 10 2 30 3 17 4-7 6-5 3-5 17-15 4-15 1-10 3-40v-20l-4-40-2-50 5-70 3-26 1-44v-40l1-60-1-20-2-20zM1790 412l-1 28 1 11 1-21zM1840 215l-2 5-2 10v10l1 10 3 14 2-4 2-10 1-20-1-10zM1850 639l-1 51 1 26 1-26zM1940 465v5 1-1zM2120 9l-1 1-3 10-4 30v10l4 30-3 30 2 20 1 20-1 20-2 30v10l7 39 3-29 1-20-1-40-2-60 1-50-1-40zM2150 2l-8 8-1 10-2 70-1 100-1 40 3 84 5 16 5 10 5-30 1-40 4-23 4-7 6-16 3-4 3-10 4-6 1-54-1-66-4-24v-10l2-10 2-8v-20l-10-1-10-2zM2210 7l-10 3-1 10v60l1 59 4 31v10l-3 30 1 10 8 5 5 15 2 20 3 40 6 30 4 7 10 1 5-8 1-10v-30l2-30-1-10-7-6-4 36-3 10-3 5-7-5-1-30 1-90-3-70v-80l-2-10zM2250 377l-2 13-2 20 2 20 2 11 4-11 2-20-1-10-1-10zM2330 4l-5 6-3 10 2 30-1 60-2 20-4 20-1 10v10l1 10 6 20 7 42 3-42-1-40 3-50-3-50 1-40-1-10zM2350 9l-1 1-2 10 2 40-1 50 2 30v10l-4 40 2 50v20l-1 10-2 10-7 10-3 10-2 30v10l3 10 4 3 2 7 1 10v30l3 10 4 7 4-37 3-60 3-21v-9-17l-3-13-1-20 4-50 2-70-2-28-5-12-2-10v-10l5-10 2-3 1-17-1-9-8-11zM2380 151l-2 19v30l2 37 10-1 1-16-1-22-7-38zM2410 13l-1 7 1 60 1-20 2-40zM2450 9l-3 1-2 10 5 17 3-7 2-10-3-10zM2460 83l-4 7-3 10-1 10-1 10 1 40-2 5-3 15-1 20 1 30 5 20 2 20 3 10 3 9 5-19 1-20-1-10-2-10-5-10-1-20v-10l1-10 2-2 2-8 2-30v-30l-1-10zM2500 10l-3 10 1 40 2 18 2 2 2 10 1 10-2 50-3 30-3 50 3 75 2-35 4-30 2-10 3-10 2-10v-20l-2-110-1-12-3-8-3-40zM2540 7l-6 3-3 10 1 10 1 20-1 20-3 40v30l-1 40v30l2 23 8-13 2-1 6-49v-10l-2-40v-20l3-30v-20l-1-30-3-10zM2570 15l-1 5-1 30 2 14 2-24-1-20zM2590 17l-1 3 1 56 1-46zM2620 10h-1l-3 10 2 30v10l-3 30v50 20l5 43 10-30 2-3 3-10-1-10-4-11-1-9-4-50-3-20v-10l3-30-4-10zM2650 89l-5 11-3 10v10l8 10 1-20zM2680 17l-10 2v1 12l4 38v20 20l-1 10-4 20-1 20 1 60-2 40 3 39 8-19 2-10 1-40 3-50 1-90-3-70zM2700 4l-4 6-1 10v60l2 80 1 20 2 21 4-11 2-10 1-10-2-70v-40l2-40-1-10zM2710 232l-2 8v20l1 20 1 11 3-31-1-10zM2750 670l-2 20-2 50v10l4 19 2-19v-50zM2770 286l-1 14v50l1 12zM2810 8l-3 2-4 10v20l6 70 1 34 6 6 2 10 2 51 1-21-1-50 1-10 3-20v-10l-6-20-1-10v-20l2-30-4-10zM2860 116l-1 54v60l1 24 2-4 2-10v-40l2-30-1-20zM2900 91l-2 19v20l2 33 3-23 1-20-1-10zM2960 108l-2 32-1 20 2 50 1 14 1-14 2-60-1-20zM3000 10l-2 10v10l2 48 3-28 1-20v-10zM3110 8l-4 2v10l2 20 1 30 1 8 6-8 4-9v-11-13l-4-17-3-10zM3160 663l-2 17v10l2 43 2 7 5 10 3 3 2-23-2-34-6-26zM3240 713l-1 17 1 13 2-13-1-10zM3260 94l-2 6v10l2 7zM3290 707v3 4-4zM3360 6l-4 4-2 10 3 70 3 15 4-85-1-10zM3380 37l-2 33 2 21 3-11 1-10v-10zM3400 76l-2 34 2 19 1-19zM3420 686v4 2-2zM3440 199l-1 11 1 14 1-14zM3500 13l-2 7-1 20 3 40v19l1-19 5-20 1-30 2-10zM3540 663l-1 17 1 12 1-2 1-10v-10zM3570 135l-2 15 1 10 1 8 6-8 4-8 1-12-1-1zM3630 32l-7 8-3 5-1 15 1 25 3 15 3 20 1 10-1 30 1 10 3 19 3-19v-10l-1-30v-30-50zM3700 738l-2 22 2 33 1-33zM3780 667l-2 53 2 70 3-20 3-10 2-40-1-10-4-30zM3830 751l-1 9 1 5 2-5zM3860 687l-1 13 1 18 1-8v-10zM3930 3l-4 7-2 10 4 20 2 21 2-51zM3970 16l-1 4 1 7 2-7zM4060 677l-3 13-1 10-2 30-1 10-3 9-1 11 1 12 10-3 1-9 2-60-1-10zM4100 647l-10 16-5 7-5 10v15l4 55v10l6 22 3-12 1-10v-10l3-30 3-14 10-8 2-18v-20l-2-11zM4130 659l-1 11-1 10 2 15 1-15zM4150 652l-1 18 1 18 1-8v-10zM4220 656l-4 14-1 10-2 20v10l1 10 6 30-1 10 1 5 1-5-1-10 4-40-2-30zM4430 660l-4 10-3 20-8 10-2 10v10l1 10 5 20v10l1 9 10 11 5-10 5-5 2-5 2-40v-10l-2-10-2-6-3-4-3-20zM4500 675l-3 15-1 20 2 20 2 11 4-11 2-20-1-20-2-10zM4670 672l-3 18-2 20-1 20 1 10 5 16 5-16v-10-20l-2-20zM4950 548l-2 12-1 30-2 70 3 30-1 20 3 40v19l1-9v-10l1-10 1-10-2-40v-10l4-30v-10l-3-70zM4600 750l-3 10v10l3 10 2-10 1-10zM120 642l-1 18 1 6 2-6v-10zM300 639v1 1-1zM850 586l-1 4 1 2v-2zM950 629v1 1-1zM1060 577l-3 3 3 6 1-6zM1490 232l-2 18-2 20 1 20 3 18 3-18 1-20-1-20zM1570 624l-3 26v10l1 30 2 15 1-15 1-30zM1600 272l-2 18-2 40-3 20-3 38-3 12v10l3 20 2 50 3 10 5 5 3-15 1-20v-20l-1-30 2-40-3-40v-30zM2140 426v33l1-9zM2220 374l-1 6v10l1 6 2-6-1-10zM2350 686l-1 4-1 10 2 24 1-24zM2390 272l-3 8v10l-2 50 2 80 1 10 2 9 2-19 2-60-1-30zM2410 277l-2 33v20l2 63 2-13 1-50-1-30zM2540 242l-6 8-4 10-4 20-4 10-5 10-3 10-1 10v10l4 20 3 8 4-8 6-23 6-37 4-7 1-23zM2570 219l-1 11 1 11 1-11zM2590 298v2 4-4zM2630 283l-1 7 1 15zM2770 654v29l1-13zM2860 275l-1 25 1 27 2-7 2-20v-10l-2-10zM3360 658l-4 42-6 10-2 10-1 10 1 10 2 8 3-8 2-10 5-11 1-39zM3420 725l-1 25 1 8 1-8zM3500 138l-1 22 1 10 1-10zM3970 701l-1 19 1 29 2-9 1-20-1-10zM2390 661l-3 9-7 8-1 12-2 30v30l3 25 6-5 4-14 1-6 2-30-1-30zM2410 664l-2 26 2 60 3-50v-20zM2770 704l-2 36 2 50 2-50zM2860 669l-3 11v10l3 13 1-13v-10zM1190 9l1 1 2 10-2 50-1 11-4 9-2 10-2 20-1 20-1 3-3-43-1-50 1-10 5-10 7-20zM1286 0h23l-9 7-10-2zM1926 0l-6 7-5 3-4 10-1 6-4-16-1-10zM2050 6l4 4-1 50-2 60-1 49-1-69-3-80 1-10zM2055 0h23l-3 10-1 10 1 90-2 20-3 24-3-44-2-40v-60l-5-6zM140 20v-4 4 4zM630 20v10l4 30 1 20-1 20-4 32-3-32v-20zM1930 18l1 2 2 10 1 30 1 30-3 40 3 60-3 50-2 17-1-7-4-70 2-50-2-50 1-30 2-20zM2020 44l1 16-1 23-2-13v-10zM210 57l2 3 3 10 4 40-1 10-2 10-6 18-3-18-1-20 1-30zM1870 51l4 19 1 30-2 10-3 1-1-11v-20zM90 110v21l-1-11zM260 130v-4 4 4zM940 132l2 18-1 40 1 10 5 30-1 10-6 26-2-16v-20l1-40v-30zM520 179l1 11-1 18zM1090 202l3 28 1 50-1 40 3 50-1 30-1 10-4 16-2-16-1-20 2-80-1-60zM2050 211l3 19 1 20-1 20-3 18-3-18v-10-20zM580 234l1 6 1 10v10l-2 8-1-18zM790 253l1 7 1 10-2 8-1-8zM860 272l2 8 1 10-1 30 1 40v10l-3 13-1-53v-40zM980 278l2 22-2 23-2-13v-10zM1300 280l2 30-2 19-1-19zM80 290v-1 1 2zM620 300v-3l1 3-1 2zM1690 308l2 12 2 30-2 20-2 8-3-8-2-10-2-20 1-10zM500 325l2 35v20l-2 25-2-35v-20zM980 345l3 25 1 20-4 59-4-39v-20l1-20zM950 356v21l-1-17zM890 390v-4l1 4-1 3zM740 432l3 28-1 10-2 10-1-20zM1050 476l1 14-1 12-2-12zM4720 603l2 17 1 10 2 80 6 40v10l2 20v20h-21l1-30-1-20 3-40-1-40 4-50zM4430 704l2 6v10l-2 15-2-5-1-10 1-10zM4840 720v-1 1 2zM5020 780l10 2v18h-19l4-10zM5009 800h-25l6-7 10-3z"/>
<path fill="#f7eee7" d="M20 0h1-1zM60 0h35l-3 10-2 18-2-18-8-5h-10zM103 0h7 6l-6 7zM148 0h39l4 10v10l-1 33-1-3-1-10-1-30-7-2-3 2-3 10-4 21-5-31-5-5-10-3zM213 0h7 3l-3 7zM279 0l-9 5-17 5-3 5-4 5-1 10-1 40-4 28-4-48 1-20 2-20-1-10zM296 0h4 4l-4 3zM327 0h3 5l-5 2zM401 0h9 6l-6 6zM460 4l3 6-1 30 1 60-1 50-2 27-3-27-1-60 2-50-2-20 1-10zM463 0h7 7l-7 4zM480 5l2 5v60l-2 87-3-97 1-50zM482 0h8 6l-6 4zM520 11l-2-11h15l-3 3-10 7zM556 0h4 2l-2 5zM637 0h3 9l-9 5zM660 3l6 7 1 10-2 20-4 20v10l2 30v20l-3 90 1 30-1 31-1-21 1-40-2-50-1-30 1-30 1-30-3-50v-10zM680 0l5 10-3 30-1 50-1 20-8-90 1-10zM723 0l-3 4-6 6-3 40v20l3 50 1 30-2 50-1 50-2 55-2-45v-60l-2-50v-50l3-40-2-40v-10l2-10zM738 0h2 8l-8 4zM770 1l4 9-1 40 2 80-1 30-3 40-1 39-1-39-3-30v-20l1-100v-40zM843 0l1 20-1 50v30l-1 20-2 19-9-9v-30l-1-12-1 42-3 30 1 50-5 40 1 60-3 39-3-19v-20l2-60-2-40 1-70-2-50v-80l4-8 10 1 5-3zM857 0h3 3l-3 2zM920 4l3 6-3 113-1-43-2-30-1-30 1-10zM924 0h6 7l-7 3zM980 3l10 7v10l-5 30-2 20 2 50-2 20-3 22-2-42v-50l-3-50 1-10zM1004 0h6 5l-5 4zM1030 0h21l-11 1zM1060 6l1 4 1 10-2 41-2-41v-10zM1110 1l2 9 1 10-1 40-2 21-2-31-1-30 1-10zM1130 3l4 7 1 10-2 80 1 50-1 30-1 40-2 42-5-12-3-20-1-10 4-30 1-10-2-40 2-90v-30l1-10zM1165 0h5 8l-8 7zM1210 4l9 6-6 70 3 30 4 11 10-11 4 20v10l-1 80-3 26-10-3-5-3-2-10 2-40v-10l-5-26v-84l-4-50v-10zM1240 0h1l-1 1zM1250 9l3 1v10l-3 16-3-16 1-10zM1256 0h17l-3 4-10 2zM1289 0h14l-3 3-10-1zM1330 2l8 8 2 16 3 4v10l-3 11-3 19-2 10-5 10-4-10-2-10-1-20v-30l2-10zM1343 0h7 2l-2 9zM1380 9l1 1v10l-1 4zM1457 0l6 10 1 10-2 20-2 6-4 4-6 11-2-21-1-30-3-10zM1478 0h33l8 20 1 20-1 80-3 60-1 90-5 54-2 6-6 10-2 2-1-22 2-60 3-40-1-50 2-50v-90-10l-2-10-3-5-7 15-3 20-5-10-5-5-1-5-1-10zM1538 0h2 1l-1 1zM1560 0v3zM1575 0h5 4l-4 4zM1616 0h4 3l-3 2zM1640 9l3 1 1 10-2 30-2 12-4-42 2-10zM1647 0h19l4 10-1 10-5 10-4 18-1-28-2-10-7-5zM1676 0h4 2l-2 1zM1720 4l4 6 1 10-1 50v70l1 70-3 110 1 30-2 10-1 2-5-32-2-40-1-20 3-120-1-40 1-50-2-50zM1748 0h3v10l-1 3zM1769 0h23l-2 1-10 3-10-2zM1810 5l4 5v10 30l-4 40v24l-1-24-1-10-5-20-1-10v-30l1-10zM1836 0h4 2l-2 3zM1854 0h6 5l-5 5zM1876 0h14v3l-10 1zM1907 0h15l-2 3-10 4zM1945 0h5 5l-5 5zM1966 0h4 4l-4 2zM2021 0l-1 1-10 4-8 5-2 21-2 59v80l1 30-2 40 1 40-1 50 1 30-3 110v10l2 10v10l-7 7-7-27-3-6-3-24-1-130-2-100 2-70-1-140 5-7 10 2 7-5zM2070 0l2 50-2 50-2-50zM2086 0h4 7l-7 2zM2119 0h1zM2143 0l-3 3-3 7-2 70v50l-3 50-1 50 2 60-1 10-2 13-6-3 4-70 1-20v-40l-4-50v-120l5-9 6-1zM2232 0l2 10 1 10-1 20 2 30v30 10l4 20v10l-5 100-3 20-2 10-2-10-2-20 1-50-1-40 1-20 1-20 1-60-4-40-5-9-20 3-2 6v210l2 60-3 40-1 70-1 10-2 10-3 7-6-7-3-10-2-10-1-20v-10l4-30 1-20-1-90 1-80-2-80 1-50-2-6h-10l-8-4h21l7 3 7-3zM2280 0v1l-10 3-7 6-1 50-2 42-1-42v-50l-10-10zM2306 0h20l-6 6h-10zM2335 0h31l4 6 7 4 1 10 3 10 2 10 1 20-1 20-5 30-5 60-1 40 3 30v20l-5 74-1-34-4-50 2-60-1-50 2-40-3-30 1-40-1-20-5-3-10-3-6 6-1 10-1 30v30l-1 30v10l3 20v10l-3 50 2 30v20l-3 15-2-5-2-10 1-20 2-30-2-40v-10l3-40-2-30v-40l-1-30zM2378 0h2 1l-1 3zM2419 0l-9 5-5 5v10 60l2 60-3 50-4 40-4-40-2-30 1-40-1-30v-40l-3-30v-10l6-10zM2443 0l-3 1-7 9-3 10h-1l-5 20-1 10 1 20 1 10 5 18 3-18 3-20 4-9 2 9 1 20v10l-3 18-7 2-3 2-10 1-2-13 3-100zM2452 0h14l4 7 4-7h11l5 19 1 11 2 30 1 70-1 20-2 20-1 20 1 50v20l-1 15-4 5-6 7-3-17-1-10-2-60-5-60v-40l-3-40 1-30-1-20-6-3zM2480 35l-3 5-1 10-1 20v10l2 10 3 5 3-5 2-10v-10l-1-20-1-10zM2503 0h56l-7 10-2 2-1-2-9-9-10 3-9 6-1 14-3-14-7-4zM2573 0h63l-6 9-10-5-11 6-2 10v20l-3 30v10l4 70 3 40v30l-1 24h-10l-1-4-3-40-2-40-4-30 1-10 5-20 2-20v-20l-3-50-5-6-10 1zM2644 0h54l-5 10-1 10v20l-2 51-3-51v-20l-3-10-4-1-10-7-5 8-2 10-2 30 1 10 5 20 1 10v10l-4 40v70l-2 40 3 50v70l2 50v30l3 18 10-30 8 32 1 20v10l-2 10 3 10 6-10-4-10-1-10 1-10 3-30 1-30 2-20 2-7 6 27 1 30 2 10 1 3 4-73 1-80 5-50v-10l-4-30-2-20 3-60-2-20-1-10-4-14-1-16 1-23 2 3 4 10 6 10 2 10 1 50 5 54 7 16 3 3 3 7 2 10 1 10v10l-7 10-9 30-1 10 1 17 10-2 4-15 6-31 3 21 6 30v10l-2 30v20l1 10 3 20 3 30 6 30 4-20 3-40v-90l3-65 2-25 2-30v-40l-2-60-4-40v-10l2-8 3-22 1-20h42l-6 5-10-2-10 7-2 10v30l3 30-1 40 2 30 2 20 2 10 4 10 1 20-1 34-10-1-2 27v20l2 15 10-1 9 26 1 4 3-14 3-40 1-30 1-30v-70-10l2-8 6 18 4 9 1-19 1-20-1-50v-50l-1-7-7 7-3 5-1-5-1-10 2-2 3-8h24l3 3 4-3h74l2 2 4-2h43l3 1 2-1h56l-1 10 3 21 3-11 1-10-1-10h19l8 8 9-8h2l5 10 4 24 1 16v20l-5 80v20l2 10 2 8 3-8 3-10 4-24 2 14 6 30v10l-1 40v10l3 14 2-4 1-10v-20l-2-30 3-40 1-10-2-30 1-50v-50l-2-10-2-4-7-6h33l4 5 2-5h46l2 8 1-8h127l2 10-7 50-3 5-1 5 1 12 2-2 4-10 4-2 2-8 2-10v-10l-1-20-1-10 8-2 2-8h20l-2 1-8 9-2 7-3 3 2 30-2 20-1 20 1 20 3 20 3 10 1 10v20l-1 10-3 7-2 3-3 10 1 20 5 40-2 40 1 11 10 6 2-47v-60l1-60 2-40 1-50 1-50 5-10h44l4 2 2-2h26l2 3 1-3h55l-6 5-5 5-2 10-1 10 1 20 3 40-1 50v20l2 20 3 21 5-21 5-37v-43l2-30 1-60-1-10h46l-4 10 1 10 3 20 2 5 10 15 5 10v10l-11 20-3 10-2 40v20l2 10 9 30 7-10 3-2 10-20 3-18 2-30-1-20-4-30v-10l4-30v-20l-1-10-3-5h-10l-11-5h40l1 1 2-1h121l7 10 10-1 4-9h24l-8 10-5 10v10l4 20v10l-2 40 1 10 2 10 7-10 3-23 2-37-2-40 2-10h115l3 4 3-4h22l-7 10-3 10-1 20 3 30-1 30 1 10 3 8 2 2 5 10 3 24 6-84v-60l4-8 9 8-3 30-1 20 2 10 3 7 3-17 1-20-1-20-2-10v-10h47l2 9 6-9h7l7 8 4 2 2 10 4 31 10 21 2 8 5 50 3 14 4-4 5-10 1-5 1-25-1-40-3-20-2-20-3-10-2-2-6 2-3 10-1 10-3-10v-10l3-4 2-6h24l4 2 1-2h106l3 3 3-3h14l3 3 5-3h113l2 1 3-1h35l2 5 1-5h76l3 2h10l1-2h32l7 4 7-4h20l3 1 10 2 6-3h18l16 3 4-3h28l8 4 10-2 2-2h76l2 2h20l10 2 8-4h14l8 3h10l6-3h7l7 5 10-1 6-4h38l6 2 5-2h9l6 2h10l6-2h14l10 3 10-1 10 2h10l8-4h5l7 2 10 2 9-4h51v531l-7-11-3-3-5 3-5 9-10-9-6-10-4-5-10-1-3 16-7 50-1 30-2 10-7 12-2-22-1-40-2-20-5-22-6 32-3 20-1 19-3-9-7-8-2 8-5 30-3 10-2-10-3-30-1-10-8-30-6-12-10-12-10 18-5 16-3 20-2 25-4-45-6-33-10 22-10 4-5-13-5-9-6-1-4-2-3-8-4-10-3-3-10 98-6-15-5-30-3-10-6-8-4 18-3 20-3 63-3-3-6-10-1-6-1-24-2-10-2-10-5-10-4-10-6-22-10-3-5 15-5 14-3-4-11-20-6-17-5 7-5 10-5 20-5 40-10-7-4 7-3 10-1 10-2 32-1-32-4-60-2-10-3-11-10 2-8 39-2 5-8 5-2 6-3-26-2-10-5-10-10-41-8 21-2 9 1 31-1 25-3 5-7 5-4-15-1-10-1-20-4-27-5 27-5 8-3-8-7-27-10 3-4 14-6 31-10-2-10 10-5-9-5-29-2 19-2 40-1 10-5 16-4-16-4-20-1-40-1-11-3 11-5 10-2 2-10-15-3 13-3 50-1 40-3 21-3-11-1-10v-50l-1-10-3-10-2-3-3 3-3 10-2 30-2 11-3-11-3-20-4-14-2 14-8 22-10 1-3-23-3-40-4-14-3 14-4 40-3 18-5-18-5-28-5 28-2 20-2 60v40l-1 17-1-17v-40l-5-70-2-10-2-10-4-10-6-7-4 17-1 10 1 40v10l-6 35-3-15-7-83-3 23-7 21-6 9-4 10-7-10-3-2-10-20-2 2-2 10v20l-2 10-4 7-4-17-1-10 3-30-8-10-4 10-2 10-3 40-4 30-5 10-2 2-7-12-3-4-4-36-3-50-3-23-5 33-7 30-2 20v50l1 40-1 10 4 40h-17l2-40-1-10-3-120-1-7-6-13-4-12-10-8-4 40-6 28-10-48-5 40-1 30v20l2 30-1 30 3 40h-15l2-40 2-70-1-20-2-20-4-28-4 8-2 10-4 27-4-47-6-36-6-14-4-5-6 35-4 10-8 10-2 3-10 8-10 6-4-7-6-13-2 23-2 70-4 50 2 40h-10l1-40-5-21-3-9-1-10 3-40-9-6-3-4-4-20-3-4-1 14v70l-4 20-3 10 6 40h-28l5-20 3-20-1-20 1-10 3-10 1-10 1-10-3-22-10 1-2-9-2-20-1-30-1-10-4-20-3 20-1 10 1 40-3 60v40l1 40h-9l1-40-3-40v-60l-2-50-2-20-2 10-2 30-3 20-1 40-2 18-2-18-1-30-2-10-3-10-2-5-2 5-8 22-10-57-4 35v20l4 49 5 21v10l-5 4-2 16-1 40h-14l1-40-2-40-1-60 1-40-2-18-7-22-2-10-1-9-2 9-6 20-2 15-10-2-4 7-2 10-2 30-2 16-5-46-2-10-3-9-1-1-5-10-4-13-4 33-4 10-2 2-3 28-1 50 1 30v10l-2 20-1 20v10l2 10h-9v-20l-4-70v-20l2-40-1-20-1-10-3-11-10-6-6-13-3-10-1-12-2 22-1 40-5 30-3 20 4 50 1 30 2 40h-29l2-20 4-10 2-10 1-10-2-50 1-50-1-20-4-28-6 8-4 4-4 6-6 28-3-8-3-20-4-8-2 8-5 40-3 10-5-20-5-25-7 65-1 30-2 40v25-25l-3-60-3-30 1-60-2-20-3-15-2 5-1 10-7 63-4-33-2-40-2-10-2-8-10 87-7-19-3-5-7-25-3-7-7 7-3 10-5 70-1 40 1 30 5 50h-31l1-10 2-10 1-20-2-50v-60l-1-13-10-39-10 36-10-3-10-18-2-3-4-10-4-24-2 14-2 40-5 30-1 10-8-30-1-10 2-40-1-10-2-6-3 6-3 10-4 19-10-2-2 13-6 130 2 50h-13l5-30 1-20-1-20-2-90-4-41-10-2-10-7-2 10-2 40-1 10-5 8-3 2-3 10-2 10-6 20-1 10-5 80 1 10h-32l2-30 1-50 2-20 4-20 1-10-1-10-3-10-5-10-5-20-5-12-3 12-4 20-6 20-1 10v10l1 20v20l-2 10-5 17-3-17-1-20 1-30-1-20-6-74-4 24-6 52-3-12-4-20-3-10-9-10-4-10-7-9-5 9-5 22-6 48v20 80 30h-10l-1-30 2-50v-40l-3-50v-40l-2-37-3 17-1 10v50l-6 29-6-9-3-10 2-30-1-20-2-12-3 12-2 10 1 10 3 30-1 10-6 10-2 2-4-2-5-10-1-3-6 13-4 3-2 7-4 20-2 20 2 70 3 20h-12l2-50v-40l-1-20-2-10-4-12-10 14-2-2-4-10-4-21-5 11-5 6-8 4-2 34v-74l-3-30-2-30-5-39-3 9-1 10-2 60-2 10-2 5-7 25-1 10-1 40-2 20-1 20v10l3 20 1 10 1 20h-36v-30l3-19 2 9 4 10 4 6 3-16 1-10v-30l-3-50-1-49-4 9v20l-1 10-5 16-3-36v-30l-3-20-4-11-6 21-4 10-3 20-1 10 3 80 1 12 4 28 1 10v30h-30v-40l1-10-2-60 4-10-3-10-5-2-10-31-5-7-5-4-10-1-1 25v50l1 19 4 41 4 20 2 6 5-6 3-10 2-13 3 13v30h-38v-50l-1-80-2-20-2-10-10 7-10-15-4 38 1 40-2 10-5 10v10l4 20 1 10 1 30h-25l2-20v-20l-1-10-4-10-1-10-1-40-1-10-5-9-4-1-6-14v14 4l2 6 1 10 1 40 3 40v30h-44l-1-40 3-30v-20l-1-40-4-42-6 62v20l3 50-1 40h-41l2-20 3-13 5-7 3-10 1-20 1-6 5-14-1-20-4-45-5 15-5 14-2-14-3-10-5-15-10 4-6-39-4-9-5 29-5 47-5-17-10-20-5-28-2 8-3 50-3 20-4 10-1 10v30l-1 20 4 6 10-3 10 9 10-47 10 70 2 5 2 10h-68v-30l3-50 1-10 5-20 1-10 1-10-2-30-3-20-5-20-7-18-3 18-1 10-2 60-3 40 2 90h-9l3-30 2-60-5-60-1-90-3-24-2 4-3 10-1 10v10l1 30-1 20-4 23-4 47-6 49-10-4-3 15v10l-3 30 1 10h-6l-1-20-3-20-1-20 1-10 4-20 1-10-5-40-3-40v-30l-2-12-2 12-1 30-2 50-2 10-8 20-1 10v20l4 30 1 40h-33l-2-30 2-20-3-30-4-30-3-30-3-20-3-16-10 34-5-8-2-10-3-41-1 51-2 20v10l3 19 10 5 7 16 5 10 6 30v20l-1 20h-39v-50l-1-70-4-60 1-40-1-60v-10l-1-10-1-30 3-30 7-40-1-16-6-24-2-20v-20l1-10 7-19 10 31 4 18 3 20-3 60 2 20 4 14 4-14 4-30-4-50 3-40v-50l1-10 2-10 3 10 1 10 2 50 3 20v10l-4 30-2 30 1 10 6 22 3-32-1-30-2-30 1-10 5-100-2-60 2-60v-60l-2-10-4-8-2-22-1-10zM2730 349l-2 61 1 20 1 10 7 10 3 10 6-10 2-10-3-20-5-56-4-4zM2830 338l-5 2-5 9-10-4-4 5-3 10v10l2 40 2 10 3 6 4-16 6-34 6 14 4 19 3-19 1-20-1-20zM2840 201l-2 9 2 11zM2860 75l-2 45-2 50 1 100v40l1 50v90l2 23 5-33 3-40 5-30v-60l3-50-1-20-3-20 1-60-1-20-3-20zM2900 7l-2 3-1 10v40l-4 70 1 20 3 50 2 40 1 13 3-13 1-40 6-40 1-50-6-50-1-40-1-10zM2920 33l-2 17v10l2 11 1-1 2-10v-10zM2930 650l-3 10-1 10v20l4 28 3-38-1-20zM2960 52l-3 18-2 30-2 60 2 70v10l5 27 5-47 1-40 2-50-1-20zM2980 4l-5 6-2 10 2 50-1 60v20l3 40 3 110 3-170v-110l-1-10zM3000 3l-4 7-1 20 1 30 2 50v50l2 22 8-12 2-10v-20l-4-20-1-20 6-60v-20l-2-10zM3020 318l-1 22 1 15 1-5 1-10zM3030 236l-2 4-2 10 3 10 1 2 1-12zM3060 68l-5 2-4 10-1 16v14 23l1 7 9 7 1-7 1-20v-40l-1-10zM3070 30l-2 20 2 8 3-8zM3080 103l-4 57-2 50 3 40 1 10 2 4 4-54 1-40zM3170 26l-5 14-1 10-1 30-3 30v11l2 9 5 10 3 4 2-14 4-70 3-20 1-10zM3200 109l-1 1-9 4-4 26-1 20 1 60 4 40v10l-3 40 2 40-3 40v10l3 10 1 2 3-2 4-10-5-50v-60l-1-20v-10l2-10 4-10 3-4 2-6 1-10 1-10-1-20-3-14-2-6-1-20v-20zM3230 52l-4 28v20l1 20 3 15 2-15 1-40-1-20zM3250 8l-2 2-4 10v10 20l3 40-1 60 1 10 3 14 10 2 4-66v-20l-3-40 2-30-2-10-1-2zM3290 2l-6 8-2 30-2 20-1 20 1 24 7 16 3 16 2-26v-40l2-50-1-10zM3360 330l-3 20v10l1 30 2 28 1-48zM3400 5l-4 5-3 10-3 26-4-26-4-10-2-2-3 2-2 10v50l1 30 4 25 5 5 3 10 2 5 6 35v10l-2 10-4 19v19l1 2 9 10 2-20v-50l3-40 1-30-2-60 1-30-1-10zM3420 119l-3 21-1 20 1 20 3 27 2-47-1-30zM3440 17l-1 3-4 50-1 20 1 20 3 50v10l-3 40v20l2 20 3 20v10l1-10 3-20 2-50-2-40 2-50-5-90zM3460 12l-2 8 2 29 3-19 1-10zM3630 14l-10 1-2 5-2 20-1 20 4 90 5 40 6 33 6-43 1-20-1-40v-70l-3-30zM3650 6l-2 4-1 10 1 20-1 40v60l1 10 2 9 12-49-3-30v-10l7-30 2-20-9-10zM3680 8l-8 2-1 10 5 50v10l-4 30v10l1 10 7 24 2-14 1-20-2-50v-20l3-30-2-10zM3730 22l-2 18-1 20 1 40 2 31 2-31v-40zM3770 142l-2 8v10 20l2 15 3-15 2-30zM3840 10l-1 10 1 30-1 40 1 43 10-15v-18-14l-1-6-8-30v-10l3-20zM3870 16l-2 54 2 57 1-67zM3970 8l-4 2-2 10 2 30 1 40 3 38 4-28 2-50 4-22 1-8-1-5-2-5zM4030 104l-2 6-1 20 1 40 2 21 3-41-1-30zM4050 199l-2 21 1 20 1 9 2-9 1-10-1-20zM4100 9l-7 1-3 4-10 3-1 3 1 20-1 30 1 24 3 6 7 23 10 3 2-6 2-10 1-40-1-50-3-10zM4120 9l-2 1-2 10v10l-2 30v20l2 10 4 13 4-3 3-10 3-19 1-21v-30l-7-10zM4250 9l-1 1-1 10 2 78 4-78-2-10zM2620 735l-2 15 2 9 2-9zM2840 500zM2910 271l-5 9-2 10v10l1 20 6 29 7-29 1-30-2-10zM2920 211l-2 9-1 10v10l3 18 2-28-1-10zM2960 279l-2 31v40l-3 40 1 20 1 10 3 12 5-32v-20l-3-30v-40zM2980 335l-2 35 1 30 1 14 1-44zM3000 245l-2 15-1 10 1 20 2 14 5-14 2-10 1-10-1-10-4-10zM3060 286l-3 14v10l3 6 4-6 6-20v-2zM3170 238l-3 2-4 10v10l2 10 5 11 1-21zM3190 536l-1 14 1 3zM3250 223l-4 17-1 20 1 10 2 10 2 6 7-6 1-10-2-30-2-10zM3290 226l-2 14v20l2 28 2-28v-10zM3390 297l-1 13 1 18 1-8v-10zM3420 214l-1 26 1 14 1-14zM3460 78l-1 32 1 25 1-35zM3630 261l-1 9 1 13 1-13zM3970 249l-1 11 1 20 1-20zM2910 365l-2 15v20 10l2 10 9-10-3-20zM2980 592l-1 8v40l-4 20-1 10 1 10 5 13 2-13 1-10-2-30v-40zM3170 489l-1 1 1 3v-3zM3250 562l-4 18-1 10 1 10 4 18 4-18v-10l-1-10zM3420 635l-3 5-4 10-2 10v10l3 50-1 40 1 10 6 29 9-9v-30l-2-30v-50l-1-30-2-10zM2708 0h30l2 4 6 6 4 18 8 12 2 6 1 4v10l-6 30-1 10-1 30-3 42-6-12-4-4-2-6-1-10v-40l-1-10-2-10-4-13-5-7-7-20v-10-10l-1-10zM2748 0h19l-7 5-10-2zM2769 10l1-2 1 2-1 3zM1230 16l2 4 1 30v10l-3 22-2-2-2-10 2-30-1-20zM1570 12l2 8 1 20v50 40l-2 40 1 70-1 20-1 6-3-6-7-30-2-10v-10l1-20 1-10 4-10 1-10-1-30-5-40v-20l3-30 2-20zM1590 17l2 3-1 20-1 10zM4090 33l2 17v10l-1 10-1 4-2-4-4-20v-10zM2580 43l2 17v10l-1 40 1 10 7 10-3 10-1 10-1 60-1 10-3 15-4-45-1-30 1-20 4-20-3-40 1-20zM1380 57l2 13v10 10l-2 13-1-13-1-10zM940 70v-6 6zM2520 65l2 15 1 60-1 40-2 18-2-18-1-40 1-50zM170 75l1 5-1 13zM1890 88l1 22-1 22-2-22v-10zM70 100v-1 1 4zM2550 100v-2 2 1zM2770 121l2 9v10l-2 10-2-10v-10zM190 140v-1 1 4zM1330 138l1 12-1 13zM2560 149l4 11 1 20-2 30-1 40-1 10-2 10-5 40-1 20 1 10 2 10 4 11 10-11 3 10 1 10v10l-3 30v10l6 30 7 20 5 30-2 10 4 40v10l-6 30v10l1 40-4 60 1 50 2 20 1 30h-84l-2-4-1 4h-86l1-20 2-20 4-16 2-4 1-10 1-40 1-10 6-10 1-10-2-4-4-6-6-26-4-4-6-11-7 61-3 40-5-60-7-60v-20-30l6-20-1-10 5-20 2-18 2 18 4 20-1 10 2 10 3 7 5-7 3-10 5-30 1-10 5-30-1-40 2-21 2 11v10l-1 40 3 10 6 17 4-27 2-40 2-10 2-6 6 6 1 50 3 26 7-16 6-20 7-19 2-21 6-10 2-1 2 1 6 10 6 50 6 36 3 4 7 5 2-5 2-20 10-20 8-30 5-40-1-20-1-40 2-50 1-20 2-12 2-8 1-10v-20l1-20 3-20zM2560 737l-2 13 2 10 3-10zM2470 644l-1 6 1 13 1-3v-10zM2530 639l-5 11-2 10-1 10 1 10 1 20-4 8-1-8-2-30-2-10-5-15-4 45-5 40v20l9 19 10-7 5-12 1-30 3-10h1l7-30 1-10-1-10-2-10zM2470 740l-2 10 2 26 2-6 4-20zM1750 180v-2 2zM1050 198v14l-1-2v-10zM1480 197l1 53 1 70-2 23-2-73zM2420 190l2 10v10 10l-2 11-2-21zM1360 203l4 7 1 10-1 10-4 8-2-18 1-10zM1460 227l1 23-1 21-2-21zM2690 236l1 4 6 10 3 2 1 18-1 13-3-3-7-13-1-17zM2400 253l2 27-2 100 2 50-2 28-1-28 1-60-2-90zM2430 250l3 10v10l1 70-2 20-2 10-5-30-2-20v-10l3-30 1-20zM1750 261l2 19v10l-2 29-2-29zM1150 279l3 41-1 10-2 15-1-25zM1890 276l1 14v10l-1 9-3-9-1-10v-10zM1230 284l1 16-1 25-5-5-1-10zM1830 285l2 15-1 60-1 9-2-59v-10zM2020 290l1 20-1 19-1-9-1-10zM2310 300v1zM1560 302l2 38-1 10-1 3-1-23zM2490 307l1 13-1 12-1-2-1-10 1-10zM2120 312l4 8-2 20-2 11-1-21zM2690 324l2 16-2 7-1-7v-10zM1280 335l1 35-1 33-2-23v-20zM1920 349l1 11-1 18-2-18zM2370 368l4 12 1 10v20l-2 40 1 10 4 20-1 50-1 20v60l-3 110-1 80h-21l1-20 4-40-1-60-5-46-4-24-4-10-2-2-3 32-1 20-1 30 1 40-1 30 4 20 5 20 1 10h-41v-20l1-10 5-20-6-30-1-10-1-20 1-40v-10l-3-12-2 12-1 10 1 50-3 50 1 10 1 10-2 30h-31v-40l1-10-5-86-10-3-3 9-1 10-1 40-11 20-2 10 3 30 1 20h-20l1-50-4-30-3-35-6 5-3 10-1 5-2-25-1-10-3-10-4-8-3 8-1 10-1 20 3 20 2 9 2 1 3 10-2 10-3 10v10l6 30 1 10h-23l1-40 1-10-1-10-3-10-2-5-6 25 3 50h-23l1-40 2-10-1-30-1-20-2-10-3-7-3 37v30l1 50h-42l1-10 3-14 8-16 6-10-2-40 1-40-1-40v-50l-2-40 2-20 2-10 1-20 2-10 3-6 8 6 2 6 1 14 9 52 3-2 7-8 3-22 2-40 5-19 3 9 7 10 8-10 2-9 3 19v10l-3 30 3 10v10l-3 23-1 47 1 27 5-7 11-20 2-10-2-60v-10l2-10-1-30 3-14 3 4 4 10 1 10 2 4 5-4 5-2 4 2 3 10 3 28 2-18v-10-10l-2-6-2-4 2-9 10-4h10l2 3 1 10v10l-2 10-2 20 5 10 2 10 3 40 1 22 5-82 7-30 3-20 3-20 2-41 4 11 6 4 1 6 3 30 3 20 1 10-1 10-1 10 4 10 3-10-1-30 4-40 2-80 2-14 2 14 3 90 2 30 3 10 4-10 6-57 2 17 2 10 8 20v10l-2 10-1 10 1 12 4 8 6 8 4-8 3-10 3-20v-10l-1-10 5-20v-10l-1-20v-30l2-10zM2150 637l-2 3v10l2 4zM2210 609v1 1-1zM2230 613l-3 17v10l3 5 1-15zM1830 400l2 10v40l4 40v30l2 10 2 2 6 18 2 10v10l-3 80-1 70 1 40v40h-74v-50l-1-5-1 5 1 50h-48v-30l-2-23-2 33v20h-15l-3-40v-17l-2 7 1 10-2 20-1 20h-26l-4-40v-10l-6-10-4-10-2-20-4-14-3 24v10l1 20 2 20-1 30h-15l-1-70-3-44-3 44v40l-2 30h-20l-3-80-1-60 3-50-1-40 1-10 4-20v-30l2-28 4 38v20l6 9 3 11 2 10v20l5 46 6-86 4-16 8 16 2 10 6-10 4-2 1 2 4 20v20l-1 30 1 10 2 10 3 6 10-2 6-4 2-10-6-30-1-10 3-30 6-13 4 13 3 30 3 13 3-53 3-20-1-20 1-10 4-9 2 9 1 10v30l2 10 5 77 5-57 1-30 3-10 1-20 10 4 5 26 2 40 1 20-1 30 2 40v60l1 23 1-23v-60l2-40-1-40 2-40 3-20 3-27 10 13 5-16 5-12 3 12v10 10l-2 10 9 3 5-3 3-10 1-10 1-20 1 20 7 10 2 1 4-11v-20l6-37 2-3 4-10zM1680 734l-3 6-1 10 4 8 3-8-1-10zM1700 630l-8 10v10l2 30 6 46 3-46-1-30zM1720 657l-1 33 1 24 2-24zM2050 476l3 44 5 30 1 20-3 60-1 90-5 48-2-8-1-10-5-20-3-20v-10l4-40-1-20-2-12-10 4-4 28-1 30 3 40-1 30-3 40h-33l-1-9-1 9h-22l-1-50-2-30 1-40-1-50v-20l3-20 3-11 7-9 3-2 12-28 6-10 2-6 5 6 5 1 2-1 1-10v-20l2-10 5-7 3 7 1 10 2 20 3 10v30l1 10 10-14 3-16 5-20v-30zM1990 658l-2 12-1 10v30l-6 30v10l6 10 3 14 2-24v-70zM2010 717l-1 13 1 11 1-11zM1910 482l4 8 1 10-1 10-2 10 1 10 7 2 2-2 3-10 5-9 2 9 4 20 2 10 2 3 6-13 3-10-1-10-1-10v-10l1-10 2-8 3 8v10l-2 20v10l4 20 1 10 1 20-2 80-2 40v20 30l1 50h-12v-40l2-10 1-50-5-34-4 54-2 10-4 8-3 12 3 50h-49l2-10 3-10 8-20 2-10-3-50-1-20 3-50-1-50 1-40 4-10 1-15 1-5 3-20zM1480 495l3 15v10l-2 20v10l9 10 7-10 1-10-1-20v-10l3-12 2 12v10 30l2 10 3 60 3 25 2-5 3-10 2-10 2-40 3-20 4-10 4-14 7-6 3-8 2 28 6 10 2 7 10 4 2 9 1 20v10l-4 40 2 30v20l-1 14-10 8-2 28 1 30 2 20h-38v-10l3-10 4-7 3-23-1-50-2-26-6 16-4 15-3 45 2 50h-15l-3-50-1-11-3 11-1 20-1 30h-13v-50l-2-15-2 15v10l-2 10-3 10-3 6-6-6-4-8-2 28h-13l-2-50-1-20v-40l-2-30 3-40 2-50 2-10 3-9 9 9 1 2 6 28 2 10v30l2 18 10-8 2-20 1-30 3-30 4-10-2-30v-10zM2080 493l3 7 3 10 1 20 2 10 1 10-2 30 1 10 1 8 1 2 4 10 2 20-2 30-2 10-3 8-1 12v40l-2 20v50h-14v-30l1-20v-30l-2-30-4-30v-10l2-20 4-50v-20l-1-20 1-10 4-30zM1970 523l3 7 3 10-3 10-3 6-4-16 2-10zM1860 536l5 4 2 10-7 6-2-6v-10zM1580 551l6 9 2 10 6 60 2 30v10l-3 30-1 40-2 16-6 24-3 20h-1l-2-30v-40l-1-40v-40l-2-50 1-30zM1180 561l6 9 4 10 4 20 2 10v20l-1 20-1 20 3 40 3 11 2-11 3-20-1-70 2-30 1-10 3-9h10l10 5 1 4 3 20 3 80-2 30-3 20 1 30-2 40h-29l-2-14-2 4-5 10h-19l-2-30v-40l-2-39-1-1-5-10v-10l3-30 2-10 1-3 5-47 2-10zM1280 563l3 7 2 10 5 61 4-21 3-40 3-11 3 11 3 20v30l1 10 2 20 1 10-3 50-2 30v20l-4 30h-3l-4-30-1-40-3-43-2 33 1 40-2 40h-17v-20l3-40-3-65-5 5-5 7-4 43-4 10-2 2-4-22-1-40 1-10 4-11 8-9 2-13h10l5-57 2-10zM1400 567l5 3 2 10 1 20 2 21 10-10 7 29 3 20-2 30v30l-4 30-1 50h-28l-2-20-4-30-1-40-3-40v-50l3-20 2-12 6-18zM1870 565l2 5 3 30 3 10 2 1 2 9 5 50-1 10-3 20-2 30-4 20 3 50h-23l-2-60v-80l2-40 1-10 2-8 2-2 3-10zM1370 578l1 2v30l4 30 2 50-2 20-1 10-4 14-4 6-1 10 2 10v10l-7 4-3 16-1 10h-25l-1-20v-20l10-10 2-10-5-20-3-30-4-11-2-9-1-20 1-20 2-4 1 4 9 10 10 3 4 7 6 15 1-15v-10l-1-9-3-11v-10l1-10 2-11zM870 598l-1 22 6 40 2 20-1 20-4 10-2 1-1 49-3 40h-11l-5-45-4 25-2 20h-40l-4-30-10 1-4 9-5 20h-45l-6-20-4 20h-22l-4-53-3 53h-14l-3-48-10-1-3 19-2 30h-65v-5l-10 4v1h-14l-4-50v-50-10l-3-20-1-10 1-10 2-10 9-33 12 63-2 4-2 16 1 10 1 7 9-7 1-10 1-40-1-10-2-20 1-10 1-7 2-3 8-6 8 6 2 2 5 18 4 30-1 50 2 14 6-4 2-10 1-10-2-20-2-10 2-10 3-4 1-6 5-20 1-10v-10l3-8 7 8 3 7 2 13 4 60 4 33 4 7 4 20 2 8 1-48 2-20 7-43 4 13 3 20 3 52 2-22 2-40 4-40 2-10 10 42 9 8 1 2 1-12 7-30 2-19 10-7 3-4 7-6 10 17 4 9 3 20 3 33 1-3 9-7 6 7 2 20-1 20 1 10 2 7 1-67 6-30 2-20 1-7 2 7 3 20 5 20 9 40 1 22v-22l2-20 3-20 5-15 4 5 3 10 3 57 2-37v-30l3-20 2-10 3-8zM890 587l10 9 2 4 3 20 5 22 6 18 4 7 4-17 2-10 2-30 2-15 2-5 8-8 3 8 2 10 2 50 3 30v30l-3 60v30h-31l-1-20-1-10-4-10-5 40h-21l-1-20-3-19-6-11 1-10 5-13 4-87zM980 587l3 3 3 10 2 20 2 13 10-2 10 8 9 31 1 10-8 40-1 10v10l9 10 2-30-2-40 1-20 2-20 3-10 4-9 7 9 2 10 1 25 2-15 5-10 1-10 1-10 1-12 1 32 2 10 7 14 10-7 10-12 2-15 2-30 2-10 4-8 6 8 8 30 1 10 5 50 10-8 10-18 7-24 2-10 1-14 1 4 9 8 1 2 3 10 5 50v30l-5 40-1 50h-21l-2-18-3-22 3-7 1-23-1-21-4 11-6 9-5-9-5-15-1 25 1 30-3 40h-20l-4-30-3-15-2-5-2-10-3-30-3-14-3 4-3 10-4 33-10-9-8-14-2-8-3 28-4 60h-10l-3-37-10-12-2 19-2 30h-30l-1-20-3-30-1-10 3-40-2-40 1-10 3-50zM1000 700l-1 30 1 13 9-3v-10l-3-10-4-10zM1069 600l1-9 1 9-1 9zM420 606l2 4 5 20 3 15 2-5 5-10 3-7 3 7 2 10 2 20 3 12 2-12 1-30 5-10 2-2 5 12 3 20 2 30-1 70-2 50h-16l-1-4-10-13-7 17h-35l-6-50-1-20 7-100 2-13 2 3 3 10 5 21 4-31 3-10zM500 604l10 6 2 10 4 60 1 50 3 30v30l-1 10h-44l-4-50v-70l1-30 2-10 3-10 3-8 8 8 2 10v28-28l2-20 3-10zM190 627l3 3 6 10 11 27 4 3 5 10 1 23 1-43 2-10 3-10 4-9 10 5 5 14 2 10v50l1 40-2 30-2 20h-69l-3-50 8-67 2-33 2-10zM280 632l3 8 1 10 2 20 2 10 2 5 8 5 2 3 8-63 2-7 4 7 2 10 2 30 2 19 4-9 2-10 2-20 2-9 10 17 2-18 3-10 5-7 4 7 2 10 1 20 3 25 4-15 3-20 3-7 10 3 3 24 5 60-1 20-3 20-1 30h-7l-2-20-4-11-10 21-1 10h-38l-1-3-1 3h-34l-2-10-3-6-5 6-3 10h-3l-4-10-5-5-3-5-3-10-2-20 1-30 4-30 3-14 8 44 2 27 6-67 2-40zM550 624l4 26 1 20-2 40 2 40-5 50h-29l-1-10 1-40 5-40v-30l2-30 2-9 10 9 2-10 4-10zM100 640h10l3 10 4 40 1 40 2 16 3-16 1-20 2-10 12-40 2-4 10 10 10-28 3 12 1 10 4 90-5 50h-42l-1-1v1h-25l-2-50v-40-30l1-20 3-10zM10 657l10 9 7-6 9-10 4-2 2 2 8 27 10-18 10-5 3-4 7-6 2 6 3 10 1 20-1 40 1 30-2 50h-84v-137zM960 653l3 17v30l3 40-2 10-4 7-2-7-6-40-2-20 1-10 8-20zM4760 680v-7l1 7-1 7zM3120 698l1 22-1 21-1-21zM3650 694l3 16 1 10-1 40 2 40h-8l1-40-1-40v-10zM4960 700v-1 1 1zM3200 705l4 15 2 10 1 10-1 10 4 12 4 38h-15v-20l-2-50 1-10zM3280 704l5 66v30h-11l-1-40 3-30zM4070 706l2 24v20l-1 10 4 20 3 20h-15l6-40v-30zM3710 711l3 9 2 20v60h-10l1-70 2-10zM4250 719l1 21-1 12-2-12v-10zM4330 715v40l-1-5-1-20zM4970 711v21l-2-12zM3540 728l2 12v10l-2 20-3 10v20h-13l3-30 1-10zM3850 740v-1 1 4zM3940 733l2 17 2 50h-8l-1-30 2-20zM4120 733l1 17v10l4 40h-9l3-40v-10zM4910 739l5 11-5 16-1-16zM2400 746l5 24 1 30h-11l1-30zM4160 746l1 24 1 30h-6l3-40v-10zM4930 741h10l1 9-1 7-3 3-3 10 6 6 3 24h-30l3-10 4-9 1-1 6-10v-10l-2-10zM2730 757l4 23 1 20h-13l4-30 2-10zM3920 768l3 12 1 20h-10l3-20zM4310 767l7 3 3 3 10-11 5 38h-33l3-20 3-10zM1370 776l10-2 2 6v20h-13v-20zM3370 778l10 1 3 11 1 10h-18zM3450 777l2 3 2 10 1 10h-11l1-10 3-10zM4580 779l5 11 3 10h-12zM4680 779l6 21h-27l1-9 10-1zM4760 778l6 22h-8zM3180 782l2 8 1 10h-6l1-10zM3320 788l2 12h-3zM3470 786l3 4 4 10h-11l2-10zM4360 783l2 17h-4zM4490 789l3 11h-7zM4560 780l3 20h-7l1-10zM4720 787l4 13h-5zM4960 781l10 1 2 18h-15zM4229 800l1-5 2 5h-2zM4248 800l2-7 1 7h-1z"/>
<path fill="#f7dcc9" d="M75 0h5 7l-7 2zM107 0h3 2l-2 3zM164 0h19l-3 4-10 3zM244 0h28l-12 4-10 1zM407 0h3 2l-2 2zM470 0zM486 0h4 3l-3 2zM639 0h1 1l-1 1zM830 9l5 1 5 10-6 20-4 5-8-5-2-20 7-10zM980 8l3 2 1 10-4 25-2-25 1-10zM1009 0h1 1l-1 1zM1169 0h1 2l-2 2zM1210 10l2 10-2 15-1-15zM1268 0h2zM1330 10l2 10v20l-2 15-2-15v-20zM1449 0h1 1l-1 3zM1487 0h3 3l-3 4zM1720 7l2 3 1 10-2 120 1 90-2 50-2-20-1-20 1-90-1-80-1-50 1-10zM1810 9l1 1 1 10-2 34-3-14-1-20 3-10zM1859 0h1 1l-1 1zM1880 0h1-1zM1910 0h1-1zM1980 7l13 3 3 10-1 70 1 110-2 40 1 60-2 70-3 67-3-7-4-10-3-18-2-112v-40l-1-40 2-50v-40l-2-50v-50l1-10zM2090 0zM2130 8l2 2 1 10-2 60v50l-1 19-2-29 1-40-1-60 1-10zM2190 5l6 5v10 200 40 20l-4 30-2 45-1-15-1-30-3-40-1-50 1-80-2-80 1-50zM2400 9l1 11 1 20-2 49-2-69zM2409 0h1zM2428 0h2 2l-2 2zM2545 0h5 4l-4 5zM2626 0h4 1l-1 2zM2649 0h15l-4 6-10-4zM2673 0h21l-4 7-10-1zM2727 0h3 1l-1 2zM2804 0l-4 2-8 8v40l-2 17-2-17-1-10 2-40zM2839 0h1 2l-2 2zM2850 3l7 7 1 10-4 150v190l-1 50-3 23-4-13-1-10-4-110 3-80-1-50 1-50-1-50 1-60zM2884 0l6 5 2 5-2 99-4 11-6 39-4-69 2-30-2-50 1-10zM2900 0zM2910 9l1 1-1 11zM2927 0h5l8 6 9 4-1 90 1 30v30l2 40-1 14-3 16-1 10v20l1 30 3 20v23l-1-3-9-9-3-11-5-60 1-40-3-20-3-10-2-10-3-20v-10l1-10 2-10 5-10 2-10 2-20-2-30-6-40zM2956 0h4 6l-6 4zM2990 7l2 3v10l2 180-1 20-2 20 2 80-3 38-2-58 2-60-3-40v-40-40-100l1-10zM3014 0h9v10l-3 22-2-22zM3038 0h3l3 80-1 50-1 60-2 20-2-10-2-60-1-50 2-50-1-30zM3060 0v1zM3125 0h15l10 14 2-4 3-10h15l-10 17-4 3-2 10-1 10 2 50v60l-5 50v30l3 50-1 70v30l-2 24-4-14-2-10-4-12-4-68v-30-10l-5-20-1-10v-40l1-10 3-20v-10-10l-4-20-2-110zM3183 0h10l1 10-1 20-3 16zM3205 0h42l-7 5-10 2-10 3-10-1zM3253 0h22v30l-2 60v20l6 40 3 80v70l-2 15-3-5-4-30-3-9-2-21v-10l2-22 3-8 1-10-4-4-3-26v-20l1-40-1-60 1-30-1-10-7-7zM3315 0l2 10-1 10-3 10-4 10-2 20 1 30 4 30v10l-1 10-4 20-2 20 1 40-2 30 1 40-1 110 1 20 2 30-1 10-2 20 4 20 1 10-2 80-6 60-1 29-4-59-1-50-3-50v-10l1-10 4-20-2-20-1-10 3-30v-30l-2-80 2-60-3-40 4-100-2-40v-20l1-30 2-10 7-10zM3345 0h5 6l-6 7zM3377 0h22l-8 10-1 3-1-3zM3444 0l-4 6-7 4-2 10-1 17-10 13-5 10-5 5-1-25 1-20 3-10 7-2 6-8zM3450 9l1 1 2 10-1 40-2 25-3-65 1-10zM3455 0h23l-5 10-3 3-2-3-8-4zM3483 0h7 8l-8 9zM3545 0l-1 30-1 10-3 11-10-37-3 36 1 120-4 110-1 40-1 40v20l1 30 3 20 4 10 5-10 5-18 4 28-4 8-3 2 4 20-1 2-2 8 2 12 4 8 1 10-5 6-4 14-6 19-3-9-1-10-2-30v-10l4-20-1-10-7-9-3-1-4-10 4-20 1-10v-30l-2-20v-80l-5-80 3-60 1-110 1-20 1-10h9l4 9 4-9zM3594 0h9l7 30 3 70v20l-2 20v20l1 20 4 30-2 60 3 10 3 5 1 5 1 20-1 10-5 20-3 20-1 10 2 10 6 10 10 34 10-5 10 12 10-8 10 3 6-16 4-6 3-24 4-50 2-10 1-2 2 22 4 30 2 20 2 40-1 40 1 8 2-8-2-40 2-10 7-20-2-30-3-60 1-10 5-17 4 27 3 50v10l-3 20 6 9 3 11 7 18 10-9 4-19 6-50 1-10-2-30 1-10 5-30-2-20 1-50 3-20 3-14 2 14 4 60-1 20v10l5 20v15l-1 25 1 30-3 30v10l1 10 2 10 7 10 2 10 1 4 5-4 3-10 2-2 12-48 3-30 1-50 3-20 2-10 1-10-5-90 1-10 2-10v-2l-1 2-9 4-5-4-5-6-2-24 2-31 2 11 5 10 3 3 1-3 2-10 1-10-1-10-3-14-6 4-4 8-4-58v-10l4-8 8 8 2 6 4-6 1-10h10l2 10 3 7 1-7 8-10h12l-7 10 2 40-2 50 1 50 5 66 3 4 7 8 2-18 1-20 1-50 1-40-3-60v-20l1-10 7-9 6 9-1 90 2 70-1 50 3 70-4 80 3 30 2 11 2-11 1-30-3-80 2-80-1-50 1-150 8-8 4-2h10l-4 10-1 10 1 195 2-35v-60l3-80-1-20-1-10 7-1 9 1-2 10-2 60v30l3 50-3 80 1 40 1 90 3 31 10 14 10-1 10-4 10 4 3-14 1-20-1-30 1-50 2-40-2-30 3-40-1-20 1-20-3-40 1-20 5-36 2 26 1 30-1 40 2 30-1 20v30l-1 30 3 40 3 70 2 18 7-8 3-2 6 2 4 3 1-13-1-24-3-26-1-20 1-10 3-4 2-16v-10l-2-10-5-10-1-10v-90l-2-50 2-70-1-10-3-5h-10l-9-5h32l3 10 1 50 2 40 3 50 7 40v10l-2 20-1 110 2 30 2 18 4-8 2-70 4-14 4 14 1 10 1 60 4 8 1-8 2-30 1-50 2-40 3-120 1-17 4 57-1 50v30l7 50v10l-2 40v10l2 21 6-11 2-10 1-20-2-10-4-10-2-10v-10l3-10 6-17 1-13 1-20-2-15-2-35 2-10 6-10 3-10 1-10 1 10 2 10 10 30 1 10-1 20-4 20 1 19 10 10 7-9 3-10-1-20 1-18 1 18-1 20 2 30v40l5 30 3 9 4-9 2-20 5-40 6-60 5-30v-10l-2-7-5-13-1-10 2-10 4-11 10 11 1-20v-50l1-80 8-9 4-1h18l-3 10-2 10-1 30 2 80v20l-1 10-7 20 1 10 9 20 6-10 1-10-1-10-3-20-1-20v-30l3-60-1-40 6-2 9-8h3l8 8 12-8h46l-8 5-4 5-1 10v30l2 70 3 50-1 40v70l1 5 4 5 3 10 1 10v40l2 13 1-13v-40l1-30-2-21-3-9-2-10-5-70 2-10 2-10 2-10v-60l2-70 2-3 10-6 10 8 10-5 4-4h20l6 3 10-1 10 8 10-7 3 7 3 30 4 10 3-40 3-10h12l-2 10 2 50v40l2 40-1 50 1 38 1-38-1-50 3-40 1-90-1-10h12l2 10 2 40 3 20 1 30 1 10 6 30 10-37 10 12 2-15-2-65-3 5-7 2-2-12-1-10-7-6-3-4-4-10h16l1 10 10-2 20 1 4-9h21l5 2 10 6h10l4 2 2 20-2 10-4 3-1 17 1 23 5-13 5-16 2-44 8-4 10 2 10-5 10-1 20 4 8-6h10l12 2 10 5 9 3 4 10 2 10v10l-1 20-4 10-1 10v10l1 16 6-16 4-8 1-22 1-50 8-7 9-3 11 4h10l9 6-1 30 2 21 3-21v-20l-2-10 2-10h11l6 4 10 2 10-2 10 3 10-2 10 2 20-2 10-3 10 7 10-2 10-7 20 2 10 3h10l10-5 10 4h10l10-3 10 1 10 3 10-1 10 2h10l10-4 10 2 10 1 10-4 10 1 10-2h15l5 1 6-1h4v486l-10-2-10-8-10 1-10-2-10 4-5 21-5 23-10 12-5-35-5-15-10 50-10-19-10 26-4-12-5-10-6-10-5-16-3-4-7-7-12 27-8 19-10-42-3 3-7 13-7-3-13-8-10-19-10-4-3 11-2 10-5 46-6-16-9-20-5-22-3 32-2 10-5 19-6-9-4-7-10-14-10-31-5 12-5 7-3 13-7 19-5-9-8-20-7-24-10-4-3 28-7 27-10-12-10 8-10-18-6-5-4-12-2 12-8 33-5-13-5-9-10-11-5-20-5-12-2 2-8 11-10 54-10-44-5 29-5 18-5-18-5-26-10 6-4 10-6 18-9-8-1-2-3 12-7 9-5-19-5-24-6 34-4 18-10-44-10 16-5-10-5-24-3 24-3 10-14 29-2-9-3-20-5-16-10-16-3 22-2 30-5 38-3-8-3-20-6-20-5-10-3-4-5 14-1 10-4 35-6-45-4-10-3 10-4 30-3 14-5-14-5-20-6-10-4-15-5 35-5 23-6-23-4-8-6 8-2 10-2 11-4-21-6-24-10 5-4 9-6 19-10-22-6 23-4 8-10-3-4-5-6-4-10 8-4-14-2-10-4-43-2 13-2 10-6 14-2 16-3 30-5 15-7-15-2-10-2-30-3-10-6-7-7 7-7 20-5 20-1 9-3-19-3-50-4-30-4 30-1 20-1 10 2 30-6 82-4-42-1-70-5-35-4 5-4 10-1 10v30l-1 11-1-11v-30l-1-10-4-20-4-14-5 4-5 5-4 25-2 30-4 25-10 4-8-9-2-6-7 6-3 1-4-11-2-10-2-40-2-13-3 63-7 60-6-10-4-6-10-29-4 15-14 20-2 12-7-42-3-11-4 11-4 10-2 2-10-39-7 37-2 20-1 62-1-62-2-20-7-38-10-10-3 18-1 10-1 30-5 4-3-4-5-10-2-6-1-14-1-40-5-30-3-16-2 46-6 90-2 50 2 50-1 40 1 40h-4l1-40-1-50 2-30-2-70-9-60-3-70-2-10-4-11-8 11 1 10v20l-3 27-6-7-4-10-8 30-2 4-3-14-4-10-3-3-3-7-4-20v-10l1-10-4-7-10 7 4 10-2 10-2 3-2 17-1 20-1 40-6 44-1-14-4-20-3-30-2-12-3 22-3 10-4 4-3-14-2-20v-50l-5-10-3 10-2 30-4 40v50l-1 17-10-6-6-71-4-28-3 8-7 44-4-24-1-10-1-40-2-10-2-5-2 5-2 10-2 20-3 50-1 7-2 3-3 10-5 41-4-31v-30l-6-38-7 48-3 9-3-29-5-30-1-60-1-9-2 9v10l-2 20v20l-1 10-5 9-2-9-2-10-4-40v-10l-2-10-4 10 1 10v30 10l-4 30-1 30-2 14-5-4-4-10 3-30v-10l-3-30v-30l2-10-6-10-7-8-4 8-2 10 2 10v10l-3 40-3 12-4 28-4 50-2 39-3 11-7 14-4-64-3-20-4-10-3-10-2-20-1-20v-50l2-20-1-10-4-10-6-10 6-27 3-3 7-4 10 2 5-28-5-7-1-3-2-10-1-20v-30l3-30-1-40 1-30v-30l1-40-2-60 2-27 1-3-3-40zM3840 249l-1 21 1 13 4-3 1-10-1-10zM3850 299v1 1-1zM3860 482v8 7-7zM3970 482l-2 18 2 25 2-15v-10l-1-10zM4090 297l-5 13-3 10v10l8 28 6-18 2-10-1-10-2-10zM4220 10l-1 10v60l-1 50 1 70-1 40 2 81 1-41 2-30v-20l-2-40 3-50-2-50v-70zM4300 5l-5 5v10l2 30 4 30 2 30 5 40 2 27 2-87-1-80-1-2zM4460 10h-2l-3 10 3 20 1 20-1 10-5 20-1 10v10l3 30 5 24 1-44-1-60 1-40zM3850 339l-2 21 1 10 1 5 1-5v-10zM3624 0h20l-4 57-2-37-2-10-6-4zM3652 0h8 7l-7 6zM3674 0h6 7l-7 4zM3726 0l-11 10-1 10 1 20v20l-1 10-4 19-3-19-2-20-1-20v-10l-1-10-3-3-4 3 1 30-2 60-3 20-2 8-5-58v-20l3-40 2-5 4-5zM3757 0h14l-11 9zM3907 0h3 9l-9 10zM3940 9l1 1v10l-1 9-1-9zM4070 9l1 1 2 10 1 10 1 80-1 10-3 20-1 9-4-59-1-60v-10l3-10zM4075 0h5 9l-9 7zM4092 0h44l-6 5-10-1-9 6-1 5-1-5zM770 20v-3 3 2zM920 10l1 10-1 21-1-21zM1130 20v-3 3 7zM3090 20v-1 1 2zM3370 21l1 29-1 60 3 40 2 60 1 30 1 60-3 90 6 34 8 6 2 10-10 20-3 10-1 10 4 10 1 40-1 14-5 16-2 10 1 40v10l-4 16-2-26 1-40-4-30-1-20 1-20 3-20-2-50 3-50-2-50 1-40-1-110 3-70-1-50zM1510 38l2 22 1 70-3 76-1-16-1-30 1-100zM820 47l2 3v10 20l-2 17-1-17zM1130 45l1 25-1 30-1-20zM4010 60l4 10v10l-1 10-3 5-3-5-1-10 1-10zM460 64l1 26-1 56-1-56zM3470 63l8 7 1 10-3 30 1 20 2 10 11 9 2 21 2 70-1 30 1 40-2 40-2 21-10 2-1 7-5 10-4 5-4-15-1-10v-10l1-20 4-30v-10l-4-30v-40l1-10 10-20-3-40-3-10-1-1-3-19v-10l1-40zM770 75l2 65-2 32-1-22zM3210 70l3 10v30l1 10 4 10 2 2 3 18 4 20v10l-7 4h-10l-2-34v-50l1-20zM3240 80l1 20-1 25-1-25zM3490 70l1 20-1 25-5-15-4-20zM3090 90l1 20-1 20-1-20zM3640 100v-3 3 1zM3020 108l3 12 1 10-1 10-3 11-2-21v-10zM3070 104l1 26-1 21-1-21zM1130 116l1 24-1 17-1-17zM2790 117l2 33v20l-2 15-1-45zM3180 112l1 8-1 18-1-8zM3710 117l1 3 2 10-3 6-2-6zM710 127l1 23-1 24-1-24zM2480 130l3 10v10 10l-3 17-3-27 1-10zM3430 127l3 43-3 52-3-22v-20l1-30zM3540 123l5 27 2 30v10l-6 20 4 30-1 10-4 10-2-20 2-30-5-30v-10l2-30zM4020 132l2 18v10l-2 14-2-4-1-10 2-20zM2230 146l1 4-1 13zM3700 156l1 14-1 20-4 10-2 10-4 35-3-15-1-10 2-40 2-24zM2880 163l4 7 6 1 2 29-1 20-1 9-10-17-1-22zM2970 169l1 21-1 22-1-22zM3660 167l2 3 2 10-1 20-3 16-1-6-1-20v-10zM4100 169l1 1 1 10-2 3zM3460 174l2 6 1 10-3 11-2-11v-10zM3640 180l2 10 1 10v20l1 20v10l-1 10-3 6-2-26 1-40zM3090 208l3 12 1 10v20l-1 20-3 33-3-33v-20l1-20zM3340 236l2 24v10l-2 25-4-25 1-10zM3920 232l1 8 1 20v30l-2 20-2-20-1-20 1-20zM1510 243v26l-1-9zM3410 269l1 21-1 20 3 40v40l2 50v20l-2 20 4 10 3 17 4-7 1-20 2-10v-30l3-71 3 51 3 30 5 20 1 10 3 10 5 10 2 10 1 10v10l-3 9-5 11-5 21-10-7-10-22-4 8-3 10v20l-1 10-2 6-6-26-4-5-1-5-2-20-1-50 4-9 1-1 1-50-3-30v-20l6-30 3-20 1-20-1-20zM3560 261l1 19 3 20 2 20-2 20-4 14-3-14v-10zM3660 279l3 11v10l-2 40-1 12-8-52 1-10zM3430 299l2 21-2 34-2-24 1-20zM2970 308l1 12-1 20-1-10zM3200 308l1 12-1 13-1-13zM3940 333l1 17-1 9-1-9zM2890 343l3 17 1 20v10l-4 15-3-15-1-20v-10zM2790 368l3 42v50l-1 10-2 8-2-8-2-10 2-60zM3240 383l2 17 1 10-1 40-2 9-10 2-6-11 2-20 4-20 2-20zM3010 394l1 16 1 50-2 8-3-8-1-10 3-20zM3090 402l4 18 4 30v10l-3 10-5 10-3-10-1-10v-10l2-30zM2940 417l2 13v10l-1 20-1 3-1-3-2-10-1-10 1-10 2-10zM3490 411l6 19 2 10-1 10-2 20 3 30 1 60v10l-6 30-3 39-4-59-5-40v-30l2-30-2-40 1-10 2-10zM3140 422l4 8 4 20v30l2 3 2 7 1 20-2 50 1 40-1 10-6 30-5 39-4-59-6-45-3-15-3-20-5-20-1-10 1-10 1-6 10 17 3-21 2-10v-30zM3340 420l1 10 5 20 1 20 3 9 1 11-1 20 2 30-1 40-1 12-3-12-2-20-5-11-6-19 1-20-2-20 3-10 2-10zM2890 435l3 25v10l-3 16-5-6-2-10 1-10zM2720 449l1 11v10l-1 5-1-15zM3210 466l9 24 1 6 2-6 8-8 8 8 2 4 1 6 1 10-2 11-10-5-1 4 1 10-2 50-2 10-6 8-11-8-7-10-2-9-1-11-1-20v-20l6-20zM3030 479l1 1v10l9 3 3 7 4 20v10l-1 10-7 30-5 50-4 29-7-39-2-30v-30l-1-10-3-10-1-10 4-4 1-6 9-20zM3470 477l1 3-1 15-1-15zM3280 487l5 23-1 10-3 30-1 23-4-63 1-10zM3510 487l1 3 2 10v20l-3 14-2-4-2-10v-10l1-10zM2890 491l5 9 5 11 6 9 3 10-1 10-4 20-4 15-10-7-2 2-8 14-2-4-1-10v-10l3-20v-10l-3-10-1-10 4-12zM2950 492l3 8 2 10v10l-2 20v10l1 40-2 10-2 6-8 44-1 20 2 30v10l-2 10-1 5-2-15 1-50-4-40-1-40-4-40-2 20-4 60-4 16-4-26-2-50-3-20v-10l1-10 2-10 6-17 10 27 10-26zM2970 492l7 8-4 30-3 17-2-7-2-10-1-10 1-20zM3090 490l10 10 2 10v10l-2 7-4 33-2 30-4 29-3-9-3-10-4-22-10 33-4-21-6-52-4-8-1-10 2-20 3-6 10 15 9-9 1-2zM3260 500v-1 1zM3570 491l2 9 2 20-1 10-1 10-5 10-3 10-1 20-3 11-2-11-2-20-6-14-2-16 2-8 10-1 6-21zM2610 509l3 11 1 10-2 20-2 13-2-23v-10zM2720 506l6 4 4 10-3 30-5 10-2 2-6-12-4-10-1-10 1-10 6-10zM2800 504l4 6-2 40-2 10-5-10-5-11-4 1-6 4-1-14 1-5 6-15 4-4zM2990 507l1 13-1 19-1-19zM3470 502l2 8v10l-2 3-1-13zM2500 519l3 11 1 10-1 30v40l-3 37-1-7-4-10-5-5-2-5-3-20-1-20 2-20 5-20 1-10 5-10zM2570 515l8 5 1 10-5 40-1 50-3 9-3-9-2-10-1-10 1-30-1-20-4-17-10 5-1-8 1-10 10-1zM2660 512l5 18 1 10-13 30-3 2-3-22v-10l2-10 7-10zM2760 514l1 6 1 10-2 15-2-15 1-10zM2160 529l7 11 3 10 2 30v40l2 40-1 10-13 52-4-12-1-20 1-50v-80l1-20zM2290 529l2 11-1 10-3 10-1 20 2 40-3 30-4 10-2 1-5-21-1-20 1-70 2-10 3-9zM2330 521l3 19v10l-1 10-2 12-2-12-2-20v-10zM2450 521l3 9 4 20-1 40v10l5 30v10l-1 27-10 24-3-31-2-40-1-80 1-10zM3320 527l1 3v10l-1 11-1-11zM2080 537l1 3-1 14zM2310 532l2 8v10l-2 15-2-5v-10-10zM2370 539v50l-5 11-5 13-2-33v-10l2-12 9-8zM2630 531l5 9 1 10v10l-1 20-5 27-3-17-1-20v-20l1-10zM1820 548l8 2 2 3 2 7-2 7-2 13-1 20v20l3 20 3-10 5-50 2-5 2 45-2 67-3 23-4 20-3 6-3 4-3 10 1 10-8 20-3 10-1 10h-7l-2-30 1-20-3-10-6-10-6-12-9 32-1 4-4-24-2-10-4-8-2 8-3 20-1 10 1 20-1 30h-10l1-30 1-20 1-140 3-26 2-4 3-10 5-8 10-2 3 10 4 40 5 20v10l-2 30 2 10 8 4 6-44v-10l-2-10-7-20 2-40 1-5 10 4 7-9zM1770 627l-1 13 1 11 3-1 3-10-4-10zM2020 543l2 7 2 10 1 30v20l-5 49-10-57-5-22 1-10 4-6 1-4 4-10zM2050 545l2 15v20 20l-2 16-3-16v-20l1-20zM2120 545l10 2 2 13 1 40-1 20-2 29-4-9-6-4-1-16v-10l3-30-2-18zM1710 551l2 19v30l3 50-1 40 1 30-1 30-1 50h-5l-3-80 1-40v-60l3-60zM1950 560l1 10 1 10-2 27-3-27v-10zM1540 568l3 12 1 10 4 70v10l-5 50-1 40-2 40h-14l3-50-3-50v-30l1-20 5-70 4-10zM1610 564l2 6v10l-2 12-1-12v-10zM1500 578l2 62 2 30v30 20l-3 30 1 50h-3v-50l-4-30v-10l3-110zM1580 579l1 11-1 20-1-20zM2660 578l5 32-1 10-4 12-2-12-1-20v-10l2-10zM1180 590l5 20 1 10-2 40 3 30-3 40v30l-2 40h-3l-2-40 1-30-2-50 1-50zM1220 590l5 10 1 10-2 30v10l2 30-4 40 2 40-1 40h-13v-23l4-37 1-20-1-40 1-20 2-20v-10l-2-20v-10zM1740 588l2 22 2 100-1 40 1 20v30h-15l1-40 1-10-3-40-1-50 1-20 2-35 1-5zM2550 580l3 10 2 10v10l-3 10-2 4-2-4-2-10v-10l1-10zM4160 583v29l-1-12zM1280 590l5 80-1 20-2 40v40l-2 20-2-20v-40l-2-30-1-30 2-30zM1640 594l1 6 1 30 3 30v10l-3 30-1 20-1 30 2 20-2 30-1-30 1-20-1-30-3-50zM2970 596l1 14-1 13-2-3-1-10 1-10zM1930 609l1 11-1 34-2-14v-20zM2240 610v-7l2 7-2 7zM2400 604l1 16-1 16-1-16zM2610 600l1 20-1 11-1-11zM2990 603l1 7 1 10-2 24-1-24zM760 614l10 14 1 22 3 40v30l1 30-1 50h-15l-9-35-10-4-3-11-1-20 4-43 3 13 7 40 5-20 2-40 2-10v-10l-1-30v-10zM940 618l2 32 1 60-2 50v40h-3v-30l-2-20-3-20-6-20v-10l1-20 6-20 3-30zM1440 614l4 16 2 20-1 10-4 20-1 9-2-39zM2890 616l4 14 1 10-2 10-3 7-2-17v-10zM420 628l2 12 1 30 3 40 4 21 3 9 1 10-4 13-6 37h-10l-4-22-10-3-3-25-1-20 4-68 3 18 2 40 1 10 4 14 3-14 3-20 2-70zM1610 625l5 15 5 30 1 20v80l-4 30h-9l-1-50-2-40 2-50zM1970 620l2 10 1 10-1 40v30l-2 22-1-22v-70zM500 633l6 17 4 8 2 22v70l-2 23-4 7-6 5-8-15-2-4-10 20-2-16-2-20 2-60 2-16 5 26 2 10 3 6 3-16zM610 631l10 10 2 19 1 20v30l3 40-3 50h-18l-1-50 2-30 2-80zM650 634l5 6 3 10 1 10-1 30 2 14 1 26v20l-2 50h-16l4-100-1-40v-10zM1480 634l4 16 1 10-1 50-4 15-3-15-1-10-1-20 1-20zM1900 637l5 13 3 10-2 10-3 10-3 28-1-38zM2080 630l3 20 1 10-4 50-3-40v-10zM3690 634l1 6-1 15zM190 646l2 4 2 10 4 20 1 40 1 18 1 2 9 8 2 2v10l-2 6-10-2-5 36h-10l-4-30-1-20 4-30 3-60zM350 650l4 30 3 40 4 20 2 10-3 10-3 10-2 10-2 20h-8l-2-10-3-10-10-1-10-8-6 9-4 17-3-17-4-20-1-10 4-20 1-40 3-36 3 26 2 30 1 10 4 11 8-11 5-10 7-10 5-20zM890 645l6 35-1 40 5 6 2 14 1 10-3 28-3 2-4 10-2 10h-1l-1-40 1-40-1-40zM1030 649l2 11v10l-2 18-2-18v-10zM1370 646l2 24-1 20-1 9-3-9v-10l1-20zM2730 650zM230 656l4 4 4 10 2 9 1 11-1 40 1 20-1 16-1 4-9 15-5-15-3-10v-10l3-30v-40l1-10zM460 656l3 24 1 10v60l-2 50h-4l-3-20-5-27-2-3v-10l2-11 4-39zM1090 655l2 5 8 5 2 15 1 20-2 40 2 20-1 40h-7l-6-40v-30l-2-20-1-20 1-10zM1150 658l2 22-1 20-1 13-5 7-2 10-3 16-1-36v-40l1-7 5-3zM1300 660l2 10 1 20-1 20-2 15-2-15-2-20v-10l1-10zM1400 651l3 19 2 30v40l1 10 5 10 2 10 1 10 1 20h-13l-2-12-3-28v-20l1-40-2-30 1-10zM1860 656l2 14-2 32-1-32zM2130 650l2 20 1 20-3 74v-14l-8-40-1-10v-10l4-20zM100 668l10 1v1 25l-3 15-1 20 2 20v20l-1 10-5 20h-3l-2-40 2-70zM810 667l2 13 1 40 2 30v10l-1 10-4 14-4-24v-10l2-30 1-40zM1420 664l1 16-1 31-3-11-1-10 2-20zM1920 664l5 6-2 20-3 13-5-33zM10 673l10 10 5 7 1 10-1 50-3 50h-21l-1-24v-100zM40 674l4 16 1 10 2 30 3 24 3-14 2-20 2-10 3-9 10 7 1 2 3 10 2 20 2 10-5 10-3 1-10-2-4 1-4 10v20l-1 10h-14l-2-50-1-40 1-20 3-10zM690 674l1 6 2 20v50l-2 50h-2l-2-40v-50l1-20zM840 673l1 7-1 18-1-18zM860 671l2 9 2 70-3 50h-2l-4-50 1-20zM3030 671l2 29 1 50 2 20v30h-6l-1-100zM4200 681l1 29-1 21-1-31zM140 697l1 3 1 10 1 40-2 10-1 3-5-3v-10l1-10 2-30zM160 698l2 52-2 16-2-6-1-10 1-40zM990 699l4 71 1 10 5 5 1 15h-5l-3-10-13-10v-22l4-18 4-30zM1440 692l3 28v10l-3 20 1 50h-2l1-50-1-30zM2020 698l1 22-1 24-1-24zM2220 697l1 3 1 10-2 8-1-8zM2550 692l1 18-1 15-1-15zM3300 692l1 78-1 24-1-24zM710 706l1 24v20l-1 4-1-24zM280 713l4 7 6 7 6 23-6 10-7-10-3-6-1-14zM260 725l1 15-1 13-1-13zM580 728l4 12 2 10-6 44-2-34v-10zM530 740h1l8 10-9 21-1-11-1-10zM2450 738l1 2v10l2 10-3 11-1-1-1-10 2-10zM840 746l1 14-1 20-1-20zM2920 752l2 8v10l-1 30h-1l-1-30zM2360 761l3 9 2 10 1 20h-11l2-20zM2680 763l3 17 1 20h-9l2-20zM2270 776l3 4 1 10v10h-6zM3090 775l3 15 2 10h-8zM3610 774l2 26h-6l3-20zM4140 775l1 25h-2zM1480 785l1 15h-2zM1830 786h10v14h-11zM2420 783l2 17h-3zM2440 789l1 11h-2zM3770 788l1 12h-4zM2330 800v-3 3zM4070 800zM4200 800v-5 5zM4309 800l1-9 3 9h-3z"/>
<path fill="#f0bb9e" d="M255 0h5 2l-2 1zM489 0h1zM2190 7l3 3 2 10-2 240-1 20-2 14-2-14-1-20-1-50v-70l-2-80 1-40 1-10zM2677 0h3 8l-8 3zM2850 8l2 2 2 10v20l-2 180v80l-2 72-1-22-3-40v-20l1-60-1-60v-130l1-20 2-10zM2940 10l3 10-1 70 1 40-3 58-2-18-4-20v-10l3-30 2-20-1-20-3-50zM3158 0h2 4l-4 6zM3209 0h12l-11 2zM3268 0h2 1l-1 2zM3349 0h1 2l-2 2zM3383 0h7 4l-4 5zM3458 0h13l-1 2h-10zM3490 0zM3520 4l3 6 1 10-2 150-2 42-2-42-1-130 2-30zM3657 0h3 3l-3 3zM3679 0h1 1-1zM3759 0h1 2l-2 2zM3860 7l2 3 1 10v10l-3 60 3 90-3 73-2-23-1-40 3-100-3-40-1-20v-10l2-10zM3891 0l-4 10v160l2 90-3 50-1 40-2 10-3 10-4-40-3-50v-260l1-10 6-6 9-4zM3967 0h3 8l-8 2zM3990 4l3 6v10l-1 70-2 20-2-20-1-80zM4078 0h2 3l-3 2zM4160 6l3 4v20l-2 40-3 30 1 30-5 30-2 20 2 40v10l-4 32-2-12-1-20v-60l-2-90 1-60 2-10 2-2zM4210 6l5 4v10l-1 100-2 60 2 40-1 40 3 80v40l2 30-1 10-4 20 3 10v10l-2 20-3 20-5 20-2 10-4 31-8-61-2-30-3 20-7 9-6-9-1-10v-30l7-8 9 18 1 10v-10l5-20-5-11-5 1-5 4-1-4-4-20 5-24 2-16 2-30 1-60-1-40v-60l-2-30-2-20-1-10 1-88 1-2 9-4 3 4 1 30 6 49 2-19 1-20-3-40 1-10 3-10zM4217 0h14l9 3 2 7v80l-2 34-5 6-5 8-2-28-1-20 1-30-3-50zM4244 0h6 2l-2 1zM4270 9l2 1 3 10 2 10v10l-3 40-4 19-8-9-2-10 1-20 4-40 3-10zM4370 2l2 8 2 20 1 30v90l-2 70 3 60-2 60 4 60 2 6 3-6 2-50 1-20-2-50 2-60-1-80 2-120 1-10 2-6 2 6 1 10 1 30 2 30 3 70-2 30v20l2 30 1 40 1 20-4 40v10l1 20 2 15 4-5 4-10 8-30 4-7 4 7 3 10 3 6 3 14 4 20 1 10v20l-3 10 1 10-2 10-2 10-2 3-4-13-2-10 2-10-5-10-1-4-1 4-6 10 3 10 1 10-1 20-6 41-9-11-11-10-4 10-6 10-7-10-3-14-2 14-8 23-5-3-5-1-2-9-2-20v-30l-2-20-4-9-3 9-3 50-4 25-5 5-5 4-10-4-7-30-3-10-10 30-3-10-2-20-1-10 3-30-4-30 1-20 3-10 3-3 2 3 4 10 4 11 10 5 1-6 1-20-1-40 1-100 1-50 1-80v-70-20l6-4 11 4 5 20 4 10 3 10 4 60-2 40 1 40 2 20 2 17 10-7 1-10 1-20-2-40 2-40 1-40 4-50zM4330 234l-2 36 2 37 2-27v-30zM4370 421l-2 9 2 11 3-11zM4390 417l-2 3-2 10 4 9 4-9-2-10zM4407 0h3 3l-3 4zM4457 0h9l4 2 10 3 8 5 2 5 4 5 1 10v60l5 70-1 40 1 20 1 10 4 10 5 7 3-17 1-20-2-100 5-80 1-10 2-5 10 3 5-8 5-3 10-2 10 1 10 2 10-2h10l10-2 10 6 5 10v10l-4 30 2 30 6 60v10l-2 30v20l3 79 3 11 5 10 2 2 2-12 1-10-1-30v-40l-1-50 3-90v-60l2-10 4-4 8 4 2 6 3-6 7-2 9 2 3 10-1 40-3 40 1 30 1 13 2 7 8 40 7-30 5-50v-20l-1-40 1-30 2-10 6-3 10 3 10-4 14 4 5 10 1 14 10 4 2-18 4-10 4-1 10-1 10 2 10 10 7-10 23-1 10-4 8 5 1 10 1 19 1-19 3-10 16-7 10 3 10 1 10-3 10 1 10 3 10-2 10 2h10l10-2 20 1 10-4h10l20-2 10 3 10-2v452l-10 5-10-14-10 1-10 3-10 7-5 14-5 20-10-10-10-22-10 45-10-15-4 2-6 8-10-3-5-15-5-19-10-4-3 3-5 10-12 27-4-17-6-15-9-5-1-2-10 2-10 10-10-24-6-6-4-10-1 10-8 30-1 10-10-3-4-17-3-10-3-6-6 46-4 19-5-9-2-10-3-17-4-3-6-3-6-17-4-18-10 21-8 47-2 9-3-9-3-10-6-40-10-30-8-9-2 9-5 60-3 18-10-25-5 7-5 10-10-31-5-9-5-4-2 4-4 10-4 17-10-8-7-9-3-6-3-14-3-20-4-12-10 5-4 47-6 36-8-36-2-16-3 16-4 40-3 15-3-15-2-20-3-10-2-7-10-4-2 11-8 21-7-31-3-23-6 33-3 30-1 5-4-35-6-30-4 40-6 37-5-27-5-42-10 28-10-45-4 39-4 20-2 8-5-8-2-10-1-10 1-30-2-30 1-20 3-30 1-40 4-18 5 18 2 20v20l1 10 2 8 2-128-1-50 2-60v-130zM4530 77l-1 13 1 29 2-29zM4550 408l-6 2 6 7 1-7zM4580 25l-3 25-2 50 1 20 4 13 3-23v-20l-1-40zM4530 185l-2 95 2 54 2-44zM1720 11l1 9-1 49-2-49zM1980 14l10 5 1 21 1 150-2 60 2 50-2 39-4-19-3-20 1-20 4-30v-10l-2-10-5-20v-10l4-30 1-50v-20l-2-10-4-12-1-58zM3830 20l2 30-2 57-5-27-1-10 2-30zM4440 23l4 7 2 10 1 10v10l-2 20-5 27-4-27v-20l1-20zM3690 38l1 22-1 20-1-20zM4290 43l4 47 1 40-1 40-2 20-2 11-3-21-5-20-1-10 1-20 4-30 3-50zM3900 120l2 20 1 20-3 62-1-12-2-50 1-20zM3830 151l2 49-1 40 1 40-2 55-1-25-2-30-2-30-3-20 4-60zM4230 157l6 13 4 6 2 34-1 20-1 17-10-7-2-40zM4410 189l2 11 1 10-1 10-2 6-4-6v-10l1-10zM4270 194l4 26-3 10-1 1-1-11zM4440 190l1 20v10l-1 7-2-7v-10zM3300 210v-2 2 8zM4430 256l2 14v10l-1 20-1 7-2-7-1-20v-10l1-10zM3900 278l1 32v110l-1 14-2-14 1-20-2-40 1-60zM4000 278l1 32-1 35-2-35zM4160 294l3 16 2 30v10l-5 19-7-29-3-20 1-10 2-10zM4280 340v1zM4040 355l3 55-3 31-3-21v-10zM4270 387l2 3 2 10v30l2 20-1 20-3 20-2 7-2-7-2-10-2-30v-10l3-10 1-30zM4070 394l4 16v10l-4 20 5 10 2 10 1 10-3 30-2 10-3 7-4-7-2-10-5-20-1-10 2-19 9-11-3-10-1-10 2-10zM4240 402l2 8 3 20 5 11 2 9-1 10-6 20-3 30-2 10-5 10-5 7-3-17-3-70 3-10 1-20 2-10zM4160 442l9 8-6 40-3 14-3-44v-10zM3960 457l1 3 2 10v10l-3 41-7-21v-10l2-10zM3980 459l20-4 4 5 4 20 2 10 2 10-1 10-1 5-6-5-4-2-7-18-3-15-5 5-5 3-1-13zM4040 451l4 9 2 10v10l-6 86-6-16-4-33-2-7v-10l5-40zM4090 453l1 7v10l-1 11-3-11v-10zM4140 456l3 14v10l-3 32-4-32v-10l2-10zM3690 468l2 12 1 10-1 10-2 8-2-18v-10zM3760 468l4 2 2 10-1 30-3 20-2 9-4-29-5-20 3-10 4-10zM3810 468l1 2v10l-1 7-1-7v-10zM3900 463l3 7 2 20-1 40-4 40-4-30-3-40 1-20 1-10zM3600 478l6 2 4 10-3 10-2 10v10l-1 10-4 10-2-20v-20l1-20zM3490 485l2 15 1 20-1 20-2 11-2-11-1-20 1-20zM3300 492l3 8 1 10v10l-2 70-2 19-4-89v-10l2-10zM3140 504l2 6 2 10v10l-1 60-3 19-3-29-1-40 1-20zM3370 507l1 3-1 13zM3090 518l1 12-1 4-1-4zM3930 530v-6 6 4zM230 685l1 5-1 16zM1610 688l2 22-2 20-1-20zM1710 688l1 22-1 11zM420 736l2 14 1 10-3 20-3-20 1-10zM650 751l3 39v10h-6zM2359 800l1-10 1 10h-1z"/>
<path fill="#e69677" d="M2190 9l1 1 2 10-1 180-2 65-4-215 1-30 2-10zM3880 6l5 4 1 10v50 190l-1 20-5 39-3-29-1-20-1-250 1-10zM4320 8l5 2 3 10 1 50-3 60v90l-2 50 1 70-5 46-3-36-1-20-1-100 2-50-1-160 1-10zM4470 6l10 2 4 2 3 10 3 30 1 20-1 25-4 35v10l2 50 5 40 2 40-1 60-3 30 1 20v10l-2 9-2-9-1-10 1-20-3-30-2-30-3-37-5 117-3 10-2 4-3-14-2-30v-20-90l-1-40 1-170 1-20zM4550 8h10l8 2 6 10-4 43-2 57 2 29 3 11 4 30 1 10-1 10-4 20v30l-3 40 1 20-2 20-6 40-1 20 1 10-3 13-3-13 1-10-2-40-3-30-3-15-8-5-2-17-1-33v-40l-3-60 1-20 3-30 1-30v-30l-3-20 1-10 4-10zM4600 6l6 4 3 10-1 40 2 70-1 50v70l-2 60-1 10-2 10-4 6-5-6-2-10-1-10-1-50-1-92-3-88-1-60 5-10zM4640 10l5 10 5 44 1-4 9-16 2 16 1 20-1 30-2 25-6-15-4-19-4 19v10l1 20 1 20-2 40-1 40-1 10-4 10-3-30-2-60 1-20 2-30v-110zM4715 10l5-2 6 2 6 10-3 30 1 37 4 13 6 22 3 38 1 20-3 40 2 30-1 10-5 20-3 20v10l1 30 5 28 9-28 11-27 1-13v-20l-1-27-2-3-3-10-1-30 1-30 5-40-1-10-4-30-1-30 4-50 2-4 9-6h2l5 10 3 60 5 80-1 40 2 30v30l2 10 3 10 4-10 1-10-1-30 1-60 4-40-3-30v-20l3-60 1-2 2 2v20l4 50 2 10 2 8 10-26 1-22 1-40 3-10 5-3 4 3 2 10 2 40 2 23 4-23 2-40 4-10 10-5 10 3 10 1 10-2h10l10 3 10-2 10 2h10l10 1v-1l10-2h10l10-3h10l20-1 10 2 10-2v422l-10 5-10-9-10 1h-10l-10 8-10 28-10-4-10-29-10 47-10-15-10-3-10 9-6-24-4-22-6-8-4-6-3 6-7 8-3 12-3 20-4 16-10-31-8-15-9-10-3-6-6-4-4-6-10-2-7-12-3-4-10 58-13-14-7-5-6 25-4 40-5-30-5-19-10-12-4-29-2-10-4-9-10 9v10l-2 10-6 20-2 16-3-16-5-20v-10l-3-10-2-10-5-20-7-50 1-30 3-40-4-30v-10l3-40 2-15 2 5 3 10v20 20l-3 30v10l8 9 1-9 1-40-2-90v-70l1-10zM4730 150l-1 20 1 33 1-3 1-10 1-20-1-10zM4210 11l2 9-1 100-1 22-3-12 1-60-2-40 1-10zM4230 20v-4l1 4-1 4zM4700 10l9 10 1 10-1 30 1 40-5 10-5 2-3-32-1-30v-30zM2850 22l1 18v60l-1 93-1-63v-80zM4150 37l1 3 2 10v10l-3 27-1-27zM4370 31l2 59-2 77-3-47v-30zM4390 72l2 18 1 20-1 40-2 33-2-73zM4520 71l4 89-4 50v10l3 60-1 30-2 23-2-13-2-50 4-50-3-60zM4190 88l3 32v60l1 40-1 20-3 24-2-34 1-70-2-50 1-10zM4660 182l3 18v10 10l-3 7-1-7-1-20 1-10zM4340 240l3 20 1 10-3 40-1 35-3-65 1-20zM4669 250l1-9v9 3zM4210 297l1 33-1 26-3-16-1-20 1-10zM4540 320v-4l1 4-1 4zM4649 360l1-2 4 2-4 6zM4660 375l1 5 6 10 3 4 2-4 4-10 4-5 2 5 2 10-3 10-1 10v25l-10-1-10 3-3-7-3-10-1-10zM4629 390l1-5 2 5-2 5zM4490 401l4 29-4 51-4-51zM4580 417l1 3 1 10-2 21-2-11-1-10 2-10zM4450 440l1 10-1 15-1-15zM4200 464l3 6 1 10-1 10-3 16-2-16v-10l1-10zM3900 486l1 14-1 17-1-17z"/>
<path fill="#d66b55" d="M3880 8l2 2 2 10v50l-1 190-3 30-2-20-1-80-1-170 2-10zM4470 9l4 1 6 3 3 7 1 20-1 20-3 12-2 18v50l3 40-5 50-3 70-1 30-2 20-2-20-2-210 2-100zM4560 10h1l6 10v10l-3 90 1 40-2 70 1 30-4 55-3-25-9-50-3-30-1-30 1-20 2-30-1-110 4-8 6-2zM4600 8l3 2 3 10-1 40 1 70-1 120-1 20-4 27-3-17-2-20-2-140-2-60v-20l1-20 4-10zM5030 6v395l-10 2-10-2-10 2-4-3-6-11-10 4-10 33-10-6-4-10-6-10-10 37-10-4-4-3-6-10-7 10-3 3-10-50-6-13-4-5-4 5-4 10-8 20-4 24-3-14-4-10-5-10-3-10-2-20v-20l-3-7-4-3-3-20v-60l3-40v-10l-6-50v-20l9-60 1-50 4-10 6-3 11 3 9 6 7-6 3-1 11 1 9 8 8-8h2 2l8 7 10-3 7 6 3 31 2-31 6-10h12l10-4 10 1 20-1 10 2zM2190 13l2 7v30l-2 102-2-102v-30zM4320 11l4 9 1 40-2 40-1 50-2 30 2 50-2 49-1-49 1-50-2-140v-20zM4720 13l5 7-1 30 1 30 1 30-2 80 1 60-4 50-1 6-1-6-3-40 1-70-2-100 1-40v-30zM4770 18l1 2 1 10 2 40 1 70-1 50 2 90-2 50-4 14-2-14-5-120v-10l2-30v-40l-4-50v-10l6-50zM4830 11l3 9 1 60 6 50v10l-4 80-3 40-3 14-2-14-2-40-3-90 1-20 2-30v-60zM4640 163l1 17-1 21-1-21zM4769 370l1-1 1 1-1 5zM4800 368v19l-2-7zM4770 384l3 16-3 24-2-14v-10z"/>
<path fill="#c33e3d" d="M5030 9v356l-20-4-10-4-10-13-8-4-2-2-2 22-8 29-10-13-2-6-5-20-3-23-4 43-6 33-10 3-2-6-1-10-3-30-4-15-2 5-3 10-3 30-2 8-4-48-4-30-1-10 2-20-3-22-4-8-2-10-4-11-6 11-3 20-1 5-10 14-5 11-5 4-2-4-3-10-2-10-1-20 1-60-2-50 3-80v-50l4-10 2-1 3 1 11 10 4 50 2 17 3-17 2-40 1-10 4-3 10 1 3 2 2 30 2 10 3 9 5-9 2-10-1-30 4-4 5 4v10 20l2 10 3 7 8-7-1-20 1-10 2-5 1 5-1 30 1 20 5 30 4 44 2-14v-40l4-50 1-30 3-5 10 1 4-6 6-2 10 1h20l6 1 4 2 3-2zM4870 247v15l1-2v-10zM2190 20v69l-1-39zM3880 10l2 10 1 40-1 140-2 38-1-48-2-140 1-30zM4320 19l1 21-1 33-1-33zM4560 17l2 3 1 10-1 40-2 44-6-34v-10l1-50zM4600 12l3 8-1 80 1 40-1 60-2 53-3-53v-100l-1-40v-40zM4470 21l4 9-2 30 2 50v50l-3 30-1 57v-57l-2-70zM4830 24v39l-1-23zM4770 56v66l-1-52zM4720 69l1 21-1 28-1-28zM4870 304l2 6 1 10-3 10-5-20z"/>
<path fill="#aa162a" d="M5030 13v273l-10-24-2 8-4 30-4 11-10 8-10-16-10-6-2 3-3 10-2 30-1 10-2 8-4-8-4-10-3-10-2-30v-40l-4-20-1-20 2-20 4-20 6-60-1-10-3-7-1-23 1-13 6-17 1-10 3-10 1-10 8-10h5l6 3 20 2 10 4zM3880 17l1 3v40l-1 96-1-106v-30zM4860 15l5 5 2 50 3 20 2 30v10l-6 30-3 20v20l1 30-4 34-2-24v-50l-1-30-1-30 2-60-1-40 1-10zM4470 104l1 16-1 17zM4900 112l4 18 6 8 2 12 1 110 3 10 3 30-3 10-6 8-1-8-2-30 1-10v-30l-2-60-2-20-4-11-2-9v-10-10zM4930 131l10 6 7 83v30l-4 30 1 50-4 27-4-7-6-22-7-18-3-10 3-20-1-10 1-10v-10l1-10 2-40 1-50 1-10z"/>
<path fill="#7c0722" d="M4980 15l10 4 3 1 7 11 10 4 10 9 5-14 5-9v224l-10-10-8 5-2 2-10-16-3 4-3 10-1 20-3 8-10 2-4-10-2-20-2-10-2-2-10-6v-2l7-20 3-21 4-59 1-90 1-10zM4930 246l10 2v5l-10 4-1-7z"/>
<path fill="#67001f" d="M5030 47v174l-9-11-1-2-10-3-10-9-10 5-10-5-1-6-1-10v-30l1-70 1-10 10-3 10 3h10l6 10 3 10 1 6 4-26zM5020 123l-3 7-2 10 2 30 3 18 4-18 2-20v-10l-3-10z"/>
</g>
<rect x="171.10" y="1220.10" width="1704.50" height="240.60" fill="#341069"/>
<g transform="translate(171.10 1220.10) scale(0.338867 0.300750)" fill-rule="evenodd" shape-rendering="geometricPrecision">
<path fill="#4a1079" d="M0 0h5030v800h-5030v-722l10-8 20-7 10-14 10-6h10l10 8 10 4 10-6 10-2 10-4 20 11 10 9 10 4 10 8 10-3 10 6 10-2 10-4 10 3h10l10-7 10 13 10 1 7-12 3-7 10 10 10-6 10 7 10-1 10-14h10l10-8h10l10-4 10-13 10-1 10 2 10-4 10 4 6-5-6-6-10 4-10-5-10 3h-10l-3-6-57-1h-40l-10-1-20 1-70-1-50 2-30-1-20 1-60-2zM475 30l-5-10h-10-17l-3 2h-10l-10 1-6 7 6 5h20l10 6 10 2 10-6z"/>
<path fill="#601880" d="M0 0h5030v800h-5030v-617l10-8 10 1 10-5 10-10 20-7 20 4 10-3 20-9 10 7 10 2 10 5h10l10 5 10-1 10 2h10l10-3 10 2 10-1 10-5 10 5 10 1 10-12 10 6 10-2 10 3 10-2 10-5h10l10-6h10l13-7 7-6 20-1 10-1 10 4 10-5 10 8h10l20 3 10-1 10-1 20-10 10 3 10-1 10 4 10-3 20-15 10-1 10-13 10 4 10-2 10 2 10 1 10-5 10-2 10-6 10-11 10-3 10 16 10-5 10 9 10-9h10l10-2 10 4 10 2h10l10 4 20-5 10-1 10 1 10 6 10 1 10-5 20-2 10 1 10 5 10 3 10 1 10 2 10-2 10 2 10-7 10-2 20 3 10-3 10 6 10-3h10l10-3h10l10 2 10-1 10 3 10 1 10-2 10-6 10 3 10-2 10 4 20 1h20l30-8 20 1 10 3 10-4 10-1 10 4 10-1 20 2 10-9 10-6 10 3 10-13 10-1h10l10 12 10-4 10 2 10-3 10 3 10-6h10l10-5 20 5 10-1 10 6 10-6 10-7 10 2 10 7 10-1 10 1 10-12 10 5 10 3 20-6 10 4 10-1 10 8 10 2 10-2 20 1 10-8 10-2 10 7 20-5 10-1 10 4 10 3 10 8h20l10-3 10 1 10 5 10-6 10-13 20 7 10-2h10l20 3 10-1 10-1 10 13 10 3 10-5 10-7 10-3 10 2 10-5 20 10 10 6 10-5 10-15 10-4 10 6 10 10 10-8 10-3 10 8 10-5 10-2 10 1 10 8 10 5 20 3 10 8 20-1 10 2 10-6 10-11 10 17 10 8h10l10-6 10-2 10-5 10-4 10 4 10-4 10 2 10-13 10-5 10 6h20l10 13 10-2 10-8 10-1 10-2 10 2 10 14 10 2h10l10-4 10 4 10 6 10-10 10 5h10 10l10-3 10 1 10-3h10l10-8 20 8h10l10 2 10-1 10 1 10 8 20 3 10 5 10-9 10-1 10-4 10-1 10 2 10 3 10 1 10-5 10-1 10-7 10-2 10 7 10-1 10 4 10-7h10l10-3 10-5 10 1 10-5 10 3 10-3 20 3 10-6 10 1 10-2h10l10-2 10-3 10-1 30-8 10 2 10 1 10-2 10-5h10l20-5 10 11 10-4 20 2 10-1 30-8 10 4 10 11 10 1 10-7 10 4 10-5 10 6 10-4 20-2 20 2 10-5 10-2 10 2 10-3 20 12 10-8 10-5 10 1h10l20 3 10-1 10 2 10 1 10-2 10 3 10 2 10-1 10 2 20-3 10 4 20-2 10-3 10 4 10 1 10 2 10-3 10-4 10-4 10 4 10-6 10 2 10-5 10 4 10-2 10 1 10-1 10-3 10 2 10-13 15-6 5-4 8-6-38-2h-80l-50-1-30 1h-110l-50 1-40-1-50 1-100-1-30 1-70-1-10 1-150-2-160-1-40-1h-40l-20-1-100 2-30-1h-50-50l-20 1h-50l-40 1-20-1-70-1-30 2-50-1-90 1-20-1-20 1-30-1-30 1-50-1-20 1-80 1-20-1h-40l-80 2-50-1h-20-40-20l-20-1-30 1-20-1-40 1-30-1-70 1-40-2-30-1-60 1-50-1-50 1-20-1h-50l-30-1-40 1-40-1-40 1h-90l-50 1h-50l-10 1-50-2-40 1-40-2h-40l-30-1-100 1-60-2-40 1-10-1-20 1-50-1-70 2h-60l-50-2zM3724 20l4 10 2 2h10l10 5 10-2 10 2 10 1 10-7 3-1 7-5 10 1 10 3h10l10-4 10 5 10 2 3-2 7-5 10-1 20 9 10 2 10 6 10 1 10-2 16-10 4-6h10l6-4-46-1-50 1h-80l-20-1z"/>
<path fill="#752181" d="M0 0h5030v800h-5030v-547l20-5h10l20-7 30-1 20-3 10-2 30 5h10l10 2h10l10 2h10l10-2 10-1 10-2 10-3 10 2 10-1 10-7 10 4 10-1 10 2 10-2 10-4 10-1 10-5 10-1 8-2 12-4 10 1 20-2 10 4 10-3 10 2h10l10-2 10 1 10-1 10-2 10-4 10-1 10 2 10-3 12 2 8-1 10-4 10-4h10l10-9 10 3 10-3h20l10-9 10-2 20-9 10-4 10 11 10-7 10 4 10-5h20l10 2h10l10-1 10 3 20-3h10l10 2 10 7 10-2 30-10h10l10 7 10 5h10l10 1 10-3 10 3 10-7 10-1 20 1 10-1 10 5 10-4h10l20-3 20-1 10 1h20l10-8 10 3 10-2 10 6 10 2 20-1h10l20-6 10-2h20l10 1 10-5 10 3 40 5 10-7 10-4 10-1 10-6 10-1h10l10 7 10-2 10 1 10-2 10 1 10-3 10 1 10-2 10 2 10 2 20 4 10-2 10-2 10 1 10 4 10-2h10l10-6 20 2 20-2 10 1h10l10 3 10 1h10l10 1h10l10-4 10-1 10 3h10l10-2 10 1 20 3 10 5 10-1 10 1 10-1 10 1 10 2 10-3 10-6 20 2h10l10 3 10 1h10l20 2 10 4 20-1 10-3 20 1 10-1 10 3 20 3h10l10-6 10-1h10l10 4 10-5 10-2 10 3 10-2 20-1 20 5h10l20 3 20-1 10 1 10-2 10-1 10 4 10 3h10l10-1 10-1 10-3 10-2 10 1 20-5 10-5 10-2 10 3h20l10 5 10-1 10-5 10-1 20-2 10 6 20 3 10-2 10 4 10 2 10-4 10 3 10 1 20-2 10 1 20-3 10-3 10 3 10 1 10-1 10 3 10-3h10l10 3 10 1 10-1 10 1 10-5h10l20-1 10 2 10 2 10-1 10-3 10-1 10-4 10-2 10 4h10l10 2 10-3 20 1 30-8 10 1 10-2h20l10-3 10 1 10-2 20-1 30-5 20-4 10 2 10 1 50-8 10 7 10-4 10-2 10 1 10-1 10-4 10-1 10-1 10 2 10 6h10l10-5h10l10-2 10 3 10-1 20 1 10 2h10l20-4 10 3 10-3 10 3 10 1 10-3 10-2h20l20 3 10 1 10 3 20-4 20 4 10-1 10 2 20-2 20 3 20-1 10 2 20 1h10l10-2 10-1 10 2 10-2h10l10-3 10 1 10-3 10 2 20-3h10l10-8 20-4 10-1 10-2 10 5 20 1 10-3 10 1 10-1 20-7h10l10 2h10l10-5 20 4 10-3h10l30 6 20 2 10-2 20-7h10l10-2 10-6 10-1 10-8 10 4 10-4 10-1 10 2 10-7 10 2 10-3 10 9 20 3 10-9 20-11h10l20-10 10-1 10-8 10 3 20-1 10 2 10-11 20-1 10-15 10-10-20-2-60-1h-10l-40-2h-10l-30-2-20 1-10 1h-20l-40-1h-10l-10-1-70-2-50 1-80 1-50-1-30 1-50-2-80 1-50-1h-30-110l-50 1-40-1-40 1-110-1-30 1h-70-10l-80-1-20-1-310-1-620 1-20 1-110-1-100 1-16-1h-44l-80 1h-20-50-40-20l-10-1-40 1-90-1-70 1-27-1-383-1-240 1-200-1h-400-60z"/>
<path fill="#8b2981" d="M0 0h5030v800h-5030v-502l10-1 10-2 10 1 20-5h20l10-1h20l10-3 30 6 10-2 10 2 10-1 10 2h10l30-3 10-3 20 1 10-5 10 3 10-1 10 3 20-2 10-1 10-3 20-1 10-5 10 2 20-1 10 2 10-2 20-1 10-3h10l20-2 10-3 20-1 10-2 10 1 30-8 10-1 10-5 10-1 10-4 20-2 10-3h10l30-4 10 2 10-4 10 1 10-4 20-1 20 1 10-2h20l10-2 20 2 10 2 10-1 20-6 10-1 10-1 10 5 10 3 10-1 10 1 10-2 10 1 10-4 30-3h10l10 2 10-3h10l20-4 50 1 10-4 10 2h10l10 2 10 1h10l20 1 30-8h10l10-1h10l10-4 50 5 10-6 10-4h10l10-4h10 10l10 4 10-2h10l10-1h10l10-1h30l20 5h10l10-1 10-3h10l10 3 10-3h10l10-5h10 10l10-1h10l20 1 10 2 30 3 10-1 10-3 10 1 10 2 10 1 10-3 20 2 10 2 10 4h20l10-1 20 3 10-2 10-7h10l10 2 10-1 10 2 30 1 10 2 10 3 20-1 10-1 50 6h10l10-1 10-4 20-1 10 2 10-4 10-1 10 2 30-3 20 4 30 2h30l10-1h10l10 4 10 3h10l10-1h10l10-2 30-1 20-4h10l10 1h20l10 2 10-1 10-3 30-1 10 5 20 1 10-2 20 3 10-1 10 1 40-1 20-2 10-2 10 2h20l10 1 10-2 10-1 10 2h30l10-4 20-1 10-1 20 1 10-1 10-3h10l10-4 10-1 10 3 20 1 10-3 20-1 30-4 10 1 10-2h20l10-2h10l10-2 40-3 30-4 20 2 20-2 10-2 20-1 10 3 10-2 10-2 20-1 30-3 10 2 10 4h10l10-5 10 1 10-2 10 2 10-1 10 1 10-1 20 2 10-2h20l10-3 10 2h10l20-3 20-1 40 4 20-3 20 3 20 1 20-2 20 2h20l30 2 10-1 10-1h40l10-1h10l10-2 10 1h10l10-2 10 1 10-5 40-3 10 3h20l30-1 20-5 30 1 10-3 10-1 10 1 20-1 20 1 10 1h20l10-1 20-4 20-1 10-3 10-2 10-4 10 2 10-2h20l10-3 10 2 10-2 10 5 20 1 10-6 20-6 10-1 20-7 10-1 10-6h20l10-1 10 1 10-6 10 2h10l10-12 10-3 10-6 20-6 20-10 30-27 10-3 10-5 10-7 10-10 10 2 10 6 10-1 10-5 10-3 3-4-33-1h-20l-40-2-30-3-50-2-20-2-150-1h-1060l-410-1-990 1-750-1h-240l-190-1-410 1-60-1z"/>
<path fill="#a02f7f" d="M0 0h5030v800h-5030v-441l10 1 10-3 10-1 20-5 20-1 30-3 10-2 30 4 10-1 20 1 20 1 20-1 20-6h20l10-4 10 1 10-1 10 2 10-3h20l10-4 20-2 10-2 10 1 20-1 10 1 20-4 10-1 10-2 20-1 20-3 20-2 10-3 10 1 20-4 10-4h10l10-4 10-1 10-2 20-3 10-4h10l10-2 10 1 10-3 10 1 10-5 20-5 10-1 30-1 10-2h20l10-2 20 2 10 2h10l30-5h10l20 5 40-1 10-3h10l10-2 10-1 20 1 10-2 10 1 10-1 20 1 40-3 10-2 10 2 10-1 10 3 10 1 10-1 20 2 10-2 10-3 10-2h10l10-2h10l10-5 10 2 20 2h20l10-4 10-3h10l10-5h10l10 1 10 3 10-3 10 2 20-1 10-2 10 1 10-1 20 2 30 1 10-2h10l10 2 10-2h10l10-5 20 1 10-2 10-1 30 3h40l10-2h10l20 3 10-2 20 1 10 1 10 4h20l10-1 20 2 10-1 10-4 20 1h10l10 1 30 1 10-1 10 2 20-1 10-1 60 4h10l10-4 20-1 10 2 10-3 20 1 30-2 20 3 30 1 10-1h20l10-2h10l20 6 30-1 20-2 10 1h10l20-3 40 1 10 2 20-4 30 1 10 4 20 2 10-1 20 1 10-2 10 3 20-2 10-1 10 1 20-1 10-2 10 2 20 1 10 1 10-1h30l10-1 10 1 10-4 30-2 20 1 30-3 10-2 10-1 10 2 20-1 10-2 50-3h10l10-2h20l10-3h10l40-5h10l20-3 10-3 20 2 20-1 10-1 20-2 10 4 10-3 10-2h10l40-4 10 1 10 4h10l10-4 20-1 10 2 10-1 10 1h10l10 1h10l10-1h20l10-3 20 1 20-3 60 1 20-4h40l20-1 70 3h10l10-3 10-1 30 1 10-1h10l10-2h10l20-3 10 1 10-5 20-2h20l10 3h50l20-4h10l20 1 10-2 20 1 20-1 30 2 30-2 10-3 10-1 10 1 10-1 10-3 10-2 10-4 10 2 10-2h20l10-3 10 2 10-2 10 5h20l10-5 20-6h10l20-5h10l10-5h20l10-2h10l10-4 20 1 10-7 20-7 20-3 10-4 10-3 20-11 10-5 10-2 10-3 20-8 10 1 10 3 30-8 10-8h10l10-4 10-1 20-16 10-11 10 7 10-1 10-2 20-19h10l10-6 10-2 20-15 3-4-23-2-30-1-20-3h-20l-10 1-30-3-30-1-10-1-350-3h-750l-710-1-820 1-920-1h-240-140-460-60z"/>
<path fill="#b63779" d="M0 0h5030v800h-5030v-396l10-1 10-3 20-3 60-6 10-3 10 1 20 1 10-2 40 3 20-3 20-4 10-1 10 1 10-4 10 1 10-1h10l10-2 20-1 20-5 20-4 10 1h20l10 1 20-3 20-2h20l20-2 20-1 10-2 10 1 20-3 10-3h10l10-3 40-7 10-3 10 1 10-1h10l10-3h10l10-3 10-1 10-3 40-3 10-2h10l20-3 20 1 10 3 40-4 10 1 20 3 20-2 20 1 20-3 10-3h20l10 1 10-2h10l20-1 50 1 10-3 10 2 10-1 40 3h10l10-1 10-4 10-1h10l20-2 10-4 40 3h10l10-4 10-2 10-1 10-3 10-1 20 2 10-2 20 1 10-1 10-1 10 1 10-2 10-1 20 2h10l20-4h10l10 2 10-2h10l10-3h10l30-4 40 2h20l10-1 10-2 30 2 10-2h20l20 4 10 1 20-1 20 4 10-3 10-4 20 1h10l10 2 40 1 10 2 10-1 20 1h30l10 2 30 1 20-4 10-1 10 2h10l10 1 10 1 30-3 10 2 10 1 10-1 50 4 20-4 10 4 10 4h10l10-1 10 1 20-3h20l50-2 20 3 20-3 30 2 10 3 30-1 30-3 10 1 30-1 10 2 40-3h30l20-2 10 1 20-2 10 1 10-4h20l40-2 20-2 10-2 10-1 10 1h20l10-2h10l40-3h10 10 10l20-3 20-1 10-1h10l30-3 20-3 10 1 40-3 20 1 10 3 20-5 10 1 10-1 40-2 10 3h10l10-2 20-1 10 1 10-1 50-1 20-2 10-2 20 2 70-4 10 1 20-2 40-1 20-2 20 2 20-1 40 2 20-4 30 2 20-2 40-6h10l10-4 20-1h10l10-1 10 2 10-1 10 1 10-1 10 2 20-2 10-2 30 1 10-1 20 2 20-2 40 1 20-2 10-2 10-2 20 1 10-4 10-2 10-4 10 1 20-1h10l10-1h10l10-2 10 5 20-1 10-5 20-6h10l20-4 10-1 10-3 40-3 10-4 10 1 10-1 10-6 10-3 20-4 10-1 10-3 10-2 30-14 40-14 20 1 30-7 10-3 20-3 10-1 20-5 10-5 10 2 10-2 10-1 10-4 10-6h10l10-4 10-1 10-4 10-7 20-19 10-2 20-28 10 1 10-3 10-6 10-11 8-17-8-3-20-2h-20l-20-5-30-1-520-4h-750l-450-1-1430 1-420-1-390 1-140-1-460 1-60-1z"/>
<path fill="#ca3f71" d="M0 0h5030v800h-5030v-348l10-1 20-4 10-2 30-2 30-3 10-3 30 1 10-2 40 3 40-8h20l10-3 10 1 10-1 10 1 20-3 10 1 20-6 20-4 10 1 20-2h10l20-4h30l60-7 10 2 30-7 10-1 40-8 10-1 10-2 10 1h10l10 1 10-3 10-1 10-3 20-3h10l20-2 10-1 10-1 10-1 10-1 10-3 20 1 10 2 20-1 20-3 30 2 20-3h20l40-4h20l10-2h10l20-1 50-1 10-2 10 1h10l50 2h10l10-2 10-1 10 1 20-5 10-3 40 3h10l20-5 20-2h10l20 1h10 20l20-1h10l20-3 10 2h10l30-4h10l10 2 10-2 10-1 10-2h10l30-3 30 1h20l10 1 20-3 30 1 10-2 40 3 30-2 10 1 10 2 20-6h30l10 2 60 3 20 2 10-1 20 1h30l40-3 40 2 30-1h30l50 4 20-3 10 4 10 2h10l70-2 40-3 10 1 30-2 30 2 10 2 30-2 30-3 10 1 30-1 10 1 50-5 20 1 20-3 10 1 10-1 20-1 10-2h20l20-2h20l40-5 10 1 20-2 10-1 20-2h20l10-1h30l40-3 10-1h10l40-3 10-1 10 1 40-2h20l10 2 20-3 60-1 10 2h10l10-2h30l30-1 20 1 30-2 10-2 20 2 10-2 30 1 40-2 10-1 70-5h10l10 2 10-1h50l20-3 30 1 20-1 10-1 40-3 10-3h30l10-2 10 1 30-1 10 1h10l20-2 30 1 10-1h20l20-2h20l20 1 40-6 20 1 20-4 10-4 10 1 10-1 20 1 10-1 10 1 10-1 10 3h20l10-4h10l10-4 10-1 30-6 10-3 40-4 10-3h10l10-1 10-6 20-6 10-2 10-1 10-3 10-2 20-8 20-6 30-9h10l10 1 10-1 10-3 10-1 10-5 30-5 10-4 10-3 10-5 10 3 10-3h10l20-10 10-1 10-3 10-1 20-5 20-10 10-3 10-8 10-12 10 1 10-5 10-6 10-9 10-11 30-13 10-3 10-1 10-7 10-8 10-5 10-2 20-26 8-9-28-10-210-4-670-3-570 1-460-2-820 1h-1420l-150-1-450 1h-60z"/>
<path fill="#da4a68" d="M0 0h5030v800h-5030v-307l50-5h20l30-2 10-2h20l20-1h40l20-2 20-4 20-1 10-3 10 1 10-1 10 1 20-2 10 1 20-6 20-4 10 1 30-2 20-3 30-1 30-3 30-2 10 1h10l20-5 50-7 10 1 10-2h10l10-1h10l10-2h10l30-5 20-1 10-3h10l30-3 10-2 20-1 10 3 10-1 10 1 20-3 30 1 10-1 30-2 30-3h20l10-2 10-3 10 1 20-3 10-1 20 1 10-2 10 1 10-3 10 2 10-1 40 3 20-1 10-2h10l10 1 20-1 10-3h50l10-3 10-1 20-1 30-1 10-1 10 1 20-1 20 1 10-2h10l20 2 30-4h10l10 2 10-2h10l10-2 20-1 20-3 60-2 10-1 10-3 20 2h10l10-2 30 1 40-3 20 2 10-2 10-3 20-1 60 3 10 1 10-1 10 1h20l30 1h20l40-4 10 1 20 1 10 1 30-2 20 1 10-1 40 4h10l20-2 10 3 10 2h20l60-3 30-2 30-1 30-2 30 3h10l40-3 10-1h50l50-4h20l20-2 10 1 10-1 20-1 10-2h20l30-3 10-1 40-4 30 2 10-2 20-2h20l30-1h10l40-3 10-1h10l20-2h10l10-1 10-2 10 1 60-2 10 2 20-2h50l30 1 10-2h30l10-1 10 1 10-1 30-1 20-1 10-2 20 1 10-1h10l60-1 10-2 60-2 90-1 20-3 10 1h20l70-6 10-2 20-1 10 1 10-1 10 1 10-2h10l10-1 20 2 20-2 30 1 10-2h20l20-2 40 1 20-2 20-4 20 1 30-9 10 1 10-1 20 1 10-1h10l10-1 10 2h20l10-4 10-1 10-2 10-1 10-2 20-3 10-2 10-1h10l20-2 10-2h20l10-4 10-1 10-3 20-3 10-3 10-1 30-10 20-5 20-6h10l10 1 30-6 20-6 20-3 20-6 10-4 10 2 10-2h10l20-8 50-12 20-11 10-3 20-16 10-1 10-3 10-5 20-15 20-9 30-8 10-6 10-10 10-7 10-4 20-22 10-7 30-4 20-9 10-6 10-1 10-4h10l10-6 10-5 10-8 10-3h10l10-5 8-9-8-8-8-2h-22l-30-2-90-2-30-1-210-2-320-1-350-1-570 1-410-2-890 1h-180-1220l-150-1-450 2-60-1z"/>
<path fill="#e55d5e" d="M4233 0h7 10-10zM4936 0h4 10-10zM4992 0h38l-20 2zM5030 60v740h-5030v-268l20-1 30-3h20l30-2 10-1 80-1 40-5 20-2 10-3 10 1 10-1h10l20-3 10 1 40-6h10l30-2 20-3 30-2 60-5h20l50-7 20-2 50-2 10-2h10l30-4 20-1 10-2h30l10-1 10-2 20-1 10 2 20-2 20-2 20 1 20-2 30-1 20-2h30l20-3h10l20-3h30l10-1h10l10-2h50l10 1h20l10-2h20l30-3 10 1 20-1h20l10-3 20-2 50-4 10 1h20l20 1 20-3 20 2 20-1 20-1 10 2 30-3 30-3 60-3 30-5 20 2 20-2 10 1 50-1 30 1 20-4h30l10 1 20-1h40l40-2 20 1 60-2h30l10 1 30-2 30-1 40 2 30-3 20 3h30l50-2 20-3 20-1 20 1 20-2h20l20 1 50-2 10-2h50l50-2h20l20-2 10 1 20-2h10l10-2h20l30-2 10 1 40-3 30 1 40-3h10l30-2h10l50-4h10l20-1 30-2 20 2 40-4h10l10 2 20-2 80 1 10-2 30-1 10-2 10 1 50-1 20-2h20l50-1 30-2 20-2 20-1 20 1 50-3 50-2 20-2h20l30-1 10-1 40-1 30-3h20l10 1 30-2h20l20-1h30l10-2 40-2 50-1 30-4h20l30-7h10l50-1 10-2 10 1h20l10-3 20-4 10-1 10-2 20-2 10-2 20-1 10-2h10l10-2 20-1 10-4 10-1 10-2 20-3 10-3 10-1 30-7 20-3 20-4 20 1 20-2 50-11 30-11 10 1 10-2h10l10-2 10-4 20-4 10-2 20-5 30-12 20-13h10l20-6 10-7 10-8 20-12 10-4 10-2 10-4 10-5 20-14 10-3 20-17 10-6 10-2 20-6 20-13 10-8 20-9 10-1 10-5 10-4 10-6 10-2h10l10-3 10-8 10-4z"/>
<path fill="#ea745c" d="M5030 106v694h-5030v-234l40-4 40-1 20-1 10-1 50-2 30-1 60-6 10-1 30-1 20-3h10l40-4 40-2 20-3 30-1 60-6h10l80-9h30l20-1 40-3 10-2h20l20-3 30-1 10-1 20-1 20 1 30-2 20 1h10l10-2 30-1 20-2h30l60-5 40-1 10-1 50-1 20 1 20-2 40-2 10-2h50l20-3 60-4 30-1 20 1 20-2h20l20-2 20-1 10 1 70-6 50-3 30-4h20l20-1 10 1 40-1h40l40-3 20 1 100-3h20l50-2 50 1 60-2 50-1 20-2 20 2h30l20-2h10l40-3 40-1 20-1h40l80-5 30 1 70-2 20-2 40-2 10-1 10 1 30-2h20l30-2h40l30-3 60-1 50-4 10 1 30-3h20l20 1 40-3h20l80-2 20 1 10-1 40-3 10 1 30-2h30l10-1 20 1 60-2 40-4h40l50-3 50-2 20-2 50-1 80-4 50-1 80-3 20-2 30-2h40l40-4h20l30-5h10l60-3 30-1 10-2 40-6 80-8 20-1 10-3h10l40-7 10-2 10-2 40-5 10-2h30l20-3 40-7 10-1 30-7h10l20-1 30-6 10-3 30-6 30-9 10-5 10-6 10-1 10-3 10-2 20-14 10-5 10-8 10-4 20-5 30-15 10-3 10-9 10-12 10-7 10-1 10-4 10-3 10-4 20-11 10-3 10-5 10-2 10-6 10-4 10-7 10-5 10-1 10-5 10-11 7-6 13-9z"/>
<path fill="#ed8e64" d="M5030 165v568l-20-2-20 4-10-1-20 3-20-4-10-1-10 3-20-2-10-4-10 2-10-2-10 1-10-1-20 2-10-1-10 3h-10l-10 1h-10l-10-4-10-2-10-2-10 1-10-7-30-7-20 8-10 3-10-4-10 4-10 3-20 1-20 4-20-3-10 1-10 2-10-3-10 1-10 6-10 4-10-1-10 4-20 5-20-1-20 4-20 1-10 2-10 3-10 1-20-1-9 3 9 2h20 10l20 5 20 1 12 2 8 1 20-2h10l40 4 10 3h10l10-2 20 1 30-1 50 6 20 1 20 4 20-2 20-4h10l10-2h20l40 5 30-1 10-1 30 3 30-1 20 3 10-3h10l10 1 10 1 10-1 30 3 10-1v15h-5030v-200l40-3 60-2 50-4 40-1 20-2 50-7 30-2 20-2 10-1 40-4h10l50-4 70-4 20-2h10l80-6 50-1 40-3 10-2h20l20-3 40-3 40 1 30-2 20 1 20-2 50-3h30l60-5 40-1 30-2h30l20 1 60-3 10-2 30-2h10l30-3 40-2 10-1 40-1h20l20-1h20l30-4h20l120-10 30-4h20l20-1h10l40-1 40-1 40-2 20-1 20-1 20 1 60-4 20 1 30-2h70l60-2h10l40-1 20-2 40 1 40-2 40-3 40-1 20-1h40l80-4h20l30-1 50-1 50-4h20 10l50-1 30-2 40-1 30-3h60l50-3h10l30-2 20-1 20 1 80-3 40-1h40l10-1 40-2h10l60-1 10-1h20l60-1 40-5 60-1 80-5 20-2 50-1 30-1 160-6h20l50-4h40l40-3h10l40-4 10 1 20-2 20-1 50-3 50-6 80-7 20-1 130-16h30l100-15h10l20-1 30-4 10-3 40-6 30-8 10-4 10-1 10-3 10-1 40-20 20-7 20-5 20-10 10-4 20-14 10-5 10-3 30-11 20-9 12-4 8-5 10-2 10-8 10-6 10-9 10-4 10-1 10-6 10-11 10-7zM4350 759l-2 1 2 1 6-1z"/>
<path fill="#efa772" d="M5030 250v289l-10-1-10-4-10 4-20 1-10 5-10 4-10 2-10-1-10-1-10 3h-10l-20-3-10 4-10 1-10 3-20 1-20 7-10 6-10-1-10 5-10 7-10 3-10-1-10-4-10 3-10-1-20-3-10 1-10 11-10 9-10 7-10-2-10 5-10 5-20 14-20 13-10-4h-10l-20 3-10-1-10 4-10 9-10 4-10 1-20 7-10 3-30 2-10 4-10 3-10-1-10 2-10 4-20 2h-10l-10 3-10-1-30 4-10 1-30-3-10 2-10-1-50 9-10 3-10 1-10 1h-10l-10 4-10-1-10 2-10 1h-20l-10 2h-10l-20-1-10-1-10 2-30-3-10 5-10 1-10-5-10-2-10 2-10 3h-20l-10-4-30 1-20 5-10 1-10-1-10 3h-10l-10-4-10-1-20 3-30-4h-10l-10-3-20-1-20 1-30-4-30 2h-10l-10 2-10-1-10 3-10-2h-10l-10 1-10 4-20-5h-10l-20 2-10-2-10 2-50-1-10-2-10 2-20 1-10-1-10-2h-30l-10 2-10 4-40 1-10 2-40 1-10 1-10 3-10-3-10 1-10-2-30 4-10-3-10 3-10 4-10 1-10 3h-10l-10 4-10-2-10 2-20-2h-20l-10 2-10-2-10 2-20 1-10 2-10-2-10 3-20-2-10-2-10 2-20 1-10-2h-20l-10 2h-10l-10 2-10-1-10-2-10 4-10-1-10-3h-10l-20-1-10 4h-10l-20-4-10-3-20 3h-20l-10 3-10 4-20 4h-10l-10-2h-10l-10-2-10-5-10 1-10 4-10-3-30 6-10 1-10-2-20 3h-10l-20-3h-30l-20-2-20 6-10-1h-20l-10-2-10 1-30 1-20-1-50-6h-20l-10 3h-10l-10 2-10 3-10-2-10-1-20 2-20-1-20 1-10-1h-20-10l-42 6 22 8 20 9 10-2 20 1 10-4 10 2h40l10 2 10-2 10-6 10 6 10 4 10-2 10 4 10-1 10 1 20-7 30-4 20-2h30l10 2 10-3 10 1h10l10-3 20 7 20-3 30-1 20-2 10-1 20 3 10-1h10l30 5 10-2 10 5 10-1 20-6 10 1 10-2h10l20 4 10 5 10 1 10-1 10 1 20 1 10-2 30-3 10 3h30l20-3 10 4 10-3h10l10 2h10l10 2 10-1 10 1 10-1h30l30-3 10 2 10-1 10 3 30 2 10-1 10 3 20 1 10-2h10l10 2 10-2 10 5 10-1 10 4 12 2 8 2 10 4 20-2 20 5 10-3 10 1 10-4 10 4 20 3 30-1 10 6 10 2 20-1 10 1 6 3h-3346v-165l20-1 20-2h30l80-5 30-1 10 1 20-2 10-1 30-3 10-2 30-2 20-2h10l30-3 20-1 30-2 20-2 20-1 20-2 70-3 40-4 50-2 30 1 50-4h20l20-2h20l20-1 20-1 20 1 30-2 10 1 20-1 10-1 40-1 10-1h20l10 1 20-3h10l30-3h40l10-1 20-1h50l20-2h20l40-3 20-3h20l30-3 20-1 20-3 30-1 10-1 20 1 10-2 20-1 30-2 60-3 20-3h10l90-11h10l30-1h10l40-2h30l60-3 30-1 20 1 10-1h20l30-2 20 1 30-2h10l30-1 40-1 70-4h30l10-2 50 1 30-3 60-4h30l40-2h20l50-1 30-2h20l30-2h50l20-2 30-2 30 1 30-2h20l40-3 40-1 20-2 120-4 20-1h50l40-2 40-1h10l50-2 20 1 10-1h20l40-2 50-1 10-1 30 1 50-1 20-1 20-2h30l50-4 60-2 20-3h30l10-1h20l40-2 10 1 90-6 30-2 30-1 10-1 50-3 40-1 60-3 20-2h10l20-2 20-1 70-6h20l10-2h10l40-3 70-4 10-1 80-6 10-2 30 1 40-3 30-6h20l20-2h20l10-1 30-7 20-5 20-3 20-3 20-6 10-4 30-5 40-14 10-3 20-7 20-5 10-3 17-7 13-7 10-4 30-8 30-10 20-5 10-2 11-4 9-4 20-13h10l10-4 28-19zM4117 800l13-1 12 1z"/>
<path fill="#f1c185" d="M5030 337v117l-10-3-10-4h-10-10l-10-4-10 6-10 1-10-1-20-9-10 1-10-7-10-8-10-13-10-4-10 1-10-5-1-5 11-3 50-19 10-2 15-6 15-4 20-4 30-9 10-7zM4494 490l-3 10-11 4-10-1-10 1-10-3-10 5-10 10-10-3-10 5-10 14-10 10-10 4-10 2-10 13-10 3-3 6-7 7-20 11-10 2h-10l-10 4h-10l-40 16-10 5-10 1-20 6-10 2-10 4h-10l-10 5-10-3-10 3h-20-10l-10 3h-10l-30-3-10 2-10-1-20-4-10 3-10-2-10-3-10-2-20 5-10-2h-10l-10-3h-10l-10 2h-10l-10 4h-10l-10 1-10-2-10-1-10 1-10-6-10-1-20 6-20-6-10-1-10 1-10-3-20 1-10-1-10-2-30-2-20 1-10 2h-10l-10 1h-10l-10 2-10-1-10 1-10 2-10 5-10-4h-10l-20 1-10-1-10 1-10 2h-10l-10-2-10 2-10 1-10 2-20 2-10 3-10 2-20-5-30 3-10 2-10 5-10 1-20-1-10 1-10 4-10-2-10 2-20-1h-10l-10 2-10-2-10 2-10-1-10 3-20 1-10-1-20 5-30 3-10 3-10-1-20 2-10-2-30-2-20-3-20 1h-10l-10-2-10 2-30-2-10 1-20 1-10 2-10-1-10 1-10 2-20 2-20-2-10 2-20-3-10-1-10 2h-10l-20 1-10-3h-10l-10-1-10 2h-10-20l-10 1-10 5-20 3-10 1-10-2-10 3-10-3-10-2-10 2-10 4-10-2h-10l-10 2h-20l-10-1-10 2-20 1h-10l-10-3-10 1-20 3-10 1-10-1-10 2-10 4-10 1-10 2h-10l-10-2-20 5-10-1-10 1-10-2-10 1-10-1-10-2-10-1-20-4-20 3-10 3-10-1-10 4-10 4-10-3-10-2-20 4-10 1-10-1-20 1-20-2-10 1-10-3-20 5-40 5-10 3-20 2-10-3-10 3-10 3-10-3-10 2h-10l-20 4-10-1-20 3-20-1-20 4-20-2-10 1-20-3-20 2-10 3-20-3-10 2h-10l-10 1h-30l-10 3-10-1-30-2-20-3-30-3h-10l-20-6-20-2-20 2-20-2-30-2-10 2h-10l-10-4-20 4-10-1-30 4-20-4h-10l-10 2h-20l-10-2h-50l-20-3-10-1-20 1-20-2-50 8h-20l-10-2-10 2h-10l-20 2-20-1-10-1-10 2-10-1h-10l-10 2-10 1-10 1-10-2h-10l-10 1h-20l-10-3-10-1-20 5-20-2-10 2-10 3h-30l-10-2-20-1-10 2-10-2-10-4-20 4-10-1-10 1h-10l-10 5-10-2-10 2h-10l-10 5h-10l-10 1-10-2-20 3-10-3-20 4-10-1-10 2-10 6-10-3-10 6-10-2h-10l-10 5-10-12-10-3-10 10h-10l-20-9-10 10-10-1-10-7-20 14-10 5-10-3-10-8-10 5-10 3-10-12-20-4-10 7-10-6-10 3-10-1-10 2h-10l-10 4-10-3-10 5h-10l-10 3-10-1-10-4-10-2-20-1-10-2-10 1-20-2-10 4h-10l-10 7-10-1-10-5-10 3h-10v-69l20 1 20-3 20 2 10 2 10-1 20 1 10-1 10 1h20l10-2 10 1 20-1 10 2 10-1h10l30-3 10 1 10-4 10 1 10-2 10 1 10-3h10l10 3 10-3 10-2 10-1h20l10-3 10-1 10 3 20-5 10-1 10 1 10-2 10-3 10 1 30 1 10-2 10 1 40-4 10-2h20l10-2 20-1 10 3 10-1 10 1 10-2 10 2h20l10-1 20 2 20-3 10 1 10 1 20-3 10 1h20l10 2h20l10-1 10 2 10 2 10-2 10-3 10-2h10l10 2h10l10-2h10l20 4 10-1 10-2 10 1 30-6h10l10 1h10l10 2 10-3 10-1h10l10 3 10 1 10-2 10 2 10 3 20-4h20l10-2 30-2 20-4 10 1 20-3 10-3h10l10 2 20-4 10-6h10l10-1 10 1 10-4 10 2 10 4 10-3h10l10 4h10l20-6 10-1 10-3 10 3 10-1 10-2 10-1 20-7 10-1 10-3 40-10 10-1 10-3 10-1 10-3 20 2 20-1 10 1h20l10-2 10-1 40 2 10-2 10 1 10-2 10-3 10-1 10 1 20-2 20 2 10-2 20 1 20-1 10-2 20 1 10-2 10-1 10 1 10 2 30 2 30 5 20-2 10-2 20-3 60-2 10-3 10 1 20-1 20 2 10 2 20-5 10 1 30-4 10-2 20-3 20 2 10-2 10-1 40 2 10-1h10l30-3 20-4h10l20 2 30-2 10 2 10 1 10-2 10 2h10l20-6h10l20-1 20 2 10 3h10l20-4h10l10 1 30-8 10-1 10 2 10-1 10 1 20-1 10-3h10l20-2 40-1 20-3 10-1 20 1 20-4h10l10 1 10-1 20 1 30-2 50-1h10l10-1 40 1 20 2 10-2h30l10-1 20-1 20 1 30 1 10-2 10 2h40l10 2 10 1 30-2 20-4 30 2 60-3 10 1 10-1 10 1 10-1h10l20-4 10 3 30-3 10 3 10 1h30l10-1 10 3 20-4h20l10-2h10l10-2 10-2h10l30-4 20 1 10-2 10-4h20l10-3 10-1 10-1 10 2 30 3 10-3 10 2 10-1 10 1 10-1 10-3 10-4 10-2 10 2 20-5h20l10-2h10l10-3h20l10-2 30-2 10-2 10 1 10-2 30-1 10 1h50l10 2 10-3 10 1 10-2 30-2h10l10-2 10 1 10-1 20 3 10 5 10 3 10-3 12 6 8 6 9-6 21-3 9 3z"/>
</g>
<rect x="172.10" y="1522.20" width="1702.50" height="238.60" fill="#84bcd9"/>
<g transform="translate(172.10 1522.20) scale(0.338469 0.298250)" fill-rule="evenodd" shape-rendering="geometricPrecision">
<path fill="#aed3e6" d="M0 0h5030v800h-5030v-287h10l20-7 20-10 20 1 10-5 10-1 10-3 7-8 1-10-4-10-4-7-10-8-10-7-9-8-11-5h-10l-10-4-4-11v-10l5-20 1-10-6-10-6-6h-10l-10-7-10 2z"/>
<path fill="#d4e6f1" d="M0 0h5030v800h-5030v-219h10l30-3 30-2 10-2 20 1 10-2h10l30-4 30-1h10l70-12 30-2 20-4h10l40-5h10l10-2 20-1 20-6 30-3 50-9 10-3h10l10-2 40-15 30-8 20-2 10 1 10-3h10l3-2 7-7h10l3-3 3-10-6-14-10 2-3-18-5-10-2-3-7 3-3 2-2-2-8-5-10 2-10-10-10 2-21-19-9-10-1-10 1-10 6-20-1-10-4-10-1-2-2-8-5-20-3-20-10-12-1-8-6-10-3-4-4-6-6-19h-10l-10 8-7-19-3-5-10 4-10-3-5-6-5-3-10-2-10-4-10 4-10-1-10-5-10 3-10-1-10 6-20-2-10 1-10-4-10-6-10-3-10-10h-10l-20-7-10 4-10-2-10 8-3-6-7-15-10 2-10 8-10-5-10-2-10 3-10-4h-10l-10 3-10-1-10 5-10 1-10 5-20 6-10-3-20-5-10 2-10-1-20-6-10-8-10-4h-10l-10-6z"/>
<path fill="#ecf2f5" d="M0 0h5030v590h-10l-10-1-10 4-10 3-10-2-20 9-10 1-10-2-30-2-10 1-10-2-20 4-10 3-30 1-9 3-11 6h-10l-10 2-10 4h-10l-10-1-10-2-10 2-30-5-10 1-20 11-10 5-10-2-10 9-14 10-16 10-20 11-10-5-20-3-10 2-10-3-10 4-10 9-10 5-10 1-10 8-7 11-2 10 8 10 11 7h10l10 4 10 7h10l10-3 10 2h10l20-3 20 2 20 1 10 2 10 5 10-4 10 1 10 7 6 2-6 1-10 5-10 1-10-3-10 4-11 2 11 7 3 3 7 2 10-1h10l10 4 10 3 10-2 21-6 7-10-18-7-16-3 6-2 10-3 10-5 10-6h10l20-3 10-3 10-1 10 1h10l10 4 10-2 10 1 10 3 10-4 10 2 10-4 10 4 10-7 20-8 10 5 20-7 10-6 10 7 10 4 10-4 13 4 7 5 4-5 16-8v41l-20-1-20 4-10-1-10 2-10 2-20-3h-10l-10 2-20-1-10-2-30 3-10-2-10 1h-20l-23 3 3 4 6 6 14 2h30l8-2 2-2 3 2 17 2 10 2 20-1 10-1 10 3 10 1 10-4 10-1 10 3 10 2 10-1 20 4 10 1 10-1v21h-5030v-173h10l30-2h10l30-2h20l50-4h40l50-6 20-2 30-2 10-2 10-2 10 1 30-4h20l10-1 20-1 20-5h20l20-3 30-1 10-1 10-2h20l40-5 30-2h20l10 1 10-1h10l50-6 20 1 20-4 20-2 20-5h10l10-1 30 2 20-2h20l20-4 20-3h20l10-3h10l20 1 20-6 10-1 10-4 10-2 10-3 20-1 10-2h10l10-3 10-1 10-2h10l20-2 10 1 10 2 20-4 20-1 20-4 10-5 10-1 20-3h10l10-2 10-4 20-4 10-1 20-3 10-4 40-4 20 2 10-3 10-3 10 2h10l10-6 10-3 20-2 10 1 10-4 21-5 9-3 14-7 6-4 10-4 20-4 13-8 6-10 1-10-1-10-8-10-11-5-20-2-10-2-10-7-10-2-10-3-10-9-10-3-10-8-10 8-10-2-7-5-10-10-4-10 2-10 2-10-3-11-6-9-4-3-10 16-2 7-1 10v10l-4 10-3 3-5-3-5-6-2-4-1-10-7-17-10 11-2-4-18-19h-10l-10 2-5-13-4-10-1-9-2 9-5 10-13 17-10-16-3-11-3-20-4-40 1-10 3-10 4-10 2-9 10 1 10 3 1 5 5 10 3 10 1 34 1-14v-10l1-10 3-10 5-5 10-7 5-8 2-10-1-10-6-20 1-10-11-6-10-12-6 18v10l-1 10-3 18-14 2-6 4-4-34v-10l-2-10-4-27-10 5-11-28-9-17-10 6-5-9-4-10-1-10-4-10-6-6h-10l-10 3-10-5-20 4-6 4-4 6-5-6-5-3-31-7-9-1h-50l-30-1-30 1-20-2h-20l-10 1-10-1h-20l-40-1-20 1-20 3-10-1-20 1h-20-6l-4 2-9-2-11-1-10-1-19 2-1 1-20-1h-3l-7 5-7-5-3-1-5 1-5 2-4-2-6-1-4 1-6 4h-10l-6 6-4 9h-10l-10-9-14-10-16-1-40 1-10-2-30-1h-20l-40-1-80 1-30 2-60-1h-40l-10-1-90 1-50 2h-60l-20-1h-30zM1460 102l-10 1-10 5-10 8-8 14v10l-2 20 1 20 5 20 1 10-1 20 2 10 2 5 10 11 10 1 10 7 10-11 5-3 5-6 3 6 7 6 3-6 2-10v-10l-1-10v-10l3-10 3-5 10-3 5-12 2-10 1-10-2-30-6-11-10-3-10-7-10 4-10-2zM1528 130v10l-1 10v10l3 5 2 5 8 9 10-7 10 6 10 7 10 1 10 6 20 2 8 6 2 2 10-5 10-16 10 2 7 7 6 10 3 10 2 10 2 6 3-6 1-10 3-10 3-4 10 5 6 9 4 10 7 10 3 2 10 16h10l10 3 10-2 10 1 10 4 10-5 5-9 3-10 2-29 10-7 10 3 10 1 2 2 5 10v10l3 10 10 3 4-3 5-10 1-3v3l4 10 6 5 10-3 10 4 10 2 10 3 10-5 10 3 10 6h10l10 1 10 4 10-2 10-2 10-21 10-3h10l10 4 3-6 2-10 3-10 2-4 10-1 10 4h10l10-7 10-5 10 2 10 7 10-7 10-2 10-2 10-2 20-2 10-6 10-5 4 10 6 11 10 12 10 5 10-11 10-2 5-15 1-10-4-20-1-10 1-10 3-10-5-8-20-20-10 1-9 7-11 15-10-12-10-3-10 1-20-7-10 2-10-7-10-11-10 11-10 3-11-2-10-10-5-10-3-10-1-10 2-10 7-10 2-10-11-2-3 2v10l2 10 1 10v10l-3 20-3 10-4 7-10-3-6-14-3-20v-10l2-10 2-10 1-10-6-3-6 3 1 10 2 10 1 10 1 10-2 10-4 10-7 10-6 5-10-6-2-9-3-20-1-20 2-20-6-6-10-1-10 1-10 2-10 4v3-3l-10-5-10 2h-10l-10-5h-10l-10 4-6 4-4 12-4-2-6-1-11 11-9 7-10 5-10-14-10 6-10 13-10 4-7-31-4-10-9-4-10 4-20-5-20 5-6 10-4 19-10-1-5 22-1 10-4 8-10-9-10 10-10 3-3 8-7 11-11-11-7-10-2-5-10-5-10 5-6-15-4-6-10-5-2 11-3 20-5 12-10-2-7 10-3 3-10 5-10-1-4 3zM4534 760l6 5 10-2 7-3-7-2-10-1zM2180 128l3 12-3 27-2-7-4-10v-10zM1480 206l2 4-1 10-1 3-1-3-1-10z"/>
<path fill="#f7eee7" d="M19 0h1zM47 0h96l-73 1zM0 800v-142h20l20-2 60 3 10-1h10 20l10-1h10l20-1 10 2 20-2 10-1 20-2 10 1 10-3 20-1h10l10-3h10l10 2 10-2 20-2 20 1 10-3h10l10 2 20-5h20l20-4 20 2 20 1 10-3 10 1h10l30-2 10-3 20 1 10-2h20l10 3 10-1 10 1 10-2 20 1 20-2 20 4 20-5 20 2 20-3 10 1 10-1h10l10 3h10l20-1 20 4 10-1 10-4 20-2 20 2 10-2h10l20 4 10-1 10-2 10-1 30-7h10l10 1h10l10 2 10-3 10-1 10-1 10 3 10-1 10-2 10 2 10 4 10-3 10-2 20 1 10-2 30-3 20-7 10 1 40-8 10 3 10-3 10-4 10-7 20-3 10 2 10-4 20 4 10-4h10l10 3 10-1 20-9 20-2h10l10-1 10-2h10l20-6h10l50-12 40-8 10 1 30-3 10 1 10-2h10l20-3 30 1 30-2 30-3 30-2 20 1 10-3 30 1 10-1 10-2 20 2 10-3h20l10 1 30-2h10l10-1h20l10-2 20-4 26-3 14-5h30l10-5 10-1 10-3 10-1 10 1 20-1 11-5 9-6h10l4-4 6-2 23-8 17-3 30-2 10-3 30-3 10 1 10-1 20-4 30-4 10-3 20-4 10 1h10l30-4h10l8-1 12-5 10 1 10-1 8-5 12-11 10 1 10-6 10-4 10-1 8-9 2-4 5 4 5 2 11-2 10-10 7-10 2-5 3-5 1-10-4-10 3-10 27-19 10-11 10-12 10-10 10 5 10-9 10-4 7-20 6-30-9-30-4-10 3-10 7-7 10-4 10 2 10-3 7-8 4-10-3-30 2-10v-10l-10-18-10-8-10-2h-10l-10-15h-10l-4-7-5-10-4-10 1-20-8-1-18-9-92-4h-100l-80-1-20-2h-10l-170-2-9-1 2779 1v536l-20-1-10 1h-20l-10 2-20 2-20-1h-10l-30-1-30 2h-20l-30 2-10-1-10 1-10 2-20 1-10-2h-50l-10 2-20 2h-10l-30 4-10 2-20 6-10-1-30 5-20 1-10 4-10 2-10 3-20 4-10 3-30 2-20 5-20 2-20 7-20 1-10 4-10 2-10 6-20 4-20 2-20 1-18 3-12 3-10 1-10 3-10 1-30 6-10 4-10-1-10 6-10-2-10 3-30-1-10 3-30-2-10-2-10 1-10-1-20-5-10 4-20-5-10-1-20 6-10-2h-10l-10-2-10-1-20 3-10 4h-10l-10 1-10-2-20 1-10-5-10-2-10 3-10 3-20-5-10-2-10 1-10-3-30-1-10-2-10 1-20-1h-20l-10 2-10 1-30 2-10-1h-10l-10 2-10 3-10-3-10-1-20 2-10-2-20 2-10-1-10-1-30 4-20 1-20 5-20-4h-20-10l-10 1-10 4-10 2-30-2-10 4-10-2-10 3h-10l-20-2-10 2-10-1-10 1-10-1-10 3-20 2-10-1-20 5h-10l-20 4-10 5-10-1-10 2h-10l-30-4h-10l-20-4-20 1-10-2-10-2-10 3-10 1-20-2-10 2-20 1-10 3-10-1h-10l-10 3-20 1h-10l-10-3-10 3-20-3h-10l-10 2-30 2-10-4-10 2-10-3-10 4h-10l-10-1-10 1-10 4-6 7-4 12-3 8-6 10v10l3 10 3 10 2 10 11 4 10 2h20l20 1 10-3 30-1 10 2h20l10 1 20-2 10 4 10-3h10l10 3 10-1 10 2h20l10-1h10l20 1 10-2 20-2 10 4 10-2 10 3 20 1 10 2 10-1 10 6 20 2 20-4 10 3 10-4 5 5 5 9 10-2 10 13 10 2 9 8h-1713l-6-2-3 2h-157l-10-3-10-1-10-4-10-1-10 3-10-3-10-1h-10l-10 5-10-4-10-3-10-1-40 3-10 3-10 3-10-1-10-4-10 3h-10l-10 4-7 2h-19l-4-1-10-3-20-1-10 1-9 4zM2050 750h-1 1 2zM2150 750h-1 1 6zM2178 750l2 1 10 4 10-1 10 3h10l10 2 20-6 18-3-8-5-10-5-10-6-10-3-10 2-10 1-10 9-10-1-10 5zM2396 750l4 1 10-1-10-10zM2580 681l-10 9-10 19-10-13-10 8-4 6-4 10-1 10 4 20 15 3 10-3 10 4h10l13-4 5-20v-10l-2-10-6-10-3-10zM2750 190l2 10-2 3-1-3zM3227 800l3-3 3 3h-3z"/>
<path fill="#f7dcc9" d="M3317 0h46l-23 1zM5030 3v497l-20-3-20 2h-10l-10 2h-10-30l-10 1h-10l-20-1-30 2h-20l-30 2-20-1-10 2-20 1-10-1h-40-10l-20 2h-10l-10-1-20 2h-20l-20 4-10-1-20 2h-30l-20 3-20 1-20 3-30 1-20 4h-10l-10 1-20 4-20 1-10 2-10-1-10 3-20 1-20-1-10 2-10 1-20 4-10 1-10 3-20 3-10 3-20 2-10 3h-10l-10 3-10-1h-10l-10 2h-20l-10 2-10 1-20-2h-10l-40-4-10 3-10 1-20-3-20 3-10-2-10 1-10-2-10 2h-10l-10 1-10 3-30-5h-20l-20-5-10 1-20-1-20-3h-10l-20-4-10 1-10-5h-10l-10 1-20-2-10 2-30 1-30 4-10-1-20-3-10 3-20-4-10 2-10-2-10 1-10-2-10 4-10-2-20-1h-20l-10-2-10 1-20 4-10-1-10-6-10-3-20-7-10 1-10 6-10 2-10-1h-20l-10 3-10-3-10 3h-20l-20 4-20-2-10-4-10-1-20 1-10-5-10 4-10 2h-10l-10 4-10-1-10 5-10-6-10 4-10-3-10 1-10-2h-10l-10-2-10-3-10-5-10-3h-10l-10 4-10-2-10 5-10-1-10-4-4-3-2-10 16-6h10l10 3 10-2 10 2h10l40-7 30-2 10-1 10 1 10-3 10 1 10-1 10 2 10-2 10 1 10 3 10-4 20 1 10-1 10-3h10l10-2 40 2h10l5-2 5-1 10 2 40-3 7 2 3 1 10 2 9-3 21-5 20-8h10l20 1 40-6 6-2 4-3 10-3 19-4-8-10h-3l-8 2-26-12-5-10 11-3 10-5 10-3 10 1 10-3 30-5 20-6 10 2h10l20-3 10 1 10-4 14-2 16-5 10-1 20-5 10-7 10-2 10-2 10 4 10-1 10 1 10-5 20-4h10l5-3 5-9 10 2 20-2v-11l3-10 1-10-4-11-10 7-10-2-7 6-3 10-2-10-6-10-2-5-6-5-4-7-5 7-5 3-5 7-5 4-3-4-4-10-2-10 6-10 3-3 5 3 5 6 10 3 10-8 10-12 10 5 10 1 10 5 10-14h10l10-1 10-7 27-8 3-2 10-2 8 4h2l4-10 1-10-2-20 8-20 4-30 5-3 6-7 4-3 10-5h10l10-8 3-4 7-18 10-10 10-14 10 7 10-8 20-6 3-11 7-11 10-3 10-13 7 27 1 10 2 6 10-4 10 12 4-14 1-10 5-19 5-11 3-10 1-20 6-10 4-10 1-1 20-1 10-3 10 1 10-2 10 2 10-2 20-3h20l5-1h33l42 2 40 1 30-1 60 2h140zM3799 230l1-4 2 4-2 2zM3909 230l1-1 1 1-1 3zM3720 301l4 9-4 11-1-1-4-10zM3739 310l1-1 3 1-3 7zM3799 360l1-10 3 10-3 5zM7 750h3 1-1zM23 750l7-4 10-1 5 5-5 6-10-1zM141 750l9-3 10-1 10 2 10 2-10 1-10 3h-10zM293 750l7-6 10 2 10 3 10-4 10-1 10 3 7 3-7 3-10 2-10-1-10-4-10 4-10 2z"/>
<path fill="#f0bb9e" d="M4133 470l7-2 10-8 10-5h10l10-4 10-1 20-6h10l10-4h10l13-10 2-10-5-5-13-5 13-7 3-3 7-5 10-13 10-6 5-6 5-10v-20l1-10 3-10 6-13 10-12 4-15v-20l-4-18-2-2-3-10 5-7 1-3 9-19 7-11-1-10-6-10-1-10 3-10 6-10 2-6 4-14 3-10 5-10 2-30 4-30 3-10 9-6 10-2 4-2 16-2 10-3 10-1 10 2h30l10-2 10-1 10 1h10l30-4 20 1 30-1 100-2 360-3v464l-20-3-20 1-10-1-10 2-40-1-20 1-20-2-30 1-20-1-50 1-10 1-40-1-30-2-10-1-10 1h-20l-10-2-10 1h-20l-10-1-20 3h-10l-20 2-30-1-20 3h-20l-10 2-10 1-30-1-10 1-10 2-10-1-10 1-10 3-20 5-10-1-10 2-10-3-10 2-30-2-10-3-10 2-10-4-10 4-50 1-10 2h-30l-10-4-10 2-3-1-7-5-10-4z"/>
<path fill="#e69677" d="M4665 20l5-1h20l30-4 20-1h30l20-3 26-1 214-3v429l-20-3-30-1-10 1h-20l-20-3h-20l-20-3h-30l-40-1-30-4-10 1-20-4-20-5-20-10-10-3-10-6-30-5-13-10-8-10 1-10v-10l-7-20-1-10 2-20v-10l-4-11-10-10-5-9-2-10 3-30-4-40 1-10 1-10 5-10 7-10 6-10 2-10 2-10 6-20 2-20 3-20 1-20z"/>
<path fill="#d66b55" d="M4827 20l13-1 30-1 30-3h40l72-5h18v391l-20-5-30-2h-10l-20-2-20-5-10-1-30-9-25-7-25-9-10-5-28-26-6-10-3-10-1-10-3-10-19-37-2-3-1-10-2-20 4-50 3-20 10-50 8-27 10-16 10-6 9-21z"/>
<path fill="#c33e3d" d="M5030 17v325l-20-9-10-3-10-5-8-5-2-3-10-4-3-3-4-10-27-30-6-5-10-3-15-12-6-10-14-20-5-10-6-20-1-10v-20l3-20 2-20 2-10 4-10 7-10 9-10 10-4 10-6h10l13-10 17-18 10-8 10-2 1-2 13-10z"/>
<path fill="#aa162a" d="M5030 73v167l-16-20-5-10-9-25-3-25 2-40 3-10 14-20z"/>
</g>
<path d="M171.2 156.5L178.0 160.3L188.2 162.0L198.0 181.5L208.0 166.2L215.0 170.5L219.8 171.2L223.0 175.0L228.5 196.5L236.0 190.0L239.0 191.5L242.0 184.5L245.5 187.5L252.0 174.0L255.5 175.5L259.0 173.5L266.0 161.0L272.5 155.0L276.0 144.0L279.5 137.5L283.0 115.0L286.5 105.0L289.8 100.5L293.3 103.5L296.5 118.0L300.0 137.5L303.0 133.5L306.5 153.0L310.0 172.5L316.5 182.5L323.5 188.5L327.0 185.5L330.0 186.5L333.8 185.5L340.5 202.0L347.0 207.0L354.0 185.5L357.0 193.5L360.5 182.5L365.0 185.5L367.5 183.5L372.5 190.0L377.5 190.5L381.0 199.0L386.5 190.5L391.0 191.8L397.0 192.8L404.5 187.0L411.0 172.0L418.0 175.0L425.0 187.5L429.0 178.0L431.8 175.5L435.0 178.5L439.0 165.0L442.5 158.0L448.5 151.0L452.0 136.0L455.5 130.5L459.0 136.5L462.5 137.0L466.0 143.0L469.0 144.2L472.5 132.0L479.5 129.0L483.0 135.0L490.0 142.0L496.5 152.0L503.5 172.5L507.0 175.0L513.5 185.5L517.0 190.0L524.0 206.0L527.0 210.0L534.0 205.0L540.5 205.0L550.5 190.0L554.0 194.5L561.0 193.0L565.0 189.5L568.0 186.0L571.5 184.5L575.0 172.5L578.5 163.5L581.5 159.0L584.5 159.0L588.0 167.0L591.2 172.0L594.5 174.0L598.0 171.0L601.5 166.5L605.0 163.0L611.5 153.0L614.5 154.5L618.0 150.0L621.5 155.0L625.0 163.5L628.5 160.5L632.0 162.0L635.5 160.0L639.0 153.0L642.0 150.0L645.5 148.0L649.0 140.0L652.0 132.0L655.5 121.5L659.0 121.0L662.5 115.5L665.5 128.0L669.0 132.0L672.5 139.0L676.0 154.0L679.5 156.5L683.0 162.0L686.0 164.0L689.5 169.5L693.0 165.0L696.0 157.5L706.5 157.2L710.0 155.8L713.0 155.8L716.5 159.0L720.0 153.0L723.5 155.5L727.0 154.5L730.0 155.5L733.5 152.8L737.0 163.0L740.5 169.5L744.0 174.0L747.0 171.0L750.5 172.5L754.0 169.5L757.5 164.5L761.0 157.0L765.0 148.0L767.2 150.5L771.0 141.0L774.2 133.5L778.0 137.5L781.0 141.0L784.5 147.5L788.0 155.0L791.2 160.5L794.5 162.5L798.0 167.0L801.5 173.0L805.0 179.0L808.0 184.2L811.5 184.5L814.7 190.5L818.0 181.5L821.5 181.2L825.0 184.0L828.5 186.5L831.8 190.5L835.0 189.0L838.5 189.0L842.0 187.0L845.0 184.5L848.5 181.5L852.0 179.5L855.5 175.5L858.5 176.5L862.0 168.0L865.5 169.5L869.0 166.5L872.0 155.0L875.5 149.5L879.0 142.0L881.0 131.0L882.5 114.0L884.0 90.0L885.5 67.0L888.8 52.9L892.7 52.9L896.0 47.2L899.6 37.9L902.9 42.7L905.0 70.0L907.4 100.0L909.0 114.0L911.0 137.0L913.0 165.0L916.5 175.0L920.0 175.0L923.0 191.5L926.5 191.5L929.5 190.5L933.0 201.0L936.5 205.5L940.0 198.0L943.5 202.5L947.0 208.0L950.5 211.5L954.0 207.5L957.0 201.5L961.0 198.0L965.0 195.5L971.0 201.0L981.0 201.0L984.2 196.5L991.2 207.0L998.0 201.0L1001.5 196.0L1005.0 188.5L1011.5 178.5L1015.0 184.0L1018.2 187.5L1021.8 193.5L1024.8 189.5L1028.2 196.5L1031.8 184.0L1035.0 180.5L1038.5 176.0L1042.0 170.5L1045.5 162.0L1049.0 161.5L1055.5 159.0L1058.8 168.0L1062.0 162.0L1065.5 155.5L1069.0 154.5L1072.5 160.5L1075.8 162.0L1079.0 159.0L1086.0 149.0L1093.0 137.5L1099.5 127.5L1106.5 136.0L1110.0 142.5L1113.5 151.0L1116.5 160.0L1119.8 169.5L1123.0 163.5L1126.5 166.0L1130.0 164.0L1133.5 163.0L1136.8 151.5L1140.0 151.5L1143.5 157.0L1146.8 156.0L1150.5 161.0L1154.0 166.0L1157.5 168.0L1161.0 166.0L1165.0 161.5L1168.5 152.0L1172.0 147.0L1175.0 145.5L1178.5 146.0L1184.5 150.0L1187.5 148.8L1191.0 153.0L1197.0 161.0L1201.5 163.5L1208.0 167.5L1214.0 166.5L1218.0 166.5L1221.5 172.5L1225.0 177.0L1228.5 185.5L1231.8 190.5L1235.0 180.0L1238.5 175.5L1242.0 172.5L1245.5 168.0L1249.0 162.0L1255.5 150.5L1259.0 150.0L1262.0 143.0L1265.5 141.5L1269.0 156.0L1272.5 160.0L1276.0 165.5L1279.0 170.0L1282.5 172.0L1286.0 171.0L1289.5 175.0L1293.0 181.0L1296.0 188.0L1299.5 191.0L1303.0 198.0L1306.5 201.5L1310.0 205.0L1313.5 207.0L1317.0 205.0L1320.0 202.0L1323.5 196.5L1326.5 197.5L1330.0 192.0L1333.5 193.0L1337.0 193.5L1340.0 185.8L1343.5 190.0L1347.0 194.5L1350.5 192.0L1354.0 191.5L1357.5 183.0L1361.0 175.0L1365.0 169.0L1367.5 163.5L1371.0 162.0L1374.0 160.5L1377.5 154.0L1381.0 140.0L1384.5 121.8L1387.8 121.8L1391.2 126.5L1394.5 132.0L1397.5 130.5L1401.0 144.0L1404.5 167.0L1408.0 176.0L1411.5 187.0L1414.5 199.0L1418.0 204.0L1421.5 206.0L1425.0 208.0L1428.2 211.5L1431.8 202.5L1435.0 196.5L1438.5 194.5L1442.0 190.5L1445.5 187.5L1449.0 186.0L1455.5 186.0L1459.0 191.5L1462.0 194.5L1465.5 190.5L1469.0 201.0L1472.5 201.0L1475.5 199.0L1479.0 192.5L1482.5 183.0L1486.0 182.5L1489.5 179.0L1493.0 174.5L1496.2 165.0L1499.5 164.5L1503.0 163.2L1506.5 165.0L1509.8 169.0L1513.5 169.5L1516.5 172.0L1520.0 175.0L1523.5 177.0L1526.5 172.5L1530.0 172.5L1533.5 177.0L1536.8 175.0L1540.0 171.5L1543.5 172.5L1546.8 169.5L1550.5 172.5L1553.8 175.5L1557.0 169.0L1560.5 163.0L1565.0 161.0L1567.5 159.0L1570.5 163.0L1574.0 170.5L1577.5 168.5L1581.0 166.0L1584.0 162.0L1587.5 153.0L1591.0 153.5L1594.5 155.0L1597.5 156.0L1601.0 149.0L1604.5 148.0L1608.0 145.0L1611.0 137.0L1614.5 132.0L1618.0 97.5L1621.5 90.0L1624.8 90.0L1628.2 78.0L1631.5 81.0L1635.0 96.0L1638.5 107.0L1642.0 126.0L1645.5 140.0L1648.5 150.0L1652.0 160.0L1655.5 166.5L1659.0 172.0L1662.0 176.0L1665.5 180.0L1669.0 181.5L1672.5 177.0L1676.0 177.0L1679.0 179.5L1682.5 176.5L1686.0 173.0L1689.5 164.0L1692.8 160.0L1696.0 164.0L1699.5 168.5L1703.0 172.0L1706.5 174.0L1710.0 178.5L1713.5 183.0L1716.5 182.5L1719.8 172.5L1723.0 173.5L1726.5 170.5L1730.0 169.0L1733.5 167.5L1737.0 166.8L1740.0 165.5L1743.0 157.0L1746.5 147.0L1750.0 148.0L1753.0 147.0L1756.8 153.0L1760.0 144.0L1763.5 142.5L1767.0 152.5L1770.5 151.0L1774.0 148.5L1777.5 154.0L1780.5 160.5L1784.0 162.5L1787.0 156.5L1790.5 159.0L1794.0 155.0L1797.5 154.5L1801.0 153.0L1804.0 156.0L1807.5 162.0L1811.0 171.0L1814.5 169.5L1817.5 169.5L1821.0 176.0L1824.5 181.0L1828.0 186.0L1831.5 192.0L1835.0 198.5L1838.5 204.5L1842.0 196.0L1845.0 185.5L1848.5 177.5L1852.0 175.5L1855.0 174.0L1858.5 177.0L1862.0 171.0L1865.0 182.5L1868.5 190.0L1872.0 194.5L1875.0 193.5" fill="none" stroke="#000" stroke-width="2.7" stroke-linejoin="round" stroke-linecap="butt"/>
<path d="M171.2 457.6L178.0 461.4L188.2 463.1L198.0 482.6L208.0 467.3L215.0 471.6L219.8 472.3L223.0 476.1L228.5 497.6L236.0 491.1L239.0 492.6L242.0 485.6L245.5 488.6L252.0 475.1L255.5 476.6L259.0 474.6L266.0 462.1L272.5 456.1L276.0 445.1L279.5 438.6L283.0 416.1L286.5 406.1L289.8 401.6L293.3 404.6L296.5 419.1L300.0 438.6L303.0 434.6L306.5 454.1L310.0 473.6L316.5 483.6L323.5 489.6L327.0 486.6L330.0 487.6L333.8 486.6L340.5 503.1L347.0 508.1L354.0 486.6L357.0 494.6L360.5 483.6L365.0 486.6L367.5 484.6L372.5 491.1L377.5 491.6L381.0 500.1L386.5 491.6L391.0 492.9L397.0 493.9L404.5 488.1L411.0 473.1L418.0 476.1L425.0 488.6L429.0 479.1L431.8 476.6L435.0 479.6L439.0 466.1L442.5 459.1L448.5 452.1L452.0 437.1L455.5 431.6L459.0 437.6L462.5 438.1L466.0 444.1L469.0 445.3L472.5 433.1L479.5 430.1L483.0 436.1L490.0 443.1L496.5 453.1L503.5 473.6L507.0 476.1L513.5 486.6L517.0 491.1L524.0 507.1L527.0 511.1L534.0 506.1L540.5 506.1L550.5 491.1L554.0 495.6L561.0 494.1L565.0 490.6L568.0 487.1L571.5 485.6L575.0 473.6L578.5 464.6L581.5 460.1L584.5 460.1L588.0 468.1L591.2 473.1L594.5 475.1L598.0 472.1L601.5 467.6L605.0 464.1L611.5 454.1L614.5 455.6L618.0 451.1L621.5 456.1L625.0 464.6L628.5 461.6L632.0 463.1L635.5 461.1L639.0 454.1L642.0 451.1L645.5 449.1L649.0 441.1L652.0 433.1L655.5 422.6L659.0 422.1L662.5 416.6L665.5 429.1L669.0 433.1L672.5 440.1L676.0 455.1L679.5 457.6L683.0 463.1L686.0 465.1L689.5 470.6L693.0 466.1L696.0 458.6L706.5 458.3L710.0 456.9L713.0 456.9L716.5 460.1L720.0 454.1L723.5 456.6L727.0 455.6L730.0 456.6L733.5 453.9L737.0 464.1L740.5 470.6L744.0 475.1L747.0 472.1L750.5 473.6L754.0 470.6L757.5 465.6L761.0 458.1L765.0 449.1L767.2 451.6L771.0 442.1L774.2 434.6L778.0 438.6L781.0 442.1L784.5 448.6L788.0 456.1L791.2 461.6L794.5 463.6L798.0 468.1L801.5 474.1L805.0 480.1L808.0 485.3L811.5 485.6L814.7 491.6L818.0 482.6L821.5 482.3L825.0 485.1L828.5 487.6L831.8 491.6L835.0 490.1L838.5 490.1L842.0 488.1L845.0 485.6L848.5 482.6L852.0 480.6L855.5 476.6L858.5 477.6L862.0 469.1L865.5 470.6L869.0 467.6L872.0 456.1L875.5 450.6L879.0 443.1L881.0 432.1L882.5 415.1L884.0 391.1L885.5 368.1L888.8 354.0L892.7 354.0L896.0 348.3L899.6 339.0L902.9 343.8L905.0 371.1L907.4 401.1L909.0 415.1L911.0 438.1L913.0 466.1L916.5 476.1L920.0 476.1L923.0 492.6L926.5 492.6L929.5 491.6L933.0 502.1L936.5 506.6L940.0 499.1L943.5 503.6L947.0 509.1L950.5 512.6L954.0 508.6L957.0 502.6L961.0 499.1L965.0 496.6L971.0 502.1L981.0 502.1L984.2 497.6L991.2 508.1L998.0 502.1L1001.5 497.1L1005.0 489.6L1011.5 479.6L1015.0 485.1L1018.2 488.6L1021.8 494.6L1024.8 490.6L1028.2 497.6L1031.8 485.1L1035.0 481.6L1038.5 477.1L1042.0 471.6L1045.5 463.1L1049.0 462.6L1055.5 460.1L1058.8 469.1L1062.0 463.1L1065.5 456.6L1069.0 455.6L1072.5 461.6L1075.8 463.1L1079.0 460.1L1086.0 450.1L1093.0 438.6L1099.5 428.6L1106.5 437.1L1110.0 443.6L1113.5 452.1L1116.5 461.1L1119.8 470.6L1123.0 464.6L1126.5 467.1L1130.0 465.1L1133.5 464.1L1136.8 452.6L1140.0 452.6L1143.5 458.1L1146.8 457.1L1150.5 462.1L1154.0 467.1L1157.5 469.1L1161.0 467.1L1165.0 462.6L1168.5 453.1L1172.0 448.1L1175.0 446.6L1178.5 447.1L1184.5 451.1L1187.5 449.9L1191.0 454.1L1197.0 462.1L1201.5 464.6L1208.0 468.6L1214.0 467.6L1218.0 467.6L1221.5 473.6L1225.0 478.1L1228.5 486.6L1231.8 491.6L1235.0 481.1L1238.5 476.6L1242.0 473.6L1245.5 469.1L1249.0 463.1L1255.5 451.6L1259.0 451.1L1262.0 444.1L1265.5 442.6L1269.0 457.1L1272.5 461.1L1276.0 466.6L1279.0 471.1L1282.5 473.1L1286.0 472.1L1289.5 476.1L1293.0 482.1L1296.0 489.1L1299.5 492.1L1303.0 499.1L1306.5 502.6L1310.0 506.1L1313.5 508.1L1317.0 506.1L1320.0 503.1L1323.5 497.6L1326.5 498.6L1330.0 493.1L1333.5 494.1L1337.0 494.6L1340.0 486.9L1343.5 491.1L1347.0 495.6L1350.5 493.1L1354.0 492.6L1357.5 484.1L1361.0 476.1L1365.0 470.1L1367.5 464.6L1371.0 463.1L1374.0 461.6L1377.5 455.1L1381.0 441.1L1384.5 422.9L1387.8 422.9L1391.2 427.6L1394.5 433.1L1397.5 431.6L1401.0 445.1L1404.5 468.1L1408.0 477.1L1411.5 488.1L1414.5 500.1L1418.0 505.1L1421.5 507.1L1425.0 509.1L1428.2 512.6L1431.8 503.6L1435.0 497.6L1438.5 495.6L1442.0 491.6L1445.5 488.6L1449.0 487.1L1455.5 487.1L1459.0 492.6L1462.0 495.6L1465.5 491.6L1469.0 502.1L1472.5 502.1L1475.5 500.1L1479.0 493.6L1482.5 484.1L1486.0 483.6L1489.5 480.1L1493.0 475.6L1496.2 466.1L1499.5 465.6L1503.0 464.3L1506.5 466.1L1509.8 470.1L1513.5 470.6L1516.5 473.1L1520.0 476.1L1523.5 478.1L1526.5 473.6L1530.0 473.6L1533.5 478.1L1536.8 476.1L1540.0 472.6L1543.5 473.6L1546.8 470.6L1550.5 473.6L1553.8 476.6L1557.0 470.1L1560.5 464.1L1565.0 462.1L1567.5 460.1L1570.5 464.1L1574.0 471.6L1577.5 469.6L1581.0 467.1L1584.0 463.1L1587.5 454.1L1591.0 454.6L1594.5 456.1L1597.5 457.1L1601.0 450.1L1604.5 449.1L1608.0 446.1L1611.0 438.1L1614.5 433.1L1618.0 398.6L1621.5 391.1L1624.8 391.1L1628.2 379.1L1631.5 382.1L1635.0 397.1L1638.5 408.1L1642.0 427.1L1645.5 441.1L1648.5 451.1L1652.0 461.1L1655.5 467.6L1659.0 473.1L1662.0 477.1L1665.5 481.1L1669.0 482.6L1672.5 478.1L1676.0 478.1L1679.0 480.6L1682.5 477.6L1686.0 474.1L1689.5 465.1L1692.8 461.1L1696.0 465.1L1699.5 469.6L1703.0 473.1L1706.5 475.1L1710.0 479.6L1713.5 484.1L1716.5 483.6L1719.8 473.6L1723.0 474.6L1726.5 471.6L1730.0 470.1L1733.5 468.6L1737.0 467.9L1740.0 466.6L1743.0 458.1L1746.5 448.1L1750.0 449.1L1753.0 448.1L1756.8 454.1L1760.0 445.1L1763.5 443.6L1767.0 453.6L1770.5 452.1L1774.0 449.6L1777.5 455.1L1780.5 461.6L1784.0 463.6L1787.0 457.6L1790.5 460.1L1794.0 456.1L1797.5 455.6L1801.0 454.1L1804.0 457.1L1807.5 463.1L1811.0 472.1L1814.5 470.6L1817.5 470.6L1821.0 477.1L1824.5 482.1L1828.0 487.1L1831.5 493.1L1835.0 499.6L1838.5 505.6L1842.0 497.1L1845.0 486.6L1848.5 478.6L1852.0 476.6L1855.0 475.1L1858.5 478.1L1862.0 472.1L1865.0 483.6L1868.5 491.1L1872.0 495.6L1875.0 494.6" fill="none" stroke="#000" stroke-width="2.7" stroke-linejoin="round" stroke-linecap="butt"/>
<path d="M171.1 814.4L174.5 812.9L177.9 811.4L181.3 809.9L184.7 809.9L188.0 809.9L191.4 809.9L194.8 808.4L198.2 808.4L201.6 808.4L205.0 808.4L208.4 806.9L211.8 806.9L215.2 806.9L218.5 806.9L221.9 806.9L225.3 806.9L228.7 806.9L232.1 806.9L235.5 806.9L238.9 806.9L242.3 806.9L245.7 805.4L249.0 805.4L252.4 803.9L255.8 803.9L259.2 803.9L262.6 803.9L266.0 803.9L269.4 803.9L272.8 803.9L276.1 803.9L279.5 803.9L282.9 803.9L286.3 803.9L289.7 802.4L293.1 802.4L296.5 802.4L299.9 800.9L303.3 800.9L306.6 800.9L310.0 800.9L313.4 800.9L316.8 800.9L320.2 799.4L323.6 799.4L327.0 799.4L330.4 799.4L333.8 799.4L337.1 799.4L340.5 799.4L343.9 799.4L347.3 797.9L350.7 797.9L354.1 797.9L357.5 797.9L360.9 797.9L364.3 796.4L367.6 796.4L371.0 796.4L374.4 796.4L377.8 796.4L381.2 796.4L384.6 796.4L388.0 796.4L391.4 796.4L394.8 796.4L398.1 796.4L401.5 794.9L404.9 794.9L408.3 794.9L411.7 794.9L415.1 794.9L418.5 794.9L421.9 794.9L425.3 794.9L428.6 794.9L432.0 794.9L435.4 794.9L438.8 793.4L442.2 793.4L445.6 793.4L449.0 793.4L452.4 793.4L455.7 793.4L459.1 793.4L462.5 793.4L465.9 793.4L469.3 793.4L472.7 793.4L476.1 793.4L479.5 793.4L482.9 791.9L486.2 791.9L489.6 791.9L493.0 791.9L496.4 791.9L499.8 791.9L503.2 791.9L506.6 791.9L510.0 791.9L513.4 791.9L516.7 791.9L520.1 791.9L523.5 791.9L526.9 790.4L530.3 790.4L533.7 790.4L537.1 790.4L540.5 790.4L543.9 790.4L547.2 788.9L550.6 788.9L554.0 788.9L557.4 788.9L560.8 788.9L564.2 788.9L567.6 788.9L571.0 788.9L574.4 788.9L577.7 788.9L581.1 788.9L584.5 788.9L587.9 788.9L591.3 787.4L594.7 787.4L598.1 787.4L601.5 787.4L604.8 787.4L608.2 787.4L611.6 787.4L615.0 787.4L618.4 787.4L621.8 787.4L625.2 787.4L628.6 785.9L632.0 785.9L635.3 785.9L638.7 785.9L642.1 785.9L645.5 785.9L648.9 785.9L652.3 785.9L655.7 785.9L659.1 785.9L662.5 785.9L665.8 784.4L669.2 784.4L672.6 784.4L676.0 784.4L679.4 784.4L682.8 784.4L686.2 784.4L689.6 784.4L693.0 782.9L696.3 782.9L699.7 782.9L703.1 782.9L706.5 782.9L709.9 782.9L713.3 782.9L716.7 782.9L720.1 781.4L723.5 781.4L726.8 781.4L730.2 781.4L733.6 781.4L737.0 781.4L740.4 781.4L743.8 781.4L747.2 779.9L750.6 779.9L754.0 779.9L757.3 779.9L760.7 779.9L764.1 779.9L767.5 779.9L770.9 779.9L774.3 778.4L777.7 778.4L781.1 778.4L784.4 778.4L787.8 778.4L791.2 778.4L794.6 778.4L798.0 778.4L801.4 778.4L804.8 778.4L808.2 778.4L811.6 778.4L814.9 778.4L818.3 778.4L821.7 778.4L825.1 776.9L828.5 776.9L831.9 776.9L835.3 776.9L838.7 776.9L842.1 776.9L845.4 776.9L848.8 776.9L852.2 776.9L855.6 776.9L859.0 776.9L862.4 776.9L865.8 776.9L869.2 776.9L872.6 775.4L875.9 775.4L879.3 775.4L882.7 775.4L886.1 775.4L889.5 775.4L892.9 775.4L896.3 775.4L899.7 775.4L903.1 775.4L906.4 775.4L909.8 775.4L913.2 775.4L916.6 775.4L920.0 775.4L923.4 775.4L926.8 773.9L930.2 773.9L933.6 773.9L936.9 773.9L940.3 773.9L943.7 773.9L947.1 773.9L950.5 773.9L953.9 773.9L957.3 773.9L960.7 773.9L964.0 773.9L967.4 773.9L970.8 773.9L974.2 772.4L977.6 772.4L981.0 772.4L984.4 772.4L987.8 772.4L991.2 772.4L994.5 772.4L997.9 772.4L1001.3 772.4L1004.7 772.4L1008.1 772.4L1011.5 772.4L1014.9 772.4L1018.3 770.9L1021.7 770.9L1025.0 770.9L1028.4 770.9L1031.8 770.9L1035.2 770.9L1038.6 770.9L1042.0 770.9L1045.4 770.9L1048.8 770.9L1052.2 770.9L1055.5 770.9L1058.9 770.9L1062.3 770.9L1065.7 769.4L1069.1 769.4L1072.5 769.4L1075.9 769.4L1079.3 769.4L1082.7 769.4L1086.0 769.4L1089.4 769.4L1092.8 769.4L1096.2 769.4L1099.6 769.4L1103.0 769.4L1106.4 769.4L1109.8 767.9L1113.1 767.9L1116.5 767.9L1119.9 767.9L1123.3 767.9L1126.7 767.9L1130.1 767.9L1133.5 767.9L1136.9 767.9L1140.3 767.9L1143.6 767.9L1147.0 767.9L1150.4 767.9L1153.8 767.9L1157.2 767.9L1160.6 766.4L1164.0 766.4L1167.4 766.4L1170.8 766.4L1174.1 766.4L1177.5 766.4L1180.9 766.4L1184.3 766.4L1187.7 766.4L1191.1 764.9L1194.5 764.9L1197.9 764.9L1201.3 764.9L1204.6 764.9L1208.0 764.9L1211.4 764.9L1214.8 764.9L1218.2 764.9L1221.6 764.9L1225.0 764.9L1228.4 764.9L1231.8 764.9L1235.1 764.9L1238.5 764.9L1241.9 764.9L1245.3 764.9L1248.7 763.4L1252.1 763.4L1255.5 763.4L1258.9 763.4L1262.3 763.4L1265.6 763.4L1269.0 763.4L1272.4 763.4L1275.8 763.4L1279.2 763.4L1282.6 763.4L1286.0 763.4L1289.4 763.4L1292.7 763.4L1296.1 763.4L1299.5 763.4L1302.9 761.9L1306.3 761.9L1309.7 761.9L1313.1 761.9L1316.5 761.9L1319.9 761.9L1323.2 761.9L1326.6 761.9L1330.0 761.9L1333.4 761.9L1336.8 761.9L1340.2 761.9L1343.6 760.4L1347.0 760.4L1350.4 760.4L1353.7 760.4L1357.1 760.4L1360.5 760.4L1363.9 760.4L1367.3 760.4L1370.7 760.4L1374.1 760.4L1377.5 758.9L1380.9 758.9L1384.2 758.9L1387.6 758.9L1391.0 758.9L1394.4 758.9L1397.8 758.9L1401.2 758.9L1404.6 758.9L1408.0 758.9L1411.4 758.9L1414.7 758.9L1418.1 757.4L1421.5 757.4L1424.9 757.4L1428.3 757.4L1431.7 757.4L1435.1 757.4L1438.5 757.4L1441.9 757.4L1445.2 757.4L1448.6 757.4L1452.0 757.4L1455.4 757.4L1458.8 757.4L1462.2 755.9L1465.6 755.9L1469.0 755.9L1472.3 755.9L1475.7 755.9L1479.1 755.9L1482.5 755.9L1485.9 755.9L1489.3 755.9L1492.7 755.9L1496.1 755.9L1499.5 755.9L1502.8 755.9L1506.2 755.9L1509.6 755.9L1513.0 755.9L1516.4 755.9L1519.8 755.9L1523.2 754.4L1526.6 754.4L1530.0 754.4L1533.3 754.4L1536.7 754.4L1540.1 752.9L1543.5 752.9L1546.9 752.9L1550.3 752.9L1553.7 752.9L1557.1 752.9L1560.5 752.9L1563.8 751.4L1567.2 751.4L1570.6 751.4L1574.0 751.4L1577.4 751.4L1580.8 751.4L1584.2 751.4L1587.6 751.4L1591.0 751.4L1594.3 751.4L1597.7 749.9L1601.1 749.9L1604.5 749.9L1607.9 749.9L1611.3 749.9L1614.7 749.9L1618.1 749.9L1621.4 748.4L1624.8 748.4L1628.2 748.4L1631.6 746.9L1635.0 746.9L1638.4 745.4L1641.8 745.4L1645.2 745.4L1648.6 745.4L1651.9 745.4L1655.3 745.4L1658.7 745.4L1662.1 743.9L1665.5 743.9L1668.9 743.9L1672.3 743.9L1675.7 743.9L1679.1 742.4L1682.4 742.4L1685.8 742.4L1689.2 742.4L1692.6 740.9L1696.0 740.9L1699.4 739.4L1702.8 739.4L1706.2 739.4L1709.6 739.4L1712.9 739.4L1716.3 739.4L1719.7 739.4L1723.1 737.9L1726.5 737.9L1729.9 736.4L1733.3 736.4L1736.7 736.4L1740.1 734.9L1743.4 734.9L1746.8 733.4L1750.2 733.4L1753.6 733.4L1757.0 733.4L1760.4 733.4L1763.8 733.4L1767.2 733.4L1770.6 731.9L1773.9 731.9L1777.3 730.4L1780.7 730.4L1784.1 728.9L1787.5 727.4L1790.9 725.9L1794.3 725.9L1797.7 724.4L1801.0 724.4L1804.4 722.9L1807.8 719.9L1811.2 718.4L1814.6 718.4L1818.0 712.4L1821.4 709.4L1824.8 707.9L1828.2 704.9L1831.5 703.4L1834.9 698.9L1838.3 698.9L1841.7 692.9L1845.1 691.4L1848.5 689.9L1851.9 683.9L1855.3 680.9L1858.7 665.9L1862.0 655.4L1865.4 655.4L1868.8 649.4L1872.2 646.4L1875.6 640.4" fill="none" stroke="#000" stroke-width="2.6" stroke-linejoin="round" stroke-linecap="butt"/>
<path d="M171.1 1115.5L174.5 1114.0L177.9 1112.5L181.3 1111.0L184.7 1111.0L188.0 1111.0L191.4 1111.0L194.8 1109.5L198.2 1109.5L201.6 1109.5L205.0 1109.5L208.4 1108.0L211.8 1108.0L215.2 1108.0L218.5 1108.0L221.9 1108.0L225.3 1108.0L228.7 1108.0L232.1 1108.0L235.5 1108.0L238.9 1108.0L242.3 1108.0L245.7 1106.5L249.0 1106.5L252.4 1105.0L255.8 1105.0L259.2 1105.0L262.6 1105.0L266.0 1105.0L269.4 1105.0L272.8 1105.0L276.1 1105.0L279.5 1105.0L282.9 1105.0L286.3 1105.0L289.7 1103.5L293.1 1103.5L296.5 1103.5L299.9 1102.0L303.3 1102.0L306.6 1102.0L310.0 1102.0L313.4 1102.0L316.8 1102.0L320.2 1100.5L323.6 1100.5L327.0 1100.5L330.4 1100.5L333.8 1100.5L337.1 1100.5L340.5 1100.5L343.9 1100.5L347.3 1099.0L350.7 1099.0L354.1 1099.0L357.5 1099.0L360.9 1099.0L364.3 1097.5L367.6 1097.5L371.0 1097.5L374.4 1097.5L377.8 1097.5L381.2 1097.5L384.6 1097.5L388.0 1097.5L391.4 1097.5L394.8 1097.5L398.1 1097.5L401.5 1096.0L404.9 1096.0L408.3 1096.0L411.7 1096.0L415.1 1096.0L418.5 1096.0L421.9 1096.0L425.3 1096.0L428.6 1096.0L432.0 1096.0L435.4 1096.0L438.8 1094.5L442.2 1094.5L445.6 1094.5L449.0 1094.5L452.4 1094.5L455.7 1094.5L459.1 1094.5L462.5 1094.5L465.9 1094.5L469.3 1094.5L472.7 1094.5L476.1 1094.5L479.5 1094.5L482.9 1093.0L486.2 1093.0L489.6 1093.0L493.0 1093.0L496.4 1093.0L499.8 1093.0L503.2 1093.0L506.6 1093.0L510.0 1093.0L513.4 1093.0L516.7 1093.0L520.1 1093.0L523.5 1093.0L526.9 1091.5L530.3 1091.5L533.7 1091.5L537.1 1091.5L540.5 1091.5L543.9 1091.5L547.2 1090.0L550.6 1090.0L554.0 1090.0L557.4 1090.0L560.8 1090.0L564.2 1090.0L567.6 1090.0L571.0 1090.0L574.4 1090.0L577.7 1090.0L581.1 1090.0L584.5 1090.0L587.9 1090.0L591.3 1088.5L594.7 1088.5L598.1 1088.5L601.5 1088.5L604.8 1088.5L608.2 1088.5L611.6 1088.5L615.0 1088.5L618.4 1088.5L621.8 1088.5L625.2 1088.5L628.6 1087.0L632.0 1087.0L635.3 1087.0L638.7 1087.0L642.1 1087.0L645.5 1087.0L648.9 1087.0L652.3 1087.0L655.7 1087.0L659.1 1087.0L662.5 1087.0L665.8 1085.5L669.2 1085.5L672.6 1085.5L676.0 1085.5L679.4 1085.5L682.8 1085.5L686.2 1085.5L689.6 1085.5L693.0 1084.0L696.3 1084.0L699.7 1084.0L703.1 1084.0L706.5 1084.0L709.9 1084.0L713.3 1084.0L716.7 1084.0L720.1 1082.5L723.5 1082.5L726.8 1082.5L730.2 1082.5L733.6 1082.5L737.0 1082.5L740.4 1082.5L743.8 1082.5L747.2 1081.0L750.6 1081.0L754.0 1081.0L757.3 1081.0L760.7 1081.0L764.1 1081.0L767.5 1081.0L770.9 1081.0L774.3 1079.5L777.7 1079.5L781.1 1079.5L784.4 1079.5L787.8 1079.5L791.2 1079.5L794.6 1079.5L798.0 1079.5L801.4 1079.5L804.8 1079.5L808.2 1079.5L811.6 1079.5L814.9 1079.5L818.3 1079.5L821.7 1079.5L825.1 1078.0L828.5 1078.0L831.9 1078.0L835.3 1078.0L838.7 1078.0L842.1 1078.0L845.4 1078.0L848.8 1078.0L852.2 1078.0L855.6 1078.0L859.0 1078.0L862.4 1078.0L865.8 1078.0L869.2 1078.0L872.6 1076.5L875.9 1076.5L879.3 1076.5L882.7 1076.5L886.1 1076.5L889.5 1076.5L892.9 1076.5L896.3 1076.5L899.7 1076.5L903.1 1076.5L906.4 1076.5L909.8 1076.5L913.2 1076.5L916.6 1076.5L920.0 1076.5L923.4 1076.5L926.8 1075.0L930.2 1075.0L933.6 1075.0L936.9 1075.0L940.3 1075.0L943.7 1075.0L947.1 1075.0L950.5 1075.0L953.9 1075.0L957.3 1075.0L960.7 1075.0L964.0 1075.0L967.4 1075.0L970.8 1075.0L974.2 1073.5L977.6 1073.5L981.0 1073.5L984.4 1073.5L987.8 1073.5L991.2 1073.5L994.5 1073.5L997.9 1073.5L1001.3 1073.5L1004.7 1073.5L1008.1 1073.5L1011.5 1073.5L1014.9 1073.5L1018.3 1072.0L1021.7 1072.0L1025.0 1072.0L1028.4 1072.0L1031.8 1072.0L1035.2 1072.0L1038.6 1072.0L1042.0 1072.0L1045.4 1072.0L1048.8 1072.0L1052.2 1072.0L1055.5 1072.0L1058.9 1072.0L1062.3 1072.0L1065.7 1070.5L1069.1 1070.5L1072.5 1070.5L1075.9 1070.5L1079.3 1070.5L1082.7 1070.5L1086.0 1070.5L1089.4 1070.5L1092.8 1070.5L1096.2 1070.5L1099.6 1070.5L1103.0 1070.5L1106.4 1070.5L1109.8 1069.0L1113.1 1069.0L1116.5 1069.0L1119.9 1069.0L1123.3 1069.0L1126.7 1069.0L1130.1 1069.0L1133.5 1069.0L1136.9 1069.0L1140.3 1069.0L1143.6 1069.0L1147.0 1069.0L1150.4 1069.0L1153.8 1069.0L1157.2 1069.0L1160.6 1067.5L1164.0 1067.5L1167.4 1067.5L1170.8 1067.5L1174.1 1067.5L1177.5 1067.5L1180.9 1067.5L1184.3 1067.5L1187.7 1067.5L1191.1 1066.0L1194.5 1066.0L1197.9 1066.0L1201.3 1066.0L1204.6 1066.0L1208.0 1066.0L1211.4 1066.0L1214.8 1066.0L1218.2 1066.0L1221.6 1066.0L1225.0 1066.0L1228.4 1066.0L1231.8 1066.0L1235.1 1066.0L1238.5 1066.0L1241.9 1066.0L1245.3 1066.0L1248.7 1064.5L1252.1 1064.5L1255.5 1064.5L1258.9 1064.5L1262.3 1064.5L1265.6 1064.5L1269.0 1064.5L1272.4 1064.5L1275.8 1064.5L1279.2 1064.5L1282.6 1064.5L1286.0 1064.5L1289.4 1064.5L1292.7 1064.5L1296.1 1064.5L1299.5 1064.5L1302.9 1063.0L1306.3 1063.0L1309.7 1063.0L1313.1 1063.0L1316.5 1063.0L1319.9 1063.0L1323.2 1063.0L1326.6 1063.0L1330.0 1063.0L1333.4 1063.0L1336.8 1063.0L1340.2 1063.0L1343.6 1061.5L1347.0 1061.5L1350.4 1061.5L1353.7 1061.5L1357.1 1061.5L1360.5 1061.5L1363.9 1061.5L1367.3 1061.5L1370.7 1061.5L1374.1 1061.5L1377.5 1060.0L1380.9 1060.0L1384.2 1060.0L1387.6 1060.0L1391.0 1060.0L1394.4 1060.0L1397.8 1060.0L1401.2 1060.0L1404.6 1060.0L1408.0 1060.0L1411.4 1060.0L1414.7 1060.0L1418.1 1058.5L1421.5 1058.5L1424.9 1058.5L1428.3 1058.5L1431.7 1058.5L1435.1 1058.5L1438.5 1058.5L1441.9 1058.5L1445.2 1058.5L1448.6 1058.5L1452.0 1058.5L1455.4 1058.5L1458.8 1058.5L1462.2 1057.0L1465.6 1057.0L1469.0 1057.0L1472.3 1057.0L1475.7 1057.0L1479.1 1057.0L1482.5 1057.0L1485.9 1057.0L1489.3 1057.0L1492.7 1057.0L1496.1 1057.0L1499.5 1057.0L1502.8 1057.0L1506.2 1057.0L1509.6 1057.0L1513.0 1057.0L1516.4 1057.0L1519.8 1057.0L1523.2 1055.5L1526.6 1055.5L1530.0 1055.5L1533.3 1055.5L1536.7 1055.5L1540.1 1054.0L1543.5 1054.0L1546.9 1054.0L1550.3 1054.0L1553.7 1054.0L1557.1 1054.0L1560.5 1054.0L1563.8 1052.5L1567.2 1052.5L1570.6 1052.5L1574.0 1052.5L1577.4 1052.5L1580.8 1052.5L1584.2 1052.5L1587.6 1052.5L1591.0 1052.5L1594.3 1052.5L1597.7 1051.0L1601.1 1051.0L1604.5 1051.0L1607.9 1051.0L1611.3 1051.0L1614.7 1051.0L1618.1 1051.0L1621.4 1049.5L1624.8 1049.5L1628.2 1049.5L1631.6 1048.0L1635.0 1048.0L1638.4 1046.5L1641.8 1046.5L1645.2 1046.5L1648.6 1046.5L1651.9 1046.5L1655.3 1046.5L1658.7 1046.5L1662.1 1045.0L1665.5 1045.0L1668.9 1045.0L1672.3 1045.0L1675.7 1045.0L1679.1 1043.5L1682.4 1043.5L1685.8 1043.5L1689.2 1043.5L1692.6 1042.0L1696.0 1042.0L1699.4 1040.5L1702.8 1040.5L1706.2 1040.5L1709.6 1040.5L1712.9 1040.5L1716.3 1040.5L1719.7 1040.5L1723.1 1039.0L1726.5 1039.0L1729.9 1037.5L1733.3 1037.5L1736.7 1037.5L1740.1 1036.0L1743.4 1036.0L1746.8 1034.5L1750.2 1034.5L1753.6 1034.5L1757.0 1034.5L1760.4 1034.5L1763.8 1034.5L1767.2 1034.5L1770.6 1033.0L1773.9 1033.0L1777.3 1031.5L1780.7 1031.5L1784.1 1030.0L1787.5 1028.5L1790.9 1027.0L1794.3 1027.0L1797.7 1025.5L1801.0 1025.5L1804.4 1024.0L1807.8 1021.0L1811.2 1019.5L1814.6 1019.5L1818.0 1013.5L1821.4 1010.5L1824.8 1009.0L1828.2 1006.0L1831.5 1004.5L1834.9 1000.0L1838.3 1000.0L1841.7 994.0L1845.1 992.5L1848.5 991.0L1851.9 985.0L1855.3 982.0L1858.7 967.0L1862.0 956.5L1865.4 956.5L1868.8 950.5L1872.2 947.5L1875.6 941.5" fill="none" stroke="#000" stroke-width="2.6" stroke-linejoin="round" stroke-linecap="butt"/>
<path d="M171.1 1416.6L174.5 1415.1L177.9 1413.6L181.3 1412.1L184.7 1412.1L188.0 1412.1L191.4 1412.1L194.8 1410.6L198.2 1410.6L201.6 1410.6L205.0 1410.6L208.4 1409.1L211.8 1409.1L215.2 1409.1L218.5 1409.1L221.9 1409.1L225.3 1409.1L228.7 1409.1L232.1 1409.1L235.5 1409.1L238.9 1409.1L242.3 1409.1L245.7 1407.6L249.0 1407.6L252.4 1406.1L255.8 1406.1L259.2 1406.1L262.6 1406.1L266.0 1406.1L269.4 1406.1L272.8 1406.1L276.1 1406.1L279.5 1406.1L282.9 1406.1L286.3 1406.1L289.7 1404.6L293.1 1404.6L296.5 1404.6L299.9 1403.1L303.3 1403.1L306.6 1403.1L310.0 1403.1L313.4 1403.1L316.8 1403.1L320.2 1401.6L323.6 1401.6L327.0 1401.6L330.4 1401.6L333.8 1401.6L337.1 1401.6L340.5 1401.6L343.9 1401.6L347.3 1400.1L350.7 1400.1L354.1 1400.1L357.5 1400.1L360.9 1400.1L364.3 1398.6L367.6 1398.6L371.0 1398.6L374.4 1398.6L377.8 1398.6L381.2 1398.6L384.6 1398.6L388.0 1398.6L391.4 1398.6L394.8 1398.6L398.1 1398.6L401.5 1397.1L404.9 1397.1L408.3 1397.1L411.7 1397.1L415.1 1397.1L418.5 1397.1L421.9 1397.1L425.3 1397.1L428.6 1397.1L432.0 1397.1L435.4 1397.1L438.8 1395.6L442.2 1395.6L445.6 1395.6L449.0 1395.6L452.4 1395.6L455.7 1395.6L459.1 1395.6L462.5 1395.6L465.9 1395.6L469.3 1395.6L472.7 1395.6L476.1 1395.6L479.5 1395.6L482.9 1394.1L486.2 1394.1L489.6 1394.1L493.0 1394.1L496.4 1394.1L499.8 1394.1L503.2 1394.1L506.6 1394.1L510.0 1394.1L513.4 1394.1L516.7 1394.1L520.1 1394.1L523.5 1394.1L526.9 1392.6L530.3 1392.6L533.7 1392.6L537.1 1392.6L540.5 1392.6L543.9 1392.6L547.2 1391.1L550.6 1391.1L554.0 1391.1L557.4 1391.1L560.8 1391.1L564.2 1391.1L567.6 1391.1L571.0 1391.1L574.4 1391.1L577.7 1391.1L581.1 1391.1L584.5 1391.1L587.9 1391.1L591.3 1389.6L594.7 1389.6L598.1 1389.6L601.5 1389.6L604.8 1389.6L608.2 1389.6L611.6 1389.6L615.0 1389.6L618.4 1389.6L621.8 1389.6L625.2 1389.6L628.6 1388.1L632.0 1388.1L635.3 1388.1L638.7 1388.1L642.1 1388.1L645.5 1388.1L648.9 1388.1L652.3 1388.1L655.7 1388.1L659.1 1388.1L662.5 1388.1L665.8 1386.6L669.2 1386.6L672.6 1386.6L676.0 1386.6L679.4 1386.6L682.8 1386.6L686.2 1386.6L689.6 1386.6L693.0 1385.1L696.3 1385.1L699.7 1385.1L703.1 1385.1L706.5 1385.1L709.9 1385.1L713.3 1385.1L716.7 1385.1L720.1 1383.6L723.5 1383.6L726.8 1383.6L730.2 1383.6L733.6 1383.6L737.0 1383.6L740.4 1383.6L743.8 1383.6L747.2 1382.1L750.6 1382.1L754.0 1382.1L757.3 1382.1L760.7 1382.1L764.1 1382.1L767.5 1382.1L770.9 1382.1L774.3 1380.6L777.7 1380.6L781.1 1380.6L784.4 1380.6L787.8 1380.6L791.2 1380.6L794.6 1380.6L798.0 1380.6L801.4 1380.6L804.8 1380.6L808.2 1380.6L811.6 1380.6L814.9 1380.6L818.3 1380.6L821.7 1380.6L825.1 1379.1L828.5 1379.1L831.9 1379.1L835.3 1379.1L838.7 1379.1L842.1 1379.1L845.4 1379.1L848.8 1379.1L852.2 1379.1L855.6 1379.1L859.0 1379.1L862.4 1379.1L865.8 1379.1L869.2 1379.1L872.6 1377.6L875.9 1377.6L879.3 1377.6L882.7 1377.6L886.1 1377.6L889.5 1377.6L892.9 1377.6L896.3 1377.6L899.7 1377.6L903.1 1377.6L906.4 1377.6L909.8 1377.6L913.2 1377.6L916.6 1377.6L920.0 1377.6L923.4 1377.6L926.8 1376.1L930.2 1376.1L933.6 1376.1L936.9 1376.1L940.3 1376.1L943.7 1376.1L947.1 1376.1L950.5 1376.1L953.9 1376.1L957.3 1376.1L960.7 1376.1L964.0 1376.1L967.4 1376.1L970.8 1376.1L974.2 1374.6L977.6 1374.6L981.0 1374.6L984.4 1374.6L987.8 1374.6L991.2 1374.6L994.5 1374.6L997.9 1374.6L1001.3 1374.6L1004.7 1374.6L1008.1 1374.6L1011.5 1374.6L1014.9 1374.6L1018.3 1373.1L1021.7 1373.1L1025.0 1373.1L1028.4 1373.1L1031.8 1373.1L1035.2 1373.1L1038.6 1373.1L1042.0 1373.1L1045.4 1373.1L1048.8 1373.1L1052.2 1373.1L1055.5 1373.1L1058.9 1373.1L1062.3 1373.1L1065.7 1371.6L1069.1 1371.6L1072.5 1371.6L1075.9 1371.6L1079.3 1371.6L1082.7 1371.6L1086.0 1371.6L1089.4 1371.6L1092.8 1371.6L1096.2 1371.6L1099.6 1371.6L1103.0 1371.6L1106.4 1371.6L1109.8 1370.1L1113.1 1370.1L1116.5 1370.1L1119.9 1370.1L1123.3 1370.1L1126.7 1370.1L1130.1 1370.1L1133.5 1370.1L1136.9 1370.1L1140.3 1370.1L1143.6 1370.1L1147.0 1370.1L1150.4 1370.1L1153.8 1370.1L1157.2 1370.1L1160.6 1368.6L1164.0 1368.6L1167.4 1368.6L1170.8 1368.6L1174.1 1368.6L1177.5 1368.6L1180.9 1368.6L1184.3 1368.6L1187.7 1368.6L1191.1 1367.1L1194.5 1367.1L1197.9 1367.1L1201.3 1367.1L1204.6 1367.1L1208.0 1367.1L1211.4 1367.1L1214.8 1367.1L1218.2 1367.1L1221.6 1367.1L1225.0 1367.1L1228.4 1367.1L1231.8 1367.1L1235.1 1367.1L1238.5 1367.1L1241.9 1367.1L1245.3 1367.1L1248.7 1365.6L1252.1 1365.6L1255.5 1365.6L1258.9 1365.6L1262.3 1365.6L1265.6 1365.6L1269.0 1365.6L1272.4 1365.6L1275.8 1365.6L1279.2 1365.6L1282.6 1365.6L1286.0 1365.6L1289.4 1365.6L1292.7 1365.6L1296.1 1365.6L1299.5 1365.6L1302.9 1364.1L1306.3 1364.1L1309.7 1364.1L1313.1 1364.1L1316.5 1364.1L1319.9 1364.1L1323.2 1364.1L1326.6 1364.1L1330.0 1364.1L1333.4 1364.1L1336.8 1364.1L1340.2 1364.1L1343.6 1362.6L1347.0 1362.6L1350.4 1362.6L1353.7 1362.6L1357.1 1362.6L1360.5 1362.6L1363.9 1362.6L1367.3 1362.6L1370.7 1362.6L1374.1 1362.6L1377.5 1361.1L1380.9 1361.1L1384.2 1361.1L1387.6 1361.1L1391.0 1361.1L1394.4 1361.1L1397.8 1361.1L1401.2 1361.1L1404.6 1361.1L1408.0 1361.1L1411.4 1361.1L1414.7 1361.1L1418.1 1359.6L1421.5 1359.6L1424.9 1359.6L1428.3 1359.6L1431.7 1359.6L1435.1 1359.6L1438.5 1359.6L1441.9 1359.6L1445.2 1359.6L1448.6 1359.6L1452.0 1359.6L1455.4 1359.6L1458.8 1359.6L1462.2 1358.1L1465.6 1358.1L1469.0 1358.1L1472.3 1358.1L1475.7 1358.1L1479.1 1358.1L1482.5 1358.1L1485.9 1358.1L1489.3 1358.1L1492.7 1358.1L1496.1 1358.1L1499.5 1358.1L1502.8 1358.1L1506.2 1358.1L1509.6 1358.1L1513.0 1358.1L1516.4 1358.1L1519.8 1358.1L1523.2 1356.6L1526.6 1356.6L1530.0 1356.6L1533.3 1356.6L1536.7 1356.6L1540.1 1355.1L1543.5 1355.1L1546.9 1355.1L1550.3 1355.1L1553.7 1355.1L1557.1 1355.1L1560.5 1355.1L1563.8 1353.6L1567.2 1353.6L1570.6 1353.6L1574.0 1353.6L1577.4 1353.6L1580.8 1353.6L1584.2 1353.6L1587.6 1353.6L1591.0 1353.6L1594.3 1353.6L1597.7 1352.1L1601.1 1352.1L1604.5 1352.1L1607.9 1352.1L1611.3 1352.1L1614.7 1352.1L1618.1 1352.1L1621.4 1350.6L1624.8 1350.6L1628.2 1350.6L1631.6 1349.1L1635.0 1349.1L1638.4 1347.6L1641.8 1347.6L1645.2 1347.6L1648.6 1347.6L1651.9 1347.6L1655.3 1347.6L1658.7 1347.6L1662.1 1346.1L1665.5 1346.1L1668.9 1346.1L1672.3 1346.1L1675.7 1346.1L1679.1 1344.6L1682.4 1344.6L1685.8 1344.6L1689.2 1344.6L1692.6 1343.1L1696.0 1343.1L1699.4 1341.6L1702.8 1341.6L1706.2 1341.6L1709.6 1341.6L1712.9 1341.6L1716.3 1341.6L1719.7 1341.6L1723.1 1340.1L1726.5 1340.1L1729.9 1338.6L1733.3 1338.6L1736.7 1338.6L1740.1 1337.1L1743.4 1337.1L1746.8 1335.6L1750.2 1335.6L1753.6 1335.6L1757.0 1335.6L1760.4 1335.6L1763.8 1335.6L1767.2 1335.6L1770.6 1334.1L1773.9 1334.1L1777.3 1332.6L1780.7 1332.6L1784.1 1331.1L1787.5 1329.6L1790.9 1328.1L1794.3 1328.1L1797.7 1326.6L1801.0 1326.6L1804.4 1325.1L1807.8 1322.1L1811.2 1320.6L1814.6 1320.6L1818.0 1314.6L1821.4 1311.6L1824.8 1310.1L1828.2 1307.1L1831.5 1305.6L1834.9 1301.1L1838.3 1301.1L1841.7 1295.1L1845.1 1293.6L1848.5 1292.1L1851.9 1286.1L1855.3 1283.1L1858.7 1268.1L1862.0 1257.6L1865.4 1257.6L1868.8 1251.6L1872.2 1248.6L1875.6 1242.6" fill="none" stroke="#000" stroke-width="2.6" stroke-linejoin="round" stroke-linecap="butt"/>
<path d="M171.1 1717.7L174.5 1716.2L177.9 1714.7L181.3 1713.2L184.7 1713.2L188.0 1713.2L191.4 1713.2L194.8 1711.7L198.2 1711.7L201.6 1711.7L205.0 1711.7L208.4 1710.2L211.8 1710.2L215.2 1710.2L218.5 1710.2L221.9 1710.2L225.3 1710.2L228.7 1710.2L232.1 1710.2L235.5 1710.2L238.9 1710.2L242.3 1710.2L245.7 1708.7L249.0 1708.7L252.4 1707.2L255.8 1707.2L259.2 1707.2L262.6 1707.2L266.0 1707.2L269.4 1707.2L272.8 1707.2L276.1 1707.2L279.5 1707.2L282.9 1707.2L286.3 1707.2L289.7 1705.7L293.1 1705.7L296.5 1705.7L299.9 1704.2L303.3 1704.2L306.6 1704.2L310.0 1704.2L313.4 1704.2L316.8 1704.2L320.2 1702.7L323.6 1702.7L327.0 1702.7L330.4 1702.7L333.8 1702.7L337.1 1702.7L340.5 1702.7L343.9 1702.7L347.3 1701.2L350.7 1701.2L354.1 1701.2L357.5 1701.2L360.9 1701.2L364.3 1699.7L367.6 1699.7L371.0 1699.7L374.4 1699.7L377.8 1699.7L381.2 1699.7L384.6 1699.7L388.0 1699.7L391.4 1699.7L394.8 1699.7L398.1 1699.7L401.5 1698.2L404.9 1698.2L408.3 1698.2L411.7 1698.2L415.1 1698.2L418.5 1698.2L421.9 1698.2L425.3 1698.2L428.6 1698.2L432.0 1698.2L435.4 1698.2L438.8 1696.7L442.2 1696.7L445.6 1696.7L449.0 1696.7L452.4 1696.7L455.7 1696.7L459.1 1696.7L462.5 1696.7L465.9 1696.7L469.3 1696.7L472.7 1696.7L476.1 1696.7L479.5 1696.7L482.9 1695.2L486.2 1695.2L489.6 1695.2L493.0 1695.2L496.4 1695.2L499.8 1695.2L503.2 1695.2L506.6 1695.2L510.0 1695.2L513.4 1695.2L516.7 1695.2L520.1 1695.2L523.5 1695.2L526.9 1693.7L530.3 1693.7L533.7 1693.7L537.1 1693.7L540.5 1693.7L543.9 1693.7L547.2 1692.2L550.6 1692.2L554.0 1692.2L557.4 1692.2L560.8 1692.2L564.2 1692.2L567.6 1692.2L571.0 1692.2L574.4 1692.2L577.7 1692.2L581.1 1692.2L584.5 1692.2L587.9 1692.2L591.3 1690.7L594.7 1690.7L598.1 1690.7L601.5 1690.7L604.8 1690.7L608.2 1690.7L611.6 1690.7L615.0 1690.7L618.4 1690.7L621.8 1690.7L625.2 1690.7L628.6 1689.2L632.0 1689.2L635.3 1689.2L638.7 1689.2L642.1 1689.2L645.5 1689.2L648.9 1689.2L652.3 1689.2L655.7 1689.2L659.1 1689.2L662.5 1689.2L665.8 1687.7L669.2 1687.7L672.6 1687.7L676.0 1687.7L679.4 1687.7L682.8 1687.7L686.2 1687.7L689.6 1687.7L693.0 1686.2L696.3 1686.2L699.7 1686.2L703.1 1686.2L706.5 1686.2L709.9 1686.2L713.3 1686.2L716.7 1686.2L720.1 1684.7L723.5 1684.7L726.8 1684.7L730.2 1684.7L733.6 1684.7L737.0 1684.7L740.4 1684.7L743.8 1684.7L747.2 1683.2L750.6 1683.2L754.0 1683.2L757.3 1683.2L760.7 1683.2L764.1 1683.2L767.5 1683.2L770.9 1683.2L774.3 1681.7L777.7 1681.7L781.1 1681.7L784.4 1681.7L787.8 1681.7L791.2 1681.7L794.6 1681.7L798.0 1681.7L801.4 1681.7L804.8 1681.7L808.2 1681.7L811.6 1681.7L814.9 1681.7L818.3 1681.7L821.7 1681.7L825.1 1680.2L828.5 1680.2L831.9 1680.2L835.3 1680.2L838.7 1680.2L842.1 1680.2L845.4 1680.2L848.8 1680.2L852.2 1680.2L855.6 1680.2L859.0 1680.2L862.4 1680.2L865.8 1680.2L869.2 1680.2L872.6 1678.7L875.9 1678.7L879.3 1678.7L882.7 1678.7L886.1 1678.7L889.5 1678.7L892.9 1678.7L896.3 1678.7L899.7 1678.7L903.1 1678.7L906.4 1678.7L909.8 1678.7L913.2 1678.7L916.6 1678.7L920.0 1678.7L923.4 1678.7L926.8 1677.2L930.2 1677.2L933.6 1677.2L936.9 1677.2L940.3 1677.2L943.7 1677.2L947.1 1677.2L950.5 1677.2L953.9 1677.2L957.3 1677.2L960.7 1677.2L964.0 1677.2L967.4 1677.2L970.8 1677.2L974.2 1675.7L977.6 1675.7L981.0 1675.7L984.4 1675.7L987.8 1675.7L991.2 1675.7L994.5 1675.7L997.9 1675.7L1001.3 1675.7L1004.7 1675.7L1008.1 1675.7L1011.5 1675.7L1014.9 1675.7L1018.3 1674.2L1021.7 1674.2L1025.0 1674.2L1028.4 1674.2L1031.8 1674.2L1035.2 1674.2L1038.6 1674.2L1042.0 1674.2L1045.4 1674.2L1048.8 1674.2L1052.2 1674.2L1055.5 1674.2L1058.9 1674.2L1062.3 1674.2L1065.7 1672.7L1069.1 1672.7L1072.5 1672.7L1075.9 1672.7L1079.3 1672.7L1082.7 1672.7L1086.0 1672.7L1089.4 1672.7L1092.8 1672.7L1096.2 1672.7L1099.6 1672.7L1103.0 1672.7L1106.4 1672.7L1109.8 1671.2L1113.1 1671.2L1116.5 1671.2L1119.9 1671.2L1123.3 1671.2L1126.7 1671.2L1130.1 1671.2L1133.5 1671.2L1136.9 1671.2L1140.3 1671.2L1143.6 1671.2L1147.0 1671.2L1150.4 1671.2L1153.8 1671.2L1157.2 1671.2L1160.6 1669.7L1164.0 1669.7L1167.4 1669.7L1170.8 1669.7L1174.1 1669.7L1177.5 1669.7L1180.9 1669.7L1184.3 1669.7L1187.7 1669.7L1191.1 1668.2L1194.5 1668.2L1197.9 1668.2L1201.3 1668.2L1204.6 1668.2L1208.0 1668.2L1211.4 1668.2L1214.8 1668.2L1218.2 1668.2L1221.6 1668.2L1225.0 1668.2L1228.4 1668.2L1231.8 1668.2L1235.1 1668.2L1238.5 1668.2L1241.9 1668.2L1245.3 1668.2L1248.7 1666.7L1252.1 1666.7L1255.5 1666.7L1258.9 1666.7L1262.3 1666.7L1265.6 1666.7L1269.0 1666.7L1272.4 1666.7L1275.8 1666.7L1279.2 1666.7L1282.6 1666.7L1286.0 1666.7L1289.4 1666.7L1292.7 1666.7L1296.1 1666.7L1299.5 1666.7L1302.9 1665.2L1306.3 1665.2L1309.7 1665.2L1313.1 1665.2L1316.5 1665.2L1319.9 1665.2L1323.2 1665.2L1326.6 1665.2L1330.0 1665.2L1333.4 1665.2L1336.8 1665.2L1340.2 1665.2L1343.6 1663.7L1347.0 1663.7L1350.4 1663.7L1353.7 1663.7L1357.1 1663.7L1360.5 1663.7L1363.9 1663.7L1367.3 1663.7L1370.7 1663.7L1374.1 1663.7L1377.5 1662.2L1380.9 1662.2L1384.2 1662.2L1387.6 1662.2L1391.0 1662.2L1394.4 1662.2L1397.8 1662.2L1401.2 1662.2L1404.6 1662.2L1408.0 1662.2L1411.4 1662.2L1414.7 1662.2L1418.1 1660.7L1421.5 1660.7L1424.9 1660.7L1428.3 1660.7L1431.7 1660.7L1435.1 1660.7L1438.5 1660.7L1441.9 1660.7L1445.2 1660.7L1448.6 1660.7L1452.0 1660.7L1455.4 1660.7L1458.8 1660.7L1462.2 1659.2L1465.6 1659.2L1469.0 1659.2L1472.3 1659.2L1475.7 1659.2L1479.1 1659.2L1482.5 1659.2L1485.9 1659.2L1489.3 1659.2L1492.7 1659.2L1496.1 1659.2L1499.5 1659.2L1502.8 1659.2L1506.2 1659.2L1509.6 1659.2L1513.0 1659.2L1516.4 1659.2L1519.8 1659.2L1523.2 1657.7L1526.6 1657.7L1530.0 1657.7L1533.3 1657.7L1536.7 1657.7L1540.1 1656.2L1543.5 1656.2L1546.9 1656.2L1550.3 1656.2L1553.7 1656.2L1557.1 1656.2L1560.5 1656.2L1563.8 1654.7L1567.2 1654.7L1570.6 1654.7L1574.0 1654.7L1577.4 1654.7L1580.8 1654.7L1584.2 1654.7L1587.6 1654.7L1591.0 1654.7L1594.3 1654.7L1597.7 1653.2L1601.1 1653.2L1604.5 1653.2L1607.9 1653.2L1611.3 1653.2L1614.7 1653.2L1618.1 1653.2L1621.4 1651.7L1624.8 1651.7L1628.2 1651.7L1631.6 1650.2L1635.0 1650.2L1638.4 1648.7L1641.8 1648.7L1645.2 1648.7L1648.6 1648.7L1651.9 1648.7L1655.3 1648.7L1658.7 1648.7L1662.1 1647.2L1665.5 1647.2L1668.9 1647.2L1672.3 1647.2L1675.7 1647.2L1679.1 1645.7L1682.4 1645.7L1685.8 1645.7L1689.2 1645.7L1692.6 1644.2L1696.0 1644.2L1699.4 1642.7L1702.8 1642.7L1706.2 1642.7L1709.6 1642.7L1712.9 1642.7L1716.3 1642.7L1719.7 1642.7L1723.1 1641.2L1726.5 1641.2L1729.9 1639.7L1733.3 1639.7L1736.7 1639.7L1740.1 1638.2L1743.4 1638.2L1746.8 1636.7L1750.2 1636.7L1753.6 1636.7L1757.0 1636.7L1760.4 1636.7L1763.8 1636.7L1767.2 1636.7L1770.6 1635.2L1773.9 1635.2L1777.3 1633.7L1780.7 1633.7L1784.1 1632.2L1787.5 1630.7L1790.9 1629.2L1794.3 1629.2L1797.7 1627.7L1801.0 1627.7L1804.4 1626.2L1807.8 1623.2L1811.2 1621.7L1814.6 1621.7L1818.0 1615.7L1821.4 1612.7L1824.8 1611.2L1828.2 1608.2L1831.5 1606.7L1834.9 1602.2L1838.3 1602.2L1841.7 1596.2L1845.1 1594.7L1848.5 1593.2L1851.9 1587.2L1855.3 1584.2L1858.7 1569.2L1862.0 1558.7L1865.4 1558.7L1868.8 1552.7L1872.2 1549.7L1875.6 1543.7" fill="none" stroke="#000" stroke-width="2.6" stroke-linejoin="round" stroke-linecap="butt"/>
<clipPath id="cl3"><rect x="171.10" y="919.00" width="1704.50" height="240.60"/></clipPath>
<g clip-path="url(#cl3)" fill="none" stroke-width="1.7">
<circle cx="222.3" cy="976.8" r="7.7" stroke="#00008b"/>
<circle cx="218.8" cy="1023.4" r="7.7" stroke="#00008b"/>
<circle cx="245.7" cy="1026.5" r="4.9" stroke="#00008b"/>
<circle cx="242.2" cy="1044.0" r="6.6" stroke="#00008b"/>
<circle cx="255.9" cy="1054.5" r="7.3" stroke="#00008b"/>
<circle cx="272.7" cy="1050.7" r="4.5" stroke="#00008b"/>
<circle cx="337.0" cy="1025.0" r="7.0" stroke="#00008b"/>
<circle cx="445.2" cy="926.0" r="3.8" stroke="#00008b"/>
<circle cx="476.0" cy="918.7" r="4.5" stroke="#00008b"/>
<circle cx="523.3" cy="926.0" r="3.5" stroke="#00008b"/>
<circle cx="577.9" cy="927.8" r="3.2" stroke="#00008b"/>
<circle cx="652.0" cy="957.6" r="3.0" stroke="#00008b"/>
<circle cx="594.3" cy="1045.8" r="4.2" stroke="#00008b"/>
<circle cx="686.0" cy="1027.9" r="3.5" stroke="#00008b"/>
<circle cx="1414.8" cy="952.0" r="3.2" stroke="#000"/>
<circle cx="1418.0" cy="993.6" r="2.5" stroke="#000"/>
<circle cx="1533.5" cy="929.2" r="2.4" stroke="#1c7c1c"/>
<circle cx="1448.8" cy="1083.2" r="3.4" stroke="#1c7c1c"/>
<circle cx="1475.7" cy="1074.5" r="3.0" stroke="#1c7c1c"/>
<circle cx="1503.0" cy="1072.7" r="4.0" stroke="#1c7c1c"/>
<circle cx="1547.1" cy="1066.8" r="2.8" stroke="#1c7c1c"/>
<circle cx="1577.6" cy="1050.7" r="3.3" stroke="#1c7c1c"/>
<circle cx="1679.0" cy="1047.9" r="4.0" stroke="#000"/>
<circle cx="1723.2" cy="1053.1" r="5.0" stroke="#1c7c1c"/>
<circle cx="1767.3" cy="1042.6" r="4.5" stroke="#000"/>
<circle cx="1787.6" cy="1043.0" r="6.3" stroke="#1c7c1c"/>
<circle cx="1794.2" cy="1035.3" r="6.5" stroke="#000"/>
<circle cx="1828.5" cy="927.5" r="6.0" stroke="#000"/>
<circle cx="1838.3" cy="1011.5" r="9.0" stroke="#000"/>
<circle cx="1871.2" cy="959.0" r="7.5" stroke="#000"/>
</g>
<clipPath id="cl5"><rect x="171.10" y="1521.20" width="1704.50" height="240.60"/></clipPath>
<g clip-path="url(#cl5)" fill="none" stroke-width="1.7">
<circle cx="222.3" cy="1579.0" r="7.7" stroke="#00008b"/>
<circle cx="218.8" cy="1625.6" r="7.7" stroke="#00008b"/>
<circle cx="245.7" cy="1628.7" r="4.9" stroke="#00008b"/>
<circle cx="242.2" cy="1646.2" r="6.6" stroke="#00008b"/>
<circle cx="255.9" cy="1656.7" r="7.3" stroke="#00008b"/>
<circle cx="272.7" cy="1652.9" r="4.5" stroke="#00008b"/>
<circle cx="337.0" cy="1627.2" r="7.0" stroke="#00008b"/>
<circle cx="445.2" cy="1528.2" r="3.8" stroke="#00008b"/>
<circle cx="476.0" cy="1520.9" r="4.5" stroke="#00008b"/>
<circle cx="523.3" cy="1528.2" r="3.5" stroke="#00008b"/>
<circle cx="577.9" cy="1530.0" r="3.2" stroke="#00008b"/>
<circle cx="652.0" cy="1559.8" r="3.0" stroke="#00008b"/>
<circle cx="594.3" cy="1648.0" r="4.2" stroke="#00008b"/>
<circle cx="686.0" cy="1630.1" r="3.5" stroke="#00008b"/>
<circle cx="1414.8" cy="1554.2" r="3.2" stroke="#000"/>
<circle cx="1418.0" cy="1595.8" r="2.5" stroke="#000"/>
<circle cx="1533.5" cy="1531.4" r="2.4" stroke="#1c7c1c"/>
<circle cx="1448.8" cy="1685.4" r="3.4" stroke="#1c7c1c"/>
<circle cx="1475.7" cy="1676.7" r="3.0" stroke="#1c7c1c"/>
<circle cx="1503.0" cy="1674.9" r="4.0" stroke="#1c7c1c"/>
<circle cx="1547.1" cy="1669.0" r="2.8" stroke="#1c7c1c"/>
<circle cx="1577.6" cy="1652.9" r="3.3" stroke="#1c7c1c"/>
<circle cx="1679.0" cy="1650.1" r="4.0" stroke="#000"/>
<circle cx="1723.2" cy="1655.3" r="5.0" stroke="#1c7c1c"/>
<circle cx="1767.3" cy="1644.8" r="4.5" stroke="#000"/>
<circle cx="1787.6" cy="1645.2" r="6.3" stroke="#1c7c1c"/>
<circle cx="1794.2" cy="1637.5" r="6.5" stroke="#000"/>
<circle cx="1828.5" cy="1529.7" r="6.0" stroke="#000"/>
<circle cx="1838.3" cy="1613.7" r="9.0" stroke="#000"/>
<circle cx="1871.2" cy="1561.2" r="7.5" stroke="#000"/>
</g>
<g font-family="'DejaVu Sans','Liberation Sans',sans-serif" font-size="26" fill="#000" text-rendering="geometricPrecision">
<text x="158.7" y="25.6" text-anchor="end">80W</text>
<text x="158.7" y="85.75" text-anchor="end">120W</text>
<text x="158.7" y="145.9" text-anchor="end">160W</text>
<text x="158.7" y="206.05" text-anchor="end">160E</text>
<text x="158.7" y="266.2" text-anchor="end">120E</text>
<text x="372.87" y="288.3" text-anchor="middle">1985</text>
<text x="576.27" y="288.3" text-anchor="middle">1990</text>
<text x="779.67" y="288.3" text-anchor="middle">1995</text>
<text x="983.07" y="288.3" text-anchor="middle">2000</text>
<text x="1186.47" y="288.3" text-anchor="middle">2005</text>
<text x="1389.87" y="288.3" text-anchor="middle">2010</text>
<text x="1593.27" y="288.3" text-anchor="middle">2015</text>
<text x="1796.67" y="288.3" text-anchor="middle">2020</text>
<rect x="1893.1" y="243.32" width="26.5" height="13.28" fill="#02020d"/>
<rect x="1893.1" y="230.63" width="26.5" height="13.28" fill="#0e0b2b"/>
<rect x="1893.1" y="217.95" width="26.5" height="13.28" fill="#1e1149"/>
<rect x="1893.1" y="205.26" width="26.5" height="13.28" fill="#341069"/>
<rect x="1893.1" y="192.58" width="26.5" height="13.28" fill="#4a1079"/>
<rect x="1893.1" y="179.89" width="26.5" height="13.28" fill="#601880"/>
<rect x="1893.1" y="167.21" width="26.5" height="13.28" fill="#752181"/>
<rect x="1893.1" y="154.53" width="26.5" height="13.28" fill="#8b2981"/>
<rect x="1893.1" y="141.84" width="26.5" height="13.28" fill="#a02f7f"/>
<rect x="1893.1" y="129.16" width="26.5" height="13.28" fill="#b63779"/>
<rect x="1893.1" y="116.47" width="26.5" height="13.28" fill="#ca3f71"/>
<rect x="1893.1" y="103.79" width="26.5" height="13.28" fill="#da4a68"/>
<rect x="1893.1" y="91.11" width="26.5" height="13.28" fill="#e55d5e"/>
<rect x="1893.1" y="78.42" width="26.5" height="13.28" fill="#ea745c"/>
<rect x="1893.1" y="65.74" width="26.5" height="13.28" fill="#ed8e64"/>
<rect x="1893.1" y="53.05" width="26.5" height="13.28" fill="#efa772"/>
<rect x="1893.1" y="40.37" width="26.5" height="13.28" fill="#f1c185"/>
<rect x="1893.1" y="27.68" width="26.5" height="13.28" fill="#f3d89a"/>
<rect x="1893.1" y="15" width="26.5" height="13.28" fill="#f5f2b4"/>
<path d="M1893.1 255.7V256.3L1906.35 268.6L1919.6 256.3V255.7z" fill="#000004"/>
<path d="M1893.1 15.9V15.3L1906.35 3L1919.6 15.3V15.9z" fill="#f6fdbf"/>
<path d="M1893.1 15.3L1906.35 3L1919.6 15.3L1919.6 256.3L1906.35 268.6L1893.1 256.3z" fill="none" stroke="#000" stroke-width="1.39" stroke-linejoin="miter"/>
<text x="1932" y="25.2">31</text>
<text x="1932" y="105.53">28</text>
<text x="1932" y="185.87">25</text>
<text x="1932" y="266.2">22</text>
<text transform="translate(1993.2 137.5) rotate(-90)" text-anchor="middle">C</text>
<path d="M165 15.7h6.1M165 75.85h6.1M165 136h6.1M165 196.15h6.1M165 256.3h6.1M372.87 256.3v6.1M576.27 256.3v6.1M779.67 256.3v6.1M983.07 256.3v6.1M1186.47 256.3v6.1M1389.87 256.3v6.1M1593.27 256.3v6.1M1796.67 256.3v6.1M1919.6 15.3h6.1M1919.6 95.63h6.1M1919.6 175.97h6.1M1919.6 256.3h6.1" stroke="#000" stroke-width="1.39" fill="none"/>
<rect x="171.1" y="15.7" width="1704.5" height="240.6" fill="none" stroke="#000" stroke-width="1.39"/>
<text transform="translate(69.8 136) rotate(-90)" text-anchor="middle">SST</text>
<text x="0.3" y="15.3" font-weight="bold" font-size="26">a</text>
<text x="158.7" y="326.7" text-anchor="end">80W</text>
<text x="158.7" y="386.85" text-anchor="end">120W</text>
<text x="158.7" y="447" text-anchor="end">160W</text>
<text x="158.7" y="507.15" text-anchor="end">160E</text>
<text x="158.7" y="567.3" text-anchor="end">120E</text>
<text x="372.87" y="589.4" text-anchor="middle">1985</text>
<text x="576.27" y="589.4" text-anchor="middle">1990</text>
<text x="779.67" y="589.4" text-anchor="middle">1995</text>
<text x="983.07" y="589.4" text-anchor="middle">2000</text>
<text x="1186.47" y="589.4" text-anchor="middle">2005</text>
<text x="1389.87" y="589.4" text-anchor="middle">2010</text>
<text x="1593.27" y="589.4" text-anchor="middle">2015</text>
<text x="1796.67" y="589.4" text-anchor="middle">2020</text>
<rect x="1893.1" y="542.04" width="26.5" height="15.66" fill="#0e4179"/>
<rect x="1893.1" y="526.98" width="26.5" height="15.66" fill="#1f63a8"/>
<rect x="1893.1" y="511.91" width="26.5" height="15.66" fill="#3480b9"/>
<rect x="1893.1" y="496.85" width="26.5" height="15.66" fill="#529dc8"/>
<rect x="1893.1" y="481.79" width="26.5" height="15.66" fill="#84bcd9"/>
<rect x="1893.1" y="466.72" width="26.5" height="15.66" fill="#aed3e6"/>
<rect x="1893.1" y="451.66" width="26.5" height="15.66" fill="#d4e6f1"/>
<rect x="1893.1" y="436.6" width="26.5" height="15.66" fill="#ecf2f5"/>
<rect x="1893.1" y="421.54" width="26.5" height="15.66" fill="#f7eee7"/>
<rect x="1893.1" y="406.47" width="26.5" height="15.66" fill="#f7dcc9"/>
<rect x="1893.1" y="391.41" width="26.5" height="15.66" fill="#f0bb9e"/>
<rect x="1893.1" y="376.35" width="26.5" height="15.66" fill="#e69677"/>
<rect x="1893.1" y="361.29" width="26.5" height="15.66" fill="#d66b55"/>
<rect x="1893.1" y="346.23" width="26.5" height="15.66" fill="#c33e3d"/>
<rect x="1893.1" y="331.16" width="26.5" height="15.66" fill="#aa162a"/>
<rect x="1893.1" y="316.1" width="26.5" height="15.66" fill="#7c0722"/>
<path d="M1893.1 556.8V557.4L1906.35 569.7L1919.6 557.4V556.8z" fill="#053061"/>
<path d="M1893.1 317V316.4L1906.35 304.1L1919.6 316.4V317z" fill="#67001f"/>
<path d="M1893.1 316.4L1906.35 304.1L1919.6 316.4L1919.6 557.4L1906.35 569.7L1893.1 557.4z" fill="none" stroke="#000" stroke-width="1.39" stroke-linejoin="miter"/>
<text x="1932" y="326.3">4</text>
<text x="1932" y="386.55">2</text>
<text x="1932" y="446.8">0</text>
<text x="1932" y="507.05">−2</text>
<text x="1932" y="567.3">−4</text>
<text transform="translate(1993.2 438.6) rotate(-90)" text-anchor="middle">C</text>
<path d="M165 316.8h6.1M165 376.95h6.1M165 437.1h6.1M165 497.25h6.1M165 557.4h6.1M372.87 557.4v6.1M576.27 557.4v6.1M779.67 557.4v6.1M983.07 557.4v6.1M1186.47 557.4v6.1M1389.87 557.4v6.1M1593.27 557.4v6.1M1796.67 557.4v6.1M1919.6 316.4h6.1M1919.6 376.65h6.1M1919.6 436.9h6.1M1919.6 497.15h6.1M1919.6 557.4h6.1" stroke="#000" stroke-width="1.39" fill="none"/>
<rect x="171.1" y="316.8" width="1704.5" height="240.6" fill="none" stroke="#000" stroke-width="1.39"/>
<text transform="translate(69.8 437.1) rotate(-90)" text-anchor="middle">SSTA</text>
<text x="0.3" y="316.4" font-weight="bold" font-size="26">b</text>
<text x="158.7" y="627.8" text-anchor="end">80W</text>
<text x="158.7" y="687.95" text-anchor="end">120W</text>
<text x="158.7" y="748.1" text-anchor="end">160W</text>
<text x="158.7" y="808.25" text-anchor="end">160E</text>
<text x="158.7" y="868.4" text-anchor="end">120E</text>
<text x="171.1" y="884" text-anchor="middle" font-size="17.4">0</text>
<text x="512.6" y="884" text-anchor="middle" font-size="17.4">20</text>
<text x="854.1" y="884" text-anchor="middle" font-size="17.4">40</text>
<text x="1195.6" y="884" text-anchor="middle" font-size="17.4">60</text>
<text x="1537.1" y="884" text-anchor="middle" font-size="17.4">80</text>
<rect x="1893.1" y="845.52" width="26.5" height="13.28" fill="#02020d"/>
<rect x="1893.1" y="832.83" width="26.5" height="13.28" fill="#0e0b2b"/>
<rect x="1893.1" y="820.15" width="26.5" height="13.28" fill="#1e1149"/>
<rect x="1893.1" y="807.46" width="26.5" height="13.28" fill="#341069"/>
<rect x="1893.1" y="794.78" width="26.5" height="13.28" fill="#4a1079"/>
<rect x="1893.1" y="782.09" width="26.5" height="13.28" fill="#601880"/>
<rect x="1893.1" y="769.41" width="26.5" height="13.28" fill="#752181"/>
<rect x="1893.1" y="756.73" width="26.5" height="13.28" fill="#8b2981"/>
<rect x="1893.1" y="744.04" width="26.5" height="13.28" fill="#a02f7f"/>
<rect x="1893.1" y="731.36" width="26.5" height="13.28" fill="#b63779"/>
<rect x="1893.1" y="718.67" width="26.5" height="13.28" fill="#ca3f71"/>
<rect x="1893.1" y="705.99" width="26.5" height="13.28" fill="#da4a68"/>
<rect x="1893.1" y="693.31" width="26.5" height="13.28" fill="#e55d5e"/>
<rect x="1893.1" y="680.62" width="26.5" height="13.28" fill="#ea745c"/>
<rect x="1893.1" y="667.94" width="26.5" height="13.28" fill="#ed8e64"/>
<rect x="1893.1" y="655.25" width="26.5" height="13.28" fill="#efa772"/>
<rect x="1893.1" y="642.57" width="26.5" height="13.28" fill="#f1c185"/>
<rect x="1893.1" y="629.88" width="26.5" height="13.28" fill="#f3d89a"/>
<rect x="1893.1" y="617.2" width="26.5" height="13.28" fill="#f5f2b4"/>
<path d="M1893.1 857.9V858.5L1906.35 870.8L1919.6 858.5V857.9z" fill="#000004"/>
<path d="M1893.1 618.1V617.5L1906.35 605.2L1919.6 617.5V618.1z" fill="#f6fdbf"/>
<path d="M1893.1 617.5L1906.35 605.2L1919.6 617.5L1919.6 858.5L1906.35 870.8L1893.1 858.5z" fill="none" stroke="#000" stroke-width="1.39" stroke-linejoin="miter"/>
<text x="1932" y="627.4">31</text>
<text x="1932" y="707.73">28</text>
<text x="1932" y="788.07">25</text>
<text x="1932" y="868.4">22</text>
<text transform="translate(1993.2 739.7) rotate(-90)" text-anchor="middle">C</text>
<path d="M165 617.9h6.1M165 678.05h6.1M165 738.2h6.1M165 798.35h6.1M165 858.5h6.1M171.1 858.5v6.1M512.6 858.5v6.1M854.1 858.5v6.1M1195.6 858.5v6.1M1537.1 858.5v6.1M1919.6 617.5h6.1M1919.6 697.83h6.1M1919.6 778.17h6.1M1919.6 858.5h6.1" stroke="#000" stroke-width="1.39" fill="none"/>
<rect x="171.1" y="617.9" width="1704.5" height="240.6" fill="none" stroke="#000" stroke-width="1.39"/>
<text transform="translate(69.8 738.2) rotate(-90)" text-anchor="middle">ORDERED SST</text>
<text x="0.3" y="617.5" font-weight="bold" font-size="26">c</text>
<text x="158.7" y="928.9" text-anchor="end">80W</text>
<text x="158.7" y="989.05" text-anchor="end">120W</text>
<text x="158.7" y="1049.2" text-anchor="end">160W</text>
<text x="158.7" y="1109.35" text-anchor="end">160E</text>
<text x="158.7" y="1169.5" text-anchor="end">120E</text>
<text x="171.1" y="1185.1" text-anchor="middle" font-size="17.4">0</text>
<text x="512.6" y="1185.1" text-anchor="middle" font-size="17.4">20</text>
<text x="854.1" y="1185.1" text-anchor="middle" font-size="17.4">40</text>
<text x="1195.6" y="1185.1" text-anchor="middle" font-size="17.4">60</text>
<text x="1537.1" y="1185.1" text-anchor="middle" font-size="17.4">80</text>
<rect x="1893.1" y="1144.24" width="26.5" height="15.66" fill="#0e4179"/>
<rect x="1893.1" y="1129.18" width="26.5" height="15.66" fill="#1f63a8"/>
<rect x="1893.1" y="1114.11" width="26.5" height="15.66" fill="#3480b9"/>
<rect x="1893.1" y="1099.05" width="26.5" height="15.66" fill="#529dc8"/>
<rect x="1893.1" y="1083.99" width="26.5" height="15.66" fill="#84bcd9"/>
<rect x="1893.1" y="1068.93" width="26.5" height="15.66" fill="#aed3e6"/>
<rect x="1893.1" y="1053.86" width="26.5" height="15.66" fill="#d4e6f1"/>
<rect x="1893.1" y="1038.8" width="26.5" height="15.66" fill="#ecf2f5"/>
<rect x="1893.1" y="1023.74" width="26.5" height="15.66" fill="#f7eee7"/>
<rect x="1893.1" y="1008.68" width="26.5" height="15.66" fill="#f7dcc9"/>
<rect x="1893.1" y="993.61" width="26.5" height="15.66" fill="#f0bb9e"/>
<rect x="1893.1" y="978.55" width="26.5" height="15.66" fill="#e69677"/>
<rect x="1893.1" y="963.49" width="26.5" height="15.66" fill="#d66b55"/>
<rect x="1893.1" y="948.43" width="26.5" height="15.66" fill="#c33e3d"/>
<rect x="1893.1" y="933.36" width="26.5" height="15.66" fill="#aa162a"/>
<rect x="1893.1" y="918.3" width="26.5" height="15.66" fill="#7c0722"/>
<path d="M1893.1 1159V1159.6L1906.35 1171.9L1919.6 1159.6V1159z" fill="#053061"/>
<path d="M1893.1 919.2V918.6L1906.35 906.3L1919.6 918.6V919.2z" fill="#67001f"/>
<path d="M1893.1 918.6L1906.35 906.3L1919.6 918.6L1919.6 1159.6L1906.35 1171.9L1893.1 1159.6z" fill="none" stroke="#000" stroke-width="1.39" stroke-linejoin="miter"/>
<text x="1932" y="928.5">4</text>
<text x="1932" y="988.75">2</text>
<text x="1932" y="1049">0</text>
<text x="1932" y="1109.25">−2</text>
<text x="1932" y="1169.5">−4</text>
<text transform="translate(1993.2 1040.8) rotate(-90)" text-anchor="middle">C</text>
<path d="M165 919h6.1M165 979.15h6.1M165 1039.3h6.1M165 1099.45h6.1M165 1159.6h6.1M171.1 1159.6v6.1M512.6 1159.6v6.1M854.1 1159.6v6.1M1195.6 1159.6v6.1M1537.1 1159.6v6.1M1919.6 918.6h6.1M1919.6 978.85h6.1M1919.6 1039.1h6.1M1919.6 1099.35h6.1M1919.6 1159.6h6.1" stroke="#000" stroke-width="1.39" fill="none"/>
<rect x="171.1" y="919" width="1704.5" height="240.6" fill="none" stroke="#000" stroke-width="1.39"/>
<text transform="translate(69.8 1039.3) rotate(-90)" text-anchor="middle">ORDERED SSTA</text>
<text x="0.3" y="918.6" font-weight="bold" font-size="26">d</text>
<text x="158.7" y="1230" text-anchor="end">80W</text>
<text x="158.7" y="1290.15" text-anchor="end">120W</text>
<text x="158.7" y="1350.3" text-anchor="end">160W</text>
<text x="158.7" y="1410.45" text-anchor="end">160E</text>
<text x="158.7" y="1470.6" text-anchor="end">120E</text>
<text x="171.1" y="1492.7" text-anchor="middle">0</text>
<text x="512.6" y="1492.7" text-anchor="middle">20</text>
<text x="854.1" y="1492.7" text-anchor="middle">40</text>
<text x="1195.6" y="1492.7" text-anchor="middle">60</text>
<text x="1537.1" y="1492.7" text-anchor="middle">80</text>
<rect x="1893.1" y="1447.72" width="26.5" height="13.28" fill="#02020d"/>
<rect x="1893.1" y="1435.03" width="26.5" height="13.28" fill="#0e0b2b"/>
<rect x="1893.1" y="1422.35" width="26.5" height="13.28" fill="#1e1149"/>
<rect x="1893.1" y="1409.66" width="26.5" height="13.28" fill="#341069"/>
<rect x="1893.1" y="1396.98" width="26.5" height="13.28" fill="#4a1079"/>
<rect x="1893.1" y="1384.29" width="26.5" height="13.28" fill="#601880"/>
<rect x="1893.1" y="1371.61" width="26.5" height="13.28" fill="#752181"/>
<rect x="1893.1" y="1358.93" width="26.5" height="13.28" fill="#8b2981"/>
<rect x="1893.1" y="1346.24" width="26.5" height="13.28" fill="#a02f7f"/>
<rect x="1893.1" y="1333.56" width="26.5" height="13.28" fill="#b63779"/>
<rect x="1893.1" y="1320.87" width="26.5" height="13.28" fill="#ca3f71"/>
<rect x="1893.1" y="1308.19" width="26.5" height="13.28" fill="#da4a68"/>
<rect x="1893.1" y="1295.51" width="26.5" height="13.28" fill="#e55d5e"/>
<rect x="1893.1" y="1282.82" width="26.5" height="13.28" fill="#ea745c"/>
<rect x="1893.1" y="1270.14" width="26.5" height="13.28" fill="#ed8e64"/>
<rect x="1893.1" y="1257.45" width="26.5" height="13.28" fill="#efa772"/>
<rect x="1893.1" y="1244.77" width="26.5" height="13.28" fill="#f1c185"/>
<rect x="1893.1" y="1232.08" width="26.5" height="13.28" fill="#f3d89a"/>
<rect x="1893.1" y="1219.4" width="26.5" height="13.28" fill="#f5f2b4"/>
<path d="M1893.1 1460.1V1460.7L1906.35 1473L1919.6 1460.7V1460.1z" fill="#000004"/>
<path d="M1893.1 1220.3V1219.7L1906.35 1207.4L1919.6 1219.7V1220.3z" fill="#f6fdbf"/>
<path d="M1893.1 1219.7L1906.35 1207.4L1919.6 1219.7L1919.6 1460.7L1906.35 1473L1893.1 1460.7z" fill="none" stroke="#000" stroke-width="1.39" stroke-linejoin="miter"/>
<text x="1932" y="1229.6">31</text>
<text x="1932" y="1309.93">28</text>
<text x="1932" y="1390.27">25</text>
<text x="1932" y="1470.6">22</text>
<text transform="translate(1993.2 1341.9) rotate(-90)" text-anchor="middle">C</text>
<path d="M165 1220.1h6.1M165 1280.25h6.1M165 1340.4h6.1M165 1400.55h6.1M165 1460.7h6.1M171.1 1460.7v6.1M512.6 1460.7v6.1M854.1 1460.7v6.1M1195.6 1460.7v6.1M1537.1 1460.7v6.1M1919.6 1219.7h6.1M1919.6 1300.03h6.1M1919.6 1380.37h6.1M1919.6 1460.7h6.1" stroke="#000" stroke-width="1.39" fill="none"/>
<rect x="171.1" y="1220.1" width="1704.5" height="240.6" fill="none" stroke="#000" stroke-width="1.39"/>
<text transform="translate(69.8 1340.4) rotate(-90)" text-anchor="middle">SMOOTHED SST</text>
<text x="0.3" y="1219.7" font-weight="bold" font-size="26">e</text>
<text x="158.7" y="1531.1" text-anchor="end">80W</text>
<text x="158.7" y="1591.25" text-anchor="end">120W</text>
<text x="158.7" y="1651.4" text-anchor="end">160W</text>
<text x="158.7" y="1711.55" text-anchor="end">160E</text>
<text x="158.7" y="1771.7" text-anchor="end">120E</text>
<text x="171.1" y="1793.8" text-anchor="middle">0</text>
<text x="512.6" y="1793.8" text-anchor="middle">20</text>
<text x="854.1" y="1793.8" text-anchor="middle">40</text>
<text x="1195.6" y="1793.8" text-anchor="middle">60</text>
<text x="1537.1" y="1793.8" text-anchor="middle">80</text>
<rect x="1893.1" y="1746.44" width="26.5" height="15.66" fill="#0e4179"/>
<rect x="1893.1" y="1731.38" width="26.5" height="15.66" fill="#1f63a8"/>
<rect x="1893.1" y="1716.31" width="26.5" height="15.66" fill="#3480b9"/>
<rect x="1893.1" y="1701.25" width="26.5" height="15.66" fill="#529dc8"/>
<rect x="1893.1" y="1686.19" width="26.5" height="15.66" fill="#84bcd9"/>
<rect x="1893.1" y="1671.12" width="26.5" height="15.66" fill="#aed3e6"/>
<rect x="1893.1" y="1656.06" width="26.5" height="15.66" fill="#d4e6f1"/>
<rect x="1893.1" y="1641" width="26.5" height="15.66" fill="#ecf2f5"/>
<rect x="1893.1" y="1625.94" width="26.5" height="15.66" fill="#f7eee7"/>
<rect x="1893.1" y="1610.88" width="26.5" height="15.66" fill="#f7dcc9"/>
<rect x="1893.1" y="1595.81" width="26.5" height="15.66" fill="#f0bb9e"/>
<rect x="1893.1" y="1580.75" width="26.5" height="15.66" fill="#e69677"/>
<rect x="1893.1" y="1565.69" width="26.5" height="15.66" fill="#d66b55"/>
<rect x="1893.1" y="1550.62" width="26.5" height="15.66" fill="#c33e3d"/>
<rect x="1893.1" y="1535.56" width="26.5" height="15.66" fill="#aa162a"/>
<rect x="1893.1" y="1520.5" width="26.5" height="15.66" fill="#7c0722"/>
<path d="M1893.1 1761.2V1761.8L1906.35 1774.1L1919.6 1761.8V1761.2z" fill="#053061"/>
<path d="M1893.1 1521.4V1520.8L1906.35 1508.5L1919.6 1520.8V1521.4z" fill="#67001f"/>
<path d="M1893.1 1520.8L1906.35 1508.5L1919.6 1520.8L1919.6 1761.8L1906.35 1774.1L1893.1 1761.8z" fill="none" stroke="#000" stroke-width="1.39" stroke-linejoin="miter"/>
<text x="1932" y="1530.7">4</text>
<text x="1932" y="1590.95">2</text>
<text x="1932" y="1651.2">0</text>
<text x="1932" y="1711.45">−2</text>
<text x="1932" y="1771.7">−4</text>
<text transform="translate(1993.2 1643) rotate(-90)" text-anchor="middle">C</text>
<path d="M165 1521.2h6.1M165 1581.35h6.1M165 1641.5h6.1M165 1701.65h6.1M165 1761.8h6.1M171.1 1761.8v6.1M512.6 1761.8v6.1M854.1 1761.8v6.1M1195.6 1761.8v6.1M1537.1 1761.8v6.1M1919.6 1520.8h6.1M1919.6 1581.05h6.1M1919.6 1641.3h6.1M1919.6 1701.55h6.1M1919.6 1761.8h6.1" stroke="#000" stroke-width="1.39" fill="none"/>
<rect x="171.1" y="1521.2" width="1704.5" height="240.6" fill="none" stroke="#000" stroke-width="1.39"/>
<text transform="translate(69.8 1641.5) rotate(-90)" text-anchor="middle">SMOOTHED SSTA</text>
<text x="0.3" y="1520.8" font-weight="bold" font-size="26">f</text>
<text x="1023.35" y="1825.6" text-anchor="middle">quantiles of warm pool edge position (%)</text>
</g>
</svg></body></html>
